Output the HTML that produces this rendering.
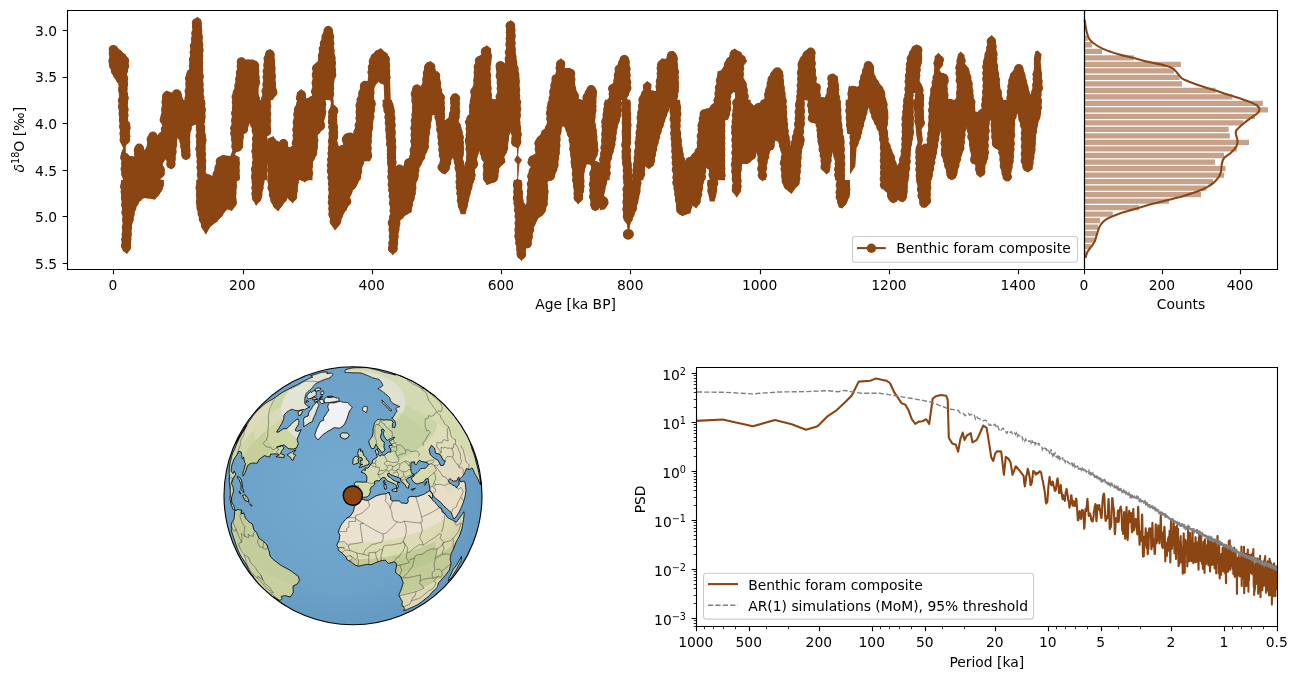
<!DOCTYPE html>
<html><head><meta charset="utf-8"><title>Benthic foram composite dashboard</title>
<style>html,body{margin:0;padding:0;background:#fff;width:1298px;height:679px;overflow:hidden}text{fill:#000}</style>
</head><body><svg width="1298" height="679" viewBox="0 0 1298 679" style="font-family:'DejaVu Sans','Liberation Sans',sans-serif;display:block"><clipPath id="cT"><rect x="60" y="0" width="1100" height="100.0"/></clipPath><clipPath id="cB"><rect x="60" y="180.0" width="1100" height="90.0"/></clipPath><clipPath id="cM"><rect x="60" y="99.7" width="1100" height="80.6"/></clipPath><g clip-path="url(#cT)"><path d="M109.2,49.5L111.6,46.2L114.4,46.2L119.3,49.5L125.0,54.3L128.5,60.1L128.5,67.8L127.0,73.6L127.9,83.2L127.0,90.9L128.5,98.6L127.0,106.3L128.5,114.0L127.9,119.8L130.4,123.6L129.9,133.3L130.4,140.0L119.3,140.0L119.6,125.6L119.3,117.9L120.2,112.1L118.9,106.3L119.3,90.9L118.3,83.2L115.4,79.3L111.6,71.6L109.2,65.9ZM148.2,140.0L148.2,135.2L152.0,131.7L156.8,135.2L158.7,133.3L161.2,125.6L161.6,117.9L162.0,98.6L163.6,92.8L166.4,90.5L172.2,92.8L175.1,89.9L179.9,90.9L182.8,98.6L184.7,102.4L186.3,73.6L189.0,69.7L190.5,48.5L192.1,33.1L193.4,20.6L197.3,16.7L201.1,19.6L202.1,29.3L203.0,48.5L203.0,69.7L204.0,110.2L205.0,117.9L204.0,125.6L205.5,133.3L206.9,140.0ZM231.0,140.0L231.0,125.6L232.9,110.2L232.5,94.7L234.8,87.0L237.1,67.8L237.7,60.1L241.6,57.2L246.4,60.5L252.2,59.7L257.0,62.0L258.9,65.9L259.5,83.2L258.3,90.9L259.5,100.5L261.8,102.4L262.8,87.0L264.1,58.2L266.6,50.4L270.5,49.1L274.3,54.3L275.3,67.8L275.7,83.2L276.2,94.7L272.4,100.5L271.4,133.3L275.3,137.1L275.7,140.0ZM292.6,140.0L293.6,125.6L294.5,108.2L297.4,92.8L301.3,89.0L305.1,92.8L306.1,98.6L311.9,96.7L312.8,67.8L314.8,64.9L317.6,62.0L319.6,48.5L321.5,38.9L324.4,29.3L328.2,25.4L332.1,28.3L333.4,35.0L334.0,48.5L335.4,60.1L335.9,75.5L334.0,81.3L333.1,104.4L337.9,108.2L336.9,117.9L337.9,125.6L336.9,140.0ZM341.7,140.0L343.1,135.2L347.5,133.3L350.0,133.3L350.0,140.0ZM350.0,140.0L350.0,133.3L354.8,131.3L355.8,125.6L355.8,100.5L358.7,94.7L360.6,85.1L364.4,81.3L368.3,81.3L368.3,67.8L370.8,56.2L375.0,52.0L380.8,48.1L385.6,52.4L389.5,57.2L390.1,79.3L390.8,100.5L393.9,106.3L395.3,117.9L395.8,140.0ZM410.7,140.0L411.6,90.9L413.6,86.1L417.4,84.2L421.6,88.0L424.2,67.8L426.7,62.4L430.9,61.0L434.7,65.9L435.7,72.0L439.6,73.6L441.5,90.9L444.4,96.7L444.8,117.9L448.6,116.9L450.2,98.6L452.5,93.8L456.3,93.2L459.8,97.6L458.8,108.2L461.3,125.6L463.6,130.4L464.0,140.0ZM465.2,140.0L464.6,121.7L468.5,116.9L470.4,112.1L471.0,90.9L473.3,86.7L474.2,67.8L476.2,58.2L481.0,55.3L482.5,48.5L486.7,45.2L491.0,48.5L491.6,60.1L490.2,67.8L491.6,96.7L492.9,100.5L496.0,99.6L497.3,90.9L496.4,73.6L496.0,64.9L500.2,61.0L504.1,63.0L505.0,67.8L506.0,48.5L506.6,24.4L510.8,20.0L515.1,24.4L515.3,48.5L517.2,63.9L519.5,77.4L519.9,106.3L520.5,125.6L521.8,140.0ZM536.8,140.0L537.8,135.2L542.6,134.2L544.5,125.6L546.5,112.1L548.4,106.3L550.3,89.0L552.2,77.4L556.1,74.5L557.0,62.0L560.9,58.2L564.8,62.0L564.8,68.7L570.0,67.8L574.4,72.6L575.3,87.0L578.2,94.7L579.2,102.4L579.6,114.0L581.5,110.2L583.1,96.7L587.9,87.0L592.3,85.7L596.5,90.9L596.5,110.2L597.5,123.6L598.8,140.0ZM601.9,140.0L602.3,119.8L604.8,104.4L608.7,100.5L609.2,87.0L613.5,82.2L615.4,67.8L619.3,62.0L620.8,57.2L624.7,54.7L628.9,58.2L629.9,67.8L630.8,89.0L628.9,94.7L627.0,98.6L628.9,102.4L630.8,125.6L631.2,140.0ZM635.6,140.0L637.6,121.7L639.5,96.7L643.3,90.9L642.8,85.1L647.2,80.9L651.6,84.2L651.0,90.9L655.9,90.9L656.8,77.4L657.8,63.9L661.6,58.2L666.4,59.1L668.4,53.3L672.8,50.8L677.0,55.3L678.0,67.8L679.0,87.0L677.0,102.4L676.1,106.3L679.9,112.1L680.9,140.0ZM697.3,140.0L699.2,115.0L704.0,112.1L707.9,107.8L712.7,109.2L714.6,98.6L716.5,83.2L717.5,71.6L722.3,69.7L725.2,62.0L729.4,56.2L731.0,50.4L734.8,48.5L739.1,51.4L743.5,56.2L747.3,61.0L743.5,65.9L743.5,79.3L746.4,83.2L748.3,98.6L749.3,112.1L752.2,105.3L757.9,102.4L763.7,105.3L764.7,94.7L768.5,77.4L773.3,69.7L779.1,67.8L783.0,71.6L783.9,83.2L785.9,98.6L786.4,117.9L787.8,129.4L788.8,140.0ZM793.6,140.0L794.5,117.9L796.5,100.5L797.4,87.0L798.0,62.0L801.3,57.2L805.7,50.4L810.9,47.6L814.8,51.4L815.3,67.8L816.7,83.2L819.6,85.1L820.5,96.7L825.3,97.6L828.2,87.0L828.2,77.4L833.1,73.2L837.9,76.4L838.8,90.9L839.8,106.3L840.8,125.6L842.7,140.0ZM845.6,140.0L846.5,117.9L848.5,87.0L850.0,85.1L850.0,140.0ZM850.0,140.0L850.0,87.0L853.9,86.1L858.7,87.0L860.6,77.4L863.5,67.8L865.4,63.0L869.3,61.6L873.1,64.9L874.7,75.5L877.9,81.3L880.8,85.1L884.7,90.9L885.6,100.5L886.6,110.2L888.1,125.6L889.5,140.0L880.8,140.0L878.9,133.3L875.0,117.9L870.2,110.2L868.3,104.4L865.4,114.0L861.6,125.6L858.7,140.0ZM902.0,140.0L903.0,114.0L904.9,94.7L906.2,67.8L907.8,56.2L912.6,47.6L916.4,44.3L921.6,47.6L922.2,60.1L920.3,67.8L919.7,81.3L922.8,87.0L923.2,92.8L924.2,102.4L924.2,123.6L928.0,123.6L929.4,117.9L929.9,94.7L933.8,75.5L934.7,56.2L938.6,52.8L943.4,58.2L942.4,65.9L939.6,69.7L941.5,73.6L946.3,74.5L948.6,77.4L947.3,87.0L948.2,96.7L949.2,110.2L953.0,108.2L955.9,102.4L956.9,87.0L955.9,67.8L957.9,54.3L960.7,51.4L964.6,55.3L964.6,63.9L968.5,67.8L970.4,75.5L972.3,83.2L973.3,94.7L975.2,106.3L978.1,115.9L981.0,110.2L982.9,90.9L982.9,67.8L983.9,58.2L986.7,48.5L987.7,38.9L991.6,35.0L995.4,38.9L996.4,48.5L997.3,63.9L999.3,77.4L1000.2,87.0L1002.2,96.7L1004.1,106.3L1006.0,110.2L1007.0,96.7L1007.9,87.0L1009.9,75.5L1013.7,69.7L1017.6,64.3L1022.4,65.9L1024.3,71.6L1026.2,79.3L1028.2,87.0L1030.1,94.7L1032.0,90.9L1033.0,83.2L1033.9,67.8L1033.9,58.2L1035.3,51.4L1037.8,50.4L1041.6,54.3L1040.7,62.0L1041.6,71.6L1042.6,87.0L1040.7,96.7L1041.6,110.2L1039.7,125.6L1037.8,140.0Z" fill="#8b4513"/><path d="M374.1,140.0L372.7,106.3L374.7,86.1L378.9,81.6L383.7,85.1L384.3,100.5L385.6,110.2L386.2,140.0ZM616.9,140.0L619.3,117.9L621.6,106.3L622.7,117.9L622.1,140.0ZM728.7,114.0L731.0,94.7L734.8,90.9L735.8,110.2L732.9,117.9ZM807.0,110.2L809.0,98.6L811.9,110.2L810.9,120.7L808.0,121.7ZM913.2,92.8L915.5,91.9L916.4,106.3L915.5,125.6L913.6,129.4L912.6,110.2Z" fill="#fff"/></g><g clip-path="url(#cB)"><path d="M120.8,140.0L120.8,157.3L121.6,170.8L120.8,186.2L121.6,203.6L122.7,220.9L121.6,244.0L122.7,250.7L127.0,254.0L130.8,248.8L131.8,226.7L134.7,211.3L138.5,202.6L142.4,198.7L146.2,197.8L150.5,198.7L154.9,199.7L159.7,193.9L162.6,189.1L163.6,186.2L164.5,168.9L166.4,167.0L171.3,169.3L174.2,161.2L175.1,145.8L177.0,143.9L177.0,140.0ZM130.4,140.0L130.8,149.6L133.7,148.7L136.6,143.9L144.3,143.9L146.2,140.0ZM179.9,140.0L180.9,151.6L182.8,158.3L185.7,159.3L189.0,156.4L189.6,140.0ZM195.9,140.0L196.3,205.5L198.2,214.2L202.1,228.6L205.9,234.8L210.2,226.7L215.6,222.8L219.4,219.0L223.3,214.2L227.1,209.3L231.9,210.9L235.8,205.5L237.7,163.1L239.1,149.6L242.5,147.7L243.5,140.0L232.9,140.0L231.9,156.4L228.1,159.3L224.2,155.0L220.4,157.3L216.5,161.2L214.6,172.7L210.7,175.6L207.5,168.9L206.9,140.0ZM251.2,140.0L252.2,197.8L256.0,205.9L260.8,199.7L263.3,188.2L266.0,163.1L268.5,188.2L269.9,197.8L273.3,206.4L278.2,211.6L283.0,204.5L287.8,197.8L292.6,203.6L296.8,197.8L299.3,174.7L300.3,140.0ZM300.3,140.0L301.3,174.7L304.2,182.8L309.0,178.5L311.9,165.0L313.4,140.0ZM328.2,140.0L328.8,213.2L331.1,224.7L335.0,230.5L339.8,224.7L343.1,215.1L350.0,203.6L350.0,140.0ZM350.0,140.0L350.0,197.8L352.9,190.1L356.7,186.2L359.6,178.5L361.6,165.0L365.4,161.2L370.2,159.3L371.6,151.6L371.2,140.0ZM387.0,140.0L388.5,184.3L390.4,213.2L388.5,222.8L389.5,236.3L388.5,249.8L392.8,255.6L397.2,249.8L398.2,236.3L400.5,219.9L405.9,215.1L411.6,212.2L412.6,203.6L415.5,193.9L416.4,182.4L417.8,174.7L421.3,163.1L426.1,151.6L429.0,145.8L429.0,140.0ZM436.7,140.0L437.6,165.0L440.5,172.7L445.3,174.7L449.2,169.9L450.2,163.1L455.0,163.1L456.3,184.3L457.9,205.5L460.7,214.2L465.6,214.2L467.5,205.5L470.4,193.9L473.3,182.4L475.2,176.6L476.2,165.0L479.0,153.5L481.0,147.7L483.3,143.9L482.9,159.3L483.3,178.5L486.7,185.3L491.6,183.3L497.3,180.4L499.3,167.0L502.2,165.0L505.0,161.2L504.1,155.4L507.9,151.6L509.5,140.0ZM512.2,140.0L513.7,145.8L514.7,159.3L513.7,182.4L513.7,201.6L515.6,217.0L514.7,236.3L517.6,255.6L521.4,261.3L525.3,255.6L526.2,247.9L531.0,245.9L533.9,226.7L537.8,219.0L544.5,213.2L547.4,203.6L548.4,192.0L547.4,182.4L551.3,178.5L554.2,174.7L557.0,167.0L559.0,157.3L560.9,147.7L559.9,140.0ZM570.5,140.0L571.5,168.9L573.4,186.2L574.4,199.7L578.2,204.5L582.1,199.7L584.0,186.2L585.9,165.0L589.8,163.1L589.8,197.8L591.7,209.3L595.6,211.3L600.0,207.4L600.0,140.0ZM600.0,140.0L600.0,210.3L604.8,209.3L608.7,203.6L606.7,197.8L603.9,195.9L607.7,178.5L608.7,159.3L613.5,151.6L616.4,145.8L616.4,140.0ZM621.6,140.0L622.1,155.4L624.1,167.0L624.1,178.5L623.1,197.8L623.1,217.0L627.0,224.7L628.1,230.5L628.9,230.5L630.8,222.8L635.6,211.3L638.5,199.7L640.4,190.1L642.4,168.9L646.2,165.0L650.1,169.9L653.9,163.1L656.8,151.6L659.7,145.8L659.7,140.0ZM672.2,140.0L673.2,182.4L675.1,197.8L677.0,211.3L681.9,216.1L690.5,213.2L692.4,205.5L696.3,208.4L700.2,202.6L702.1,192.0L704.0,178.5L706.9,170.8L707.9,192.0L709.8,201.6L714.6,201.6L716.5,193.9L717.9,178.5L719.4,159.3L721.0,147.7L721.3,140.0ZM731.9,140.0L732.5,168.9L732.9,192.0L736.7,197.8L740.6,192.0L742.1,168.9L744.5,163.1L749.3,164.1L754.1,159.3L757.0,154.4L757.9,163.1L758.9,178.5L762.8,181.4L766.0,176.6L766.6,167.0L769.5,159.3L772.4,147.7L775.3,143.9L775.3,140.0ZM778.2,140.0L780.1,159.3L781.0,178.5L783.9,186.2L787.8,191.0L791.6,193.9L795.5,188.2L799.3,184.3L800.3,168.9L801.3,151.6L805.1,140.0ZM819.6,140.0L821.5,159.3L823.4,170.8L826.9,174.7L830.2,169.9L832.1,155.4L835.0,151.6L836.5,174.7L836.5,197.8L838.8,207.4L842.3,208.4L847.5,201.6L850.0,193.9L850.0,140.0ZM850.0,140.0L850.0,178.5L851.9,170.8L856.7,166.0L854.8,159.3L857.7,151.6L861.6,143.9L861.6,140.0ZM879.3,140.0L880.8,159.3L880.8,186.2L886.6,192.0L888.5,199.7L893.3,203.6L898.2,199.7L903.0,202.6L906.8,197.8L907.8,184.3L908.7,159.3L910.7,147.7L912.6,140.0ZM915.5,140.0L915.5,163.1L918.4,197.8L921.3,207.4L926.1,207.4L930.5,201.6L930.9,178.5L932.8,163.1L936.7,151.6L937.6,140.0ZM940.5,140.0L941.5,151.6L946.3,165.0L948.2,174.7L952.1,180.4L956.9,174.7L958.8,163.1L961.7,155.4L963.6,140.0ZM969.8,140.0L971.3,155.4L976.2,167.0L977.1,174.7L980.6,177.6L984.8,172.7L984.8,163.1L987.7,157.3L988.7,140.0ZM991.6,140.0L992.1,145.8L998.3,149.6L1002.2,168.9L1005.0,178.5L1008.9,181.4L1012.8,176.6L1013.7,159.3L1014.7,140.0ZM1021.4,140.0L1023.3,151.6L1024.3,167.0L1028.2,172.7L1032.0,169.9L1033.9,159.3L1035.9,143.9L1036.4,140.0Z" fill="#8b4513"/><path d="M396.6,140.0L396.2,165.0L401.0,173.7L404.9,161.2L408.7,158.3L410.7,140.0ZM520.5,140.0L521.4,178.5L523.3,201.6L526.2,205.5L528.2,178.5L530.1,165.0L532.0,159.3L534.9,147.7L535.9,140.0ZM682.4,140.0L684.7,165.0L687.6,161.2L694.4,151.6L696.3,140.0ZM887.6,140.0L890.4,153.5L895.3,161.2L897.2,167.0L900.5,159.3L902.0,147.7L901.6,140.0Z" fill="#fff"/></g><g clip-path="url(#cM)"><path d="M119.0,95.0L128.1,95.0L127.8,103.0L128.1,112.2L127.2,120.2L130.2,124.2L129.8,134.8L130.2,140.7L127.2,144.0L125.8,146.0L125.8,153.3L129.8,156.2L134.5,156.6L135.1,148.0L139.1,143.8L143.1,146.0L144.4,150.7L147.1,145.4L147.7,137.4L149.7,133.4L152.8,131.9L155.7,133.4L157.7,135.4L161.0,132.1L162.3,125.5L160.3,121.5L161.6,110.9L162.3,95.0L204.7,95.0L205.4,110.9L205.4,118.9L204.1,124.2L205.4,134.8L206.0,140.1L205.4,150.7L206.0,166.6L205.4,171.9L207.4,174.5L212.7,175.9L215.3,166.6L216.6,160.0L221.3,156.0L225.0,155.3L225.0,185.0L197.4,185.0L197.4,169.2L196.1,148.0L196.8,129.5L195.4,124.2L192.1,125.5L190.1,134.8L190.1,156.0L186.2,160.0L182.2,156.0L180.2,141.4L177.5,137.4L176.2,150.7L174.9,166.6L171.6,169.5L167.6,167.2L166.3,158.6L164.3,161.3L162.3,163.9L164.3,169.2L164.7,174.5L160.3,179.2L159.7,185.0L123.9,185.0L121.9,174.5L121.2,169.2L121.9,161.3L120.9,153.3L123.2,148.0L119.9,141.4L119.9,128.1L119.2,118.9L118.8,110.9L118.6,103.0ZM232.3,95.0L276.0,95.0L275.4,99.0L270.7,100.3L270.7,133.4L267.4,136.1L266.8,145.4L268.7,150.7L267.4,158.6L267.4,185.0L251.5,185.0L251.5,169.2L252.8,161.3L252.2,150.7L252.8,134.8L251.5,126.8L248.9,122.8L247.5,130.8L243.6,134.8L242.9,148.0L239.6,150.7L236.3,152.0L234.9,154.7L239.6,157.3L239.6,185.0L225.0,185.0L225.0,156.0L230.3,156.0L232.3,150.7L231.0,134.8L231.6,121.5L232.3,108.3ZM268.7,138.7L273.4,136.1L275.4,140.1L279.3,142.7L280.7,140.1L284.0,138.7L287.3,142.1L288.6,148.0L292.6,145.4L293.3,121.5L294.6,108.3L297.2,101.6L297.9,95.0L325.7,95.0L325.7,114.9L323.8,121.5L325.1,126.8L320.4,132.1L317.8,134.8L317.8,148.0L316.5,154.7L313.1,161.3L312.5,169.2L312.5,185.0L268.7,185.0L267.4,158.6L268.7,150.7L266.8,145.4ZM328.4,95.0L333.7,95.0L333.7,104.3L337.7,108.3L336.3,117.5L337.7,128.1L337.0,141.4L339.0,146.7L343.0,145.4L342.3,137.4L347.0,133.4L350.0,133.4L350.0,185.0L328.4,185.0L327.7,169.2L328.4,148.0L329.1,128.1L328.4,117.5L329.7,110.9L331.0,103.0ZM357.3,95.0L375.2,95.0L375.2,105.6L373.2,121.5L371.9,134.8L371.2,148.0L371.9,157.3L369.9,161.3L364.6,161.3L362.6,165.3L361.3,174.5L359.3,185.0L350.0,185.0L350.0,133.4L354.0,133.4L356.0,121.5L356.0,108.3ZM381.8,95.0L391.1,95.0L392.4,103.0L394.4,108.3L395.1,121.5L395.7,141.4L395.7,166.6L399.7,165.3L403.7,167.2L405.7,160.0L409.7,157.3L411.0,145.4L411.0,128.1L412.3,108.3L412.3,95.0L444.1,95.0L444.8,108.3L444.8,120.2L448.1,118.9L450.7,108.3L451.4,95.0L460.0,95.0L459.4,103.0L460.0,112.2L458.7,121.5L461.3,126.8L463.3,137.4L464.0,153.3L462.7,158.6L464.7,166.6L466.6,157.3L465.3,141.4L466.6,128.1L464.7,121.5L469.3,114.9L470.0,95.0L475.0,95.0L475.0,185.0L457.4,185.0L456.0,174.5L454.7,163.9L452.7,157.3L450.7,162.6L449.4,169.2L445.4,174.5L441.5,173.2L438.8,169.2L440.1,161.3L438.8,148.0L437.5,134.8L436.8,128.1L434.8,114.9L432.2,114.9L429.5,134.8L428.2,148.0L424.2,158.6L421.6,163.9L418.9,169.2L417.6,185.0L388.4,185.0L387.8,167.9L387.1,148.0L385.8,134.8L385.1,114.9L383.1,105.6ZM475.0,95.0L520.1,95.0L520.7,108.3L520.1,121.5L521.4,134.8L520.7,144.0L518.7,148.0L518.1,156.0L522.1,160.0L519.4,163.9L518.1,179.8L522.1,182.5L520.7,185.0L514.8,185.0L514.8,181.2L517.2,178.5L517.2,163.9L514.1,160.0L517.2,154.7L516.8,148.0L512.8,145.4L511.5,134.8L510.1,129.5L508.8,138.7L507.5,150.7L504.2,157.3L505.5,162.6L501.5,165.3L498.9,169.2L498.2,177.2L496.2,183.1L484.3,185.0L483.0,177.2L483.6,161.3L481.0,157.3L480.3,150.7L479.0,152.0L477.0,158.6L477.7,165.3L475.0,169.2ZM551.2,95.0L595.6,95.0L596.3,108.3L595.0,121.5L597.0,134.8L598.3,150.7L595.0,161.3L600.0,162.6L600.0,185.0L591.6,185.0L589.7,174.5L591.6,165.3L586.3,163.9L584.4,171.9L583.7,185.0L573.1,185.0L572.4,171.9L570.4,154.7L569.1,138.7L565.1,128.1L562.5,125.5L560.5,134.8L559.8,150.7L557.8,166.6L554.5,177.2L549.2,185.0L528.0,185.0L528.0,174.5L530.7,166.6L527.4,162.6L529.3,158.0L535.3,154.7L535.3,141.4L540.0,134.8L545.3,128.1L547.2,121.5L546.6,112.2L547.9,103.0ZM605.3,95.0L621.2,95.0L621.2,114.9L617.2,128.1L614.6,148.0L610.6,161.3L609.3,185.0L600.0,185.0L600.0,158.6L601.3,148.0L602.0,121.5L604.6,103.0ZM621.9,95.0L630.5,95.0L630.5,108.3L631.2,128.1L629.8,148.0L631.8,167.9L631.8,185.0L623.2,185.0L623.9,174.5L622.5,161.3L622.5,141.4L621.9,121.5ZM639.8,95.0L679.5,95.0L680.9,108.3L680.2,128.1L682.2,148.0L684.8,161.3L687.5,158.6L692.8,154.7L696.8,148.0L698.8,121.5L700.7,112.2L708.7,108.3L714.0,103.0L714.0,95.0L725.0,95.0L725.0,185.0L710.0,185.0L708.7,169.2L706.0,166.6L704.7,185.0L673.6,185.0L672.2,161.3L670.9,134.8L670.3,114.9L669.6,106.9L668.9,109.6L663.6,124.2L658.3,141.4L655.7,154.7L653.7,165.3L649.0,169.2L645.1,166.6L644.4,174.5L642.4,185.0L631.8,185.0L633.1,167.9L635.1,148.0L637.1,121.5ZM725.0,95.0L730.3,95.0L731.0,103.0L730.3,112.2L727.7,119.5L725.0,120.2ZM733.0,95.0L750.2,95.0L750.8,103.0L753.5,105.6L759.5,103.0L764.8,97.7L764.8,95.0L786.0,95.0L786.6,108.3L787.3,121.5L788.6,134.8L790.6,145.4L792.6,138.7L794.6,128.1L795.3,114.9L795.9,103.0L796.6,95.0L804.5,95.0L804.5,108.3L804.5,121.5L803.2,134.8L804.5,141.4L801.9,150.7L800.6,167.9L799.2,185.0L782.0,185.0L780.7,161.3L782.0,154.7L778.0,141.4L775.4,140.1L774.0,148.0L770.1,150.7L768.7,157.3L766.1,166.6L766.1,179.8L762.1,181.8L758.8,177.2L758.1,161.3L756.8,150.7L754.2,158.6L747.5,163.9L742.2,163.9L740.9,174.5L740.9,185.0L733.0,185.0L731.6,167.9L732.3,148.0L731.6,128.1L733.0,108.3ZM807.2,95.0L840.3,95.0L841.0,108.3L841.6,121.5L843.0,134.8L844.3,138.7L845.0,185.0L835.0,185.0L835.0,161.3L832.4,150.7L831.0,161.3L829.7,171.9L826.4,174.5L821.8,169.2L820.4,154.7L817.8,141.4L816.5,124.2L809.8,121.5L808.5,110.9L807.8,103.0ZM845.6,95.0L850.0,95.0L850.0,134.8L847.0,133.4L846.3,121.5ZM850.0,95.0L885.8,95.0L888.4,114.9L887.1,128.1L888.4,141.4L893.7,154.7L897.1,166.6L899.7,161.3L901.7,148.0L902.4,114.9L904.3,95.0L913.6,95.0L913.6,134.8L911.0,148.0L908.3,185.0L880.5,185.0L880.5,148.0L879.2,132.1L872.5,118.9L868.6,106.9L864.6,121.5L860.6,137.4L856.6,148.0L855.3,166.6L850.0,174.5ZM913.6,95.0L924.2,95.0L923.6,108.3L924.2,124.2L921.6,129.5L922.9,140.1L921.6,145.4L926.9,144.0L928.2,128.1L929.5,95.0L975.0,95.0L975.0,163.9L972.0,163.3L970.0,148.0L966.6,126.8L965.3,132.1L964.0,148.0L960.0,161.3L956.0,177.8L952.1,179.8L948.1,177.2L945.4,167.9L941.5,154.7L941.5,134.8L940.1,130.8L937.5,148.0L934.8,161.3L930.9,185.0L916.3,185.0L915.6,148.0L917.6,142.7L916.3,134.8L915.0,121.5L914.3,108.3ZM982.3,95.0L1001.5,95.0L1006.8,100.3L1008.1,95.0L1041.3,95.0L1041.9,101.6L1040.6,114.9L1038.0,124.2L1036.0,134.8L1035.3,150.7L1033.3,161.3L1032.7,169.2L1028.0,172.5L1024.0,170.6L1021.4,161.3L1021.4,128.1L1018.7,118.9L1017.4,112.2L1014.8,121.5L1014.1,148.0L1013.4,161.3L1010.8,174.5L1012.1,177.2L1008.8,181.2L1004.2,179.8L1000.8,169.2L998.9,150.7L992.2,145.4L991.6,134.8L990.9,118.9L989.6,121.5L988.3,141.4L988.3,157.3L985.6,163.9L984.3,174.5L980.3,177.8L976.3,174.5L975.0,163.9L975.0,110.9L977.7,112.2L981.6,108.3Z" fill="#8b4513"/></g><circle cx="628.5" cy="234.4" r="4.7" fill="#8b4513"/><path d="M628.5,224V234" stroke="#8b4513" stroke-width="2"/><clipPath id="cA1b"><rect x="67.5" y="10.5" width="1017" height="259"/></clipPath><g clip-path="url(#cA1b)" fill="#8b4513"><circle cx="521.4" cy="254.8" r="4.7"/><circle cx="520.8" cy="249.5" r="4.7"/><circle cx="519.9" cy="243.2" r="4.7"/><circle cx="519.0" cy="236.2" r="4.7"/><circle cx="519.0" cy="229.8" r="4.7"/><circle cx="519.2" cy="223.2" r="4.7"/><circle cx="519.2" cy="216.2" r="4.7"/><circle cx="518.6" cy="210.2" r="4.7"/><circle cx="518.1" cy="203.2" r="4.7"/><circle cx="517.4" cy="198.0" r="4.7"/><circle cx="517.8" cy="191.8" r="4.7"/><circle cx="517.7" cy="184.0" r="4.7"/><circle cx="515.7" cy="142.2" r="4.7"/><circle cx="515.9" cy="139.0" r="4.7"/><circle cx="514.6" cy="131.0" r="4.7"/><circle cx="505.5" cy="132.4" r="4.7"/><circle cx="504.1" cy="139.6" r="4.7"/><circle cx="503.5" cy="147.5" r="4.7"/><circle cx="502.2" cy="151.3" r="4.7"/><circle cx="500.4" cy="160.3" r="4.7"/><circle cx="498.8" cy="161.9" r="4.7"/><circle cx="494.5" cy="170.5" r="4.7"/><circle cx="493.8" cy="175.9" r="4.7"/><circle cx="493.0" cy="178.0" r="4.7"/><circle cx="488.0" cy="178.5" r="4.7"/><circle cx="487.4" cy="174.6" r="4.7"/><circle cx="487.4" cy="166.2" r="4.7"/><circle cx="485.8" cy="157.7" r="4.7"/><circle cx="484.3" cy="152.4" r="4.7"/><circle cx="474.5" cy="151.8" r="4.7"/><circle cx="472.8" cy="156.6" r="4.7"/><circle cx="473.5" cy="164.0" r="4.7"/><circle cx="471.5" cy="166.6" r="4.7"/><circle cx="471.0" cy="175.2" r="4.7"/><circle cx="469.4" cy="180.7" r="4.7"/><circle cx="467.8" cy="186.9" r="4.7"/><circle cx="465.8" cy="193.4" r="4.7"/><circle cx="464.5" cy="199.3" r="4.7"/><circle cx="463.2" cy="205.6" r="4.7"/><circle cx="462.4" cy="205.5" r="4.7"/><circle cx="461.5" cy="200.5" r="4.7"/><circle cx="461.0" cy="193.2" r="4.7"/><circle cx="460.4" cy="187.2" r="4.7"/><circle cx="460.1" cy="182.0" r="4.7"/><circle cx="460.3" cy="175.9" r="4.7"/><circle cx="459.1" cy="167.7" r="4.7"/><circle cx="458.4" cy="161.7" r="4.7"/><circle cx="448.7" cy="155.5" r="4.7"/><circle cx="446.7" cy="162.5" r="4.7"/><circle cx="445.2" cy="167.7" r="4.7"/><circle cx="442.2" cy="167.2" r="4.7"/><circle cx="444.1" cy="162.9" r="4.7"/><circle cx="443.5" cy="155.2" r="4.7"/><circle cx="442.9" cy="149.8" r="4.7"/><circle cx="442.4" cy="143.2" r="4.7"/><circle cx="442.0" cy="137.0" r="4.7"/><circle cx="440.8" cy="129.4" r="4.7"/><circle cx="440.4" cy="123.1" r="4.7"/><circle cx="439.0" cy="117.0" r="4.7"/><circle cx="428.7" cy="112.9" r="4.7"/><circle cx="427.1" cy="119.4" r="4.7"/><circle cx="426.1" cy="126.9" r="4.7"/><circle cx="425.4" cy="132.4" r="4.7"/><circle cx="424.6" cy="140.0" r="4.7"/><circle cx="424.3" cy="146.5" r="4.7"/><circle cx="423.1" cy="149.6" r="4.7"/><circle cx="420.6" cy="156.7" r="4.7"/><circle cx="417.4" cy="162.3" r="4.7"/><circle cx="414.8" cy="170.2" r="4.7"/><circle cx="414.1" cy="175.8" r="4.7"/><circle cx="412.9" cy="179.3" r="4.7"/><circle cx="411.8" cy="188.0" r="4.7"/><circle cx="411.0" cy="193.2" r="4.7"/><circle cx="410.1" cy="197.9" r="4.7"/><circle cx="408.4" cy="204.2" r="4.7"/><circle cx="404.1" cy="211.0" r="4.7"/><circle cx="399.5" cy="215.2" r="4.7"/><circle cx="395.7" cy="223.9" r="4.7"/><circle cx="394.8" cy="229.6" r="4.7"/><circle cx="394.0" cy="236.7" r="4.7"/><circle cx="393.6" cy="243.5" r="4.7"/><circle cx="393.0" cy="248.7" r="4.7"/><circle cx="392.6" cy="248.4" r="4.7"/><circle cx="392.9" cy="243.2" r="4.7"/><circle cx="393.4" cy="236.5" r="4.7"/><circle cx="393.1" cy="229.8" r="4.7"/><circle cx="392.4" cy="222.8" r="4.7"/><circle cx="393.7" cy="217.2" r="4.7"/><circle cx="394.2" cy="210.5" r="4.7"/><circle cx="393.6" cy="203.2" r="4.7"/><circle cx="393.3" cy="196.2" r="4.7"/><circle cx="392.8" cy="190.0" r="4.7"/><circle cx="392.3" cy="184.5" r="4.7"/><circle cx="391.9" cy="177.0" r="4.7"/><circle cx="392.2" cy="171.2" r="4.7"/><circle cx="391.8" cy="163.5" r="4.7"/><circle cx="391.5" cy="157.5" r="4.7"/><circle cx="391.4" cy="150.5" r="4.7"/><circle cx="390.6" cy="144.0" r="4.7"/><circle cx="390.3" cy="137.0" r="4.7"/><circle cx="389.8" cy="129.5" r="4.7"/><circle cx="389.4" cy="123.0" r="4.7"/><circle cx="389.0" cy="117.0" r="4.7"/><circle cx="388.0" cy="110.0" r="4.7"/><circle cx="387.1" cy="105.2" r="4.7"/><circle cx="382.7" cy="79.4" r="4.7"/><circle cx="371.1" cy="83.9" r="4.7"/><circle cx="369.9" cy="92.8" r="4.7"/><circle cx="369.6" cy="97.7" r="4.7"/><circle cx="371.1" cy="104.0" r="4.7"/><circle cx="370.2" cy="110.5" r="4.7"/><circle cx="369.8" cy="116.8" r="4.7"/><circle cx="368.6" cy="121.6" r="4.7"/><circle cx="368.5" cy="127.8" r="4.7"/><circle cx="367.4" cy="135.2" r="4.7"/><circle cx="367.1" cy="141.2" r="4.7"/><circle cx="367.0" cy="148.2" r="4.7"/><circle cx="367.4" cy="155.5" r="4.7"/><circle cx="359.3" cy="162.9" r="4.7"/><circle cx="357.5" cy="171.2" r="4.7"/><circle cx="356.6" cy="176.6" r="4.7"/><circle cx="354.0" cy="181.0" r="4.7"/><circle cx="351.4" cy="185.8" r="4.7"/><circle cx="347.8" cy="191.7" r="4.7"/><circle cx="345.6" cy="198.5" r="4.7"/><circle cx="346.6" cy="201.5" r="4.7"/><circle cx="342.7" cy="207.6" r="4.7"/><circle cx="338.7" cy="214.5" r="4.7"/><circle cx="336.6" cy="221.3" r="4.7"/><circle cx="334.3" cy="221.5" r="4.7"/><circle cx="333.0" cy="214.4" r="4.7"/><circle cx="332.9" cy="208.5" r="4.7"/><circle cx="332.4" cy="202.5" r="4.7"/><circle cx="332.6" cy="197.0" r="4.7"/><circle cx="332.9" cy="189.2" r="4.7"/><circle cx="332.5" cy="183.8" r="4.7"/><circle cx="332.0" cy="177.5" r="4.7"/><circle cx="331.5" cy="171.0" r="4.7"/><circle cx="331.5" cy="165.2" r="4.7"/><circle cx="331.7" cy="159.8" r="4.7"/><circle cx="332.1" cy="153.5" r="4.7"/><circle cx="332.5" cy="148.2" r="4.7"/><circle cx="332.6" cy="141.0" r="4.7"/><circle cx="333.2" cy="133.8" r="4.7"/><circle cx="332.9" cy="127.2" r="4.7"/><circle cx="332.5" cy="121.8" r="4.7"/><circle cx="332.7" cy="116.6" r="4.7"/><circle cx="333.7" cy="111.0" r="4.7"/><circle cx="328.8" cy="95.6" r="4.7"/><circle cx="321.6" cy="104.2" r="4.7"/><circle cx="321.6" cy="112.0" r="4.7"/><circle cx="320.6" cy="116.4" r="4.7"/><circle cx="320.1" cy="124.3" r="4.7"/><circle cx="320.2" cy="126.1" r="4.7"/><circle cx="316.0" cy="130.4" r="4.7"/><circle cx="313.8" cy="140.5" r="4.7"/><circle cx="313.3" cy="146.2" r="4.7"/><circle cx="312.5" cy="153.2" r="4.7"/><circle cx="310.4" cy="157.4" r="4.7"/><circle cx="308.3" cy="165.5" r="4.7"/><circle cx="308.5" cy="173.2" r="4.7"/><circle cx="304.4" cy="176.9" r="4.7"/><circle cx="294.2" cy="181.7" r="4.7"/><circle cx="293.1" cy="190.5" r="4.7"/><circle cx="292.5" cy="196.4" r="4.7"/><circle cx="292.4" cy="196.7" r="4.7"/><circle cx="282.5" cy="198.2" r="4.7"/><circle cx="279.1" cy="202.3" r="4.7"/><circle cx="277.4" cy="204.5" r="4.7"/><circle cx="274.9" cy="200.0" r="4.7"/><circle cx="273.5" cy="194.8" r="4.7"/><circle cx="272.1" cy="187.7" r="4.7"/><circle cx="272.0" cy="180.4" r="4.7"/><circle cx="272.2" cy="176.8" r="4.7"/><circle cx="271.9" cy="169.5" r="4.7"/><circle cx="271.5" cy="161.0" r="4.7"/><circle cx="262.9" cy="164.5" r="4.7"/><circle cx="262.9" cy="171.0" r="4.7"/><circle cx="259.9" cy="181.8" r="4.7"/><circle cx="258.9" cy="187.8" r="4.7"/><circle cx="257.8" cy="194.7" r="4.7"/><circle cx="256.8" cy="197.5" r="4.7"/><circle cx="256.8" cy="198.2" r="4.7"/><circle cx="256.0" cy="193.8" r="4.7"/><circle cx="255.9" cy="187.8" r="4.7"/><circle cx="256.2" cy="182.0" r="4.7"/><circle cx="255.7" cy="176.8" r="4.7"/><circle cx="255.6" cy="169.2" r="4.7"/><circle cx="256.5" cy="163.0" r="4.7"/><circle cx="256.7" cy="156.6" r="4.7"/><circle cx="256.0" cy="151.2" r="4.7"/><circle cx="256.5" cy="145.0" r="4.7"/><circle cx="256.6" cy="139.0" r="4.7"/><circle cx="256.2" cy="130.6" r="4.7"/><circle cx="254.4" cy="123.6" r="4.7"/><circle cx="244.4" cy="124.3" r="4.7"/><circle cx="243.5" cy="129.1" r="4.7"/><circle cx="239.1" cy="137.0" r="4.7"/><circle cx="238.5" cy="144.8" r="4.7"/><circle cx="237.5" cy="147.1" r="4.7"/><circle cx="235.2" cy="163.5" r="4.7"/><circle cx="235.0" cy="171.0" r="4.7"/><circle cx="235.4" cy="177.0" r="4.7"/><circle cx="233.8" cy="177.2" r="4.7"/><circle cx="232.4" cy="186.2" r="4.7"/><circle cx="231.7" cy="193.5" r="4.7"/><circle cx="231.9" cy="199.8" r="4.7"/><circle cx="232.3" cy="202.7" r="4.7"/><circle cx="222.9" cy="207.3" r="4.7"/><circle cx="218.6" cy="213.5" r="4.7"/><circle cx="214.3" cy="217.9" r="4.7"/><circle cx="208.8" cy="222.2" r="4.7"/><circle cx="205.6" cy="225.4" r="4.7"/><circle cx="203.4" cy="218.9" r="4.7"/><circle cx="202.2" cy="213.7" r="4.7"/><circle cx="201.2" cy="208.1" r="4.7"/><circle cx="200.5" cy="202.0" r="4.7"/><circle cx="200.5" cy="194.8" r="4.7"/><circle cx="200.1" cy="187.8" r="4.7"/><circle cx="201.5" cy="174.5" r="4.7"/><circle cx="201.1" cy="167.2" r="4.7"/><circle cx="201.1" cy="161.8" r="4.7"/><circle cx="200.7" cy="154.7" r="4.7"/><circle cx="200.0" cy="149.0" r="4.7"/><circle cx="200.7" cy="141.6" r="4.7"/><circle cx="200.2" cy="135.9" r="4.7"/><circle cx="200.5" cy="127.4" r="4.7"/><circle cx="191.3" cy="121.4" r="4.7"/><circle cx="187.0" cy="128.7" r="4.7"/><circle cx="185.6" cy="135.5" r="4.7"/><circle cx="185.6" cy="142.2" r="4.7"/><circle cx="185.7" cy="149.8" r="4.7"/><circle cx="185.9" cy="155.2" r="4.7"/><circle cx="185.7" cy="151.9" r="4.7"/><circle cx="184.8" cy="146.4" r="4.7"/><circle cx="184.1" cy="141.3" r="4.7"/><circle cx="181.5" cy="135.6" r="4.7"/><circle cx="172.5" cy="144.5" r="4.7"/><circle cx="172.0" cy="152.0" r="4.7"/><circle cx="171.0" cy="159.0" r="4.7"/><circle cx="170.9" cy="164.0" r="4.7"/><circle cx="169.6" cy="156.9" r="4.7"/><circle cx="158.4" cy="163.0" r="4.7"/><circle cx="160.2" cy="169.8" r="4.7"/><circle cx="160.0" cy="173.4" r="4.7"/><circle cx="159.3" cy="183.9" r="4.7"/><circle cx="157.8" cy="188.8" r="4.7"/><circle cx="154.9" cy="192.7" r="4.7"/><circle cx="147.6" cy="194.0" r="4.7"/><circle cx="138.0" cy="197.1" r="4.7"/><circle cx="134.3" cy="202.3" r="4.7"/><circle cx="131.7" cy="207.9" r="4.7"/><circle cx="130.1" cy="214.0" r="4.7"/><circle cx="129.1" cy="219.4" r="4.7"/><circle cx="127.5" cy="227.5" r="4.7"/><circle cx="127.1" cy="234.5" r="4.7"/><circle cx="126.7" cy="239.6" r="4.7"/><circle cx="126.4" cy="247.0" r="4.7"/><circle cx="125.6" cy="245.7" r="4.7"/><circle cx="125.8" cy="239.5" r="4.7"/><circle cx="126.2" cy="234.4" r="4.7"/><circle cx="126.4" cy="227.5" r="4.7"/><circle cx="126.7" cy="220.0" r="4.7"/><circle cx="126.0" cy="212.5" r="4.7"/><circle cx="125.8" cy="205.0" r="4.7"/><circle cx="125.6" cy="197.9" r="4.7"/><circle cx="125.2" cy="191.8" r="4.7"/><circle cx="124.7" cy="186.6" r="4.7"/><circle cx="125.8" cy="173.9" r="4.7"/><circle cx="125.2" cy="169.0" r="4.7"/><circle cx="125.7" cy="163.2" r="4.7"/><circle cx="124.3" cy="139.8" r="4.7"/><circle cx="124.1" cy="133.5" r="4.7"/><circle cx="123.7" cy="126.8" r="4.7"/><circle cx="123.5" cy="120.0" r="4.7"/><circle cx="123.2" cy="114.0" r="4.7"/><circle cx="122.6" cy="106.8" r="4.7"/><circle cx="122.5" cy="100.5" r="4.7"/><circle cx="123.5" cy="94.8" r="4.7"/><circle cx="122.9" cy="88.5" r="4.7"/><circle cx="120.5" cy="79.3" r="4.7"/><circle cx="117.6" cy="74.7" r="4.7"/><circle cx="115.5" cy="70.9" r="4.7"/><circle cx="113.7" cy="65.4" r="4.7"/><circle cx="113.0" cy="61.0" r="4.7"/><circle cx="113.4" cy="53.2" r="4.7"/><circle cx="113.4" cy="49.6" r="4.7"/><circle cx="114.8" cy="51.6" r="4.7"/><circle cx="118.4" cy="54.2" r="4.7"/><circle cx="121.8" cy="57.6" r="4.7"/><circle cx="124.5" cy="60.8" r="4.7"/><circle cx="124.5" cy="66.0" r="4.7"/><circle cx="123.4" cy="70.7" r="4.7"/><circle cx="123.5" cy="78.5" r="4.7"/><circle cx="123.4" cy="84.2" r="4.7"/><circle cx="122.8" cy="90.8" r="4.7"/><circle cx="124.0" cy="98.0" r="4.7"/><circle cx="123.5" cy="102.0" r="4.7"/><circle cx="124.0" cy="109.5" r="4.7"/><circle cx="123.9" cy="115.2" r="4.7"/><circle cx="125.5" cy="124.9" r="4.7"/><circle cx="126.0" cy="128.0" r="4.7"/><circle cx="125.7" cy="136.3" r="4.7"/><circle cx="125.3" cy="139.7" r="4.7"/><circle cx="124.8" cy="157.4" r="4.7"/><circle cx="131.1" cy="160.6" r="4.7"/><circle cx="138.7" cy="154.0" r="4.7"/><circle cx="138.4" cy="150.3" r="4.7"/><circle cx="139.2" cy="148.3" r="4.7"/><circle cx="143.0" cy="154.2" r="4.7"/><circle cx="151.4" cy="145.4" r="4.7"/><circle cx="151.3" cy="139.6" r="4.7"/><circle cx="152.9" cy="136.3" r="4.7"/><circle cx="162.5" cy="136.4" r="4.7"/><circle cx="165.6" cy="129.1" r="4.7"/><circle cx="164.3" cy="119.8" r="4.7"/><circle cx="165.2" cy="116.2" r="4.7"/><circle cx="165.8" cy="109.5" r="4.7"/><circle cx="166.1" cy="102.0" r="4.7"/><circle cx="166.7" cy="96.5" r="4.7"/><circle cx="176.6" cy="94.0" r="4.7"/><circle cx="177.0" cy="94.5" r="4.7"/><circle cx="177.6" cy="97.3" r="4.7"/><circle cx="189.2" cy="98.2" r="4.7"/><circle cx="189.3" cy="91.2" r="4.7"/><circle cx="190.0" cy="83.5" r="4.7"/><circle cx="189.6" cy="78.5" r="4.7"/><circle cx="191.2" cy="73.6" r="4.7"/><circle cx="193.5" cy="65.8" r="4.7"/><circle cx="193.5" cy="59.8" r="4.7"/><circle cx="194.3" cy="52.5" r="4.7"/><circle cx="194.5" cy="46.1" r="4.7"/><circle cx="195.7" cy="38.9" r="4.7"/><circle cx="195.9" cy="33.3" r="4.7"/><circle cx="196.6" cy="26.8" r="4.7"/><circle cx="196.5" cy="22.9" r="4.7"/><circle cx="197.2" cy="23.4" r="4.7"/><circle cx="197.5" cy="30.6" r="4.7"/><circle cx="198.2" cy="37.5" r="4.7"/><circle cx="198.7" cy="44.8" r="4.7"/><circle cx="199.0" cy="50.0" r="4.7"/><circle cx="198.6" cy="55.8" r="4.7"/><circle cx="198.6" cy="62.5" r="4.7"/><circle cx="198.6" cy="69.8" r="4.7"/><circle cx="199.2" cy="76.5" r="4.7"/><circle cx="199.0" cy="84.5" r="4.7"/><circle cx="199.3" cy="90.5" r="4.7"/><circle cx="199.8" cy="97.8" r="4.7"/><circle cx="200.7" cy="103.5" r="4.7"/><circle cx="201.2" cy="109.8" r="4.7"/><circle cx="200.8" cy="116.8" r="4.7"/><circle cx="200.3" cy="121.4" r="4.7"/><circle cx="200.5" cy="129.6" r="4.7"/><circle cx="201.3" cy="135.8" r="4.7"/><circle cx="201.9" cy="140.2" r="4.7"/><circle cx="201.0" cy="148.8" r="4.7"/><circle cx="201.4" cy="154.2" r="4.7"/><circle cx="201.7" cy="161.0" r="4.7"/><circle cx="201.5" cy="168.8" r="4.7"/><circle cx="207.4" cy="178.6" r="4.7"/><circle cx="217.2" cy="174.6" r="4.7"/><circle cx="219.1" cy="168.1" r="4.7"/><circle cx="220.4" cy="161.3" r="4.7"/><circle cx="223.4" cy="159.7" r="4.7"/><circle cx="227.2" cy="160.3" r="4.7"/><circle cx="235.9" cy="146.5" r="4.7"/><circle cx="235.8" cy="139.5" r="4.7"/><circle cx="234.8" cy="133.5" r="4.7"/><circle cx="234.8" cy="128.2" r="4.7"/><circle cx="235.7" cy="120.5" r="4.7"/><circle cx="235.7" cy="113.2" r="4.7"/><circle cx="236.5" cy="108.0" r="4.7"/><circle cx="236.4" cy="102.2" r="4.7"/><circle cx="236.2" cy="97.0" r="4.7"/><circle cx="237.3" cy="92.8" r="4.7"/><circle cx="238.9" cy="85.7" r="4.7"/><circle cx="239.8" cy="79.1" r="4.7"/><circle cx="240.5" cy="72.8" r="4.7"/><circle cx="241.3" cy="66.0" r="4.7"/><circle cx="241.4" cy="61.9" r="4.7"/><circle cx="248.2" cy="64.0" r="4.7"/><circle cx="251.9" cy="64.2" r="4.7"/><circle cx="254.4" cy="65.3" r="4.7"/><circle cx="254.7" cy="71.0" r="4.7"/><circle cx="255.0" cy="77.5" r="4.7"/><circle cx="255.5" cy="82.4" r="4.7"/><circle cx="253.8" cy="91.0" r="4.7"/><circle cx="255.2" cy="98.2" r="4.7"/><circle cx="265.7" cy="98.7" r="4.7"/><circle cx="266.1" cy="91.3" r="4.7"/><circle cx="267.0" cy="84.2" r="4.7"/><circle cx="267.2" cy="77.0" r="4.7"/><circle cx="267.3" cy="71.5" r="4.7"/><circle cx="267.9" cy="65.0" r="4.7"/><circle cx="268.2" cy="58.8" r="4.7"/><circle cx="269.8" cy="54.4" r="4.7"/><circle cx="269.9" cy="54.8" r="4.7"/><circle cx="270.4" cy="60.8" r="4.7"/><circle cx="270.8" cy="68.2" r="4.7"/><circle cx="271.2" cy="76.2" r="4.7"/><circle cx="271.4" cy="84.0" r="4.7"/><circle cx="272.0" cy="89.8" r="4.7"/><circle cx="272.8" cy="92.5" r="4.7"/><circle cx="267.7" cy="97.1" r="4.7"/><circle cx="266.6" cy="106.2" r="4.7"/><circle cx="266.7" cy="114.0" r="4.7"/><circle cx="266.6" cy="120.8" r="4.7"/><circle cx="266.3" cy="128.2" r="4.7"/><circle cx="266.6" cy="131.4" r="4.7"/><circle cx="262.9" cy="139.7" r="4.7"/><circle cx="271.2" cy="143.8" r="4.7"/><circle cx="271.7" cy="141.9" r="4.7"/><circle cx="276.0" cy="145.3" r="4.7"/><circle cx="283.5" cy="143.8" r="4.7"/><circle cx="287.3" cy="151.5" r="4.7"/><circle cx="296.4" cy="143.0" r="4.7"/><circle cx="297.2" cy="135.2" r="4.7"/><circle cx="296.9" cy="129.7" r="4.7"/><circle cx="297.3" cy="122.4" r="4.7"/><circle cx="297.9" cy="114.2" r="4.7"/><circle cx="298.6" cy="109.5" r="4.7"/><circle cx="301.1" cy="103.3" r="4.7"/><circle cx="300.7" cy="97.9" r="4.7"/><circle cx="301.3" cy="94.9" r="4.7"/><circle cx="301.7" cy="98.6" r="4.7"/><circle cx="312.6" cy="100.5" r="4.7"/><circle cx="315.6" cy="91.5" r="4.7"/><circle cx="316.2" cy="83.1" r="4.7"/><circle cx="316.4" cy="74.8" r="4.7"/><circle cx="316.7" cy="68.2" r="4.7"/><circle cx="319.5" cy="65.9" r="4.7"/><circle cx="322.5" cy="55.8" r="4.7"/><circle cx="323.3" cy="49.0" r="4.7"/><circle cx="324.5" cy="43.4" r="4.7"/><circle cx="326.1" cy="36.7" r="4.7"/><circle cx="328.2" cy="30.7" r="4.7"/><circle cx="328.4" cy="32.3" r="4.7"/><circle cx="329.6" cy="36.8" r="4.7"/><circle cx="329.8" cy="43.5" r="4.7"/><circle cx="329.9" cy="50.2" r="4.7"/><circle cx="331.0" cy="58.0" r="4.7"/><circle cx="331.4" cy="63.0" r="4.7"/><circle cx="331.3" cy="70.0" r="4.7"/><circle cx="331.7" cy="74.9" r="4.7"/><circle cx="329.8" cy="81.5" r="4.7"/><circle cx="329.5" cy="88.2" r="4.7"/><circle cx="329.5" cy="94.0" r="4.7"/><circle cx="332.8" cy="112.4" r="4.7"/><circle cx="332.7" cy="121.6" r="4.7"/><circle cx="333.3" cy="126.6" r="4.7"/><circle cx="333.5" cy="132.2" r="4.7"/><circle cx="333.5" cy="137.0" r="4.7"/><circle cx="333.5" cy="144.9" r="4.7"/><circle cx="342.5" cy="149.6" r="4.7"/><circle cx="346.5" cy="139.7" r="4.7"/><circle cx="347.4" cy="138.0" r="4.7"/><circle cx="350.0" cy="137.3" r="4.7"/><circle cx="358.0" cy="132.4" r="4.7"/><circle cx="359.3" cy="125.3" r="4.7"/><circle cx="360.1" cy="118.2" r="4.7"/><circle cx="360.2" cy="112.0" r="4.7"/><circle cx="360.1" cy="105.5" r="4.7"/><circle cx="362.8" cy="93.6" r="4.7"/><circle cx="364.5" cy="86.6" r="4.7"/><circle cx="365.0" cy="85.5" r="4.7"/><circle cx="372.5" cy="78.5" r="4.7"/><circle cx="372.1" cy="72.2" r="4.7"/><circle cx="372.5" cy="67.3" r="4.7"/><circle cx="373.4" cy="61.6" r="4.7"/><circle cx="375.3" cy="57.6" r="4.7"/><circle cx="378.6" cy="54.4" r="4.7"/><circle cx="383.6" cy="56.6" r="4.7"/><circle cx="385.0" cy="59.2" r="4.7"/><circle cx="385.5" cy="65.2" r="4.7"/><circle cx="385.6" cy="71.0" r="4.7"/><circle cx="385.9" cy="77.2" r="4.7"/><circle cx="388.9" cy="105.4" r="4.7"/><circle cx="390.1" cy="111.5" r="4.7"/><circle cx="390.9" cy="118.6" r="4.7"/><circle cx="391.1" cy="125.0" r="4.7"/><circle cx="391.1" cy="132.5" r="4.7"/><circle cx="391.5" cy="141.1" r="4.7"/><circle cx="391.8" cy="147.5" r="4.7"/><circle cx="391.4" cy="154.0" r="4.7"/><circle cx="391.8" cy="161.8" r="4.7"/><circle cx="399.5" cy="169.3" r="4.7"/><circle cx="407.8" cy="167.0" r="4.7"/><circle cx="408.7" cy="163.1" r="4.7"/><circle cx="413.8" cy="157.2" r="4.7"/><circle cx="414.3" cy="150.2" r="4.7"/><circle cx="414.9" cy="141.2" r="4.7"/><circle cx="415.1" cy="135.0" r="4.7"/><circle cx="415.0" cy="128.2" r="4.7"/><circle cx="415.4" cy="120.8" r="4.7"/><circle cx="416.1" cy="114.5" r="4.7"/><circle cx="416.5" cy="107.8" r="4.7"/><circle cx="416.0" cy="101.0" r="4.7"/><circle cx="415.4" cy="94.0" r="4.7"/><circle cx="416.9" cy="89.1" r="4.7"/><circle cx="425.3" cy="87.2" r="4.7"/><circle cx="426.9" cy="79.0" r="4.7"/><circle cx="427.4" cy="73.5" r="4.7"/><circle cx="428.7" cy="67.3" r="4.7"/><circle cx="430.7" cy="66.9" r="4.7"/><circle cx="431.2" cy="71.0" r="4.7"/><circle cx="435.6" cy="75.8" r="4.7"/><circle cx="436.4" cy="83.3" r="4.7"/><circle cx="437.5" cy="91.0" r="4.7"/><circle cx="440.2" cy="97.3" r="4.7"/><circle cx="440.0" cy="102.8" r="4.7"/><circle cx="440.4" cy="108.8" r="4.7"/><circle cx="440.5" cy="115.5" r="4.7"/><circle cx="449.7" cy="122.5" r="4.7"/><circle cx="453.5" cy="114.9" r="4.7"/><circle cx="454.7" cy="108.0" r="4.7"/><circle cx="454.7" cy="102.5" r="4.7"/><circle cx="454.6" cy="99.0" r="4.7"/><circle cx="455.4" cy="98.2" r="4.7"/><circle cx="455.3" cy="103.8" r="4.7"/><circle cx="455.5" cy="111.2" r="4.7"/><circle cx="455.0" cy="117.0" r="4.7"/><circle cx="456.3" cy="126.4" r="4.7"/><circle cx="458.0" cy="132.3" r="4.7"/><circle cx="459.2" cy="137.2" r="4.7"/><circle cx="459.3" cy="143.0" r="4.7"/><circle cx="459.5" cy="148.5" r="4.7"/><circle cx="458.8" cy="155.4" r="4.7"/><circle cx="459.4" cy="162.7" r="4.7"/><circle cx="469.2" cy="164.8" r="4.7"/><circle cx="470.6" cy="157.0" r="4.7"/><circle cx="470.1" cy="149.2" r="4.7"/><circle cx="469.4" cy="140.7" r="4.7"/><circle cx="470.3" cy="134.8" r="4.7"/><circle cx="470.2" cy="128.8" r="4.7"/><circle cx="471.0" cy="118.8" r="4.7"/><circle cx="473.7" cy="111.5" r="4.7"/><circle cx="473.6" cy="106.6" r="4.7"/><circle cx="474.9" cy="99.0" r="4.7"/><circle cx="474.8" cy="91.8" r="4.7"/><circle cx="477.0" cy="88.0" r="4.7"/><circle cx="477.9" cy="80.6" r="4.7"/><circle cx="478.2" cy="72.2" r="4.7"/><circle cx="478.3" cy="67.1" r="4.7"/><circle cx="479.5" cy="60.8" r="4.7"/><circle cx="482.1" cy="59.5" r="4.7"/><circle cx="485.5" cy="51.5" r="4.7"/><circle cx="487.4" cy="56.3" r="4.7"/><circle cx="486.6" cy="63.0" r="4.7"/><circle cx="486.0" cy="68.5" r="4.7"/><circle cx="486.5" cy="75.5" r="4.7"/><circle cx="486.5" cy="81.5" r="4.7"/><circle cx="487.0" cy="88.3" r="4.7"/><circle cx="487.3" cy="95.0" r="4.7"/><circle cx="493.8" cy="103.6" r="4.7"/><circle cx="500.2" cy="96.8" r="4.7"/><circle cx="501.3" cy="88.5" r="4.7"/><circle cx="501.3" cy="83.0" r="4.7"/><circle cx="500.3" cy="75.8" r="4.7"/><circle cx="500.5" cy="68.5" r="4.7"/><circle cx="500.2" cy="66.1" r="4.7"/><circle cx="500.6" cy="65.9" r="4.7"/><circle cx="508.9" cy="65.0" r="4.7"/><circle cx="509.3" cy="59.0" r="4.7"/><circle cx="509.5" cy="52.3" r="4.7"/><circle cx="510.0" cy="44.6" r="4.7"/><circle cx="510.3" cy="38.5" r="4.7"/><circle cx="510.4" cy="32.5" r="4.7"/><circle cx="510.2" cy="25.8" r="4.7"/><circle cx="510.5" cy="25.9" r="4.7"/><circle cx="510.8" cy="30.0" r="4.7"/><circle cx="511.1" cy="36.0" r="4.7"/><circle cx="510.9" cy="43.2" r="4.7"/><circle cx="511.2" cy="49.3" r="4.7"/><circle cx="511.7" cy="56.6" r="4.7"/><circle cx="512.6" cy="62.4" r="4.7"/><circle cx="514.0" cy="69.1" r="4.7"/><circle cx="514.7" cy="74.5" r="4.7"/><circle cx="515.1" cy="81.5" r="4.7"/><circle cx="515.6" cy="89.8" r="4.7"/><circle cx="515.6" cy="95.8" r="4.7"/><circle cx="516.5" cy="102.2" r="4.7"/><circle cx="516.6" cy="109.0" r="4.7"/><circle cx="516.3" cy="115.5" r="4.7"/><circle cx="515.8" cy="122.5" r="4.7"/><circle cx="516.4" cy="127.8" r="4.7"/><circle cx="517.1" cy="134.2" r="4.7"/><circle cx="516.7" cy="141.8" r="4.7"/><circle cx="517.6" cy="185.2" r="4.7"/><circle cx="518.5" cy="193.0" r="4.7"/><circle cx="518.9" cy="200.5" r="4.7"/><circle cx="529.6" cy="207.0" r="4.7"/><circle cx="531.0" cy="197.8" r="4.7"/><circle cx="531.5" cy="191.2" r="4.7"/><circle cx="531.5" cy="184.0" r="4.7"/><circle cx="531.8" cy="176.2" r="4.7"/><circle cx="533.3" cy="171.6" r="4.7"/><circle cx="532.3" cy="162.2" r="4.7"/><circle cx="532.8" cy="160.0" r="4.7"/><circle cx="536.7" cy="158.1" r="4.7"/><circle cx="539.3" cy="149.0" r="4.7"/><circle cx="539.0" cy="143.2" r="4.7"/><circle cx="540.8" cy="140.4" r="4.7"/><circle cx="545.6" cy="133.6" r="4.7"/><circle cx="549.5" cy="128.4" r="4.7"/><circle cx="550.8" cy="118.8" r="4.7"/><circle cx="550.6" cy="113.2" r="4.7"/><circle cx="551.2" cy="108.0" r="4.7"/><circle cx="552.0" cy="103.9" r="4.7"/><circle cx="553.2" cy="98.8" r="4.7"/><circle cx="553.8" cy="92.1" r="4.7"/><circle cx="555.0" cy="85.4" r="4.7"/><circle cx="556.1" cy="78.9" r="4.7"/><circle cx="560.1" cy="73.8" r="4.7"/><circle cx="560.2" cy="68.0" r="4.7"/><circle cx="560.7" cy="64.1" r="4.7"/><circle cx="565.8" cy="72.6" r="4.7"/><circle cx="570.6" cy="73.5" r="4.7"/><circle cx="570.8" cy="79.8" r="4.7"/><circle cx="571.5" cy="88.5" r="4.7"/><circle cx="574.3" cy="96.1" r="4.7"/><circle cx="578.4" cy="103.5" r="4.7"/><circle cx="587.1" cy="97.6" r="4.7"/><circle cx="589.2" cy="93.4" r="4.7"/><circle cx="591.2" cy="89.8" r="4.7"/><circle cx="592.4" cy="92.0" r="4.7"/><circle cx="592.1" cy="95.0" r="4.7"/><circle cx="591.9" cy="101.9" r="4.7"/><circle cx="591.8" cy="106.0" r="4.7"/><circle cx="591.8" cy="110.6" r="4.7"/><circle cx="590.8" cy="117.1" r="4.7"/><circle cx="591.2" cy="125.3" r="4.7"/><circle cx="592.2" cy="130.8" r="4.7"/><circle cx="592.7" cy="136.8" r="4.7"/><circle cx="593.2" cy="143.5" r="4.7"/><circle cx="593.8" cy="150.2" r="4.7"/><circle cx="593.1" cy="153.9" r="4.7"/><circle cx="603.7" cy="159.8" r="4.7"/><circle cx="604.7" cy="153.8" r="4.7"/><circle cx="605.0" cy="147.8" r="4.7"/><circle cx="605.7" cy="140.5" r="4.7"/><circle cx="605.9" cy="134.0" r="4.7"/><circle cx="606.1" cy="126.2" r="4.7"/><circle cx="605.8" cy="121.7" r="4.7"/><circle cx="607.2" cy="114.5" r="4.7"/><circle cx="607.9" cy="109.2" r="4.7"/><circle cx="608.4" cy="104.3" r="4.7"/><circle cx="611.9" cy="101.5" r="4.7"/><circle cx="613.3" cy="93.8" r="4.7"/><circle cx="612.7" cy="88.7" r="4.7"/><circle cx="618.0" cy="80.8" r="4.7"/><circle cx="618.5" cy="75.2" r="4.7"/><circle cx="619.2" cy="69.4" r="4.7"/><circle cx="622.7" cy="63.4" r="4.7"/><circle cx="624.4" cy="59.8" r="4.7"/><circle cx="624.2" cy="59.9" r="4.7"/><circle cx="625.2" cy="62.0" r="4.7"/><circle cx="626.0" cy="69.0" r="4.7"/><circle cx="626.0" cy="75.2" r="4.7"/><circle cx="626.6" cy="82.2" r="4.7"/><circle cx="626.8" cy="88.1" r="4.7"/><circle cx="624.4" cy="93.5" r="4.7"/><circle cx="626.0" cy="106.0" r="4.7"/><circle cx="626.5" cy="113.8" r="4.7"/><circle cx="626.6" cy="118.8" r="4.7"/><circle cx="626.9" cy="125.0" r="4.7"/><circle cx="626.3" cy="131.9" r="4.7"/><circle cx="626.5" cy="138.1" r="4.7"/><circle cx="625.8" cy="145.0" r="4.7"/><circle cx="626.1" cy="152.0" r="4.7"/><circle cx="626.4" cy="158.2" r="4.7"/><circle cx="627.2" cy="165.0" r="4.7"/><circle cx="627.7" cy="171.0" r="4.7"/><circle cx="627.5" cy="178.2" r="4.7"/><circle cx="636.6" cy="175.8" r="4.7"/><circle cx="637.1" cy="170.0" r="4.7"/><circle cx="637.5" cy="164.8" r="4.7"/><circle cx="638.3" cy="158.1" r="4.7"/><circle cx="638.7" cy="151.5" r="4.7"/><circle cx="639.2" cy="143.0" r="4.7"/><circle cx="640.0" cy="138.1" r="4.7"/><circle cx="640.2" cy="132.9" r="4.7"/><circle cx="640.9" cy="126.0" r="4.7"/><circle cx="641.2" cy="117.8" r="4.7"/><circle cx="641.8" cy="112.9" r="4.7"/><circle cx="642.6" cy="106.0" r="4.7"/><circle cx="643.0" cy="100.0" r="4.7"/><circle cx="645.6" cy="94.3" r="4.7"/><circle cx="652.0" cy="95.0" r="4.7"/><circle cx="660.1" cy="86.8" r="4.7"/><circle cx="660.5" cy="81.2" r="4.7"/><circle cx="661.3" cy="73.8" r="4.7"/><circle cx="661.3" cy="68.2" r="4.7"/><circle cx="661.7" cy="64.8" r="4.7"/><circle cx="671.0" cy="58.4" r="4.7"/><circle cx="671.6" cy="55.7" r="4.7"/><circle cx="671.9" cy="56.0" r="4.7"/><circle cx="673.2" cy="58.8" r="4.7"/><circle cx="673.3" cy="64.8" r="4.7"/><circle cx="674.5" cy="72.0" r="4.7"/><circle cx="674.1" cy="77.2" r="4.7"/><circle cx="674.3" cy="83.2" r="4.7"/><circle cx="674.2" cy="90.8" r="4.7"/><circle cx="673.5" cy="95.6" r="4.7"/><circle cx="676.5" cy="107.8" r="4.7"/><circle cx="676.8" cy="114.0" r="4.7"/><circle cx="676.1" cy="120.2" r="4.7"/><circle cx="676.0" cy="126.0" r="4.7"/><circle cx="676.5" cy="133.2" r="4.7"/><circle cx="677.2" cy="140.5" r="4.7"/><circle cx="678.1" cy="148.9" r="4.7"/><circle cx="679.0" cy="154.3" r="4.7"/><circle cx="680.5" cy="160.1" r="4.7"/><circle cx="689.9" cy="161.6" r="4.7"/><circle cx="695.4" cy="157.2" r="4.7"/><circle cx="699.2" cy="151.9" r="4.7"/><circle cx="701.3" cy="143.0" r="4.7"/><circle cx="701.4" cy="136.0" r="4.7"/><circle cx="702.2" cy="129.8" r="4.7"/><circle cx="702.1" cy="125.5" r="4.7"/><circle cx="703.4" cy="118.8" r="4.7"/><circle cx="704.2" cy="114.0" r="4.7"/><circle cx="707.7" cy="112.9" r="4.7"/><circle cx="714.6" cy="108.0" r="4.7"/><circle cx="718.1" cy="100.6" r="4.7"/><circle cx="719.0" cy="93.8" r="4.7"/><circle cx="719.5" cy="87.7" r="4.7"/><circle cx="720.5" cy="80.6" r="4.7"/><circle cx="725.8" cy="71.5" r="4.7"/><circle cx="728.5" cy="64.9" r="4.7"/><circle cx="730.1" cy="61.7" r="4.7"/><circle cx="734.2" cy="54.8" r="4.7"/><circle cx="737.7" cy="55.6" r="4.7"/><circle cx="741.3" cy="59.6" r="4.7"/><circle cx="739.5" cy="68.5" r="4.7"/><circle cx="739.2" cy="74.2" r="4.7"/><circle cx="740.5" cy="81.7" r="4.7"/><circle cx="742.0" cy="84.5" r="4.7"/><circle cx="743.2" cy="90.0" r="4.7"/><circle cx="744.1" cy="96.3" r="4.7"/><circle cx="749.1" cy="107.3" r="4.7"/><circle cx="759.1" cy="107.4" r="4.7"/><circle cx="764.7" cy="103.6" r="4.7"/><circle cx="768.7" cy="94.8" r="4.7"/><circle cx="769.8" cy="90.3" r="4.7"/><circle cx="771.3" cy="83.8" r="4.7"/><circle cx="772.2" cy="79.4" r="4.7"/><circle cx="774.6" cy="75.1" r="4.7"/><circle cx="776.8" cy="72.9" r="4.7"/><circle cx="777.4" cy="72.0" r="4.7"/><circle cx="778.8" cy="75.8" r="4.7"/><circle cx="779.3" cy="81.2" r="4.7"/><circle cx="780.0" cy="87.8" r="4.7"/><circle cx="780.9" cy="93.8" r="4.7"/><circle cx="782.2" cy="101.1" r="4.7"/><circle cx="782.2" cy="107.2" r="4.7"/><circle cx="782.7" cy="113.0" r="4.7"/><circle cx="782.9" cy="119.6" r="4.7"/><circle cx="783.5" cy="124.5" r="4.7"/><circle cx="784.1" cy="131.2" r="4.7"/><circle cx="785.0" cy="137.3" r="4.7"/><circle cx="785.9" cy="142.6" r="4.7"/><circle cx="795.5" cy="142.8" r="4.7"/><circle cx="796.5" cy="137.2" r="4.7"/><circle cx="797.9" cy="132.1" r="4.7"/><circle cx="798.6" cy="124.0" r="4.7"/><circle cx="799.3" cy="118.8" r="4.7"/><circle cx="799.2" cy="112.0" r="4.7"/><circle cx="799.7" cy="105.4" r="4.7"/><circle cx="800.8" cy="96.8" r="4.7"/><circle cx="801.2" cy="91.6" r="4.7"/><circle cx="801.3" cy="85.5" r="4.7"/><circle cx="801.8" cy="78.9" r="4.7"/><circle cx="801.6" cy="72.8" r="4.7"/><circle cx="802.2" cy="64.8" r="4.7"/><circle cx="804.1" cy="60.1" r="4.7"/><circle cx="807.0" cy="55.3" r="4.7"/><circle cx="810.7" cy="52.2" r="4.7"/><circle cx="810.9" cy="53.5" r="4.7"/><circle cx="810.6" cy="57.2" r="4.7"/><circle cx="811.2" cy="63.5" r="4.7"/><circle cx="811.4" cy="70.8" r="4.7"/><circle cx="812.2" cy="78.2" r="4.7"/><circle cx="816.2" cy="87.6" r="4.7"/><circle cx="815.7" cy="90.4" r="4.7"/><circle cx="816.2" cy="95.6" r="4.7"/><circle cx="829.7" cy="97.6" r="4.7"/><circle cx="831.2" cy="90.4" r="4.7"/><circle cx="832.2" cy="83.5" r="4.7"/><circle cx="831.9" cy="78.5" r="4.7"/><circle cx="834.3" cy="85.5" r="4.7"/><circle cx="834.6" cy="89.8" r="4.7"/><circle cx="835.4" cy="97.3" r="4.7"/><circle cx="836.3" cy="102.8" r="4.7"/><circle cx="836.8" cy="110.0" r="4.7"/><circle cx="836.8" cy="117.4" r="4.7"/><circle cx="837.8" cy="125.5" r="4.7"/><circle cx="838.6" cy="131.5" r="4.7"/><circle cx="839.4" cy="137.8" r="4.7"/><circle cx="839.9" cy="141.8" r="4.7"/><circle cx="840.2" cy="149.5" r="4.7"/><circle cx="840.5" cy="157.2" r="4.7"/><circle cx="840.7" cy="164.0" r="4.7"/><circle cx="840.3" cy="170.0" r="4.7"/><circle cx="840.3" cy="176.0" r="4.7"/><circle cx="845.7" cy="189.2" r="4.7"/><circle cx="845.1" cy="195.5" r="4.7"/><circle cx="842.5" cy="201.5" r="4.7"/><circle cx="841.8" cy="202.0" r="4.7"/><circle cx="840.3" cy="197.0" r="4.7"/><circle cx="840.2" cy="192.2" r="4.7"/><circle cx="840.3" cy="185.0" r="4.7"/><circle cx="838.8" cy="175.0" r="4.7"/><circle cx="838.7" cy="169.2" r="4.7"/><circle cx="839.2" cy="163.8" r="4.7"/><circle cx="838.0" cy="156.1" r="4.7"/><circle cx="836.6" cy="150.9" r="4.7"/><circle cx="827.6" cy="154.2" r="4.7"/><circle cx="827.0" cy="160.5" r="4.7"/><circle cx="825.8" cy="166.9" r="4.7"/><circle cx="825.1" cy="166.7" r="4.7"/><circle cx="825.1" cy="160.7" r="4.7"/><circle cx="824.3" cy="155.2" r="4.7"/><circle cx="823.2" cy="149.4" r="4.7"/><circle cx="822.2" cy="141.6" r="4.7"/><circle cx="821.5" cy="136.0" r="4.7"/><circle cx="821.1" cy="130.2" r="4.7"/><circle cx="820.2" cy="124.8" r="4.7"/><circle cx="812.5" cy="118.2" r="4.7"/><circle cx="813.1" cy="116.5" r="4.7"/><circle cx="812.5" cy="110.8" r="4.7"/><circle cx="811.7" cy="105.2" r="4.7"/><circle cx="806.8" cy="95.9" r="4.7"/><circle cx="800.1" cy="103.5" r="4.7"/><circle cx="800.4" cy="111.0" r="4.7"/><circle cx="800.2" cy="118.0" r="4.7"/><circle cx="800.3" cy="123.7" r="4.7"/><circle cx="799.5" cy="131.7" r="4.7"/><circle cx="800.0" cy="139.6" r="4.7"/><circle cx="799.1" cy="143.9" r="4.7"/><circle cx="797.4" cy="151.5" r="4.7"/><circle cx="796.9" cy="158.0" r="4.7"/><circle cx="796.8" cy="165.5" r="4.7"/><circle cx="796.2" cy="171.8" r="4.7"/><circle cx="795.8" cy="178.5" r="4.7"/><circle cx="794.9" cy="182.5" r="4.7"/><circle cx="788.2" cy="185.4" r="4.7"/><circle cx="786.4" cy="181.3" r="4.7"/><circle cx="785.8" cy="176.0" r="4.7"/><circle cx="785.1" cy="169.0" r="4.7"/><circle cx="784.5" cy="162.9" r="4.7"/><circle cx="785.4" cy="157.6" r="4.7"/><circle cx="785.0" cy="150.1" r="4.7"/><circle cx="783.6" cy="145.4" r="4.7"/><circle cx="778.3" cy="136.9" r="4.7"/><circle cx="769.9" cy="145.9" r="4.7"/><circle cx="765.8" cy="150.2" r="4.7"/><circle cx="764.6" cy="156.5" r="4.7"/><circle cx="763.0" cy="162.4" r="4.7"/><circle cx="761.8" cy="168.8" r="4.7"/><circle cx="762.4" cy="175.2" r="4.7"/><circle cx="762.5" cy="168.0" r="4.7"/><circle cx="761.9" cy="160.2" r="4.7"/><circle cx="760.9" cy="151.7" r="4.7"/><circle cx="751.8" cy="152.7" r="4.7"/><circle cx="751.6" cy="155.1" r="4.7"/><circle cx="747.3" cy="158.7" r="4.7"/><circle cx="741.9" cy="159.3" r="4.7"/><circle cx="737.0" cy="169.5" r="4.7"/><circle cx="736.5" cy="175.5" r="4.7"/><circle cx="736.9" cy="180.5" r="4.7"/><circle cx="736.5" cy="186.9" r="4.7"/><circle cx="736.4" cy="189.7" r="4.7"/><circle cx="737.0" cy="186.2" r="4.7"/><circle cx="736.3" cy="178.8" r="4.7"/><circle cx="735.8" cy="171.5" r="4.7"/><circle cx="735.5" cy="164.5" r="4.7"/><circle cx="736.2" cy="159.0" r="4.7"/><circle cx="735.9" cy="152.8" r="4.7"/><circle cx="736.2" cy="146.0" r="4.7"/><circle cx="735.9" cy="140.0" r="4.7"/><circle cx="735.7" cy="132.5" r="4.7"/><circle cx="735.8" cy="127.0" r="4.7"/><circle cx="736.2" cy="122.1" r="4.7"/><circle cx="736.4" cy="115.2" r="4.7"/><circle cx="737.1" cy="110.6" r="4.7"/><circle cx="736.8" cy="103.0" r="4.7"/><circle cx="739.5" cy="98.8" r="4.7"/><circle cx="738.4" cy="90.0" r="4.7"/><circle cx="726.6" cy="96.2" r="4.7"/><circle cx="726.5" cy="103.2" r="4.7"/><circle cx="726.5" cy="108.8" r="4.7"/><circle cx="725.4" cy="113.4" r="4.7"/><circle cx="724.6" cy="115.9" r="4.7"/><circle cx="720.8" cy="124.8" r="4.7"/><circle cx="720.7" cy="131.2" r="4.7"/><circle cx="720.8" cy="138.0" r="4.7"/><circle cx="720.7" cy="143.5" r="4.7"/><circle cx="720.8" cy="149.5" r="4.7"/><circle cx="720.7" cy="155.5" r="4.7"/><circle cx="720.6" cy="162.2" r="4.7"/><circle cx="720.8" cy="168.2" r="4.7"/><circle cx="721.0" cy="175.2" r="4.7"/><circle cx="713.6" cy="183.2" r="4.7"/><circle cx="712.6" cy="189.2" r="4.7"/><circle cx="712.0" cy="190.7" r="4.7"/><circle cx="711.7" cy="184.1" r="4.7"/><circle cx="713.1" cy="174.8" r="4.7"/><circle cx="709.8" cy="164.9" r="4.7"/><circle cx="701.6" cy="170.8" r="4.7"/><circle cx="701.3" cy="177.0" r="4.7"/><circle cx="699.3" cy="181.8" r="4.7"/><circle cx="698.3" cy="188.8" r="4.7"/><circle cx="697.6" cy="194.5" r="4.7"/><circle cx="696.0" cy="201.2" r="4.7"/><circle cx="687.8" cy="205.1" r="4.7"/><circle cx="682.6" cy="211.0" r="4.7"/><circle cx="680.8" cy="209.8" r="4.7"/><circle cx="680.6" cy="206.4" r="4.7"/><circle cx="679.6" cy="199.9" r="4.7"/><circle cx="678.9" cy="194.2" r="4.7"/><circle cx="678.1" cy="188.4" r="4.7"/><circle cx="676.9" cy="182.8" r="4.7"/><circle cx="677.0" cy="177.2" r="4.7"/><circle cx="676.4" cy="169.8" r="4.7"/><circle cx="676.3" cy="162.7" r="4.7"/><circle cx="676.1" cy="157.2" r="4.7"/><circle cx="675.9" cy="151.2" r="4.7"/><circle cx="675.7" cy="144.8" r="4.7"/><circle cx="675.2" cy="138.4" r="4.7"/><circle cx="674.8" cy="133.5" r="4.7"/><circle cx="674.9" cy="126.5" r="4.7"/><circle cx="674.2" cy="119.0" r="4.7"/><circle cx="674.1" cy="111.8" r="4.7"/><circle cx="664.9" cy="108.4" r="4.7"/><circle cx="662.6" cy="114.3" r="4.7"/><circle cx="660.7" cy="119.7" r="4.7"/><circle cx="659.2" cy="124.8" r="4.7"/><circle cx="657.0" cy="131.0" r="4.7"/><circle cx="655.4" cy="137.2" r="4.7"/><circle cx="654.1" cy="142.2" r="4.7"/><circle cx="652.6" cy="148.7" r="4.7"/><circle cx="651.2" cy="154.7" r="4.7"/><circle cx="650.5" cy="160.0" r="4.7"/><circle cx="649.7" cy="162.8" r="4.7"/><circle cx="640.3" cy="170.0" r="4.7"/><circle cx="640.5" cy="174.3" r="4.7"/><circle cx="636.8" cy="183.5" r="4.7"/><circle cx="635.8" cy="191.8" r="4.7"/><circle cx="634.7" cy="196.4" r="4.7"/><circle cx="633.7" cy="201.6" r="4.7"/><circle cx="632.3" cy="208.5" r="4.7"/><circle cx="630.0" cy="213.9" r="4.7"/><circle cx="628.2" cy="218.5" r="4.7"/><circle cx="629.2" cy="234.0" r="4.7"/><circle cx="628.2" cy="235.0" r="4.7"/><circle cx="627.7" cy="234.6" r="4.7"/><circle cx="627.6" cy="234.0" r="4.7"/><circle cx="627.5" cy="216.2" r="4.7"/><circle cx="627.0" cy="209.2" r="4.7"/><circle cx="627.0" cy="202.0" r="4.7"/><circle cx="627.3" cy="195.0" r="4.7"/><circle cx="627.1" cy="189.5" r="4.7"/><circle cx="627.8" cy="182.2" r="4.7"/><circle cx="627.4" cy="176.2" r="4.7"/><circle cx="627.3" cy="170.5" r="4.7"/><circle cx="626.6" cy="163.0" r="4.7"/><circle cx="626.2" cy="156.0" r="4.7"/><circle cx="626.6" cy="150.5" r="4.7"/><circle cx="626.5" cy="142.5" r="4.7"/><circle cx="626.4" cy="134.9" r="4.7"/><circle cx="626.5" cy="130.0" r="4.7"/><circle cx="626.3" cy="122.8" r="4.7"/><circle cx="626.3" cy="115.5" r="4.7"/><circle cx="626.0" cy="109.5" r="4.7"/><circle cx="626.2" cy="104.0" r="4.7"/><circle cx="617.3" cy="103.2" r="4.7"/><circle cx="617.2" cy="110.2" r="4.7"/><circle cx="616.3" cy="115.4" r="4.7"/><circle cx="615.2" cy="120.2" r="4.7"/><circle cx="613.0" cy="127.4" r="4.7"/><circle cx="612.1" cy="132.7" r="4.7"/><circle cx="611.7" cy="138.4" r="4.7"/><circle cx="610.8" cy="144.3" r="4.7"/><circle cx="609.1" cy="150.7" r="4.7"/><circle cx="607.3" cy="157.7" r="4.7"/><circle cx="606.0" cy="166.5" r="4.7"/><circle cx="606.1" cy="173.2" r="4.7"/><circle cx="602.1" cy="183.2" r="4.7"/><circle cx="600.7" cy="189.9" r="4.7"/><circle cx="599.9" cy="197.1" r="4.7"/><circle cx="603.7" cy="201.5" r="4.7"/><circle cx="602.6" cy="204.5" r="4.7"/><circle cx="595.5" cy="205.9" r="4.7"/><circle cx="594.8" cy="204.4" r="4.7"/><circle cx="593.7" cy="196.7" r="4.7"/><circle cx="593.9" cy="190.2" r="4.7"/><circle cx="593.5" cy="184.2" r="4.7"/><circle cx="594.3" cy="178.4" r="4.7"/><circle cx="593.9" cy="173.7" r="4.7"/><circle cx="595.4" cy="165.8" r="4.7"/><circle cx="582.0" cy="164.3" r="4.7"/><circle cx="580.1" cy="170.7" r="4.7"/><circle cx="579.6" cy="179.0" r="4.7"/><circle cx="579.9" cy="186.2" r="4.7"/><circle cx="579.4" cy="190.8" r="4.7"/><circle cx="578.5" cy="197.8" r="4.7"/><circle cx="578.3" cy="197.5" r="4.7"/><circle cx="578.2" cy="193.5" r="4.7"/><circle cx="577.8" cy="186.2" r="4.7"/><circle cx="576.6" cy="180.0" r="4.7"/><circle cx="576.4" cy="174.0" r="4.7"/><circle cx="575.7" cy="166.0" r="4.7"/><circle cx="575.2" cy="162.0" r="4.7"/><circle cx="574.8" cy="155.1" r="4.7"/><circle cx="573.8" cy="149.0" r="4.7"/><circle cx="573.2" cy="140.1" r="4.7"/><circle cx="571.5" cy="133.5" r="4.7"/><circle cx="570.0" cy="128.9" r="4.7"/><circle cx="559.0" cy="123.7" r="4.7"/><circle cx="556.9" cy="131.8" r="4.7"/><circle cx="555.9" cy="139.5" r="4.7"/><circle cx="555.8" cy="145.8" r="4.7"/><circle cx="555.2" cy="152.8" r="4.7"/><circle cx="554.5" cy="158.1" r="4.7"/><circle cx="554.0" cy="164.8" r="4.7"/><circle cx="552.8" cy="168.9" r="4.7"/><circle cx="550.2" cy="175.8" r="4.7"/><circle cx="550.0" cy="176.1" r="4.7"/><circle cx="543.3" cy="185.6" r="4.7"/><circle cx="543.8" cy="191.5" r="4.7"/><circle cx="543.3" cy="198.2" r="4.7"/><circle cx="543.2" cy="203.8" r="4.7"/><circle cx="541.6" cy="208.9" r="4.7"/><circle cx="539.2" cy="212.2" r="4.7"/><circle cx="532.7" cy="219.3" r="4.7"/><circle cx="531.0" cy="223.2" r="4.7"/><circle cx="529.5" cy="230.0" r="4.7"/><circle cx="528.2" cy="237.0" r="4.7"/><circle cx="527.2" cy="243.8" r="4.7"/><circle cx="525.3" cy="243.5" r="4.7"/><circle cx="521.2" cy="253.3" r="4.7"/><circle cx="924.5" cy="202.7" r="4.7"/><circle cx="923.8" cy="202.8" r="4.7"/><circle cx="922.1" cy="195.7" r="4.7"/><circle cx="921.6" cy="189.5" r="4.7"/><circle cx="920.8" cy="181.0" r="4.7"/><circle cx="920.3" cy="175.8" r="4.7"/><circle cx="919.9" cy="169.2" r="4.7"/><circle cx="919.9" cy="163.2" r="4.7"/><circle cx="919.9" cy="157.5" r="4.7"/><circle cx="920.0" cy="152.0" r="4.7"/><circle cx="918.9" cy="121.2" r="4.7"/><circle cx="919.0" cy="115.2" r="4.7"/><circle cx="918.1" cy="107.7" r="4.7"/><circle cx="917.7" cy="102.8" r="4.7"/><circle cx="919.4" cy="96.0" r="4.7"/><circle cx="912.8" cy="88.7" r="4.7"/><circle cx="908.9" cy="99.8" r="4.7"/><circle cx="909.1" cy="105.5" r="4.7"/><circle cx="909.1" cy="112.2" r="4.7"/><circle cx="909.5" cy="118.2" r="4.7"/><circle cx="909.2" cy="124.2" r="4.7"/><circle cx="909.4" cy="132.0" r="4.7"/><circle cx="908.3" cy="137.9" r="4.7"/><circle cx="907.3" cy="144.0" r="4.7"/><circle cx="906.4" cy="148.9" r="4.7"/><circle cx="906.0" cy="155.0" r="4.7"/><circle cx="906.2" cy="161.5" r="4.7"/><circle cx="905.5" cy="168.4" r="4.7"/><circle cx="904.7" cy="175.8" r="4.7"/><circle cx="903.8" cy="180.2" r="4.7"/><circle cx="903.1" cy="187.5" r="4.7"/><circle cx="903.1" cy="191.7" r="4.7"/><circle cx="902.0" cy="197.2" r="4.7"/><circle cx="893.5" cy="198.1" r="4.7"/><circle cx="891.7" cy="195.4" r="4.7"/><circle cx="888.0" cy="187.8" r="4.7"/><circle cx="884.5" cy="185.0" r="4.7"/><circle cx="884.3" cy="179.0" r="4.7"/><circle cx="884.6" cy="173.0" r="4.7"/><circle cx="884.6" cy="167.0" r="4.7"/><circle cx="884.4" cy="160.5" r="4.7"/><circle cx="884.6" cy="154.5" r="4.7"/><circle cx="884.5" cy="147.5" r="4.7"/><circle cx="883.9" cy="138.5" r="4.7"/><circle cx="883.4" cy="133.7" r="4.7"/><circle cx="881.0" cy="127.2" r="4.7"/><circle cx="878.4" cy="121.6" r="4.7"/><circle cx="875.9" cy="116.5" r="4.7"/><circle cx="874.1" cy="110.7" r="4.7"/><circle cx="864.0" cy="106.9" r="4.7"/><circle cx="862.8" cy="112.5" r="4.7"/><circle cx="861.1" cy="118.2" r="4.7"/><circle cx="859.4" cy="125.0" r="4.7"/><circle cx="857.5" cy="131.9" r="4.7"/><circle cx="856.1" cy="137.2" r="4.7"/><circle cx="854.0" cy="143.2" r="4.7"/><circle cx="854.1" cy="137.5" r="4.7"/><circle cx="850.6" cy="125.0" r="4.7"/><circle cx="850.3" cy="118.0" r="4.7"/><circle cx="849.9" cy="110.8" r="4.7"/><circle cx="850.2" cy="103.9" r="4.7"/><circle cx="852.0" cy="93.8" r="4.7"/><circle cx="852.9" cy="90.4" r="4.7"/><circle cx="860.5" cy="90.3" r="4.7"/><circle cx="863.5" cy="82.4" r="4.7"/><circle cx="864.8" cy="77.3" r="4.7"/><circle cx="866.6" cy="71.0" r="4.7"/><circle cx="868.3" cy="65.7" r="4.7"/><circle cx="869.2" cy="67.0" r="4.7"/><circle cx="869.4" cy="69.2" r="4.7"/><circle cx="871.5" cy="78.4" r="4.7"/><circle cx="874.5" cy="83.3" r="4.7"/><circle cx="878.7" cy="89.4" r="4.7"/><circle cx="880.7" cy="94.4" r="4.7"/><circle cx="881.5" cy="99.8" r="4.7"/><circle cx="883.0" cy="104.5" r="4.7"/><circle cx="883.6" cy="112.1" r="4.7"/><circle cx="883.8" cy="118.0" r="4.7"/><circle cx="883.4" cy="123.4" r="4.7"/><circle cx="883.2" cy="132.0" r="4.7"/><circle cx="883.9" cy="139.5" r="4.7"/><circle cx="886.0" cy="146.2" r="4.7"/><circle cx="887.5" cy="151.4" r="4.7"/><circle cx="890.2" cy="157.2" r="4.7"/><circle cx="892.1" cy="164.0" r="4.7"/><circle cx="901.4" cy="167.5" r="4.7"/><circle cx="903.7" cy="159.9" r="4.7"/><circle cx="905.3" cy="151.2" r="4.7"/><circle cx="905.9" cy="144.5" r="4.7"/><circle cx="905.9" cy="138.8" r="4.7"/><circle cx="906.2" cy="131.5" r="4.7"/><circle cx="906.0" cy="124.8" r="4.7"/><circle cx="906.1" cy="118.8" r="4.7"/><circle cx="906.9" cy="112.0" r="4.7"/><circle cx="907.3" cy="106.5" r="4.7"/><circle cx="907.7" cy="100.6" r="4.7"/><circle cx="909.0" cy="95.3" r="4.7"/><circle cx="909.0" cy="89.0" r="4.7"/><circle cx="909.2" cy="81.5" r="4.7"/><circle cx="909.5" cy="75.8" r="4.7"/><circle cx="910.3" cy="69.2" r="4.7"/><circle cx="910.6" cy="64.3" r="4.7"/><circle cx="911.3" cy="58.7" r="4.7"/><circle cx="913.4" cy="53.9" r="4.7"/><circle cx="915.8" cy="49.9" r="4.7"/><circle cx="917.8" cy="50.0" r="4.7"/><circle cx="917.6" cy="57.5" r="4.7"/><circle cx="917.0" cy="62.9" r="4.7"/><circle cx="916.1" cy="69.7" r="4.7"/><circle cx="915.7" cy="75.5" r="4.7"/><circle cx="917.1" cy="86.0" r="4.7"/><circle cx="918.9" cy="90.2" r="4.7"/><circle cx="919.5" cy="98.6" r="4.7"/><circle cx="919.5" cy="105.0" r="4.7"/><circle cx="919.4" cy="112.0" r="4.7"/><circle cx="919.5" cy="117.2" r="4.7"/><circle cx="920.3" cy="122.9" r="4.7"/><circle cx="925.6" cy="148.3" r="4.7"/><circle cx="931.2" cy="139.7" r="4.7"/><circle cx="931.9" cy="133.8" r="4.7"/><circle cx="932.4" cy="125.1" r="4.7"/><circle cx="933.0" cy="117.0" r="4.7"/><circle cx="932.7" cy="110.2" r="4.7"/><circle cx="933.2" cy="103.2" r="4.7"/><circle cx="933.9" cy="98.2" r="4.7"/><circle cx="934.8" cy="90.1" r="4.7"/><circle cx="936.2" cy="82.8" r="4.7"/><circle cx="937.1" cy="77.7" r="4.7"/><circle cx="938.2" cy="63.8" r="4.7"/><circle cx="939.3" cy="60.1" r="4.7"/><circle cx="938.3" cy="63.2" r="4.7"/><circle cx="941.7" cy="77.5" r="4.7"/><circle cx="943.5" cy="78.1" r="4.7"/><circle cx="944.1" cy="81.0" r="4.7"/><circle cx="943.0" cy="88.5" r="4.7"/><circle cx="943.9" cy="95.0" r="4.7"/><circle cx="950.0" cy="103.5" r="4.7"/><circle cx="959.3" cy="101.3" r="4.7"/><circle cx="960.7" cy="93.0" r="4.7"/><circle cx="961.2" cy="87.0" r="4.7"/><circle cx="960.3" cy="80.5" r="4.7"/><circle cx="960.1" cy="73.2" r="4.7"/><circle cx="959.9" cy="67.8" r="4.7"/><circle cx="961.1" cy="60.8" r="4.7"/><circle cx="962.8" cy="68.3" r="4.7"/><circle cx="964.8" cy="71.6" r="4.7"/><circle cx="966.8" cy="77.5" r="4.7"/><circle cx="968.0" cy="83.8" r="4.7"/><circle cx="968.8" cy="91.3" r="4.7"/><circle cx="969.0" cy="95.8" r="4.7"/><circle cx="970.8" cy="102.2" r="4.7"/><circle cx="970.7" cy="109.5" r="4.7"/><circle cx="981.8" cy="114.0" r="4.7"/><circle cx="985.7" cy="105.0" r="4.7"/><circle cx="986.2" cy="99.5" r="4.7"/><circle cx="986.6" cy="92.0" r="4.7"/><circle cx="987.1" cy="86.0" r="4.7"/><circle cx="986.8" cy="79.0" r="4.7"/><circle cx="986.9" cy="73.2" r="4.7"/><circle cx="986.8" cy="66.8" r="4.7"/><circle cx="987.6" cy="62.1" r="4.7"/><circle cx="989.1" cy="54.8" r="4.7"/><circle cx="990.8" cy="48.0" r="4.7"/><circle cx="991.3" cy="41.5" r="4.7"/><circle cx="992.0" cy="46.3" r="4.7"/><circle cx="993.0" cy="54.0" r="4.7"/><circle cx="992.8" cy="58.8" r="4.7"/><circle cx="993.5" cy="66.3" r="4.7"/><circle cx="994.5" cy="74.2" r="4.7"/><circle cx="995.3" cy="79.8" r="4.7"/><circle cx="995.5" cy="85.8" r="4.7"/><circle cx="997.3" cy="92.6" r="4.7"/><circle cx="998.5" cy="100.1" r="4.7"/><circle cx="1011.0" cy="98.0" r="4.7"/><circle cx="1011.4" cy="92.0" r="4.7"/><circle cx="1012.0" cy="86.2" r="4.7"/><circle cx="1012.8" cy="81.0" r="4.7"/><circle cx="1014.4" cy="76.0" r="4.7"/><circle cx="1018.5" cy="70.1" r="4.7"/><circle cx="1018.8" cy="68.7" r="4.7"/><circle cx="1020.7" cy="75.2" r="4.7"/><circle cx="1022.0" cy="81.1" r="4.7"/><circle cx="1023.9" cy="87.8" r="4.7"/><circle cx="1025.2" cy="93.2" r="4.7"/><circle cx="1035.8" cy="92.3" r="4.7"/><circle cx="1036.8" cy="85.0" r="4.7"/><circle cx="1037.2" cy="79.0" r="4.7"/><circle cx="1037.4" cy="74.0" r="4.7"/><circle cx="1037.2" cy="74.8" r="4.7"/><circle cx="1037.9" cy="81.2" r="4.7"/><circle cx="1038.2" cy="88.2" r="4.7"/><circle cx="1037.0" cy="94.8" r="4.7"/><circle cx="1037.3" cy="100.2" r="4.7"/><circle cx="1037.3" cy="107.8" r="4.7"/><circle cx="1036.5" cy="113.0" r="4.7"/><circle cx="1035.7" cy="116.9" r="4.7"/><circle cx="1033.3" cy="124.4" r="4.7"/><circle cx="1032.3" cy="131.8" r="4.7"/><circle cx="1031.4" cy="137.5" r="4.7"/><circle cx="1031.1" cy="143.2" r="4.7"/><circle cx="1030.8" cy="150.0" r="4.7"/><circle cx="1029.7" cy="157.2" r="4.7"/><circle cx="1029.0" cy="162.9" r="4.7"/><circle cx="1026.9" cy="166.5" r="4.7"/><circle cx="1025.3" cy="160.9" r="4.7"/><circle cx="1025.3" cy="154.0" r="4.7"/><circle cx="1025.5" cy="146.2" r="4.7"/><circle cx="1025.3" cy="138.8" r="4.7"/><circle cx="1025.5" cy="133.2" r="4.7"/><circle cx="1024.7" cy="125.2" r="4.7"/><circle cx="1023.0" cy="118.8" r="4.7"/><circle cx="1021.5" cy="111.8" r="4.7"/><circle cx="1012.1" cy="115.7" r="4.7"/><circle cx="1010.6" cy="124.5" r="4.7"/><circle cx="1010.0" cy="130.0" r="4.7"/><circle cx="1010.6" cy="135.0" r="4.7"/><circle cx="1010.2" cy="143.8" r="4.7"/><circle cx="1009.9" cy="149.5" r="4.7"/><circle cx="1009.3" cy="156.2" r="4.7"/><circle cx="1009.0" cy="161.2" r="4.7"/><circle cx="1007.9" cy="167.4" r="4.7"/><circle cx="1006.7" cy="172.5" r="4.7"/><circle cx="1007.2" cy="176.7" r="4.7"/><circle cx="1006.1" cy="173.0" r="4.7"/><circle cx="1004.4" cy="166.0" r="4.7"/><circle cx="1004.0" cy="159.7" r="4.7"/><circle cx="1002.9" cy="152.2" r="4.7"/><circle cx="997.4" cy="144.4" r="4.7"/><circle cx="996.4" cy="143.1" r="4.7"/><circle cx="995.8" cy="136.8" r="4.7"/><circle cx="995.4" cy="130.5" r="4.7"/><circle cx="995.2" cy="125.0" r="4.7"/><circle cx="987.0" cy="117.5" r="4.7"/><circle cx="985.0" cy="123.1" r="4.7"/><circle cx="985.2" cy="130.8" r="4.7"/><circle cx="984.5" cy="138.2" r="4.7"/><circle cx="984.2" cy="145.8" r="4.7"/><circle cx="984.3" cy="152.2" r="4.7"/><circle cx="983.5" cy="157.4" r="4.7"/><circle cx="982.3" cy="161.5" r="4.7"/><circle cx="980.7" cy="168.0" r="4.7"/><circle cx="980.8" cy="171.7" r="4.7"/><circle cx="979.8" cy="169.2" r="4.7"/><circle cx="974.7" cy="159.7" r="4.7"/><circle cx="975.4" cy="157.2" r="4.7"/><circle cx="974.2" cy="149.1" r="4.7"/><circle cx="973.6" cy="144.8" r="4.7"/><circle cx="971.9" cy="136.7" r="4.7"/><circle cx="971.4" cy="129.6" r="4.7"/><circle cx="962.0" cy="128.2" r="4.7"/><circle cx="961.0" cy="135.0" r="4.7"/><circle cx="960.2" cy="142.2" r="4.7"/><circle cx="959.7" cy="148.2" r="4.7"/><circle cx="957.7" cy="153.1" r="4.7"/><circle cx="956.4" cy="159.2" r="4.7"/><circle cx="954.8" cy="165.4" r="4.7"/><circle cx="952.9" cy="172.7" r="4.7"/><circle cx="951.6" cy="175.2" r="4.7"/><circle cx="951.0" cy="173.9" r="4.7"/><circle cx="950.6" cy="170.9" r="4.7"/><circle cx="948.8" cy="165.5" r="4.7"/><circle cx="947.5" cy="159.9" r="4.7"/><circle cx="945.6" cy="154.2" r="4.7"/><circle cx="945.5" cy="150.0" r="4.7"/><circle cx="945.2" cy="143.2" r="4.7"/><circle cx="945.6" cy="136.2" r="4.7"/><circle cx="935.7" cy="132.8" r="4.7"/><circle cx="934.7" cy="138.7" r="4.7"/><circle cx="933.7" cy="145.8" r="4.7"/><circle cx="932.4" cy="152.8" r="4.7"/><circle cx="931.4" cy="156.7" r="4.7"/><circle cx="930.7" cy="162.3" r="4.7"/><circle cx="929.5" cy="168.7" r="4.7"/><circle cx="928.1" cy="175.4" r="4.7"/><circle cx="926.4" cy="182.2" r="4.7"/><circle cx="926.7" cy="187.8" r="4.7"/><circle cx="926.0" cy="194.2" r="4.7"/><circle cx="926.4" cy="200.8" r="4.7"/></g><path d="M1084.5,35.60H1087.7V40.87H1084.5ZM1084.5,42.12H1091.9V47.38H1084.5ZM1084.5,48.63H1102.0V53.90H1084.5ZM1084.5,55.14H1133.9V60.41H1084.5ZM1084.5,61.66H1180.9V66.92H1084.5ZM1084.5,68.17H1174.0V73.44H1084.5ZM1084.5,74.69H1179.5V79.95H1084.5ZM1084.5,81.20H1182.0V86.47H1084.5ZM1084.5,87.72H1215.6V92.98H1084.5ZM1084.5,94.23H1232.5V99.50H1084.5ZM1084.5,100.75H1262.9V106.02H1084.5ZM1084.5,107.26H1268.0V112.53H1084.5ZM1084.5,113.78H1254.9V119.05H1084.5ZM1084.5,120.29H1243.3V125.56H1084.5ZM1084.5,126.81H1228.7V132.07H1084.5ZM1084.5,133.32H1229.8V138.59H1084.5ZM1084.5,139.84H1249.0V145.10H1084.5ZM1084.5,146.35H1236.9V151.62H1084.5ZM1084.5,152.87H1224.1V158.13H1084.5ZM1084.5,159.38H1215.1V164.65H1084.5ZM1084.5,165.90H1225.6V171.16H1084.5ZM1084.5,172.41H1224.1V177.68H1084.5ZM1084.5,178.93H1213.0V184.19H1084.5ZM1084.5,185.44H1206.3V190.71H1084.5ZM1084.5,191.96H1201.0V197.22H1084.5ZM1084.5,198.47H1169.0V203.74H1084.5ZM1084.5,204.99H1139.0V210.25H1084.5ZM1084.5,211.50H1112.8V216.77H1084.5ZM1084.5,218.02H1100.0V223.28H1084.5ZM1084.5,224.53H1098.0V229.80H1084.5ZM1084.5,231.05H1096.6V236.31H1084.5ZM1084.5,237.56H1095.4V242.83H1084.5ZM1084.5,244.08H1090.8V249.34H1084.5ZM1084.5,250.59H1086.2V255.86H1084.5Z" fill="#c5a289"/><path d="M1084.60,19.60C1084.73,20.50 1085.02,22.82 1085.40,25.00C1085.78,27.18 1086.27,30.38 1086.90,32.70C1087.53,35.02 1088.03,37.10 1089.20,38.90C1090.37,40.70 1091.58,41.83 1093.90,43.50C1096.22,45.17 1099.00,47.10 1103.10,48.90C1107.20,50.70 1113.37,52.77 1118.50,54.30C1123.63,55.83 1128.77,56.82 1133.90,58.10C1139.03,59.38 1144.17,60.78 1149.30,62.00C1154.43,63.22 1160.85,64.38 1164.70,65.40C1168.55,66.42 1170.33,66.87 1172.40,68.10C1174.47,69.33 1175.55,71.12 1177.10,72.80C1178.65,74.48 1179.90,76.80 1181.70,78.20C1183.50,79.60 1184.30,79.77 1187.90,81.20C1191.50,82.63 1198.17,85.07 1203.30,86.80C1208.43,88.53 1213.58,89.98 1218.70,91.60C1223.82,93.22 1228.87,94.78 1234.00,96.50C1239.13,98.22 1245.63,100.37 1249.50,101.90C1253.37,103.43 1255.53,104.42 1257.20,105.70C1258.87,106.98 1259.50,108.32 1259.50,109.60C1259.50,110.88 1258.87,111.87 1257.20,113.40C1255.53,114.93 1252.07,116.87 1249.50,118.80C1246.93,120.73 1243.98,123.07 1241.80,125.00C1239.62,126.93 1237.38,128.87 1236.40,130.40C1235.42,131.93 1235.72,132.53 1235.90,134.20C1236.08,135.87 1237.42,138.33 1237.50,140.40C1237.58,142.47 1237.48,144.55 1236.40,146.60C1235.32,148.65 1233.05,150.80 1231.00,152.70C1228.95,154.60 1225.63,156.13 1224.10,158.00C1222.57,159.87 1222.32,161.63 1221.80,163.90C1221.28,166.17 1221.52,169.42 1221.00,171.60C1220.48,173.78 1219.87,175.20 1218.70,177.00C1217.53,178.80 1216.07,180.62 1214.00,182.40C1211.93,184.18 1209.12,186.17 1206.30,187.70C1203.48,189.23 1201.45,190.05 1197.10,191.60C1192.75,193.15 1185.60,195.47 1180.20,197.00C1174.80,198.53 1169.85,199.52 1164.70,200.80C1159.55,202.08 1154.43,203.28 1149.30,204.70C1144.17,206.12 1139.03,207.77 1133.90,209.30C1128.77,210.83 1123.12,212.23 1118.50,213.90C1113.88,215.57 1109.15,217.50 1106.20,219.30C1103.25,221.10 1102.08,223.03 1100.80,224.70C1099.52,226.37 1099.27,227.25 1098.50,229.30C1097.73,231.35 1096.85,234.95 1096.20,237.00C1095.55,239.05 1095.37,240.07 1094.60,241.60C1093.83,243.13 1092.75,244.53 1091.60,246.20C1090.45,247.87 1088.73,249.67 1087.70,251.60C1086.67,253.53 1085.78,256.77 1085.40,257.80" fill="none" stroke="#8b4513" stroke-width="2.08" stroke-linejoin="round"/><defs><radialGradient id="ocean" cx="0.45" cy="0.45" r="0.6"><stop offset="0" stop-color="#74a9d0"/><stop offset="0.7" stop-color="#6ca1c8"/><stop offset="1" stop-color="#6297c0"/></radialGradient><clipPath id="gclip"><circle cx="353.0" cy="495.8" r="129.0"/></clipPath></defs><circle cx="353.0" cy="495.8" r="129.0" fill="url(#ocean)"/><g clip-path="url(#gclip)"><path d="M235.1,510.4L234.4,508.1L233.8,505.7L232.7,504.0L231.7,502.2L231.5,497.9L232.0,496.2L232.5,494.5L233.0,492.8L233.7,491.1L233.3,488.8L232.9,486.5L232.2,485.0L231.4,483.6L232.3,481.0L233.2,478.4L234.0,477.0L234.9,475.5L235.8,474.1L235.0,472.6L234.3,471.2L233.0,473.6L232.3,472.7L231.6,471.9L231.0,471.0L231.3,468.6L231.6,466.2L232.3,463.9L233.1,461.6L233.9,459.4L234.9,457.8L235.9,456.3L237.0,454.7L238.0,453.0L239.0,451.2L240.1,451.6L241.2,452.0L241.4,453.2L241.6,454.4L241.8,455.7L242.0,457.3L242.1,458.9L243.7,457.1L243.9,458.8L244.2,460.6L244.6,462.3L245.6,463.4L244.9,465.9L244.3,468.4L243.5,470.8L242.8,473.3L243.0,476.1L244.7,473.5L246.1,469.9L246.8,467.7L247.7,465.4L249.3,464.3L251.1,463.2L252.5,463.2L253.9,463.1L255.5,463.2L257.2,463.2L258.9,459.7L261.8,457.4L264.8,455.5L265.9,456.0L267.0,456.5L268.3,456.8L269.6,457.0L270.7,454.1L272.4,454.0L274.1,453.9L276.2,454.0L277.8,453.9L279.4,454.8L275.9,456.7L277.5,456.9L279.1,457.1L280.8,457.3L282.5,457.4L284.2,457.4L284.4,455.0L283.0,454.5L281.6,454.0L280.3,453.5L282.2,450.4L284.0,447.8L283.0,446.7L282.1,445.7L280.2,446.3L278.3,446.8L276.4,447.3L279.7,446.0L281.9,445.5L284.1,444.9L285.0,445.7L285.9,446.5L286.9,447.3L287.8,448.1L288.8,448.8L290.4,448.9L292.0,448.9L293.7,448.9L296.7,447.9L297.4,445.7L298.2,443.6L297.8,442.1L297.4,440.7L297.1,439.2L298.5,435.6L299.8,432.6L301.2,429.7L297.9,431.3L296.6,431.0L295.4,430.7L295.8,428.6L297.0,426.7L298.3,424.7L298.5,423.6L298.7,422.5L298.9,421.3L298.6,420.5L298.3,419.7L298.0,418.9L296.0,420.0L294.1,421.2L292.5,422.9L291.0,424.6L288.9,426.5L286.8,428.5L284.9,428.7L283.1,428.8L280.8,430.4L278.6,432.1L276.6,432.1L278.8,428.4L280.3,425.9L281.9,423.4L282.5,421.8L283.1,420.3L283.8,418.7L283.8,417.9L283.8,417.0L283.8,416.1L283.9,415.2L286.3,412.5L289.7,410.2L292.8,409.3L293.4,409.7L294.1,410.0L294.8,410.4L295.9,410.5L297.0,410.7L298.1,410.8L300.6,410.2L303.1,409.5L304.4,409.8L307.2,408.2L310.0,406.8L309.3,406.5L308.6,406.3L307.9,406.1L307.2,405.8L306.7,405.5L306.3,405.1L305.8,404.7L305.4,404.4L304.9,404.0L304.9,403.5L304.8,403.0L304.7,402.4L304.7,401.9L304.7,401.4L304.7,400.9L304.7,400.4L304.7,399.9L304.7,399.4L304.8,398.9L304.9,398.3L304.9,397.8L305.0,397.3L305.1,396.8L305.3,396.3L305.4,395.8L305.6,395.3L305.7,394.8L305.9,394.3L306.1,393.8L306.3,393.3L306.8,392.8L307.4,392.2L307.9,391.7L308.5,391.2L309.1,390.7L309.6,390.2L310.2,389.7L310.8,389.2L311.4,388.8L312.1,388.3L312.3,387.9L312.6,387.5L312.8,387.0L313.1,386.6L313.4,386.2L313.7,385.8L314.1,385.3L314.4,384.9L314.8,384.5L315.1,384.1L315.8,383.7L316.4,383.3L317.1,383.0L317.7,382.6L318.4,382.3L319.1,381.9L319.8,381.6L320.5,381.2L321.2,380.9L322.0,380.6L322.7,380.3L323.4,380.0L324.2,379.7L324.9,379.5L325.7,379.2L326.4,379.0L327.2,378.7L327.9,378.5L328.7,378.3L329.4,378.1L330.2,377.9L330.4,377.4L330.7,377.0L331.0,376.6L331.3,376.1L331.7,375.7L332.1,375.3L332.6,374.9L333.0,374.5L332.3,373.8L331.7,373.1L330.5,373.2L329.3,373.3L328.1,373.4L326.9,373.6L327.2,373.1L327.5,372.6L327.8,372.2L326.3,372.1L324.7,372.1L323.0,372.2L321.4,372.3L320.3,372.7L319.3,373.0L318.3,373.4L317.3,373.7L316.3,374.1L314.9,374.5L313.5,374.9L312.1,375.4L310.7,375.8L311.1,376.1L311.6,376.4L312.2,376.8L312.8,377.1L311.7,377.5L310.6,378.0L309.5,378.4L308.5,378.9L307.4,379.4L306.3,379.9L305.2,380.4L304.1,381.0L303.1,381.5L302.0,382.1L300.9,382.7L299.9,383.3L298.8,383.9L297.7,384.5L295.9,385.3L294.1,386.2L292.3,387.1L290.6,388.0L288.8,389.0L286.3,390.3L283.8,391.6L281.3,393.1L279.2,394.5L277.1,396.1L275.1,397.6L273.1,398.8L271.1,400.0L269.8,400.7L268.4,401.5L267.1,402.3L265.8,403.1L263.4,405.0L261.1,407.1L258.8,409.3L256.8,411.4L255.1,413.2L253.5,415.1L252.3,416.7L251.2,418.4L249.0,421.3L247.3,423.6L245.6,425.9L243.8,428.7L242.0,431.6L240.2,434.8L238.5,438.1L237.2,440.7L236.0,443.4L237.3,440.8L238.6,438.4L239.9,436.1L241.3,433.8L242.8,431.6L244.8,428.3L246.8,425.1L245.6,427.5L243.9,430.3L242.2,433.1L240.7,435.8L239.1,438.5L237.8,441.3L236.6,444.0L235.5,446.8L234.4,449.7L233.3,451.8L232.3,454.0L231.6,456.5L231.0,459.0L230.4,461.6L229.9,464.0L229.5,466.4L229.3,468.7L229.2,471.0L229.1,473.4L229.7,474.5L229.4,477.4L229.2,480.4L229.4,482.4L229.6,484.3L229.9,486.3L230.2,488.3L230.2,489.5L230.3,495.3L229.9,497.3L230.2,500.0L230.7,502.7L231.4,505.0L232.2,507.2L232.8,509.4L233.7,509.8L234.6,510.1Z" fill="#cfd6a5"/><path d="M235.1,510.4L236.8,510.4L237.6,509.2L238.7,509.6L239.8,510.1L241.7,510.0L241.5,514.0L243.7,512.9L244.6,515.5L245.4,518.1L246.6,519.4L247.8,520.7L249.0,522.0L250.7,523.0L252.4,524.0L253.1,526.8L253.8,529.6L255.2,531.1L256.6,532.6L257.8,535.5L259.2,538.4L260.7,539.5L262.3,540.6L263.8,541.7L265.4,543.3L267.0,545.0L267.7,547.3L268.5,549.6L269.3,551.9L269.7,553.9L270.1,556.0L272.7,559.0L274.7,560.6L276.8,562.2L278.8,563.8L280.9,565.3L282.8,566.4L284.7,567.4L286.7,568.4L289.1,569.8L291.6,571.3L293.8,573.0L296.1,574.7L298.3,576.3L298.9,578.5L299.4,580.6L298.4,582.3L297.4,583.9L295.2,585.0L293.0,586.1L293.1,587.6L293.1,589.1L293.2,590.6L293.4,592.1L292.8,593.1L292.2,594.1L291.7,595.0L290.8,596.1L290.1,597.1L288.0,596.3L286.2,595.9L284.5,595.6L283.3,595.9L282.2,596.2L281.1,596.5L281.5,597.5L282.0,598.4L281.5,599.1L281.2,599.7L280.4,600.1L279.8,600.4L278.7,599.9L277.7,599.4L276.6,598.9L275.1,597.9L273.6,596.8L276.5,599.3L278.3,600.8L277.1,600.0L276.1,599.3L275.0,598.5L274.0,597.8L274.8,598.4L275.7,599.1L275.0,598.5L274.3,598.0L276.5,599.6L276.9,600.0L277.3,600.3L277.3,600.2L277.3,600.2L280.6,602.5L281.0,602.8L281.5,603.2L282.8,604.0L284.2,604.9L284.9,605.4L285.7,605.9L283.8,604.7L281.9,603.5L280.1,602.2L278.2,600.9L276.3,599.5L274.5,598.1L272.7,596.7L271.5,595.8L270.4,594.9L269.4,594.0L268.3,593.1L267.2,592.1L266.1,591.1L265.0,590.1L263.9,589.1L262.8,588.0L261.6,586.8L260.5,585.7L259.8,585.0L259.1,584.3L258.5,583.6L257.8,582.9L256.8,581.7L255.8,580.6L254.8,579.4L254.2,578.6L253.7,577.8L253.2,576.9L252.1,575.3L251.0,573.7L250.0,572.1L249.3,570.8L248.7,569.4L248.0,568.1L247.4,566.7L246.8,565.3L244.9,562.3L243.3,559.8L241.7,557.4L240.2,554.8L238.1,550.4L236.8,547.1L236.0,544.8L235.2,542.5L234.5,540.2L233.7,537.9L232.5,534.4L231.4,530.8L231.6,529.6L231.8,528.5L231.2,525.4L231.5,524.0L231.8,522.7L232.8,521.5L233.4,520.1L234.1,518.6L234.3,516.4L234.6,514.1L234.5,511.7Z" fill="#c3cd9c"/><path d="M360.7,499.5L359.8,501.3L358.8,503.6L355.8,505.2L354.3,507.0L353.9,509.3L353.4,511.5L351.7,514.0L350.0,516.4L347.0,518.1L343.9,521.3L342.3,523.4L340.7,525.5L339.9,527.7L339.1,529.8L338.3,531.9L339.9,535.2L339.5,537.9L339.0,540.5L337.9,542.8L336.7,545.1L338.1,547.7L338.3,550.2L340.9,552.0L343.0,554.1L345.7,556.6L347.4,560.0L350.8,561.6L353.0,563.4L355.2,565.1L358.6,566.2L361.2,565.6L363.8,565.0L366.4,564.3L368.7,564.5L370.9,564.7L373.1,563.8L375.3,562.8L378.0,561.8L380.8,560.8L382.9,560.5L385.1,560.1L386.8,561.8L388.5,563.4L391.1,562.7L393.8,562.0L396.0,562.9L396.7,566.1L395.8,569.0L395.7,570.8L395.6,572.6L397.4,573.9L399.1,575.2L400.8,576.5L401.7,578.8L402.5,580.8L403.2,582.8L402.7,584.5L402.2,586.2L401.7,587.9L401.1,589.5L400.4,591.3L399.7,593.1L398.9,594.8L399.4,595.9L399.8,597.1L400.5,598.2L401.1,599.3L401.7,600.3L402.3,601.3L402.3,602.4L402.2,603.5L402.1,604.6L401.9,605.6L403.5,606.5L404.1,607.5L404.6,608.4L404.2,609.5L403.7,610.5L406.0,610.1L407.8,609.2L409.5,608.4L411.4,607.6L413.3,606.8L415.1,606.0L416.9,605.0L418.7,604.0L421.3,602.1L423.9,600.1L426.4,598.1L429.6,595.5L430.7,594.0L431.8,592.5L434.4,590.1L437.1,587.7L437.5,586.5L437.9,585.4L438.2,584.1L438.5,582.9L440.6,580.6L442.6,578.3L444.9,575.8L447.0,573.2L449.1,570.5L449.7,568.8L450.2,567.1L450.6,565.3L451.0,563.5L450.7,562.0L450.4,560.6L450.1,559.1L450.5,557.3L450.8,555.5L451.1,553.6L452.6,550.8L453.9,547.9L455.0,545.0L456.0,542.2L457.5,539.5L459.0,536.9L460.1,534.1L461.0,531.2L462.0,528.3L462.5,525.4L463.1,522.5L463.5,519.5L463.8,516.9L464.2,514.3L463.8,511.8L462.6,513.6L461.4,515.4L460.2,517.1L459.0,518.8L457.6,520.5L456.3,522.2L454.3,521.2L452.9,520.3L450.3,519.0L447.5,517.6L446.2,515.6L444.9,513.7L442.2,511.9L441.5,508.8L438.7,507.0L437.1,504.5L435.1,502.6L433.2,500.7L431.7,498.8L430.1,496.9L428.6,495.0L431.4,498.0L432.7,497.8L432.6,496.1L432.3,493.8L430.0,490.7L428.6,491.5L427.2,492.3L425.5,493.3L423.8,494.3L421.7,495.1L419.6,495.9L417.8,496.3L416.0,496.8L414.1,496.6L412.3,496.4L410.6,496.7L408.8,496.9L407.8,499.0L408.3,501.4L407.0,503.5L405.1,503.3L403.2,503.1L401.3,502.9L399.4,501.0L397.5,500.9L395.7,500.8L392.6,500.9L390.5,499.6L390.8,496.7L388.8,493.3L389.9,492.8L388.1,492.5L385.7,493.9L384.0,494.0L382.2,494.1L380.2,494.7L378.2,495.2L376.2,495.8L374.6,496.7L372.9,497.7L371.2,498.7L368.6,500.3L366.0,500.3L363.8,499.7L361.6,499.2Z" fill="#ebe1cf"/><path d="M361.0,499.0L359.7,497.2L357.7,496.4L355.0,496.9L355.1,493.1L353.9,492.9L354.9,489.0L354.8,485.7L354.2,483.4L356.3,481.8L358.0,481.9L359.8,481.9L361.7,482.1L363.6,482.2L366.4,482.0L366.9,479.4L366.7,476.1L364.9,473.6L362.9,472.8L361.0,472.1L363.4,470.1L365.5,470.4L364.8,468.0L366.3,468.1L367.8,468.2L369.6,466.4L370.5,464.3L371.9,463.4L372.7,461.1L372.8,459.8L374.1,459.0L375.3,458.2L377.4,456.9L376.3,453.6L375.1,451.0L376.2,449.8L377.3,448.6L377.7,451.1L378.6,451.6L378.1,454.3L379.9,456.2L381.7,454.8L384.3,455.3L386.0,453.9L387.3,452.9L388.5,452.0L390.4,452.2L391.1,450.1L389.4,447.0L389.2,445.5L390.8,445.5L392.3,445.4L390.2,442.8L389.4,441.2L390.4,440.7L391.4,440.2L392.3,439.6L393.3,439.0L394.0,438.2L394.8,437.3L393.3,437.3L392.5,437.7L391.6,438.2L390.7,438.6L389.8,439.0L388.7,439.6L387.7,440.3L385.8,439.2L384.4,436.6L383.1,434.1L383.5,432.8L383.9,431.5L384.3,430.2L383.0,429.0L382.2,429.3L381.4,429.6L381.8,432.3L381.4,433.6L380.9,434.9L380.5,437.2L382.0,440.7L384.3,442.0L384.2,443.8L383.9,447.2L384.9,449.9L384.0,451.1L383.0,452.2L381.2,452.3L380.6,451.1L378.1,447.7L376.8,445.8L375.7,444.3L375.2,446.2L374.1,448.4L372.9,448.5L371.7,448.6L370.8,447.1L369.4,444.1L368.7,441.0L369.5,440.1L370.2,439.1L371.0,438.1L371.7,437.1L372.3,436.2L372.8,434.0L373.1,431.8L373.1,428.7L373.4,427.6L373.7,426.4L374.0,425.3L374.2,424.2L374.4,423.1L374.8,422.5L375.3,422.0L375.7,421.4L376.1,420.8L376.6,420.4L377.1,420.0L377.6,419.6L378.5,419.5L379.4,419.4L380.5,419.4L381.5,419.4L382.7,419.8L384.0,420.2L384.7,420.1L385.5,419.9L386.3,419.8L387.3,419.9L388.3,420.0L389.3,420.1L390.3,420.1L391.4,420.2L393.2,422.3L392.6,423.3L392.6,424.3L392.5,425.3L392.4,426.3L392.3,427.3L393.5,427.5L394.7,427.6L395.0,426.7L395.4,425.7L395.7,424.8L395.5,423.5L395.2,422.2L394.8,421.0L393.2,419.4L391.6,417.8L392.3,417.6L393.1,417.4L393.4,416.8L393.7,416.3L394.0,415.8L394.3,415.2L394.6,414.7L394.9,414.2L395.1,413.6L395.5,413.2L395.8,412.7L396.2,412.3L396.5,411.8L396.8,411.4L397.1,410.9L396.3,409.8L395.5,408.8L396.0,408.5L396.5,408.1L397.0,407.8L397.4,407.4L397.9,407.1L398.8,406.9L399.7,406.7L397.5,405.7L395.3,404.7L393.1,403.7L392.5,402.9L391.8,402.2L391.1,401.4L390.4,400.7L390.4,400.3L390.3,399.8L390.2,399.4L390.0,399.0L389.9,398.5L389.8,398.1L389.6,397.7L389.2,397.2L388.7,396.7L388.2,396.2L387.7,395.8L387.2,395.3L386.7,394.9L386.1,394.5L385.7,394.1L385.3,393.7L384.9,393.3L384.5,392.9L384.0,392.6L383.6,392.2L383.1,391.9L382.7,391.6L382.2,391.2L381.7,390.9L381.2,390.6L380.8,390.3L380.3,390.0L379.8,389.8L379.3,389.5L378.9,389.2L378.4,389.0L377.9,388.7L378.6,388.4L379.3,388.0L380.0,387.6L380.6,387.3L381.2,386.9L381.8,386.5L382.3,386.1L382.8,385.6L382.7,385.3L382.6,384.9L382.5,384.6L382.4,384.2L382.2,383.9L382.1,383.5L381.9,383.2L381.7,382.8L381.5,382.5L381.3,382.1L381.1,381.8L380.8,381.4L380.5,381.0L380.3,380.7L380.0,380.3L379.6,380.0L379.3,379.7L378.6,379.4L377.9,379.2L377.2,379.0L376.6,378.8L375.9,378.6L375.2,378.4L374.5,378.2L373.8,378.1L373.1,377.9L372.4,377.7L371.9,377.5L371.4,377.2L370.9,377.0L370.4,376.7L369.8,376.5L369.3,376.2L368.7,376.0L368.2,375.8L367.6,375.5L367.0,375.3L366.5,375.1L365.9,374.8L365.3,374.6L364.7,374.3L364.1,374.1L363.5,373.8L362.8,373.6L362.1,373.4L361.5,373.2L360.8,373.0L360.0,372.9L359.2,372.9L358.4,372.8L357.7,372.8L356.9,372.8L356.1,372.8L355.3,372.7L354.5,372.7L353.8,372.8L353.0,372.8L352.2,372.7L351.4,372.7L350.7,372.6L349.9,372.6L349.1,372.5L348.3,372.5L347.4,372.5L346.6,372.5L345.8,372.5L345.0,372.5L345.0,371.8L345.0,371.2L345.1,370.5L345.3,369.9L346.1,369.6L347.0,369.3L347.9,369.0L348.8,368.8L349.8,368.5L350.8,368.3L351.9,368.1L353.0,367.9L354.1,367.8L355.3,367.8L356.5,367.7L357.7,367.7L358.9,367.7L360.1,367.7L361.3,367.7L362.8,367.6L364.3,367.6L365.8,367.6L367.5,367.7L369.1,367.8L370.9,368.0L372.6,368.3L372.4,368.3L372.2,368.3L372.0,368.3L371.7,368.4L371.5,368.5L371.2,368.7L372.3,368.9L373.4,369.1L374.4,369.4L375.5,369.6L376.5,369.9L377.6,370.1L378.6,370.4L379.5,370.7L380.5,371.0L381.5,371.4L382.4,371.7L383.3,372.0L384.2,372.4L385.7,372.6L387.3,373.0L388.9,373.3L390.5,373.7L392.1,374.1L393.8,374.6L395.4,375.1L394.9,374.7L394.3,374.3L393.7,373.9L393.0,373.6L392.3,373.2L391.5,372.9L392.7,373.1L393.8,373.5L395.0,373.8L396.2,374.2L398.1,374.9L400.0,375.7L401.9,376.4L403.9,377.3L405.9,378.1L407.9,379.0L409.8,380.0L411.6,380.9L413.4,381.8L415.2,382.8L417.0,383.8L419.0,385.0L421.0,386.2L421.5,386.5L422.0,386.8L422.5,387.1L422.9,387.4L424.9,388.7L426.8,390.0L425.7,389.2L424.6,388.5L423.5,387.8L423.4,387.7L425.0,388.7L426.5,389.8L428.1,390.9L429.4,391.9L430.7,392.8L432.0,393.8L431.5,393.4L430.9,393.0L430.3,392.5L429.7,392.1L432.2,394.0L434.7,396.0L435.2,396.4L435.6,396.8L436.1,397.1L436.8,397.7L437.6,398.4L439.3,399.9L441.1,401.6L442.8,403.2L444.6,404.9L446.5,406.9L448.3,408.9L450.1,410.9L451.9,412.9L453.6,415.0L454.9,416.6L456.1,418.3L457.3,419.9L458.5,421.6L459.2,422.5L459.8,423.4L461.3,425.7L462.7,428.0L464.4,430.7L464.8,431.5L465.3,432.2L465.7,433.0L466.1,433.8L466.5,434.6L466.9,435.3L467.4,436.1L468.6,438.6L469.8,441.1L471.0,443.7L472.1,446.2L471.7,445.3L471.7,445.4L471.8,445.4L471.8,445.4L472.5,447.2L473.2,448.9L473.9,450.7L474.5,452.5L474.9,453.7L475.3,454.8L475.7,456.0L476.0,456.9L476.3,457.8L476.5,458.7L476.8,459.6L477.1,460.5L477.2,460.9L477.3,461.2L477.0,460.2L476.7,459.3L476.4,458.3L476.1,457.3L475.8,456.3L475.2,454.4L474.5,452.5L474.0,451.1L473.5,449.6L472.9,448.2L472.3,446.8L471.7,445.4L471.1,444.0L471.7,445.3L472.2,446.6L472.8,447.9L472.1,446.4L471.5,444.8L470.8,443.4L470.7,443.2L470.4,443.1L470.6,444.0L470.8,444.8L471.3,446.3L471.7,447.9L472.1,449.4L473.4,452.4L474.3,455.3L475.2,458.2L475.9,461.2L476.6,464.1L477.4,466.9L478.1,469.7L478.7,472.5L479.3,475.1L479.9,477.8L480.3,481.3L480.6,484.8L479.7,483.4L479.3,482.2L478.7,480.9L478.2,479.7L477.5,478.3L476.8,476.9L476.0,475.5L475.1,474.2L474.4,472.5L473.7,470.8L472.9,469.2L472.0,467.8L471.2,468.5L470.4,469.2L468.9,469.3L467.7,469.0L466.4,468.6L465.9,470.0L465.3,471.4L464.7,472.8L464.0,474.2L463.2,475.3L462.3,476.4L461.4,477.4L460.4,478.5L458.4,477.2L457.6,479.0L456.7,480.8L455.0,481.0L453.3,481.2L451.5,479.9L449.8,478.6L448.4,480.4L448.9,482.4L451.0,483.8L453.0,485.3L455.6,486.1L456.4,488.0L457.3,486.9L458.2,485.7L459.1,484.5L459.0,478.9L460.6,481.9L462.0,481.5L463.2,481.2L464.9,481.9L465.4,484.8L465.7,487.8L466.0,490.7L465.5,494.2L464.8,497.6L463.9,500.6L462.9,503.6L462.1,505.6L461.2,507.7L460.2,509.8L459.2,511.8L458.2,513.6L457.1,515.3L456.0,517.0L454.0,519.0L453.2,517.3L452.3,515.6L451.3,512.5L449.0,510.7L447.4,509.2L445.7,507.6L443.6,505.7L442.1,504.0L440.6,502.2L438.9,500.9L437.1,499.5L435.5,498.1L433.8,496.6L432.3,493.8L430.0,490.7L429.7,487.0L428.8,483.2L428.3,480.2L427.7,478.4L425.4,479.3L424.4,480.8L423.4,482.3L421.9,482.6L420.3,482.9L418.7,483.5L417.0,484.1L415.0,483.1L413.2,481.4L411.8,479.6L411.5,477.8L412.8,476.9L414.1,476.1L414.2,474.5L415.8,473.6L417.3,472.6L418.5,471.3L419.7,469.9L420.8,468.6L422.3,468.5L423.8,468.4L425.4,468.3L426.5,467.1L427.6,465.8L428.6,464.6L427.4,462.7L424.7,462.0L423.0,461.7L421.3,461.4L419.9,460.4L418.8,460.8L417.9,462.2L417.2,463.4L416.3,464.7L414.2,463.6L414.7,461.8L412.9,462.0L411.1,462.2L410.8,464.4L410.9,465.8L410.7,468.4L411.1,471.3L412.4,474.1L414.1,474.3L412.9,475.2L411.7,476.1L410.4,477.0L409.0,477.6L407.6,478.2L406.4,479.4L405.8,479.6L407.6,482.6L409.8,484.1L408.7,485.7L408.7,488.2L407.3,488.0L405.7,486.2L405.4,485.1L404.0,483.4L402.6,482.8L401.3,481.8L400.4,478.5L398.4,477.5L396.6,476.9L394.8,476.3L392.4,475.4L390.2,474.4L389.2,473.2L387.4,473.9L388.2,476.5L390.5,477.6L393.0,480.1L395.4,481.1L397.7,481.9L400.1,482.7L397.5,482.5L397.6,485.1L398.7,485.7L397.6,488.4L396.7,487.9L396.3,485.3L394.6,484.1L393.0,483.2L391.2,482.5L389.3,481.8L387.1,480.7L385.1,477.9L382.9,477.3L381.0,479.0L379.0,481.0L376.9,480.6L374.5,481.5L374.6,483.3L374.9,484.4L373.4,485.7L371.4,486.9L370.2,489.7L369.8,490.7L370.8,491.9L369.7,493.2L369.3,494.8L367.2,497.0L365.2,497.2L363.1,497.3Z" fill="#d6daaf"/><path d="M339.6,401.3L339.9,401.4L340.1,401.4L340.4,401.5L340.7,401.6L340.9,401.7L341.2,401.8L341.5,401.9L341.8,401.9L342.0,402.0L342.3,402.1L342.6,402.1L342.9,402.2L343.2,402.2L343.4,402.3L343.7,402.3L344.0,402.4L344.3,402.4L344.6,402.4L344.9,402.4L345.2,402.5L345.5,402.5L345.8,402.5L346.0,402.5L346.3,402.5L346.6,402.5L346.9,402.5L347.2,402.5L347.5,402.5L347.7,402.5L348.0,402.5L348.1,402.7L348.3,403.0L348.4,403.3L348.6,403.6L348.8,403.8L349.0,404.1L349.2,404.4L349.4,404.7L349.6,404.9L349.9,405.2L350.1,405.4L350.4,405.7L350.7,405.9L351.0,406.1L351.3,406.3L351.6,406.6L352.0,406.8L352.3,407.0L351.9,407.7L351.5,408.3L351.0,409.0L350.5,409.7L350.0,410.4L349.4,411.0L348.8,413.1L348.1,415.3L347.4,417.4L346.6,419.6L345.8,421.4L345.0,423.2L344.0,425.0L343.1,425.8L342.1,426.6L341.0,427.4L340.0,428.2L339.2,428.2L338.3,428.1L337.5,428.0L336.7,427.9L335.9,427.8L335.1,427.7L334.3,427.6L333.1,428.4L331.8,429.1L330.6,429.8L329.3,430.5L328.0,431.2L326.5,432.3L324.9,433.3L323.4,434.2L321.6,436.1L319.8,438.0L318.0,439.9L317.3,439.1L316.6,438.3L316.0,437.5L315.3,436.3L314.7,435.2L315.6,432.4L316.5,429.6L317.5,427.4L318.6,425.2L319.5,423.3L320.5,421.5L322.1,420.8L323.8,420.2L323.6,419.4L323.5,418.7L323.4,417.9L325.6,414.9L326.6,413.2L327.8,411.5L329.0,409.9L328.8,409.5L328.6,409.1L328.4,408.7L328.2,408.3L328.1,407.9L327.9,407.5L327.8,407.2L327.7,406.8L327.8,406.2L328.0,405.7L328.2,405.2L328.4,404.6L328.6,404.1L329.2,403.4L329.9,402.7L330.5,402.8L331.1,402.8L331.7,402.8L332.3,402.8L332.9,402.9L333.5,402.9L334.1,402.9L334.7,402.8L335.7,402.5L336.7,402.2L337.7,401.9L338.6,401.6Z" fill="#f1f2f6"/><path d="M303.6,426.7L303.6,425.5L303.7,424.3L303.8,423.1L303.7,422.2L303.6,421.4L303.5,420.5L303.7,419.5L303.8,418.6L304.0,417.6L306.1,416.7L308.3,415.8L308.4,414.8L308.5,413.9L308.7,413.1L308.9,412.2L309.7,411.0L310.6,409.9L311.5,408.8L311.9,408.1L312.2,407.3L312.6,406.6L313.0,405.9L313.5,405.2L314.3,404.3L315.2,403.5L316.1,402.7L317.0,401.9L317.2,402.3L317.4,402.6L317.7,403.0L317.9,403.3L318.1,403.7L318.4,404.0L318.6,404.4L318.9,404.7L319.2,405.0L318.8,405.7L318.4,406.3L318.1,407.0L317.8,407.7L317.5,408.4L317.2,409.1L316.8,410.0L316.5,410.8L316.2,411.7L315.9,412.6L315.5,413.8L315.1,414.9L314.4,416.2L313.7,417.6L313.1,418.9L312.9,420.2L312.7,421.4L309.5,423.0L307.5,424.3L305.5,425.5Z" fill="#e4e6dc"/><path d="M324.4,399.1L324.4,399.5L324.3,399.8L324.3,400.2L324.2,400.6L324.2,400.9L324.2,401.3L324.2,401.6L324.2,402.0L324.3,402.4L324.3,402.7L325.2,402.7L326.1,402.7L326.9,402.7L327.8,402.6L328.7,402.6L329.7,402.5L330.7,402.3L331.7,402.2L332.6,402.0L333.6,401.8L334.3,401.7L335.1,401.7L335.8,401.5L336.5,401.4L337.3,401.3L338.0,401.2L338.7,401.0L339.4,400.9L339.3,400.7L339.2,400.5L339.1,400.3L339.1,400.0L339.0,399.8L339.0,399.6L338.9,399.4L338.9,399.2L338.8,399.0L338.8,398.9L338.8,398.7L338.8,398.5L338.8,398.3L338.4,398.2L338.0,398.2L337.6,398.1L337.2,398.0L336.8,398.0L336.4,397.9L336.1,397.8L335.7,397.7L335.3,397.6L334.9,397.5L334.6,397.4L334.2,397.2L333.8,397.1L333.5,397.0L333.1,396.9L331.8,396.9L330.4,397.0L329.0,397.1L327.6,397.1L326.3,397.1L325.9,397.5L325.5,397.9L325.1,398.3L324.8,398.7Z" fill="#e8eae2"/><path d="M321.6,403.9L321.3,403.6L321.1,403.3L320.8,403.0L320.6,402.7L320.3,402.4L320.1,402.1L319.9,401.7L319.6,401.4L319.4,401.1L319.2,400.8L319.0,400.4L318.9,400.1L322.5,399.0L322.7,399.3L322.8,399.6L323.0,399.9L323.1,400.2L323.3,400.5L323.5,400.8L323.6,401.1L323.8,401.4L324.0,401.7L324.3,402.0L324.5,402.3L324.7,402.6Z" fill="#e4e6dc"/><path d="M307.4,397.7L307.7,398.2L308.1,398.6L308.5,399.0L311.5,398.0L312.7,397.3L313.9,396.6L315.1,396.0L316.3,395.4L316.3,395.0L316.3,394.6L316.2,394.3L316.2,393.9L316.2,393.5L316.2,393.1L316.3,392.8L316.1,392.4L315.9,392.0L315.8,391.6L315.7,391.2L315.6,390.7L313.9,390.7L313.2,391.1L312.5,391.6L311.9,392.1L311.2,392.6L310.9,392.1L310.7,391.6L310.1,392.1L309.5,392.7L308.9,393.2L308.3,393.8L307.8,394.4L307.5,394.9L307.3,395.4L307.0,395.9L306.8,396.4L307.0,396.9L307.2,397.3Z" fill="#e0e3d4"/><path d="M314.4,400.3L314.4,400.7L314.5,401.1L314.6,401.5L314.7,401.9L314.8,402.3L318.0,401.2L317.9,400.8L317.8,400.4L317.7,400.1L317.6,399.7L317.6,399.3Z" fill="#e0e3d4"/><path d="M340.1,434.3L341.2,433.5L342.3,432.8L343.2,432.8L344.0,432.9L344.9,433.0L345.8,433.0L346.7,433.1L347.6,433.1L348.4,434.1L349.3,435.2L348.1,437.5L347.1,438.1L346.0,438.6L345.0,439.1L344.0,438.8L343.1,438.4L342.1,438.0L340.8,437.4Z" fill="#d9dcc8"/><path d="M362.2,410.1L362.4,409.5L362.5,409.0L362.7,408.4L362.7,407.8L362.8,407.3L363.1,407.1L363.4,406.9L363.7,406.7L364.0,406.5L364.3,406.3L364.5,406.1L365.1,406.3L365.7,406.5L366.2,406.6L366.8,406.7L367.4,406.9L367.4,407.4L367.4,407.9L367.3,408.4L367.3,409.0L367.2,409.5L367.1,410.1L367.0,410.6L366.8,411.1L366.6,411.7L366.4,412.2L366.2,412.8L365.3,412.1L364.4,411.4L363.6,411.0L362.9,410.6Z" fill="#e8e9e4"/><path d="M390.1,411.0L389.2,409.9L388.3,408.8L387.4,407.8L386.5,406.7L385.5,405.8L384.5,404.8L383.4,403.9L382.3,403.0L382.3,402.6L382.3,402.2L382.2,401.8L382.2,401.4L382.1,401.0L382.0,400.6L381.9,400.3L381.8,399.9L382.3,400.4L382.9,400.9L383.4,401.5L383.8,402.1L384.3,402.6L384.8,403.2L385.6,404.0L386.4,404.8L387.2,405.7L388.0,406.5L388.7,407.4L390.4,408.9L392.0,410.4L391.4,410.6L390.7,410.8Z" fill="#e2e4da"/><path d="M359.2,467.7L360.7,467.3L362.1,466.8L363.5,466.3L364.9,465.8L366.3,465.3L367.6,464.8L369.0,464.3L368.9,461.2L366.8,459.7L365.8,457.4L363.6,455.2L362.6,452.1L362.9,451.0L361.5,451.1L360.2,451.2L361.2,449.1L360.0,449.1L358.9,449.2L358.2,451.6L357.7,453.7L358.6,456.2L359.7,457.3L361.9,458.0L362.4,460.3L360.3,460.5L361.0,462.6L359.7,464.0L361.2,464.2L362.8,464.4L360.7,465.0Z" fill="#cdd6a4"/><path d="M358.5,462.9L358.2,460.1L358.7,457.7L356.5,456.3L355.2,456.6L353.0,458.7L353.1,460.9L352.6,463.9L353.7,464.6L355.5,463.9L357.0,463.4Z" fill="#c9d39f"/><path d="M461.5,556.3L461.5,557.7L461.3,559.1L461.2,560.4L460.1,562.5L459.0,564.6L457.9,566.7L456.8,568.7L455.6,570.7L454.4,572.7L453.3,574.5L452.2,576.1L451.1,577.8L449.7,579.2L448.4,580.5L448.6,579.7L448.7,578.9L448.8,578.1L450.0,576.2L451.1,574.2L451.8,572.7L452.4,571.2L453.1,569.7L454.9,567.3L456.7,564.9L458.0,562.6L459.4,560.2Z" fill="#d2d3a6"/><path d="M237.4,476.5L238.6,476.9L239.8,477.4L240.6,478.9L241.5,480.4L241.9,483.0L242.3,485.7L242.7,487.9L243.2,490.1L244.0,492.5L242.9,491.4L241.9,490.3L240.9,489.2L241.3,485.1L240.7,483.6L240.1,482.1L239.2,480.0L238.2,478.5Z" fill="#c6d09b"/><path d="M242.5,495.6L245.1,494.7L246.4,496.5L247.8,498.3L249.0,502.3L246.9,501.1L244.9,500.6L244.1,498.9L243.3,497.2Z" fill="#c6d09b"/><path d="M239.3,491.0L240.1,492.4L240.9,493.8L240.2,493.8L239.3,492.6Z" fill="#c6d09b"/><path d="M250.2,503.7L252.0,505.6L251.5,506.2L249.9,504.6Z" fill="#c6d09b"/><path d="M287.0,454.7L289.2,453.5L291.4,452.3L293.6,451.0L295.8,449.8L294.4,451.8L293.0,453.9L294.4,454.6L295.9,455.3L293.6,457.9L293.9,459.3L292.1,460.4L291.2,458.8L290.3,457.2L289.2,456.4L288.0,455.5Z" fill="#d3d9b4"/><path d="M391.7,490.0L393.4,489.3L395.1,488.7L396.7,487.9L396.9,491.7L394.5,491.3L392.1,490.8Z" fill="#d9d8b0"/><path d="M383.7,484.9L386.0,484.4L386.6,488.7L384.8,489.3L384.3,487.1Z" fill="#d9d8b0"/><path d="M384.3,480.2L385.3,483.6L383.7,483.3L383.4,481.3Z" fill="#d4d8ac"/><path d="M410.9,489.5L413.1,488.9L415.3,488.3L412.9,490.3Z" fill="#dedbb8"/><path d="M424.1,484.7L425.4,483.1L426.6,481.5L426.1,483.8L424.5,485.2Z" fill="#dedbb8"/><path d="M480.2,478.7L480.5,479.3L480.8,479.9L481.3,484.5L480.9,482.7L480.5,480.7Z" fill="#c6cf9a"/><path d="M316.7,388.2L316.2,388.6L315.7,389.0L315.2,389.4L314.8,389.8L314.3,390.2L315.4,390.7L316.4,391.1L319.8,390.4L320.0,390.0L320.3,389.7L320.6,389.3L320.8,389.0L321.1,388.6L319.0,388.0Z" fill="#e0e3d4"/><path d="M321.5,391.0L321.4,391.3L321.3,391.7L321.2,392.0L321.1,392.4L321.0,392.7L321.0,393.1L320.9,393.4L320.9,393.8L320.9,394.1L320.9,394.5L320.8,394.8L323.1,394.4L323.3,394.0L323.5,393.7L323.7,393.4L324.0,393.0L323.9,392.8L323.8,392.5L323.8,392.2L323.7,391.9L323.7,391.5L323.6,391.2Z" fill="#e4e6dc"/><path d="M312.1,398.3L312.2,398.7L312.4,399.1L312.6,399.5L312.8,399.9L314.9,399.4L317.1,398.9L316.8,398.5L316.6,398.2L316.4,397.9L315.6,397.6L314.9,397.2Z" fill="#e0e3d4"/><path d="M320.7,396.4L320.5,396.8L320.3,397.2L320.1,397.6L322.7,397.0L322.6,396.7L322.5,396.4L322.5,396.0Z" fill="#e4e6dc"/><path d="M327.4,396.9L327.9,397.0L328.3,397.2L328.8,397.4L329.3,397.5L329.8,397.7L333.1,396.6L332.6,396.5L332.1,396.4L331.6,396.3L331.1,396.1L330.7,396.0Z" fill="#e8eae2"/><path d="M298.1,412.1L298.2,412.8L298.3,413.5L298.3,414.2L298.4,414.9L298.6,415.6L300.8,415.0L301.2,414.0L301.6,413.0L302.1,412.1L302.6,411.1L302.0,410.7L301.4,410.4L300.9,410.0Z" fill="#dfe2d2"/><path d="M306.4,400.9L306.2,401.4L306.1,402.0L306.0,402.5L308.5,401.4L308.2,401.0L307.8,400.7Z" fill="#dfe2d2"/><path d="M319.0,398.5L319.1,399.0L319.2,399.4L320.7,399.0L320.6,398.6L320.6,398.1Z" fill="#e4e6dc"/><clipPath id="cl_af"><path d="M360.7,499.5L359.8,501.3L358.8,503.6L355.8,505.2L354.3,507.0L353.9,509.3L353.4,511.5L351.7,514.0L350.0,516.4L347.0,518.1L343.9,521.3L342.3,523.4L340.7,525.5L339.9,527.7L339.1,529.8L338.3,531.9L339.9,535.2L339.5,537.9L339.0,540.5L337.9,542.8L336.7,545.1L338.1,547.7L338.3,550.2L340.9,552.0L343.0,554.1L345.7,556.6L347.4,560.0L350.8,561.6L353.0,563.4L355.2,565.1L358.6,566.2L361.2,565.6L363.8,565.0L366.4,564.3L368.7,564.5L370.9,564.7L373.1,563.8L375.3,562.8L378.0,561.8L380.8,560.8L382.9,560.5L385.1,560.1L386.8,561.8L388.5,563.4L391.1,562.7L393.8,562.0L396.0,562.9L396.7,566.1L395.8,569.0L395.7,570.8L395.6,572.6L397.4,573.9L399.1,575.2L400.8,576.5L401.7,578.8L402.5,580.8L403.2,582.8L402.7,584.5L402.2,586.2L401.7,587.9L401.1,589.5L400.4,591.3L399.7,593.1L398.9,594.8L399.4,595.9L399.8,597.1L400.5,598.2L401.1,599.3L401.7,600.3L402.3,601.3L402.3,602.4L402.2,603.5L402.1,604.6L401.9,605.6L403.5,606.5L404.1,607.5L404.6,608.4L404.2,609.5L403.7,610.5L406.0,610.1L407.8,609.2L409.5,608.4L411.4,607.6L413.3,606.8L415.1,606.0L416.9,605.0L418.7,604.0L421.3,602.1L423.9,600.1L426.4,598.1L429.6,595.5L430.7,594.0L431.8,592.5L434.4,590.1L437.1,587.7L437.5,586.5L437.9,585.4L438.2,584.1L438.5,582.9L440.6,580.6L442.6,578.3L444.9,575.8L447.0,573.2L449.1,570.5L449.7,568.8L450.2,567.1L450.6,565.3L451.0,563.5L450.7,562.0L450.4,560.6L450.1,559.1L450.5,557.3L450.8,555.5L451.1,553.6L452.6,550.8L453.9,547.9L455.0,545.0L456.0,542.2L457.5,539.5L459.0,536.9L460.1,534.1L461.0,531.2L462.0,528.3L462.5,525.4L463.1,522.5L463.5,519.5L463.8,516.9L464.2,514.3L463.8,511.8L462.6,513.6L461.4,515.4L460.2,517.1L459.0,518.8L457.6,520.5L456.3,522.2L454.3,521.2L452.9,520.3L450.3,519.0L447.5,517.6L446.2,515.6L444.9,513.7L442.2,511.9L441.5,508.8L438.7,507.0L437.1,504.5L435.1,502.6L433.2,500.7L431.7,498.8L430.1,496.9L428.6,495.0L431.4,498.0L432.7,497.8L432.6,496.1L432.3,493.8L430.0,490.7L428.6,491.5L427.2,492.3L425.5,493.3L423.8,494.3L421.7,495.1L419.6,495.9L417.8,496.3L416.0,496.8L414.1,496.6L412.3,496.4L410.6,496.7L408.8,496.9L407.8,499.0L408.3,501.4L407.0,503.5L405.1,503.3L403.2,503.1L401.3,502.9L399.4,501.0L397.5,500.9L395.7,500.8L392.6,500.9L390.5,499.6L390.8,496.7L388.8,493.3L389.9,492.8L388.1,492.5L385.7,493.9L384.0,494.0L382.2,494.1L380.2,494.7L378.2,495.2L376.2,495.8L374.6,496.7L372.9,497.7L371.2,498.7L368.6,500.3L366.0,500.3L363.8,499.7L361.6,499.2Z"/></clipPath><g clip-path="url(#cl_af)"><path d="M330.8,558.1L333.0,558.4L335.2,558.6L337.4,558.7L339.6,558.9L341.9,559.0L344.1,559.1L346.3,559.2L348.5,559.3L350.8,559.3L353.0,559.3L355.2,559.3L357.5,559.3L359.7,559.2L361.9,559.1L364.1,559.0L366.4,558.9L368.6,558.7L370.8,558.6L373.0,558.4L375.2,558.1L377.4,557.9L379.6,557.6L381.7,557.3L383.9,557.0L386.1,556.7L388.2,556.3L390.3,555.9L392.5,555.5L394.6,555.1L396.7,554.6L398.8,554.2L400.9,553.7L402.9,553.1L405.0,552.6L407.0,552.0L409.0,551.5L411.0,550.8L413.0,550.2L414.9,549.6L416.9,548.9L418.8,548.2L420.7,547.5L422.6,546.8L424.4,546.0L426.3,545.3L428.1,544.5L429.9,543.7L431.6,542.8L433.4,542.0L435.1,541.1L436.8,540.2L438.5,539.3L440.1,538.4L441.7,537.5L443.3,536.5L444.9,535.6L446.4,534.6L447.9,533.6L449.4,532.6L450.9,531.5L452.3,530.5L453.7,529.4L455.0,528.4L456.3,527.3L457.6,526.2L458.9,525.0L460.1,523.9L461.3,522.8L462.5,521.6L463.6,520.4L464.7,519.3L465.8,518.1L466.8,516.9L467.8,515.6L468.8,514.4L468.5,512.6L468.1,510.7L467.8,508.9L467.4,507.0L466.9,505.1L466.4,503.2L465.9,501.4L465.4,499.5L464.5,500.7L463.5,501.9L462.5,503.0L461.5,504.2L460.4,505.3L459.3,506.5L458.2,507.6L457.0,508.7L455.8,509.8L454.6,510.9L453.3,512.0L452.0,513.0L450.7,514.1L449.4,515.1L448.0,516.1L446.6,517.1L445.2,518.1L443.7,519.1L442.2,520.0L440.7,521.0L439.1,521.9L437.6,522.8L436.0,523.7L434.4,524.6L432.7,525.4L431.0,526.3L429.3,527.1L427.6,527.9L425.9,528.7L424.1,529.4L422.3,530.2L420.5,530.9L418.7,531.6L416.9,532.3L415.0,533.0L413.1,533.6L411.2,534.2L409.3,534.9L407.4,535.4L405.4,536.0L403.4,536.6L401.5,537.1L399.5,537.6L397.4,538.1L395.4,538.5L393.4,539.0L391.3,539.4L389.3,539.8L387.2,540.2L385.1,540.5L383.0,540.8L380.9,541.1L378.8,541.4L376.7,541.7L374.5,541.9L372.4,542.1L370.3,542.3L368.1,542.5L366.0,542.7L363.8,542.8L361.6,542.9L359.5,543.0L357.3,543.0L355.2,543.1L353.0,543.1L350.8,543.1L348.7,543.0L346.5,543.0L344.4,542.9L342.2,542.8L340.0,542.7L337.9,542.5L335.7,542.3L333.6,542.1L331.5,541.9L331.4,544.0L331.3,546.1L331.2,548.1L331.1,550.2L331.0,552.2L330.9,554.2L330.9,556.2Z" fill="#dcdcb2" fill-opacity="1"/><path d="M331.6,599.7L333.7,599.9L335.8,600.1L338.0,600.3L340.1,600.4L342.2,600.5L344.4,600.6L346.5,600.7L348.7,600.8L350.8,600.8L353.0,600.8L355.2,600.8L357.3,600.8L359.5,600.7L361.6,600.6L363.8,600.5L365.9,600.4L368.0,600.3L370.2,600.1L372.3,599.9L374.4,599.7L376.5,599.4L378.6,599.2L380.8,598.9L382.8,598.6L384.9,598.3L387.0,597.9L389.1,597.5L391.1,597.1L393.2,596.7L395.2,596.3L397.2,595.8L399.2,595.4L401.2,594.9L403.2,594.3L405.1,593.8L407.1,593.2L409.0,592.6L410.9,592.0L412.8,591.4L414.7,590.8L416.5,590.1L418.4,589.4L420.2,588.7L422.0,588.0L423.8,587.2L425.5,586.5L427.2,585.7L429.0,584.9L430.6,584.1L432.3,583.3L433.9,582.4L435.5,581.5L437.1,580.6L438.7,579.7L440.2,578.8L441.7,577.9L443.2,576.9L444.7,576.0L446.1,575.0L447.5,574.0L448.9,573.0L450.2,572.0L451.5,570.9L452.8,569.9L454.1,568.8L455.3,567.7L456.5,566.6L457.6,565.5L458.7,564.4L459.8,563.3L460.9,562.1L461.9,561.0L462.9,559.8L463.9,558.6L464.8,557.5L465.4,555.9L465.9,554.3L466.4,552.8L466.9,551.2L467.4,549.5L467.8,547.9L468.1,546.3L468.5,544.6L468.8,542.9L469.0,541.2L469.3,539.5L469.5,537.8L469.6,536.0L469.8,534.3L469.8,532.5L469.9,530.8L469.9,529.0L469.9,527.2L469.8,525.4L469.8,523.6L469.6,521.8L469.5,519.9L469.3,518.1L469.0,516.3L468.8,514.4L467.8,515.6L466.8,516.9L465.8,518.1L464.7,519.3L463.6,520.4L462.5,521.6L461.3,522.8L460.1,523.9L458.9,525.0L457.6,526.2L456.3,527.3L455.0,528.4L453.7,529.4L452.3,530.5L450.9,531.5L449.4,532.6L447.9,533.6L446.4,534.6L444.9,535.6L443.3,536.5L441.7,537.5L440.1,538.4L438.5,539.3L436.8,540.2L435.1,541.1L433.4,542.0L431.6,542.8L429.9,543.7L428.1,544.5L426.3,545.3L424.4,546.0L422.6,546.8L420.7,547.5L418.8,548.2L416.9,548.9L414.9,549.6L413.0,550.2L411.0,550.8L409.0,551.5L407.0,552.0L405.0,552.6L402.9,553.1L400.9,553.7L398.8,554.2L396.7,554.6L394.6,555.1L392.5,555.5L390.3,555.9L388.2,556.3L386.1,556.7L383.9,557.0L381.7,557.3L379.6,557.6L377.4,557.9L375.2,558.1L373.0,558.4L370.8,558.6L368.6,558.7L366.4,558.9L364.1,559.0L361.9,559.1L359.7,559.2L357.5,559.3L355.2,559.3L353.0,559.3L350.8,559.3L348.5,559.3L346.3,559.2L344.1,559.1L341.9,559.0L339.6,558.9L337.4,558.7L335.2,558.6L333.0,558.4L330.8,558.1L330.8,560.1L330.7,562.0L330.7,563.9L330.7,565.8L330.6,567.7L330.6,569.5L330.6,571.3L330.6,573.1L330.6,574.9L330.6,576.7L330.6,578.4L330.7,580.1L330.7,581.8L330.7,583.4L330.8,585.0L330.8,586.6L330.9,588.2L330.9,589.7L331.0,591.2L331.1,592.7L331.2,594.2L331.3,595.6L331.4,597.0L331.5,598.4Z" fill="#c3cc98" fill-opacity="1"/><path d="M334.9,618.5L336.7,618.7L338.5,618.9L340.3,619.0L342.1,619.1L343.9,619.2L345.7,619.3L347.5,619.4L349.4,619.4L351.2,619.5L353.0,619.5L354.8,619.5L356.6,619.4L358.5,619.4L360.3,619.3L362.1,619.2L363.9,619.1L365.7,619.0L367.5,618.9L369.3,618.7L371.1,618.5L372.9,618.3L374.7,618.1L376.5,617.9L378.2,617.6L380.0,617.3L381.8,617.0L383.5,616.7L385.2,616.4L387.0,616.0L388.7,615.7L390.4,615.3L392.1,614.9L393.8,614.4L395.4,614.0L397.1,613.5L398.7,613.1L400.4,612.6L402.0,612.1L403.6,611.5L405.2,611.0L406.8,610.4L408.3,609.8L409.8,609.2L411.4,608.6L412.9,608.0L414.3,607.4L415.8,606.7L417.3,606.0L418.7,605.3L420.1,604.6L421.5,603.9L422.8,603.2L424.2,602.4L425.5,601.7L426.8,600.9L428.1,600.1L429.3,599.3L430.6,598.5L431.8,597.6L432.9,596.8L434.1,595.9L435.2,595.1L436.3,594.2L437.4,593.3L438.5,592.4L439.5,591.5L440.5,590.6L441.5,589.6L442.5,588.7L443.4,587.8L444.4,586.9L445.3,585.9L446.2,585.0L447.1,584.1L447.9,583.1L449.0,581.9L450.1,580.7L451.2,579.5L452.2,578.2L453.2,577.0L454.3,575.7L455.3,574.4L456.2,573.2L457.2,571.8L458.1,570.5L459.0,569.1L459.8,567.7L460.6,566.3L461.4,564.9L462.1,563.5L462.9,562.0L463.5,560.5L464.2,559.0L464.8,557.5L463.9,558.6L462.9,559.8L461.9,561.0L460.9,562.1L459.8,563.3L458.7,564.4L457.6,565.5L456.5,566.6L455.3,567.7L454.1,568.8L452.8,569.9L451.5,570.9L450.2,572.0L448.9,573.0L447.5,574.0L446.1,575.0L444.7,576.0L443.2,576.9L441.7,577.9L440.2,578.8L438.7,579.7L437.1,580.6L435.5,581.5L433.9,582.4L432.3,583.3L430.6,584.1L429.0,584.9L427.2,585.7L425.5,586.5L423.8,587.2L422.0,588.0L420.2,588.7L418.4,589.4L416.5,590.1L414.7,590.8L412.8,591.4L410.9,592.0L409.0,592.6L407.1,593.2L405.1,593.8L403.2,594.3L401.2,594.9L399.2,595.4L397.2,595.8L395.2,596.3L393.2,596.7L391.1,597.1L389.1,597.5L387.0,597.9L384.9,598.3L382.8,598.6L380.8,598.9L378.6,599.2L376.5,599.4L374.4,599.7L372.3,599.9L370.2,600.1L368.0,600.3L365.9,600.4L363.8,600.5L361.6,600.6L359.5,600.7L357.3,600.8L355.2,600.8L353.0,600.8L350.8,600.8L348.7,600.8L346.5,600.7L344.4,600.6L342.2,600.5L340.1,600.4L338.0,600.3L335.8,600.1L333.7,599.9L331.6,599.7L331.7,601.0L331.8,602.2L332.0,603.5L332.1,604.7L332.2,605.8L332.4,607.0L332.5,608.1L332.7,609.1L332.9,610.2L333.0,611.2L333.2,612.1L333.4,613.1L333.6,613.9L333.8,614.8L334.0,615.6L334.2,616.4L334.4,617.1L334.7,617.9Z" fill="#dcd8b6" fill-opacity="1"/><path d="M330.6,576.7L332.8,576.9L335.1,577.1L337.3,577.3L339.5,577.4L341.8,577.6L344.0,577.7L346.3,577.7L348.5,577.8L350.8,577.8L353.0,577.9L355.2,577.8L357.5,577.8L359.7,577.7L362.0,577.7L364.2,577.6L366.5,577.4L368.7,577.3L370.9,577.1L373.2,576.9L375.4,576.7L377.6,576.4L379.8,576.1L382.0,575.8L384.2,575.5L386.4,575.2L388.5,574.8L390.7,574.4L392.8,574.0L395.0,573.6L397.1,573.1L399.2,572.6L401.3,572.1L403.4,571.6L405.4,571.1L407.5,570.5L409.5,569.9L411.5,569.3L413.5,568.7L415.5,568.0L417.5,567.3L419.4,566.6L421.3,565.9L423.2,565.2L425.1,564.4L426.9,563.7L428.8,562.9L430.6,562.1L432.4,561.2L434.1,560.4L435.9,559.5L437.6,558.6L439.3,557.7L440.9,556.8L442.6,555.8L444.2,554.9L445.7,553.9L447.3,552.9L448.8,551.9L450.3,550.9L451.8,549.8L453.2,548.8L454.6,547.7L456.0,546.6L457.3,545.5L458.6,544.4L459.9,543.3L461.1,542.1L462.3,541.0L463.5,539.8L464.6,538.6L465.8,537.4L466.8,536.2L467.9,535.0L468.9,533.8L469.8,532.5L469.9,530.8L469.9,529.0L469.9,527.2L469.8,525.4L469.8,523.6L469.6,521.8L469.5,519.9L468.5,521.2L467.5,522.4L466.5,523.6L465.4,524.8L464.3,526.0L463.2,527.2L462.0,528.3L460.8,529.5L459.5,530.6L458.3,531.8L457.0,532.9L455.6,534.0L454.3,535.0L452.9,536.1L451.4,537.2L450.0,538.2L448.5,539.2L447.0,540.2L445.4,541.2L443.9,542.2L442.3,543.2L440.6,544.1L439.0,545.0L437.3,545.9L435.6,546.8L433.9,547.7L432.1,548.5L430.3,549.4L428.5,550.2L426.7,551.0L424.9,551.7L423.0,552.5L421.1,553.2L419.2,553.9L417.3,554.6L415.3,555.3L413.3,556.0L411.3,556.6L409.3,557.2L407.3,557.8L405.3,558.3L403.2,558.9L401.1,559.4L399.1,559.9L397.0,560.4L394.8,560.8L392.7,561.3L390.6,561.7L388.4,562.1L386.3,562.4L384.1,562.8L381.9,563.1L379.7,563.4L377.5,563.7L375.3,563.9L373.1,564.1L370.9,564.4L368.7,564.5L366.4,564.7L364.2,564.8L362.0,564.9L359.7,565.0L357.5,565.1L355.2,565.1L353.0,565.1L350.8,565.1L348.5,565.1L346.3,565.0L344.0,564.9L341.8,564.8L339.6,564.7L337.3,564.5L335.1,564.4L332.9,564.1L330.7,563.9L330.7,565.8L330.6,567.7L330.6,569.5L330.6,571.3L330.6,573.1L330.6,574.9Z" fill="#b8c58e" fill-opacity="0.8"/><path d="M435.9,556.0L437.6,555.1L439.3,554.2L441.0,553.2L442.6,552.3L444.2,551.3L445.8,550.4L447.3,549.4L448.9,548.3L450.4,547.3L451.8,546.3L453.3,545.2L454.7,544.1L456.0,543.1L457.4,542.0L458.7,540.8L459.9,539.7L461.2,538.6L462.4,537.4L463.6,536.2L464.7,535.1L465.8,533.9L466.9,532.7L467.9,531.5L468.9,530.2L469.9,529.0L469.9,527.2L469.8,525.4L469.8,523.6L469.6,521.8L469.5,519.9L469.3,518.1L469.0,516.3L468.8,514.4L468.5,512.6L468.1,510.7L467.8,508.9L467.4,507.0L466.4,508.2L465.4,509.4L464.4,510.6L463.4,511.8L462.3,512.9L461.2,514.1L460.0,515.2L458.8,516.4L457.6,517.5L456.4,518.6L455.1,519.7L453.8,520.7L452.4,521.8L451.1,522.9L449.7,523.9L448.2,524.9L446.8,525.9L445.3,526.9L443.8,527.9L442.2,528.8L440.7,529.8L439.1,530.7L437.4,531.6L435.8,532.5L434.1,533.4L434.4,535.3L434.7,537.3L434.9,539.2L435.1,541.1L435.3,543.0L435.5,544.9L435.6,546.8L435.7,548.7L435.8,550.5L435.9,552.3L435.9,554.2Z" fill="#d9d6b0" fill-opacity="0.9"/></g><clipPath id="cl_eu"><path d="M361.0,499.0L359.7,497.2L357.7,496.4L355.0,496.9L355.1,493.1L353.9,492.9L354.9,489.0L354.8,485.7L354.2,483.4L356.3,481.8L358.0,481.9L359.8,481.9L361.7,482.1L363.6,482.2L366.4,482.0L366.9,479.4L366.7,476.1L364.9,473.6L362.9,472.8L361.0,472.1L363.4,470.1L365.5,470.4L364.8,468.0L366.3,468.1L367.8,468.2L369.6,466.4L370.5,464.3L371.9,463.4L372.7,461.1L372.8,459.8L374.1,459.0L375.3,458.2L377.4,456.9L376.3,453.6L375.1,451.0L376.2,449.8L377.3,448.6L377.7,451.1L378.6,451.6L378.1,454.3L379.9,456.2L381.7,454.8L384.3,455.3L386.0,453.9L387.3,452.9L388.5,452.0L390.4,452.2L391.1,450.1L389.4,447.0L389.2,445.5L390.8,445.5L392.3,445.4L390.2,442.8L389.4,441.2L390.4,440.7L391.4,440.2L392.3,439.6L393.3,439.0L394.0,438.2L394.8,437.3L393.3,437.3L392.5,437.7L391.6,438.2L390.7,438.6L389.8,439.0L388.7,439.6L387.7,440.3L385.8,439.2L384.4,436.6L383.1,434.1L383.5,432.8L383.9,431.5L384.3,430.2L383.0,429.0L382.2,429.3L381.4,429.6L381.8,432.3L381.4,433.6L380.9,434.9L380.5,437.2L382.0,440.7L384.3,442.0L384.2,443.8L383.9,447.2L384.9,449.9L384.0,451.1L383.0,452.2L381.2,452.3L380.6,451.1L378.1,447.7L376.8,445.8L375.7,444.3L375.2,446.2L374.1,448.4L372.9,448.5L371.7,448.6L370.8,447.1L369.4,444.1L368.7,441.0L369.5,440.1L370.2,439.1L371.0,438.1L371.7,437.1L372.3,436.2L372.8,434.0L373.1,431.8L373.1,428.7L373.4,427.6L373.7,426.4L374.0,425.3L374.2,424.2L374.4,423.1L374.8,422.5L375.3,422.0L375.7,421.4L376.1,420.8L376.6,420.4L377.1,420.0L377.6,419.6L378.5,419.5L379.4,419.4L380.5,419.4L381.5,419.4L382.7,419.8L384.0,420.2L384.7,420.1L385.5,419.9L386.3,419.8L387.3,419.9L388.3,420.0L389.3,420.1L390.3,420.1L391.4,420.2L393.2,422.3L392.6,423.3L392.6,424.3L392.5,425.3L392.4,426.3L392.3,427.3L393.5,427.5L394.7,427.6L395.0,426.7L395.4,425.7L395.7,424.8L395.5,423.5L395.2,422.2L394.8,421.0L393.2,419.4L391.6,417.8L392.3,417.6L393.1,417.4L393.4,416.8L393.7,416.3L394.0,415.8L394.3,415.2L394.6,414.7L394.9,414.2L395.1,413.6L395.5,413.2L395.8,412.7L396.2,412.3L396.5,411.8L396.8,411.4L397.1,410.9L396.3,409.8L395.5,408.8L396.0,408.5L396.5,408.1L397.0,407.8L397.4,407.4L397.9,407.1L398.8,406.9L399.7,406.7L397.5,405.7L395.3,404.7L393.1,403.7L392.5,402.9L391.8,402.2L391.1,401.4L390.4,400.7L390.4,400.3L390.3,399.8L390.2,399.4L390.0,399.0L389.9,398.5L389.8,398.1L389.6,397.7L389.2,397.2L388.7,396.7L388.2,396.2L387.7,395.8L387.2,395.3L386.7,394.9L386.1,394.5L385.7,394.1L385.3,393.7L384.9,393.3L384.5,392.9L384.0,392.6L383.6,392.2L383.1,391.9L382.7,391.6L382.2,391.2L381.7,390.9L381.2,390.6L380.8,390.3L380.3,390.0L379.8,389.8L379.3,389.5L378.9,389.2L378.4,389.0L377.9,388.7L378.6,388.4L379.3,388.0L380.0,387.6L380.6,387.3L381.2,386.9L381.8,386.5L382.3,386.1L382.8,385.6L382.7,385.3L382.6,384.9L382.5,384.6L382.4,384.2L382.2,383.9L382.1,383.5L381.9,383.2L381.7,382.8L381.5,382.5L381.3,382.1L381.1,381.8L380.8,381.4L380.5,381.0L380.3,380.7L380.0,380.3L379.6,380.0L379.3,379.7L378.6,379.4L377.9,379.2L377.2,379.0L376.6,378.8L375.9,378.6L375.2,378.4L374.5,378.2L373.8,378.1L373.1,377.9L372.4,377.7L371.9,377.5L371.4,377.2L370.9,377.0L370.4,376.7L369.8,376.5L369.3,376.2L368.7,376.0L368.2,375.8L367.6,375.5L367.0,375.3L366.5,375.1L365.9,374.8L365.3,374.6L364.7,374.3L364.1,374.1L363.5,373.8L362.8,373.6L362.1,373.4L361.5,373.2L360.8,373.0L360.0,372.9L359.2,372.9L358.4,372.8L357.7,372.8L356.9,372.8L356.1,372.8L355.3,372.7L354.5,372.7L353.8,372.8L353.0,372.8L352.2,372.7L351.4,372.7L350.7,372.6L349.9,372.6L349.1,372.5L348.3,372.5L347.4,372.5L346.6,372.5L345.8,372.5L345.0,372.5L345.0,371.8L345.0,371.2L345.1,370.5L345.3,369.9L346.1,369.6L347.0,369.3L347.9,369.0L348.8,368.8L349.8,368.5L350.8,368.3L351.9,368.1L353.0,367.9L354.1,367.8L355.3,367.8L356.5,367.7L357.7,367.7L358.9,367.7L360.1,367.7L361.3,367.7L362.8,367.6L364.3,367.6L365.8,367.6L367.5,367.7L369.1,367.8L370.9,368.0L372.6,368.3L372.4,368.3L372.2,368.3L372.0,368.3L371.7,368.4L371.5,368.5L371.2,368.7L372.3,368.9L373.4,369.1L374.4,369.4L375.5,369.6L376.5,369.9L377.6,370.1L378.6,370.4L379.5,370.7L380.5,371.0L381.5,371.4L382.4,371.7L383.3,372.0L384.2,372.4L385.7,372.6L387.3,373.0L388.9,373.3L390.5,373.7L392.1,374.1L393.8,374.6L395.4,375.1L394.9,374.7L394.3,374.3L393.7,373.9L393.0,373.6L392.3,373.2L391.5,372.9L392.7,373.1L393.8,373.5L395.0,373.8L396.2,374.2L398.1,374.9L400.0,375.7L401.9,376.4L403.9,377.3L405.9,378.1L407.9,379.0L409.8,380.0L411.6,380.9L413.4,381.8L415.2,382.8L417.0,383.8L419.0,385.0L421.0,386.2L421.5,386.5L422.0,386.8L422.5,387.1L422.9,387.4L424.9,388.7L426.8,390.0L425.7,389.2L424.6,388.5L423.5,387.8L423.4,387.7L425.0,388.7L426.5,389.8L428.1,390.9L429.4,391.9L430.7,392.8L432.0,393.8L431.5,393.4L430.9,393.0L430.3,392.5L429.7,392.1L432.2,394.0L434.7,396.0L435.2,396.4L435.6,396.8L436.1,397.1L436.8,397.7L437.6,398.4L439.3,399.9L441.1,401.6L442.8,403.2L444.6,404.9L446.5,406.9L448.3,408.9L450.1,410.9L451.9,412.9L453.6,415.0L454.9,416.6L456.1,418.3L457.3,419.9L458.5,421.6L459.2,422.5L459.8,423.4L461.3,425.7L462.7,428.0L464.4,430.7L464.8,431.5L465.3,432.2L465.7,433.0L466.1,433.8L466.5,434.6L466.9,435.3L467.4,436.1L468.6,438.6L469.8,441.1L471.0,443.7L472.1,446.2L471.7,445.3L471.7,445.4L471.8,445.4L471.8,445.4L472.5,447.2L473.2,448.9L473.9,450.7L474.5,452.5L474.9,453.7L475.3,454.8L475.7,456.0L476.0,456.9L476.3,457.8L476.5,458.7L476.8,459.6L477.1,460.5L477.2,460.9L477.3,461.2L477.0,460.2L476.7,459.3L476.4,458.3L476.1,457.3L475.8,456.3L475.2,454.4L474.5,452.5L474.0,451.1L473.5,449.6L472.9,448.2L472.3,446.8L471.7,445.4L471.1,444.0L471.7,445.3L472.2,446.6L472.8,447.9L472.1,446.4L471.5,444.8L470.8,443.4L470.7,443.2L470.4,443.1L470.6,444.0L470.8,444.8L471.3,446.3L471.7,447.9L472.1,449.4L473.4,452.4L474.3,455.3L475.2,458.2L475.9,461.2L476.6,464.1L477.4,466.9L478.1,469.7L478.7,472.5L479.3,475.1L479.9,477.8L480.3,481.3L480.6,484.8L479.7,483.4L479.3,482.2L478.7,480.9L478.2,479.7L477.5,478.3L476.8,476.9L476.0,475.5L475.1,474.2L474.4,472.5L473.7,470.8L472.9,469.2L472.0,467.8L471.2,468.5L470.4,469.2L468.9,469.3L467.7,469.0L466.4,468.6L465.9,470.0L465.3,471.4L464.7,472.8L464.0,474.2L463.2,475.3L462.3,476.4L461.4,477.4L460.4,478.5L458.4,477.2L457.6,479.0L456.7,480.8L455.0,481.0L453.3,481.2L451.5,479.9L449.8,478.6L448.4,480.4L448.9,482.4L451.0,483.8L453.0,485.3L455.6,486.1L456.4,488.0L457.3,486.9L458.2,485.7L459.1,484.5L459.0,478.9L460.6,481.9L462.0,481.5L463.2,481.2L464.9,481.9L465.4,484.8L465.7,487.8L466.0,490.7L465.5,494.2L464.8,497.6L463.9,500.6L462.9,503.6L462.1,505.6L461.2,507.7L460.2,509.8L459.2,511.8L458.2,513.6L457.1,515.3L456.0,517.0L454.0,519.0L453.2,517.3L452.3,515.6L451.3,512.5L449.0,510.7L447.4,509.2L445.7,507.6L443.6,505.7L442.1,504.0L440.6,502.2L438.9,500.9L437.1,499.5L435.5,498.1L433.8,496.6L432.3,493.8L430.0,490.7L429.7,487.0L428.8,483.2L428.3,480.2L427.7,478.4L425.4,479.3L424.4,480.8L423.4,482.3L421.9,482.6L420.3,482.9L418.7,483.5L417.0,484.1L415.0,483.1L413.2,481.4L411.8,479.6L411.5,477.8L412.8,476.9L414.1,476.1L414.2,474.5L415.8,473.6L417.3,472.6L418.5,471.3L419.7,469.9L420.8,468.6L422.3,468.5L423.8,468.4L425.4,468.3L426.5,467.1L427.6,465.8L428.6,464.6L427.4,462.7L424.7,462.0L423.0,461.7L421.3,461.4L419.9,460.4L418.8,460.8L417.9,462.2L417.2,463.4L416.3,464.7L414.2,463.6L414.7,461.8L412.9,462.0L411.1,462.2L410.8,464.4L410.9,465.8L410.7,468.4L411.1,471.3L412.4,474.1L414.1,474.3L412.9,475.2L411.7,476.1L410.4,477.0L409.0,477.6L407.6,478.2L406.4,479.4L405.8,479.6L407.6,482.6L409.8,484.1L408.7,485.7L408.7,488.2L407.3,488.0L405.7,486.2L405.4,485.1L404.0,483.4L402.6,482.8L401.3,481.8L400.4,478.5L398.4,477.5L396.6,476.9L394.8,476.3L392.4,475.4L390.2,474.4L389.2,473.2L387.4,473.9L388.2,476.5L390.5,477.6L393.0,480.1L395.4,481.1L397.7,481.9L400.1,482.7L397.5,482.5L397.6,485.1L398.7,485.7L397.6,488.4L396.7,487.9L396.3,485.3L394.6,484.1L393.0,483.2L391.2,482.5L389.3,481.8L387.1,480.7L385.1,477.9L382.9,477.3L381.0,479.0L379.0,481.0L376.9,480.6L374.5,481.5L374.6,483.3L374.9,484.4L373.4,485.7L371.4,486.9L370.2,489.7L369.8,490.7L370.8,491.9L369.7,493.2L369.3,494.8L367.2,497.0L365.2,497.2L363.1,497.3Z"/></clipPath><g clip-path="url(#cl_eu)"><path d="M440.7,529.8L442.2,528.8L443.8,527.9L445.3,526.9L446.8,525.9L448.2,524.9L449.7,523.9L451.1,522.9L452.4,521.8L453.8,520.7L455.1,519.7L456.4,518.6L457.6,517.5L458.8,516.4L460.0,515.2L461.2,514.1L462.3,512.9L463.4,511.8L464.4,510.6L465.4,509.4L466.4,508.2L467.4,507.0L468.3,505.8L469.2,504.5L470.0,503.3L470.8,502.0L471.6,500.8L472.3,499.5L473.0,498.3L472.5,496.4L472.0,494.6L471.5,492.8L470.9,490.9L470.3,489.1L469.7,487.3L469.0,485.4L468.3,483.6L467.5,481.8L466.8,480.0L465.9,478.1L465.1,476.3L464.2,474.5L463.3,472.7L462.3,471.0L461.3,469.2L460.3,467.4L459.2,465.6L458.2,463.9L457.0,462.1L456.4,463.2L455.8,464.3L455.1,465.4L454.4,466.5L453.7,467.6L452.9,468.7L452.1,469.7L451.3,470.8L450.5,471.8L449.6,472.8L448.7,473.9L447.7,474.9L446.8,475.9L445.8,476.9L444.7,477.8L443.7,478.8L442.6,479.8L441.5,480.7L440.4,481.6L439.2,482.6L438.0,483.5L436.8,484.4L435.6,485.3L434.3,486.1L433.0,487.0L431.7,487.8L430.4,488.7L429.0,489.5L429.8,491.5L430.6,493.6L431.4,495.6L432.1,497.6L432.8,499.7L433.5,501.7L434.2,503.7L434.9,505.8L435.5,507.8L436.1,509.8L436.7,511.9L437.2,513.9L437.7,515.9L438.2,517.9L438.7,519.9L439.1,521.9L439.6,523.9L439.9,525.9L440.3,527.8Z" fill="#e8dec8" fill-opacity="1"/><path d="M447.6,494.4L448.8,493.4L449.9,492.3L451.1,491.3L452.1,490.3L453.2,489.2L454.3,488.1L455.3,487.1L456.2,486.0L457.2,484.9L458.1,483.7L459.0,482.6L459.8,481.5L460.6,480.4L461.4,479.2L462.1,478.1L462.9,476.9L463.5,475.7L464.2,474.5L464.8,473.4L465.4,472.2L465.9,471.0L466.4,469.8L466.9,468.6L467.4,467.3L467.8,466.1L468.1,464.9L468.5,463.7L468.8,462.5L469.0,461.2L469.3,460.0L469.5,458.8L468.5,457.1L467.5,455.4L466.5,453.8L465.4,452.2L464.3,450.6L463.2,449.0L462.0,447.4L460.8,445.8L459.5,444.2L458.3,442.7L457.0,441.2L455.6,439.7L454.3,438.2L452.9,436.7L451.4,435.3L451.3,436.3L451.1,437.3L450.9,438.4L450.6,439.4L450.3,440.5L450.0,441.5L449.7,442.5L449.3,443.5L448.9,444.6L448.5,445.6L448.0,446.6L447.5,447.6L447.0,448.6L446.4,449.6L445.9,450.6L445.3,451.6L444.6,452.6L444.0,453.5L443.3,454.5L442.6,455.4L441.8,456.4L441.0,457.3L440.3,458.3L439.4,459.2L438.6,460.1L437.7,461.0L436.8,461.9L435.9,462.8L434.9,463.7L433.9,464.5L432.9,465.4L434.1,467.3L435.2,469.2L436.3,471.1L437.4,473.0L438.5,474.9L439.5,476.8L440.5,478.8L441.5,480.7L442.5,482.7L443.4,484.6L444.3,486.6L445.1,488.5L446.0,490.5L446.8,492.4Z" fill="#e3dbc0" fill-opacity="1"/><path d="M437.3,467.4L438.3,466.5L439.2,465.6L440.1,464.7L441.0,463.7L441.9,462.8L442.8,461.8L443.6,460.9L444.4,459.9L445.1,458.9L445.9,458.0L446.6,457.0L447.3,456.0L447.9,455.0L448.5,454.0L449.1,452.9L449.7,451.9L450.2,450.9L450.7,449.8L451.2,448.8L451.6,447.8L452.0,446.7L452.4,445.7L452.8,444.6L453.1,443.5L453.4,442.5L453.7,441.4L453.9,440.3L454.1,439.3L454.3,438.2L452.9,436.7L451.4,435.3L450.0,433.8L448.5,432.4L447.0,431.0L445.4,429.6L443.9,428.3L442.3,426.9L440.6,425.6L439.0,424.3L437.3,423.1L437.2,423.9L437.0,424.8L436.8,425.7L436.6,426.6L436.3,427.5L436.1,428.4L435.8,429.3L435.5,430.2L435.1,431.0L434.7,431.9L434.4,432.8L433.9,433.6L433.5,434.5L433.0,435.3L432.5,436.2L432.0,437.0L431.5,437.9L430.9,438.7L430.3,439.5L429.7,440.3L429.1,441.1L428.4,442.0L427.7,442.7L427.0,443.5L426.3,444.3L425.5,445.1L424.8,445.9L424.0,446.6L423.2,447.4L424.6,449.1L425.9,450.9L427.3,452.7L428.6,454.5L429.9,456.3L431.2,458.1L432.5,460.0L433.7,461.8L434.9,463.7L436.1,465.5Z" fill="#e0ddb8" fill-opacity="1"/><path d="M402.3,413.2L402.6,412.7L402.9,412.2L403.2,411.6L403.4,411.1L403.7,410.6L403.9,410.0L404.1,409.5L404.3,408.9L404.5,408.4L404.7,407.9L404.8,407.3L405.0,406.8L405.1,406.2L405.2,405.6L405.3,405.1L405.3,404.5L405.4,404.0L405.4,403.4L405.5,402.9L405.5,402.3L405.5,401.7L405.4,401.2L405.4,400.6L405.3,400.1L405.3,399.5L405.2,399.0L405.1,398.4L405.0,397.9L404.8,397.3L404.7,396.8L404.5,396.2L404.3,395.7L404.1,395.1L403.9,394.6L403.7,394.0L403.4,393.5L403.2,393.0L402.9,392.4L402.6,391.9L402.3,391.4L402.0,390.9L401.6,390.3L401.3,389.8L400.9,389.3L400.6,388.8L400.2,388.3L399.8,387.8L399.3,387.3L398.9,386.8L398.4,386.3L398.0,385.9L397.5,385.4L397.0,384.9L396.5,384.4L396.0,384.0L395.4,383.5L394.9,383.1L394.3,382.6L393.8,382.2L393.2,381.8L392.6,381.4L392.0,380.9L391.4,380.5L390.7,380.1L390.1,379.7L389.4,379.3L388.8,378.9L388.1,378.6L387.4,378.2L386.7,377.8L386.0,377.5L385.3,377.1L384.6,376.8L383.8,376.5L383.1,376.1L382.3,375.8L381.6,375.5L380.8,375.2L380.0,374.9L379.2,374.6L378.4,374.4L377.6,374.1L376.8,373.8L376.0,373.6L375.2,373.4L374.3,373.1L373.5,372.9L372.7,372.7L371.8,372.5L370.9,372.3L370.1,372.1L369.2,371.9L368.3,371.8L367.5,371.6L366.6,371.5L365.7,371.3L364.8,371.2L363.9,371.1L363.0,371.0L362.1,370.8L361.2,370.8L360.3,370.7L359.4,370.6L358.5,370.5L357.6,370.5L356.7,370.4L355.7,370.4L354.8,370.4L353.9,370.4L353.0,370.4L352.1,370.4L351.2,370.4L350.3,370.4L349.3,370.4L348.4,370.5L347.5,370.5L346.6,370.6L345.7,370.7L344.8,370.8L343.9,370.8L343.0,371.0L342.1,371.1L341.2,371.2L340.3,371.3L339.4,371.5L338.5,371.6L337.7,371.8L336.8,371.9L335.9,372.1L335.1,372.3L335.8,372.8L336.5,373.3L337.2,373.8L337.9,374.4L338.6,375.0L339.4,375.7L340.1,376.4L340.8,377.1L341.6,377.8L342.3,378.6L343.1,379.5L343.8,380.4L344.6,381.3L345.3,382.2L345.7,382.1L346.1,382.0L346.5,382.0L346.8,381.9L347.2,381.8L347.6,381.8L348.0,381.7L348.3,381.7L348.7,381.6L349.1,381.6L349.5,381.5L349.9,381.5L350.3,381.5L350.7,381.5L351.0,381.4L351.4,381.4L351.8,381.4L352.2,381.4L352.6,381.4L353.0,381.4L353.4,381.4L353.8,381.4L354.2,381.4L354.6,381.4L355.0,381.4L355.3,381.5L355.7,381.5L356.1,381.5L356.5,381.5L356.9,381.6L357.3,381.6L357.7,381.7L358.0,381.7L358.4,381.8L358.8,381.8L359.2,381.9L359.5,382.0L359.9,382.0L360.3,382.1L360.7,382.2L361.0,382.3L361.4,382.4L361.8,382.5L362.1,382.6L362.5,382.7L362.8,382.8L363.2,382.9L363.5,383.0L363.9,383.1L364.2,383.2L364.5,383.3L364.9,383.4L365.2,383.6L365.5,383.7L365.8,383.8L366.2,384.0L366.5,384.1L366.8,384.3L367.1,384.4L367.4,384.6L367.7,384.7L368.0,384.9L368.3,385.0L368.6,385.2L368.8,385.4L369.1,385.5L369.4,385.7L369.6,385.9L369.9,386.1L370.2,386.2L370.4,386.4L370.7,386.6L370.9,386.8L371.1,387.0L371.3,387.2L371.6,387.4L371.8,387.6L372.0,387.8L372.2,388.0L372.4,388.2L372.6,388.4L372.8,388.6L373.0,388.8L373.1,389.0L373.3,389.2L373.5,389.5L373.6,389.7L373.8,389.9L373.9,390.1L374.0,390.3L374.2,390.6L374.3,390.8L374.4,391.0L374.5,391.3L374.6,391.5L374.7,391.7L374.8,391.9L374.9,392.2L375.0,392.4L375.1,392.6L375.1,392.9L375.2,393.1L375.2,393.4L375.3,393.6L375.3,393.8L375.3,394.1L375.4,394.3L375.4,394.5L375.4,394.8L375.4,395.0L375.4,395.3L375.4,395.5L375.4,395.7L375.3,396.0L375.3,396.2L375.3,396.4L375.2,396.7L375.2,396.9L375.1,397.1L375.1,397.4L375.0,397.6L374.9,397.8L374.8,398.1L374.7,398.3L374.6,398.5L374.5,398.8L374.4,399.0L374.3,399.2L374.2,399.5L374.0,399.7L376.1,400.5L378.2,401.3L380.3,402.1L382.3,403.0L384.4,403.9L386.4,404.8L388.4,405.8L390.5,406.8L392.5,407.8L394.5,408.8L396.4,409.9L398.4,411.0L400.4,412.1Z" fill="#dfe1d0" fill-opacity="1"/><path d="M425.9,419.8L426.1,419.0L426.3,418.2L426.4,417.5L426.6,416.7L426.7,415.9L426.8,415.1L426.9,414.3L426.9,413.5L427.0,412.8L427.0,412.0L427.0,411.2L426.9,410.4L426.9,409.6L426.8,408.8L426.7,408.0L426.6,407.3L426.4,406.5L426.3,405.7L426.1,404.9L425.9,404.1L425.6,403.4L425.4,402.6L425.1,401.8L424.8,401.1L424.5,400.3L424.1,399.6L423.8,398.8L423.4,398.0L423.0,397.3L422.5,396.6L422.1,395.8L421.6,395.1L421.1,394.4L420.6,393.6L420.1,392.9L419.5,392.2L418.9,391.5L418.3,390.8L417.7,390.1L417.1,389.4L416.4,388.8L415.7,388.1L415.1,387.4L414.3,386.8L413.6,386.1L412.9,385.5L412.1,384.9L411.3,384.2L410.5,383.6L409.7,383.0L408.8,382.4L408.0,381.8L407.1,381.2L406.2,380.7L405.3,380.1L404.4,379.6L403.5,379.0L402.5,378.5L401.5,378.0L400.6,377.5L399.6,377.0L398.6,376.5L397.5,376.0L396.5,375.5L395.4,375.1L394.4,374.6L393.3,374.2L392.2,373.8L391.1,373.4L390.0,373.0L388.9,372.6L387.7,372.2L386.6,371.8L385.4,371.5L384.3,371.1L383.1,370.8L381.9,370.5L380.7,370.2L379.5,369.9L378.3,369.6L377.1,369.4L375.9,369.1L374.6,368.9L373.4,368.7L372.2,368.5L370.9,368.3L369.6,368.1L368.4,367.9L367.1,367.8L365.8,367.6L364.6,367.5L363.3,367.4L362.0,367.3L360.7,367.2L359.4,367.1L358.2,367.0L356.9,367.0L355.6,367.0L354.3,366.9L353.0,366.9L351.7,366.9L350.4,367.0L349.1,367.0L347.8,367.0L346.6,367.1L345.3,367.2L344.0,367.3L342.7,367.4L341.4,367.5L340.2,367.6L338.9,367.8L337.6,367.9L336.4,368.1L335.1,368.3L333.8,368.5L332.6,368.7L331.4,368.9L330.1,369.1L328.9,369.4L327.7,369.6L328.3,369.7L329.0,369.8L329.6,369.9L330.3,370.1L330.9,370.3L331.6,370.5L332.3,370.8L333.0,371.1L333.7,371.5L334.4,371.9L335.1,372.3L335.9,372.1L336.8,371.9L337.7,371.8L338.5,371.6L339.4,371.5L340.3,371.3L341.2,371.2L342.1,371.1L343.0,371.0L343.9,370.8L344.8,370.8L345.7,370.7L346.6,370.6L347.5,370.5L348.4,370.5L349.3,370.4L350.3,370.4L351.2,370.4L352.1,370.4L353.0,370.4L353.9,370.4L354.8,370.4L355.7,370.4L356.7,370.4L357.6,370.5L358.5,370.5L359.4,370.6L360.3,370.7L361.2,370.8L362.1,370.8L363.0,371.0L363.9,371.1L364.8,371.2L365.7,371.3L366.6,371.5L367.5,371.6L368.3,371.8L369.2,371.9L370.1,372.1L370.9,372.3L371.8,372.5L372.7,372.7L373.5,372.9L374.3,373.1L375.2,373.4L376.0,373.6L376.8,373.8L377.6,374.1L378.4,374.4L379.2,374.6L380.0,374.9L380.8,375.2L381.6,375.5L382.3,375.8L383.1,376.1L383.8,376.5L384.6,376.8L385.3,377.1L386.0,377.5L386.7,377.8L387.4,378.2L388.1,378.6L388.8,378.9L389.4,379.3L390.1,379.7L390.7,380.1L391.4,380.5L392.0,380.9L392.6,381.4L393.2,381.8L393.8,382.2L394.3,382.6L394.9,383.1L395.4,383.5L396.0,384.0L396.5,384.4L397.0,384.9L397.5,385.4L398.0,385.9L398.4,386.3L398.9,386.8L399.3,387.3L399.8,387.8L400.2,388.3L400.6,388.8L400.9,389.3L401.3,389.8L401.6,390.3L402.0,390.9L402.3,391.4L402.6,391.9L402.9,392.4L403.2,393.0L403.4,393.5L403.7,394.0L403.9,394.6L404.1,395.1L404.3,395.7L404.5,396.2L404.7,396.8L404.8,397.3L405.0,397.9L405.1,398.4L405.2,399.0L405.3,399.5L405.3,400.1L405.4,400.6L405.4,401.2L405.5,401.7L405.5,402.3L405.5,402.9L405.4,403.4L405.4,404.0L405.3,404.5L405.3,405.1L405.2,405.6L405.1,406.2L405.0,406.8L404.8,407.3L404.7,407.9L406.7,408.8L408.7,409.8L410.7,410.8L412.6,411.8L414.6,412.9L416.5,414.0L418.4,415.1L420.3,416.2L422.2,417.4L424.0,418.6Z" fill="#d3d9b4" fill-opacity="1"/><path d="M396.9,460.2L398.2,459.7L399.4,459.2L400.6,458.8L401.7,458.2L402.9,457.7L404.1,457.2L405.2,456.6L406.3,456.1L407.4,455.5L408.5,454.9L409.6,454.3L410.6,453.7L411.6,453.1L412.6,452.5L413.6,451.8L414.6,451.2L415.6,450.5L416.5,449.8L417.4,449.2L418.3,448.5L419.2,447.8L420.1,447.1L420.9,446.4L421.7,445.6L422.5,444.9L423.3,444.2L424.1,443.4L424.8,442.6L425.5,441.9L426.2,441.1L426.9,440.3L427.5,439.5L428.2,438.7L428.8,437.9L429.3,437.1L429.9,436.3L430.4,435.5L430.9,434.7L429.3,433.2L427.6,431.7L426.0,430.2L424.3,428.8L422.5,427.4L420.8,426.0L419.0,424.6L417.2,423.2L415.4,421.9L413.6,420.6L411.8,419.3L409.9,418.0L408.0,416.8L406.1,415.6L404.2,414.4L402.3,413.2L402.0,413.8L401.6,414.3L401.3,414.8L400.9,415.3L400.6,415.8L400.2,416.3L399.8,416.8L399.3,417.3L398.9,417.8L398.4,418.3L398.0,418.8L397.5,419.2L397.0,419.7L396.5,420.2L396.0,420.6L395.4,421.1L394.9,421.5L394.3,422.0L393.8,422.4L393.2,422.8L392.6,423.3L392.0,423.7L391.4,424.1L390.7,424.5L390.1,424.9L389.4,425.3L388.8,425.7L388.1,426.0L387.4,426.4L386.7,426.8L386.0,427.1L385.3,427.5L384.6,427.8L383.8,428.1L383.1,428.5L382.3,428.8L381.6,429.1L380.8,429.4L381.9,431.2L383.0,433.0L384.0,434.8L385.1,436.7L386.1,438.6L387.2,440.5L388.2,442.4L389.2,444.3L390.2,446.2L391.2,448.2L392.2,450.2L393.2,452.1L394.1,454.1L395.1,456.2L396.0,458.2Z" fill="#c2d0a2" fill-opacity="1"/><path d="M370.7,449.2L371.8,449.0L373.0,448.8L374.1,448.6L375.3,448.4L376.4,448.1L377.5,447.9L378.6,447.6L379.7,447.3L380.8,447.0L381.9,446.7L383.0,446.4L384.0,446.1L385.1,445.8L386.1,445.4L387.2,445.0L388.2,444.7L389.2,444.3L390.2,443.9L391.2,443.5L392.2,443.1L393.2,442.7L394.1,442.2L395.1,441.8L396.0,441.3L396.9,440.9L395.7,439.1L394.5,437.2L393.2,435.5L391.9,433.7L390.6,431.9L389.3,430.2L388.0,428.5L386.7,426.8L385.4,425.1L384.1,423.4L382.7,421.8L381.4,420.2L380.0,418.6L379.4,418.9L378.9,419.2L378.3,419.5L377.7,419.7L377.1,420.0L376.5,420.2L375.9,420.5L375.3,420.7L374.6,420.9L374.0,421.2L373.4,421.4L372.7,421.6L372.1,421.8L371.4,422.0L370.7,422.2L370.1,422.4L369.4,422.6L368.7,422.7L368.1,422.9L367.4,423.1L366.7,423.2L366.0,423.3L365.3,423.5L364.6,423.6L363.9,423.7L364.4,425.6L365.0,427.4L365.5,429.3L366.0,431.2L366.6,433.2L367.1,435.1L367.6,437.1L368.2,439.0L368.7,441.0L369.2,443.1L369.7,445.1L370.2,447.1Z" fill="#c8d4a8" fill-opacity="1"/><path d="M432.5,436.2L433.0,435.3L433.5,434.5L433.9,433.6L434.4,432.8L434.7,431.9L435.1,431.0L435.5,430.2L435.8,429.3L436.1,428.4L436.3,427.5L436.6,426.6L436.8,425.7L437.0,424.8L437.2,423.9L437.3,423.1L435.6,421.8L433.9,420.6L432.1,419.4L430.3,418.2L428.5,417.0L426.7,415.9L424.9,414.8L423.0,413.7L421.1,412.6L419.2,411.6L417.3,410.6L415.3,409.6L413.3,408.7L411.3,407.7L409.3,406.8L407.3,405.9L405.3,405.1L405.2,405.6L405.1,406.2L405.0,406.8L404.8,407.3L404.7,407.9L404.5,408.4L404.3,408.9L404.1,409.5L403.9,410.0L403.7,410.6L403.4,411.1L403.2,411.6L402.9,412.2L402.6,412.7L402.3,413.2L404.2,414.4L406.1,415.6L408.0,416.8L409.9,418.0L411.8,419.3L413.6,420.6L415.4,421.9L417.2,423.2L419.0,424.6L420.8,426.0L422.5,427.4L424.3,428.8L426.0,430.2L427.6,431.7L429.3,433.2L430.9,434.7Z" fill="#cad5a6" fill-opacity="1"/></g><clipPath id="cl_na"><path d="M235.1,510.4L234.4,508.1L233.8,505.7L232.7,504.0L231.7,502.2L231.5,497.9L232.0,496.2L232.5,494.5L233.0,492.8L233.7,491.1L233.3,488.8L232.9,486.5L232.2,485.0L231.4,483.6L232.3,481.0L233.2,478.4L234.0,477.0L234.9,475.5L235.8,474.1L235.0,472.6L234.3,471.2L233.0,473.6L232.3,472.7L231.6,471.9L231.0,471.0L231.3,468.6L231.6,466.2L232.3,463.9L233.1,461.6L233.9,459.4L234.9,457.8L235.9,456.3L237.0,454.7L238.0,453.0L239.0,451.2L240.1,451.6L241.2,452.0L241.4,453.2L241.6,454.4L241.8,455.7L242.0,457.3L242.1,458.9L243.7,457.1L243.9,458.8L244.2,460.6L244.6,462.3L245.6,463.4L244.9,465.9L244.3,468.4L243.5,470.8L242.8,473.3L243.0,476.1L244.7,473.5L246.1,469.9L246.8,467.7L247.7,465.4L249.3,464.3L251.1,463.2L252.5,463.2L253.9,463.1L255.5,463.2L257.2,463.2L258.9,459.7L261.8,457.4L264.8,455.5L265.9,456.0L267.0,456.5L268.3,456.8L269.6,457.0L270.7,454.1L272.4,454.0L274.1,453.9L276.2,454.0L277.8,453.9L279.4,454.8L275.9,456.7L277.5,456.9L279.1,457.1L280.8,457.3L282.5,457.4L284.2,457.4L284.4,455.0L283.0,454.5L281.6,454.0L280.3,453.5L282.2,450.4L284.0,447.8L283.0,446.7L282.1,445.7L280.2,446.3L278.3,446.8L276.4,447.3L279.7,446.0L281.9,445.5L284.1,444.9L285.0,445.7L285.9,446.5L286.9,447.3L287.8,448.1L288.8,448.8L290.4,448.9L292.0,448.9L293.7,448.9L296.7,447.9L297.4,445.7L298.2,443.6L297.8,442.1L297.4,440.7L297.1,439.2L298.5,435.6L299.8,432.6L301.2,429.7L297.9,431.3L296.6,431.0L295.4,430.7L295.8,428.6L297.0,426.7L298.3,424.7L298.5,423.6L298.7,422.5L298.9,421.3L298.6,420.5L298.3,419.7L298.0,418.9L296.0,420.0L294.1,421.2L292.5,422.9L291.0,424.6L288.9,426.5L286.8,428.5L284.9,428.7L283.1,428.8L280.8,430.4L278.6,432.1L276.6,432.1L278.8,428.4L280.3,425.9L281.9,423.4L282.5,421.8L283.1,420.3L283.8,418.7L283.8,417.9L283.8,417.0L283.8,416.1L283.9,415.2L286.3,412.5L289.7,410.2L292.8,409.3L293.4,409.7L294.1,410.0L294.8,410.4L295.9,410.5L297.0,410.7L298.1,410.8L300.6,410.2L303.1,409.5L304.4,409.8L307.2,408.2L310.0,406.8L309.3,406.5L308.6,406.3L307.9,406.1L307.2,405.8L306.7,405.5L306.3,405.1L305.8,404.7L305.4,404.4L304.9,404.0L304.9,403.5L304.8,403.0L304.7,402.4L304.7,401.9L304.7,401.4L304.7,400.9L304.7,400.4L304.7,399.9L304.7,399.4L304.8,398.9L304.9,398.3L304.9,397.8L305.0,397.3L305.1,396.8L305.3,396.3L305.4,395.8L305.6,395.3L305.7,394.8L305.9,394.3L306.1,393.8L306.3,393.3L306.8,392.8L307.4,392.2L307.9,391.7L308.5,391.2L309.1,390.7L309.6,390.2L310.2,389.7L310.8,389.2L311.4,388.8L312.1,388.3L312.3,387.9L312.6,387.5L312.8,387.0L313.1,386.6L313.4,386.2L313.7,385.8L314.1,385.3L314.4,384.9L314.8,384.5L315.1,384.1L315.8,383.7L316.4,383.3L317.1,383.0L317.7,382.6L318.4,382.3L319.1,381.9L319.8,381.6L320.5,381.2L321.2,380.9L322.0,380.6L322.7,380.3L323.4,380.0L324.2,379.7L324.9,379.5L325.7,379.2L326.4,379.0L327.2,378.7L327.9,378.5L328.7,378.3L329.4,378.1L330.2,377.9L330.4,377.4L330.7,377.0L331.0,376.6L331.3,376.1L331.7,375.7L332.1,375.3L332.6,374.9L333.0,374.5L332.3,373.8L331.7,373.1L330.5,373.2L329.3,373.3L328.1,373.4L326.9,373.6L327.2,373.1L327.5,372.6L327.8,372.2L326.3,372.1L324.7,372.1L323.0,372.2L321.4,372.3L320.3,372.7L319.3,373.0L318.3,373.4L317.3,373.7L316.3,374.1L314.9,374.5L313.5,374.9L312.1,375.4L310.7,375.8L311.1,376.1L311.6,376.4L312.2,376.8L312.8,377.1L311.7,377.5L310.6,378.0L309.5,378.4L308.5,378.9L307.4,379.4L306.3,379.9L305.2,380.4L304.1,381.0L303.1,381.5L302.0,382.1L300.9,382.7L299.9,383.3L298.8,383.9L297.7,384.5L295.9,385.3L294.1,386.2L292.3,387.1L290.6,388.0L288.8,389.0L286.3,390.3L283.8,391.6L281.3,393.1L279.2,394.5L277.1,396.1L275.1,397.6L273.1,398.8L271.1,400.0L269.8,400.7L268.4,401.5L267.1,402.3L265.8,403.1L263.4,405.0L261.1,407.1L258.8,409.3L256.8,411.4L255.1,413.2L253.5,415.1L252.3,416.7L251.2,418.4L249.0,421.3L247.3,423.6L245.6,425.9L243.8,428.7L242.0,431.6L240.2,434.8L238.5,438.1L237.2,440.7L236.0,443.4L237.3,440.8L238.6,438.4L239.9,436.1L241.3,433.8L242.8,431.6L244.8,428.3L246.8,425.1L245.6,427.5L243.9,430.3L242.2,433.1L240.7,435.8L239.1,438.5L237.8,441.3L236.6,444.0L235.5,446.8L234.4,449.7L233.3,451.8L232.3,454.0L231.6,456.5L231.0,459.0L230.4,461.6L229.9,464.0L229.5,466.4L229.3,468.7L229.2,471.0L229.1,473.4L229.7,474.5L229.4,477.4L229.2,480.4L229.4,482.4L229.6,484.3L229.9,486.3L230.2,488.3L230.2,489.5L230.3,495.3L229.9,497.3L230.2,500.0L230.7,502.7L231.4,505.0L232.2,507.2L232.8,509.4L233.7,509.8L234.6,510.1Z"/></clipPath><g clip-path="url(#cl_na)"><path d="M328.3,369.7L327.1,370.0L326.0,370.2L324.8,370.5L323.7,370.8L322.5,371.2L321.4,371.5L320.3,371.8L319.1,372.2L318.0,372.5L316.9,372.9L315.8,373.3L314.8,373.7L313.7,374.1L312.7,374.5L311.6,375.0L310.6,375.4L309.6,375.9L308.6,376.3L307.6,376.8L306.6,377.3L305.7,377.8L304.7,378.3L303.8,378.8L302.9,379.4L302.0,379.9L301.1,380.4L300.2,381.0L299.4,381.6L298.6,382.1L297.7,382.7L296.9,383.3L296.2,383.9L295.4,384.5L294.6,385.1L293.9,385.8L293.2,386.4L292.5,387.0L291.8,387.7L291.2,388.3L290.5,389.0L289.9,389.7L289.3,390.3L288.7,391.0L288.2,391.7L287.6,392.4L287.1,393.1L286.6,393.8L286.1,394.5L285.7,395.2L285.2,395.9L284.8,396.7L284.4,397.4L284.0,398.1L283.7,398.8L283.3,399.6L283.0,400.3L282.7,401.1L282.4,401.8L282.2,402.6L282.0,403.3L281.8,404.1L281.6,404.8L281.4,405.6L281.3,406.4L281.1,407.1L281.0,407.9L281.0,408.7L280.9,409.4L280.9,410.2L280.9,411.0L280.9,411.7L280.9,412.5L281.0,413.3L281.0,414.0L281.1,414.8L281.3,415.5L281.4,416.3L281.6,417.1L281.8,417.8L282.0,418.6L282.2,419.3L282.4,420.1L282.7,420.8L283.0,421.6L283.3,422.3L283.7,423.1L284.0,423.8L284.4,424.5L284.8,425.3L285.2,426.0L285.7,426.7L286.1,427.4L286.6,428.1L287.1,428.8L287.6,429.5L288.2,430.2L288.7,430.9L289.3,431.6L289.9,432.2L290.5,432.9L291.2,433.6L291.8,434.2L292.5,434.9L293.2,435.5L293.9,436.1L294.6,436.8L295.4,437.4L296.2,438.0L296.9,438.6L297.7,439.2L298.6,439.8L299.4,440.3L300.2,440.9L301.1,441.5L302.0,442.0L302.9,442.5L303.8,443.1L304.7,443.6L305.7,444.1L306.6,444.6L307.8,442.7L309.1,440.9L310.3,439.1L311.5,437.2L312.8,435.5L314.1,433.7L315.4,431.9L316.7,430.2L318.0,428.5L319.3,426.8L320.6,425.1L321.9,423.4L323.3,421.8L324.6,420.2L326.0,418.6L327.4,417.1L328.8,415.5L330.1,414.0L331.5,412.5L331.1,412.3L330.7,412.0L330.2,411.8L329.8,411.6L329.4,411.3L329.0,411.1L328.6,410.8L328.2,410.5L327.8,410.3L327.4,410.0L327.1,409.7L326.7,409.5L326.3,409.2L326.0,408.9L325.7,408.6L325.3,408.3L325.0,408.0L324.7,407.7L324.4,407.4L324.1,407.1L323.8,406.8L323.5,406.5L323.3,406.2L323.0,405.9L322.7,405.5L322.5,405.2L322.3,404.9L322.0,404.6L321.8,404.2L321.6,403.9L321.4,403.6L321.2,403.2L321.1,402.9L320.9,402.5L320.8,402.2L320.6,401.9L320.5,401.5L320.3,401.2L320.2,400.8L320.1,400.5L320.0,400.1L319.9,399.8L319.9,399.4L319.8,399.1L319.7,398.7L319.7,398.4L319.7,398.0L319.6,397.7L319.6,397.3L319.6,396.9L319.6,396.6L319.6,396.2L319.7,395.9L319.7,395.5L319.7,395.2L319.8,394.8L319.9,394.5L319.9,394.1L320.0,393.8L320.1,393.4L320.2,393.1L320.3,392.7L320.5,392.4L320.6,392.0L320.8,391.7L320.9,391.3L321.1,391.0L321.2,390.7L321.4,390.3L321.6,390.0L321.8,389.7L322.0,389.3L322.3,389.0L322.5,388.7L322.7,388.4L323.0,388.0L323.3,387.7L323.5,387.4L323.8,387.1L324.1,386.8L324.4,386.5L324.7,386.2L325.0,385.9L325.3,385.6L325.7,385.3L326.0,385.0L326.3,384.7L326.7,384.4L327.1,384.2L327.4,383.9L327.8,383.6L328.2,383.3L328.6,383.1L329.0,382.8L329.4,382.6L329.8,382.3L330.2,382.1L330.7,381.8L331.1,381.6L331.5,381.4L332.0,381.1L332.4,380.9L332.9,380.7L333.4,380.5L333.8,380.3L334.3,380.1L334.8,379.9L335.3,379.7L335.8,379.5L336.3,379.3L336.8,379.2L337.3,379.0L337.8,378.8L338.4,378.7L338.9,378.5L339.4,378.4L340.0,378.2L340.5,378.1L341.0,378.0L341.6,377.8L340.8,377.1L340.1,376.4L339.4,375.7L338.6,375.0L337.9,374.4L337.2,373.8L336.5,373.3L335.8,372.8L335.1,372.3L334.4,371.9L333.7,371.5L333.0,371.1L332.3,370.8L331.6,370.5L330.9,370.3L330.3,370.1L329.6,369.9L329.0,369.8Z" fill="#e2e4d4" fill-opacity="1"/><path d="M251.7,415.9L250.9,417.0L250.2,418.1L249.4,419.2L248.7,420.3L248.0,421.4L247.4,422.5L246.8,423.6L246.2,424.7L245.6,425.9L245.1,427.0L244.6,428.2L244.1,429.3L243.7,430.5L243.3,431.7L243.0,432.8L242.7,434.0L242.4,435.2L242.1,436.3L241.9,437.5L241.7,438.7L241.6,439.9L241.4,441.1L241.4,442.3L241.3,443.4L241.3,444.6L242.4,443.1L243.6,441.6L244.8,440.1L246.1,438.6L247.3,437.1L248.6,435.6L250.0,434.2L251.3,432.8L252.7,431.4L254.2,430.0L255.6,428.7L257.1,427.3L258.7,426.0L260.2,424.7L261.8,423.4L263.4,422.2L265.0,421.0L266.7,419.7L268.4,418.6L270.1,417.4L270.1,416.5L270.1,415.6L270.2,414.8L270.3,413.9L270.4,413.0L270.5,412.1L270.7,411.2L270.9,410.4L271.1,409.5L271.3,408.6L271.6,407.8L271.9,406.9L272.2,406.0L272.5,405.2L272.9,404.3L273.3,403.5L273.7,402.6L274.1,401.8L274.6,401.0L275.1,400.1L275.6,399.3L276.1,398.5L276.7,397.7L277.2,396.9L277.8,396.1L276.3,396.8L274.8,397.5L273.3,398.3L271.8,399.1L270.3,400.0L268.9,400.8L267.5,401.7L266.1,402.7L264.8,403.6L263.4,404.6L262.1,405.6L260.9,406.6L259.6,407.7L258.4,408.8L257.2,409.9L256.1,411.1L254.9,412.2L253.9,413.4L252.8,414.6Z" fill="#dedcb8" fill-opacity="1"/><path d="M254.6,424.8L254.4,425.8L254.3,426.9L254.2,427.9L254.2,429.0L254.2,430.0L254.2,431.1L254.2,432.1L254.3,433.2L254.4,434.2L254.6,435.3L254.7,436.3L254.9,437.3L255.1,438.4L255.4,439.4L255.7,440.5L257.1,438.9L258.6,437.5L260.1,436.0L261.6,434.5L263.2,433.1L264.8,431.7L266.4,430.3L268.0,428.9L269.7,427.5L271.3,426.2L273.1,424.8L274.8,423.5L276.5,422.3L278.3,421.0L280.1,419.8L282.0,418.6L281.8,417.8L281.6,417.1L281.4,416.3L281.3,415.5L281.1,414.8L281.0,414.0L281.0,413.3L280.9,412.5L280.9,411.7L280.9,411.0L280.9,410.2L280.9,409.4L281.0,408.7L281.0,407.9L281.1,407.1L279.3,408.0L277.5,409.0L275.7,409.9L273.9,410.9L272.1,412.0L270.4,413.0L268.7,414.1L267.0,415.2L265.4,416.3L263.7,417.4L262.1,418.6L260.6,419.8L259.0,421.0L257.5,422.2L256.0,423.5Z" fill="#d8dbb3" fill-opacity="1"/><path d="M237.9,464.9L238.2,466.1L238.6,467.3L239.1,468.6L239.6,469.8L240.1,471.0L240.6,472.2L241.2,473.4L241.8,474.5L242.5,475.7L243.1,476.9L243.9,478.1L244.6,479.2L245.4,480.4L246.2,481.5L247.0,482.6L247.9,483.7L248.8,484.9L249.8,486.0L250.7,487.1L251.7,488.1L252.6,486.2L253.5,484.3L254.4,482.4L255.3,480.5L256.2,478.6L257.2,476.7L258.3,474.9L259.3,473.0L260.4,471.1L261.5,469.3L262.6,467.4L263.8,465.6L265.0,463.7L266.2,461.9L267.4,460.1L268.7,458.3L270.0,456.5L271.3,454.7L272.6,453.0L274.0,451.2L275.4,449.5L274.6,448.6L273.9,447.8L273.2,446.9L272.5,446.1L271.8,445.2L271.1,444.4L270.5,443.5L269.9,442.6L269.3,441.7L268.8,440.8L268.3,439.9L267.8,439.0L267.3,438.1L266.9,437.2L266.4,436.3L266.1,435.4L265.7,434.5L265.3,433.5L265.0,432.6L264.8,431.7L263.2,433.1L261.6,434.5L260.1,436.0L258.6,437.5L257.1,438.9L255.7,440.5L254.3,442.0L252.9,443.5L251.5,445.1L250.2,446.7L248.9,448.3L247.7,449.9L246.5,451.5L245.3,453.1L244.1,454.8L243.0,456.4L241.9,458.1L240.8,459.8L239.8,461.5L238.8,463.2Z" fill="#c4cf9a" fill-opacity="1"/></g><clipPath id="cl_sa"><path d="M235.1,510.4L236.8,510.4L237.6,509.2L238.7,509.6L239.8,510.1L241.7,510.0L241.5,514.0L243.7,512.9L244.6,515.5L245.4,518.1L246.6,519.4L247.8,520.7L249.0,522.0L250.7,523.0L252.4,524.0L253.1,526.8L253.8,529.6L255.2,531.1L256.6,532.6L257.8,535.5L259.2,538.4L260.7,539.5L262.3,540.6L263.8,541.7L265.4,543.3L267.0,545.0L267.7,547.3L268.5,549.6L269.3,551.9L269.7,553.9L270.1,556.0L272.7,559.0L274.7,560.6L276.8,562.2L278.8,563.8L280.9,565.3L282.8,566.4L284.7,567.4L286.7,568.4L289.1,569.8L291.6,571.3L293.8,573.0L296.1,574.7L298.3,576.3L298.9,578.5L299.4,580.6L298.4,582.3L297.4,583.9L295.2,585.0L293.0,586.1L293.1,587.6L293.1,589.1L293.2,590.6L293.4,592.1L292.8,593.1L292.2,594.1L291.7,595.0L290.8,596.1L290.1,597.1L288.0,596.3L286.2,595.9L284.5,595.6L283.3,595.9L282.2,596.2L281.1,596.5L281.5,597.5L282.0,598.4L281.5,599.1L281.2,599.7L280.4,600.1L279.8,600.4L278.7,599.9L277.7,599.4L276.6,598.9L275.1,597.9L273.6,596.8L276.5,599.3L278.3,600.8L277.1,600.0L276.1,599.3L275.0,598.5L274.0,597.8L274.8,598.4L275.7,599.1L275.0,598.5L274.3,598.0L276.5,599.6L276.9,600.0L277.3,600.3L277.3,600.2L277.3,600.2L280.6,602.5L281.0,602.8L281.5,603.2L282.8,604.0L284.2,604.9L284.9,605.4L285.7,605.9L283.8,604.7L281.9,603.5L280.1,602.2L278.2,600.9L276.3,599.5L274.5,598.1L272.7,596.7L271.5,595.8L270.4,594.9L269.4,594.0L268.3,593.1L267.2,592.1L266.1,591.1L265.0,590.1L263.9,589.1L262.8,588.0L261.6,586.8L260.5,585.7L259.8,585.0L259.1,584.3L258.5,583.6L257.8,582.9L256.8,581.7L255.8,580.6L254.8,579.4L254.2,578.6L253.7,577.8L253.2,576.9L252.1,575.3L251.0,573.7L250.0,572.1L249.3,570.8L248.7,569.4L248.0,568.1L247.4,566.7L246.8,565.3L244.9,562.3L243.3,559.8L241.7,557.4L240.2,554.8L238.1,550.4L236.8,547.1L236.0,544.8L235.2,542.5L234.5,540.2L233.7,537.9L232.5,534.4L231.4,530.8L231.6,529.6L231.8,528.5L231.2,525.4L231.5,524.0L231.8,522.7L232.8,521.5L233.4,520.1L234.1,518.6L234.3,516.4L234.6,514.1L234.5,511.7Z"/></clipPath><g clip-path="url(#cl_sa)"><path d="M258.5,583.7L259.3,584.5L260.1,585.3L260.9,586.2L261.8,587.0L262.6,587.8L263.5,588.7L264.4,589.5L265.3,590.4L266.2,591.2L267.1,592.0L268.0,592.9L269.0,593.7L270.0,594.5L271.0,595.4L272.0,596.2L273.0,597.0L274.1,597.8L275.1,598.6L276.2,599.4L277.3,600.3L278.4,601.1L279.6,601.8L280.7,602.6L281.9,603.4L283.1,604.1L284.4,604.9L285.6,605.6L286.9,606.3L288.2,607.0L289.5,607.7L290.8,608.3L292.2,609.0L293.5,609.6L294.9,610.3L296.3,610.9L297.7,611.5L299.2,612.0L300.6,612.6L302.1,613.1L303.6,613.7L305.1,614.2L306.6,614.7L308.1,615.2L309.7,615.7L311.2,616.1L310.6,615.5L310.0,614.9L309.5,614.2L308.9,613.5L308.3,612.8L307.8,612.0L307.3,611.2L306.8,610.4L306.3,609.5L305.8,608.6L305.3,607.7L304.9,606.7L304.4,605.7L304.0,604.6L303.6,603.6L303.2,602.4L302.8,601.3L302.5,600.1L302.1,598.9L301.8,597.7L301.5,596.4L301.2,595.1L300.9,593.8L300.6,592.4L300.3,591.0L300.1,589.6L299.9,588.2L299.7,586.7L297.7,586.1L295.7,585.5L293.8,584.9L291.8,584.3L289.9,583.6L288.0,582.9L286.1,582.2L284.3,581.5L282.4,580.8L280.6,580.0L278.8,579.2L277.1,578.4L275.3,577.6L273.6,576.8L271.9,575.9L270.2,575.1L268.6,574.2L266.9,573.3L265.3,572.3L263.8,571.4L262.2,570.4L260.7,569.5L259.2,568.5L257.8,567.5L256.3,566.5L254.9,565.4L253.6,564.4L252.2,563.3L250.9,562.2L249.6,561.1L248.4,560.0L247.2,558.9L246.0,557.8L244.8,556.6L243.7,555.5L242.6,554.3L241.6,553.1L240.6,552.0L239.6,550.8L238.6,549.5L237.7,548.3L236.8,547.1L236.0,545.9L235.2,544.6L234.4,543.4L234.9,545.0L235.4,546.6L235.9,548.2L236.5,549.8L237.1,551.4L237.7,553.0L238.4,554.5L239.1,556.0L239.8,557.6L240.6,559.0L241.4,560.5L242.3,562.0L243.1,563.4L244.0,564.8L244.9,566.2L245.9,567.6L246.8,569.0L247.8,570.4L248.8,571.8L249.8,573.1L250.8,574.5L251.8,575.8L252.9,577.2L254.0,578.5L255.1,579.8L256.2,581.1L257.4,582.4Z" fill="#c9d0a0" fill-opacity="1"/><path d="M251.7,575.7L252.6,576.8L253.5,577.8L254.4,578.9L255.3,579.9L256.2,581.0L257.2,582.0L258.3,583.0L257.3,581.8L256.4,580.6L255.5,579.3L254.7,578.1L253.9,576.8L253.1,575.4L252.3,574.1L251.6,572.7L250.9,571.3L250.2,569.9L249.6,568.5L249.0,567.0L248.4,565.5L247.8,564.0L247.3,562.5L246.9,560.9L246.4,559.4L246.0,557.8L245.6,556.2L245.3,554.6L244.1,553.4L243.0,552.2L241.9,551.1L240.8,549.9L239.8,548.7L238.8,547.5L237.9,546.3L238.2,547.9L238.6,549.5L239.1,551.2L239.6,552.8L240.1,554.3L240.6,555.9L241.2,557.5L241.8,559.0L242.5,560.5L243.1,562.0L243.9,563.5L244.6,564.9L245.4,566.3L246.2,567.7L247.0,569.1L247.9,570.5L248.8,571.8L249.8,573.2L250.7,574.4Z" fill="#d9d7b4" fill-opacity="1"/></g><path d="M430.2,454.6L429.7,452.0L429.1,449.4L429.7,448.4L430.3,447.3L430.9,446.3L431.4,445.3L433.0,446.7L434.6,448.2L435.1,450.7L435.5,453.2L438.4,453.8L441.1,455.6L442.0,457.8L443.0,460.0L445.2,461.2L444.7,462.5L444.1,463.8L443.5,465.2L442.1,465.4L440.7,465.6L439.5,463.1L438.1,460.5L436.2,459.4L434.3,458.2L432.6,456.9Z" fill="#6ca1c8"/><path d="M368.1,500.5L368.8,503.4L369.5,506.3L367.3,508.3L365.1,510.2L361.8,513.3L359.7,514.1L357.7,514.8L355.6,515.5L355.6,517.7M355.6,517.7L355.6,521.5L353.4,521.5L351.2,521.5L349.0,521.5L348.9,524.3L348.9,527.2L346.6,528.4L346.7,531.7L344.6,531.6L342.5,531.5L340.4,531.4L338.4,531.2M355.6,517.7L353.3,517.8L351.1,517.7L348.9,517.7L346.6,517.6M355.6,518.6L358.2,520.3L360.9,521.9L363.6,523.4L365.7,524.8L367.8,526.1L369.9,527.4L372.1,528.6L374.2,529.8L376.4,531.0L378.6,532.1L380.7,533.1L382.9,534.0L386.1,533.1M363.6,523.4L360.1,523.8L360.5,526.2L360.8,528.5L361.1,530.8L361.4,533.1L361.7,535.4L362.1,537.7L362.4,540.0L362.7,542.2L360.2,542.7L357.6,543.2L355.1,543.6L352.5,544.0L350.0,544.3L348.2,545.7M339.0,542.2L341.7,541.9L344.4,541.6L348.2,545.7M386.1,533.1L388.2,531.2L390.3,529.3L392.1,527.4L393.9,525.6L395.6,523.7L397.3,521.8M390.2,508.3L391.8,511.8L391.9,514.0L392.1,516.3L392.9,518.3L393.7,520.4L397.1,521.8M385.9,493.9L385.9,497.8L385.2,500.7L388.6,504.3L390.2,508.3M392.6,501.1L391.1,504.9L390.2,508.3M416.0,497.0L416.9,500.4L417.6,502.5L418.2,504.6L418.8,506.7L419.4,508.8L420.0,510.9L420.6,513.0L421.1,515.0L421.6,517.1M421.6,517.1L423.4,516.3L425.3,515.5L427.0,514.6L428.8,513.8L430.5,512.9L432.2,512.0L433.9,511.1L435.6,510.1L437.2,509.2L438.8,508.2L440.3,507.2M397.1,521.8L399.3,522.3L401.4,522.7L404.1,521.1L406.3,521.4L408.4,521.7L410.5,522.0L412.7,522.3L414.8,522.5L416.9,522.7L418.9,522.9L421.0,523.0L420.8,522.0L422.5,521.2L422.1,519.2L421.6,517.1M404.1,521.1L405.1,523.6L406.0,526.1L406.1,528.7L406.1,531.3L406.1,533.9L405.2,536.4L404.2,539.0L403.2,541.5M421.0,523.0L421.5,525.6L422.0,528.2L422.4,530.8L420.3,535.3L419.7,538.3L421.8,541.0L422.6,543.0L423.4,545.1M382.9,534.0L383.1,536.5L383.3,538.9L382.0,542.2L379.7,542.7L377.4,543.1L375.1,544.2L373.6,543.9L370.4,545.5L368.3,547.5L365.5,549.5L364.3,551.9L363.2,554.3M382.7,549.8L383.6,546.0L386.0,545.5L388.4,545.0L391.4,545.0L393.7,544.6L395.9,544.1L398.5,543.7L401.1,543.3L403.2,541.5M403.2,541.5L404.2,543.5L405.2,545.5L404.2,548.3L403.2,551.1L401.2,553.2L398.9,557.1L396.4,558.0L394.0,562.0M403.2,541.5L404.9,543.8L406.5,546.1L407.8,548.8L407.0,552.0L409.1,552.4L411.5,550.4L413.8,548.3L415.7,547.1L417.6,545.8L419.4,544.6L421.4,544.8L423.4,545.1M407.0,552.0L406.8,554.1L406.5,556.1L406.3,558.1L407.9,560.3L409.5,562.4L406.5,563.5L404.3,564.0L402.1,564.5L399.8,565.0L396.7,565.5M409.4,560.0L411.9,559.1L414.4,558.1L416.3,555.0L418.2,554.8L420.2,554.6L422.1,554.4L424.4,552.7L426.7,551.0L428.9,550.0L431.1,549.0M423.4,545.1L425.2,543.7L427.4,542.2L429.5,540.6L431.3,539.6L433.0,538.6L434.7,537.7L436.3,536.3L437.9,535.0L439.5,533.6L441.4,534.6L440.1,538.4L441.4,539.7L442.7,541.0L443.9,542.2M440.3,507.2L441.5,508.8L442.7,510.4L443.9,512.0L445.0,513.6L444.6,516.7L444.2,519.8L443.7,522.9L443.3,526.9L441.5,532.0M454.3,521.2L455.2,523.3L456.1,525.4L457.8,524.6L459.6,523.7L461.2,522.9L460.3,525.9L459.3,528.8L458.3,531.8L457.0,533.5L455.7,535.2L454.4,536.9L453.0,538.0L451.6,539.5L450.2,541.0L448.6,541.3L447.1,541.6L445.5,541.9L443.9,542.2M399.8,565.0L400.5,566.8L401.1,568.5L401.7,570.3L400.7,573.0L399.5,575.6L400.5,577.1L401.5,578.5M414.4,558.1L414.0,560.2L413.5,562.3L413.1,564.3L412.6,566.3L409.9,569.8L407.6,572.6L405.3,575.3L401.5,578.5M431.1,549.0L433.1,549.0L435.1,549.0L437.1,548.9L436.7,551.4L436.3,553.9L435.7,556.4L435.2,558.8L434.9,560.7L434.5,562.6L434.1,564.4L434.3,566.0L434.5,567.5L434.7,569.0L434.8,570.5L432.1,572.6L432.2,574.1L432.2,575.5L432.8,576.9L433.3,578.2L431.6,578.1L429.8,578.0L427.9,578.5L425.8,578.9L423.8,579.2L422.0,580.0L420.1,580.7L420.3,578.8L420.5,576.9L420.6,574.9L418.6,575.4L416.5,575.9L414.4,576.4L412.3,576.8L410.2,577.2L407.9,577.6L405.5,577.9L403.1,578.2M398.7,595.8L401.1,595.3L403.5,594.8L405.6,594.3L407.8,593.8L409.9,593.2L412.0,592.6L414.1,592.1L416.2,591.4L418.5,590.5L420.8,589.6L424.0,588.1L423.3,587.0L422.5,585.9L421.1,584.8L419.6,583.7L419.9,582.2L420.1,580.7M412.8,597.2L412.4,598.4L411.9,599.6L411.5,600.7L410.9,602.0L410.3,603.2L409.7,604.4L407.7,605.1L405.6,605.8L403.5,606.5M416.2,591.4L415.8,592.8L415.4,594.1L415.0,595.3L414.6,596.6L412.8,597.2M411.5,600.7L413.1,600.2L414.8,599.8L416.4,599.3L418.5,598.6L420.5,597.8L422.7,595.9L424.9,594.0L428.8,590.7L431.7,589.3M431.7,589.3L434.0,587.0L435.1,585.0L436.1,582.9L434.9,582.0L433.5,581.1L435.9,578.7L438.4,576.3L439.6,576.9L440.7,577.4L442.3,574.7L442.1,573.5L441.9,572.3L441.6,571.1L443.2,569.9L444.8,568.7L446.4,567.4L447.9,566.1L449.4,564.9L450.9,563.6M442.4,554.2L444.4,554.2L446.3,554.1L448.1,554.0L450.3,555.3M443.9,542.2L442.4,544.6L443.3,546.7L444.2,548.6L442.4,552.2L442.4,554.2M453.0,538.0L453.1,540.1L453.2,542.1L453.2,544.2L453.2,546.2L453.2,548.2M442.4,554.2L440.6,555.2L438.7,556.3L436.8,557.3L435.2,558.8M437.1,548.9L438.9,547.7L440.6,546.5L442.2,545.3L443.9,542.2M433.3,578.2L435.0,577.6L436.7,576.9L438.4,576.3M436.2,569.5L438.0,569.4L439.6,569.3L440.6,570.2L441.6,571.1M348.2,545.7L349.1,548.1L349.9,550.5L347.4,550.2L344.9,550.0L342.0,552.7M349.9,550.5L353.0,551.6L356.1,552.7L357.7,555.1L357.0,558.3L358.6,560.2L358.4,562.2L358.3,564.2L358.2,566.2M356.1,552.7L358.4,553.3L360.8,553.8L363.2,554.3L366.1,555.0L368.9,555.6L368.9,552.8L371.9,552.5L375.0,552.2L376.9,552.0L380.3,549.5L382.7,549.8M368.9,555.6L368.9,557.8L368.8,560.0L368.7,562.2L368.7,564.3M375.0,552.2L375.7,554.1L376.1,556.1L376.5,558.0L377.9,561.5M381.2,560.5L381.1,558.0L381.0,555.5L381.9,552.6L382.7,549.8M345.7,556.6L348.0,556.1L350.3,555.5L352.3,558.3L349.6,561.4M356.3,560.1L353.3,557.8L350.3,555.5M338.4,547.5L341.5,547.8L344.7,548.1L341.4,547.1L338.1,548.3M354.8,485.9L356.8,485.9L358.7,485.8L358.3,487.8L358.2,490.8L357.8,493.5L357.7,496.4M366.4,482.0L369.5,483.2L372.0,483.4L374.8,483.2M370.5,464.3L373.2,466.4L375.8,467.1L377.6,467.3L379.4,467.5L379.3,470.7L377.6,474.2L379.2,474.6L379.0,476.4L381.0,479.0M371.7,463.5L373.8,463.1L375.2,463.8L376.0,465.2L375.8,467.1M375.2,463.8L375.3,462.0L376.1,460.7L375.8,458.6M376.7,454.9L378.3,454.7M384.3,455.3L385.7,458.1L387.1,461.1M387.1,461.1L385.5,462.3L384.0,463.5L387.3,466.1L387.1,469.2L385.4,469.8L383.6,470.5L382.1,470.4L379.3,470.7M377.6,474.2L379.2,474.6L380.7,474.2L382.2,473.8L384.1,472.2L386.0,470.6L388.7,471.1L389.2,473.2M387.3,466.1L388.8,465.3L391.6,465.3L392.5,466.5L392.3,468.9L391.8,469.5L390.3,470.3L388.7,471.1M387.1,461.1L388.9,461.5L391.1,462.1L393.4,462.7L395.0,462.4L396.7,462.1L398.4,461.8M398.4,461.8L398.9,458.2L396.8,455.5L395.4,451.5L393.7,451.0L392.5,451.5L391.3,451.9L390.1,452.3M392.5,466.5L394.7,466.2L396.0,465.3L397.3,464.4L398.5,463.4L400.0,464.1L399.4,467.7L398.1,469.1L396.5,470.1L394.5,470.8L392.6,469.9L391.8,469.5M400.0,464.1L401.4,463.2L402.9,462.4L404.3,461.5L407.9,464.0L408.9,466.1L410.9,465.8M403.0,471.8L404.7,471.7L406.5,471.6L407.6,470.6L408.8,469.6L411.2,469.5M398.1,469.1L400.4,470.4L403.0,471.8M403.0,471.8L404.1,476.0L405.8,477.7L407.1,476.9L408.5,476.0L409.7,475.1L410.6,476.4M400.1,478.2L401.8,477.6L404.1,476.0M400.1,478.4L402.4,479.7L403.1,482.6M403.1,479.7L404.5,478.7L405.8,477.7M392.6,473.7L394.1,472.5L395.7,472.3L397.2,472.0L398.6,473.9L398.3,477.3M396.5,470.1L397.4,472.0M410.4,477.0L410.8,475.6L412.0,473.3M404.3,461.5L406.0,461.0L408.2,461.7L410.2,463.2L408.9,466.1M418.5,456.5L419.5,453.8L416.8,450.8L414.6,451.2L413.0,451.5L411.3,451.7L408.8,450.1L406.9,449.6L405.8,451.0M397.2,456.3L398.5,455.4L399.8,454.5L401.2,454.2L402.6,453.9L404.0,453.6L405.4,453.3L405.8,451.0M405.8,451.0L403.9,448.0L400.6,444.9L399.0,445.0L397.4,445.1M395.4,451.5L397.1,450.1L396.3,446.8L397.4,445.1M397.4,445.1L395.6,443.2L394.5,442.1L393.3,439.0M390.1,448.4L391.1,447.9L392.1,447.3L393.0,446.8L394.7,446.8L396.3,446.8M391.7,443.8L393.0,443.6L394.2,443.4L394.9,442.6M391.9,437.3L392.2,435.8L392.4,434.4L392.0,431.4L389.3,430.2L387.1,427.3L384.9,425.6L384.5,423.9L382.8,423.4L382.0,422.2L380.4,420.7M376.4,424.3L377.3,424.3L378.1,424.2L379.0,424.2L379.5,423.6L380.0,423.1L379.6,421.3L380.4,420.9L381.5,420.8L382.4,420.4M376.4,424.3L377.6,424.7L378.7,425.2L379.9,425.6L382.3,428.8L382.7,429.1M376.4,424.3L375.8,425.1L375.2,426.0L374.8,428.2L374.8,431.6L374.9,434.1L374.7,436.7L375.6,438.6L376.4,440.5L376.7,442.7L377.0,444.9L376.7,445.6M428.2,480.0L428.1,477.7L430.3,476.0L431.5,474.8L432.7,473.7L434.3,472.2L435.4,471.3L436.4,470.4L435.3,467.8L434.1,465.3L431.2,463.6L429.9,464.1L428.6,464.6M434.3,472.2L435.1,475.5L435.7,478.8L434.9,480.7L434.0,482.6L433.3,484.6L432.5,486.6L430.6,486.7M434.0,482.6L435.6,484.7L434.6,486.3L433.4,488.0L435.6,489.1L435.1,492.0L433.7,493.0L432.3,494.0M435.6,484.7L437.9,484.5L440.0,484.3L442.5,484.9L444.9,485.5L447.0,483.9L448.8,483.8L449.6,483.1M434.1,465.3L436.8,467.8L438.4,470.0L440.1,472.1L441.4,474.2L442.7,476.3L445.6,477.1L447.3,479.7L448.4,480.4M451.6,512.5L452.6,509.2L453.9,508.4L455.2,507.6L456.5,506.8L457.8,502.5L458.8,500.8L459.8,499.1L460.7,497.3L461.6,495.4L462.5,493.4L463.3,491.4L462.2,489.3L461.0,487.3L459.8,488.3L458.5,489.3L456.5,487.9M460.7,497.3L462.0,499.0L463.2,500.6M463.5,475.5L463.0,472.6L463.3,469.8L462.5,468.7L461.5,467.7L459.6,467.6L458.8,467.2L458.0,464.1L456.9,464.2L455.7,462.6L454.5,461.1L453.6,459.1L452.3,456.8L450.4,456.5L448.8,456.6L447.0,456.6L446.2,457.9L445.3,459.1L445.2,461.2M434.1,465.3L436.7,465.3L438.7,464.8L439.5,464.1M428.6,464.6L429.9,464.2L431.1,463.7L432.2,462.9L433.2,462.2L434.2,461.4L433.4,459.7L431.6,460.1L429.8,460.5L428.6,460.9L427.3,461.4L426.1,461.8L424.8,462.2M458.8,467.2L459.5,465.9L460.1,464.6L460.7,463.3L461.2,462.0L461.7,460.7L460.4,458.7L460.5,456.4L460.6,454.1L458.7,450.4L458.2,447.9L456.9,446.0L455.6,444.1L455.6,442.2L455.5,440.2L455.2,439.1M452.3,456.8L453.4,455.9L453.3,454.0L453.2,452.1L452.0,448.7L452.8,448.0L453.6,447.3L453.6,445.7L453.7,444.2L455.6,444.1M468.6,469.4L468.9,466.3L469.0,464.7L467.9,463.5L466.7,462.3L466.0,462.1L465.4,458.8L464.7,455.7L463.9,452.6L463.1,449.5L461.3,447.0L461.0,445.5M423.3,445.8L423.0,442.6L423.9,441.8L424.9,440.9L425.6,439.7L426.2,438.5L426.7,437.3L427.3,436.5L427.8,435.6L428.3,434.8L428.9,434.1L429.5,433.4L430.1,432.6L428.4,430.4L426.8,431.0L425.9,428.2L425.1,426.7L425.2,425.4L425.2,424.2L425.2,423.0L425.2,421.8L425.1,420.7L425.3,419.8L425.5,418.8L426.9,418.5L428.3,418.2L428.4,417.4L428.3,416.5L428.3,415.6L431.5,416.3L432.3,415.9L433.0,415.5L433.8,415.2L434.5,414.8L434.7,414.1L434.9,413.3L435.5,412.9L436.1,412.5L436.7,412.1M438.4,453.8L439.8,453.3L441.2,452.7L439.6,450.5L438.0,448.2L436.3,446.0L436.7,444.4L437.0,442.7L438.7,442.7L440.3,442.6L442.0,443.0L442.5,441.4L443.0,439.9L444.6,439.8L446.4,440.4L448.2,441.0L448.0,439.4L447.2,436.1L447.4,434.7L447.5,433.2L447.3,431.6L447.1,430.0L447.5,429.2L447.9,428.4L448.3,427.7L448.6,426.9L446.4,425.1L444.2,423.3L443.8,421.9L443.3,420.4L440.5,417.9L440.6,416.8L440.5,415.6L438.6,413.8L436.7,412.1M441.2,452.7L441.2,450.9L441.2,449.1L441.1,447.3L443.8,448.1L444.9,447.0L447.2,448.2L449.4,448.2L451.0,448.2L452.6,448.2L453.6,447.3M436.7,412.1L437.3,411.7L437.8,411.2L438.3,410.8L441.0,411.8L441.3,411.2L441.6,410.5L441.8,409.9L442.0,409.3L442.1,408.7L442.2,408.0L442.2,407.4L442.2,406.8L441.9,406.0L441.6,405.3L441.2,404.5L440.9,403.8L440.4,403.0L439.5,401.9L438.5,400.9L437.5,399.8L436.4,398.7L435.4,397.7L432.3,395.2L430.8,393.9L429.2,392.8L427.7,391.6L426.1,390.5L424.7,389.4L423.1,388.4L421.6,387.4L422.2,388.0L422.8,388.6L423.3,389.2L419.8,387.2M436.5,411.4L435.6,410.0L434.7,408.7L433.7,407.4L432.8,406.2L432.1,405.1L431.4,404.1L430.7,403.1L430.0,402.1L429.3,401.2L428.5,400.2L428.4,399.5L428.2,398.9L428.0,398.2L427.8,397.5L427.6,396.9L427.5,396.3L427.3,395.7L427.1,395.1L426.8,394.5L426.6,393.9L426.3,393.3L426.0,392.7L424.8,391.7L423.6,390.7L422.4,389.8L421.2,388.8L420.5,388.0L419.8,387.2M419.8,387.2L417.2,385.9L414.6,384.7L412.1,383.6L411.3,383.0L410.5,382.4L409.7,381.8L408.9,381.2L408.0,380.7L407.2,380.1L407.4,379.9L407.6,379.6L407.7,379.4L407.7,379.2L407.6,379.0L406.0,378.2L404.3,377.5L402.6,376.8L404.5,377.5L406.5,378.4L408.4,379.3L410.4,380.3L412.4,381.3L413.5,381.9M448.6,426.9L449.2,428.5L449.7,430.1L450.2,431.8L450.5,433.2L450.7,434.7L451.9,437.4L453.8,438.8L455.5,440.2M275.1,398.4L274.5,399.3L274.0,400.1L273.4,401.0L272.9,401.9L272.4,402.8L272.0,403.7L271.6,404.5L271.2,405.4L270.8,406.3L270.4,407.2L270.1,408.1L269.8,409.0L269.6,410.0L269.3,410.9L269.1,411.8L268.9,412.7L268.8,413.6L268.6,414.5L268.5,415.5L268.4,416.4L268.4,417.3L268.4,418.2L268.4,419.2L268.4,420.1L268.5,421.0L268.6,421.9L268.7,422.9L268.5,424.1L268.3,425.4L268.2,426.7L268.1,427.9L268.1,429.2L267.9,430.7L267.8,432.1L267.7,433.5L267.7,435.0L267.6,436.5L266.5,439.7L264.7,441.5L263.1,443.4L263.8,444.2L264.5,445.1L265.2,445.9L266.5,446.6L267.9,447.2L270.5,447.2L271.3,448.1L272.0,449.0L272.8,449.9L276.4,448.2L277.5,448.8L278.7,449.3L276.8,451.8L276.5,453.4M319.1,381.9L317.4,381.7L315.8,381.5L314.2,381.4L312.6,381.3L311.0,381.2L309.4,381.2L307.8,381.2L306.3,381.3L304.8,381.4L303.3,382.0L301.8,382.7L300.3,383.5L300.0,384.1L299.8,384.7L297.8,385.5L295.7,386.3L293.9,387.2L292.1,388.1L290.4,389.0M249.0,421.3L248.5,422.5L248.0,423.7L246.9,425.7L245.8,427.8L244.8,429.8L244.3,431.4L243.9,433.1L244.1,434.3L242.6,437.1L241.2,439.9L240.3,442.6L241.1,443.3L239.8,446.2L238.6,449.2L237.8,451.8L237.1,454.5M229.3,480.3L230.2,478.1L231.4,477.1L232.4,478.3L233.2,478.4M232.4,478.3L231.1,481.9L231.4,483.6M230.2,484.3L230.5,487.1L230.4,489.6M230.3,495.3L231.2,497.9L231.5,497.9M230.9,503.7L231.5,501.8M240.7,511.7L240.3,514.3L239.9,516.8L240.9,519.5L242.0,522.2L243.4,524.4L244.8,526.7L244.5,528.7L244.2,530.6L244.0,532.6L245.1,536.6M253.6,536.1L251.9,536.0L250.2,536.0L248.2,534.0L248.7,537.6L246.9,537.2L245.1,536.6L243.8,535.6L242.6,534.5L241.4,533.4L241.7,535.6L242.0,537.7L241.8,539.3L241.7,540.9L241.6,542.5L240.5,542.8L239.4,543.2L238.5,543.6L239.3,546.0L240.1,548.5L241.4,550.9L242.8,553.3L243.9,554.5M243.9,554.5L245.0,555.2L246.1,555.9L247.3,556.6L248.5,557.3L249.5,559.9L250.5,562.5L252.1,564.3L253.8,566.0L255.5,567.7L257.2,570.9L258.9,572.8L260.7,574.8L261.4,576.6L262.1,578.3L262.9,580.0M262.9,580.0L261.1,578.7L259.3,577.4L257.6,576.0L257.8,577.3L258.1,578.6L256.0,577.1L253.5,574.4L253.1,574.6M243.9,554.5L245.4,558.3L245.6,559.8L245.9,561.4L246.4,563.0L247.0,564.6L246.5,564.8M247.0,564.6L248.7,567.6L249.8,569.7L251.0,571.8L253.1,574.6L253.1,575.8L254.0,577.3L255.0,578.8L255.5,579.7L256.1,580.6L256.6,581.4L257.5,582.4L258.4,583.5L259.3,584.5L260.2,585.4L261.1,586.4L262.1,587.3L263.0,588.2L263.9,589.1L264.8,590.0L265.8,590.9L266.9,591.8L267.9,592.7M260.7,574.8L261.4,576.5L262.2,578.3L262.9,580.0L263.7,581.6L264.6,583.3L267.4,585.3L270.3,588.5L271.3,590.4L270.5,591.2L268.7,589.9L266.9,588.7L265.5,587.0L264.1,585.3L262.7,583.5L260.4,581.1L258.1,578.6M271.3,590.4L273.5,592.7L272.4,592.5L271.3,592.2L271.0,592.6L270.7,593.0L272.8,594.9L274.9,596.7L277.1,598.4L279.3,600.1M231.8,528.3L233.3,530.7L234.4,530.8L235.6,530.9L235.9,528.9L234.9,526.7L233.9,524.5L232.8,521.7M235.9,528.9L237.5,532.9L238.8,536.1L240.1,539.3L241.6,542.5M255.5,531.0L254.0,532.3L253.5,534.2L253.0,536.0L253.6,536.1M258.9,538.4L257.4,541.1L258.4,543.8L259.5,546.4M263.8,541.8L263.5,543.9L263.1,545.9L262.8,547.9M259.5,546.4L261.1,547.2L262.8,547.9L264.4,548.8L266.1,549.6L267.6,547.1M245.8,495.8L245.0,499.6" fill="none" stroke="#333" stroke-opacity="0.85" stroke-width="0.55" stroke-linejoin="round"/><path d="M235.1,510.4L234.4,508.1L233.8,505.7L232.7,504.0L231.7,502.2L231.5,497.9L232.0,496.2L232.5,494.5L233.0,492.8L233.7,491.1L233.3,488.8L232.9,486.5L232.2,485.0L231.4,483.6L232.3,481.0L233.2,478.4L234.0,477.0L234.9,475.5L235.8,474.1L235.0,472.6L234.3,471.2L233.0,473.6L232.3,472.7L231.6,471.9L231.0,471.0L231.3,468.6L231.6,466.2L232.3,463.9L233.1,461.6L233.9,459.4L234.9,457.8L235.9,456.3L237.0,454.7L238.0,453.0L239.0,451.2L240.1,451.6L241.2,452.0L241.4,453.2L241.6,454.4L241.8,455.7L242.0,457.3L242.1,458.9L243.7,457.1L243.9,458.8L244.2,460.6L244.6,462.3L245.6,463.4L244.9,465.9L244.3,468.4L243.5,470.8L242.8,473.3L243.0,476.1L244.7,473.5L246.1,469.9L246.8,467.7L247.7,465.4L249.3,464.3L251.1,463.2L252.5,463.2L253.9,463.1L255.5,463.2L257.2,463.2L258.9,459.7L261.8,457.4L264.8,455.5L265.9,456.0L267.0,456.5L268.3,456.8L269.6,457.0L270.7,454.1L272.4,454.0L274.1,453.9L276.2,454.0L277.8,453.9L279.4,454.8L275.9,456.7L277.5,456.9L279.1,457.1L280.8,457.3L282.5,457.4L284.2,457.4L284.4,455.0L283.0,454.5L281.6,454.0L280.3,453.5L282.2,450.4L284.0,447.8L283.0,446.7L282.1,445.7L280.2,446.3L278.3,446.8L276.4,447.3L279.7,446.0L281.9,445.5L284.1,444.9L285.0,445.7L285.9,446.5L286.9,447.3L287.8,448.1L288.8,448.8L290.4,448.9L292.0,448.9L293.7,448.9L296.7,447.9L297.4,445.7L298.2,443.6L297.8,442.1L297.4,440.7L297.1,439.2L298.5,435.6L299.8,432.6L301.2,429.7L297.9,431.3L296.6,431.0L295.4,430.7L295.8,428.6L297.0,426.7L298.3,424.7L298.5,423.6L298.7,422.5L298.9,421.3L298.6,420.5L298.3,419.7L298.0,418.9L296.0,420.0L294.1,421.2L292.5,422.9L291.0,424.6L288.9,426.5L286.8,428.5L284.9,428.7L283.1,428.8L280.8,430.4L278.6,432.1L276.6,432.1L278.8,428.4L280.3,425.9L281.9,423.4L282.5,421.8L283.1,420.3L283.8,418.7L283.8,417.9L283.8,417.0L283.8,416.1L283.9,415.2L286.3,412.5L289.7,410.2L292.8,409.3L293.4,409.7L294.1,410.0L294.8,410.4L295.9,410.5L297.0,410.7L298.1,410.8L300.6,410.2L303.1,409.5L304.4,409.8L307.2,408.2L310.0,406.8L309.3,406.5L308.6,406.3L307.9,406.1L307.2,405.8L306.7,405.5L306.3,405.1L305.8,404.7L305.4,404.4L304.9,404.0L304.9,403.5L304.8,403.0L304.7,402.4L304.7,401.9L304.7,401.4L304.7,400.9L304.7,400.4L304.7,399.9L304.7,399.4L304.8,398.9L304.9,398.3L304.9,397.8L305.0,397.3L305.1,396.8L305.3,396.3L305.4,395.8L305.6,395.3L305.7,394.8L305.9,394.3L306.1,393.8L306.3,393.3L306.8,392.8L307.4,392.2L307.9,391.7L308.5,391.2L309.1,390.7L309.6,390.2L310.2,389.7L310.8,389.2L311.4,388.8L312.1,388.3L312.3,387.9L312.6,387.5L312.8,387.0L313.1,386.6L313.4,386.2L313.7,385.8L314.1,385.3L314.4,384.9L314.8,384.5L315.1,384.1L315.8,383.7L316.4,383.3L317.1,383.0L317.7,382.6L318.4,382.3L319.1,381.9L319.8,381.6L320.5,381.2L321.2,380.9L322.0,380.6L322.7,380.3L323.4,380.0L324.2,379.7L324.9,379.5L325.7,379.2L326.4,379.0L327.2,378.7L327.9,378.5L328.7,378.3L329.4,378.1L330.2,377.9L330.4,377.4L330.7,377.0L331.0,376.6L331.3,376.1L331.7,375.7L332.1,375.3L332.6,374.9L333.0,374.5L332.3,373.8L331.7,373.1L330.5,373.2L329.3,373.3L328.1,373.4L326.9,373.6L327.2,373.1L327.5,372.6L327.8,372.2L326.3,372.1L324.7,372.1L323.0,372.2L321.4,372.3L320.3,372.7L319.3,373.0L318.3,373.4L317.3,373.7L316.3,374.1L314.9,374.5L313.5,374.9L312.1,375.4L310.7,375.8L311.1,376.1L311.6,376.4L312.2,376.8L312.8,377.1L311.7,377.5L310.6,378.0L309.5,378.4L308.5,378.9L307.4,379.4L306.3,379.9L305.2,380.4L304.1,381.0L303.1,381.5L302.0,382.1L300.9,382.7L299.9,383.3L298.8,383.9L297.7,384.5L295.9,385.3L294.1,386.2L292.3,387.1L290.6,388.0L288.8,389.0L286.3,390.3L283.8,391.6L281.3,393.1L279.2,394.5L277.1,396.1L275.1,397.6L273.1,398.8L271.1,400.0L269.8,400.7L268.4,401.5L267.1,402.3L265.8,403.1L263.4,405.0L261.1,407.1L258.8,409.3L256.8,411.4L255.1,413.2L253.5,415.1L252.3,416.7L251.2,418.4L249.0,421.3L247.3,423.6L245.6,425.9L243.8,428.7L242.0,431.6L240.2,434.8L238.5,438.1L237.2,440.7L236.0,443.4L237.3,440.8L238.6,438.4L239.9,436.1L241.3,433.8L242.8,431.6L244.8,428.3L246.8,425.1L245.6,427.5L243.9,430.3L242.2,433.1L240.7,435.8L239.1,438.5L237.8,441.3L236.6,444.0L235.5,446.8L234.4,449.7L233.3,451.8L232.3,454.0L231.6,456.5L231.0,459.0L230.4,461.6L229.9,464.0L229.5,466.4L229.3,468.7L229.2,471.0L229.1,473.4L229.7,474.5L229.4,477.4L229.2,480.4L229.4,482.4L229.6,484.3L229.9,486.3L230.2,488.3L230.2,489.5L230.3,495.3L229.9,497.3L230.2,500.0L230.7,502.7L231.4,505.0L232.2,507.2L232.8,509.4L233.7,509.8L234.6,510.1ZM235.1,510.4L236.8,510.4L237.6,509.2L238.7,509.6L239.8,510.1L241.7,510.0L241.5,514.0L243.7,512.9L244.6,515.5L245.4,518.1L246.6,519.4L247.8,520.7L249.0,522.0L250.7,523.0L252.4,524.0L253.1,526.8L253.8,529.6L255.2,531.1L256.6,532.6L257.8,535.5L259.2,538.4L260.7,539.5L262.3,540.6L263.8,541.7L265.4,543.3L267.0,545.0L267.7,547.3L268.5,549.6L269.3,551.9L269.7,553.9L270.1,556.0L272.7,559.0L274.7,560.6L276.8,562.2L278.8,563.8L280.9,565.3L282.8,566.4L284.7,567.4L286.7,568.4L289.1,569.8L291.6,571.3L293.8,573.0L296.1,574.7L298.3,576.3L298.9,578.5L299.4,580.6L298.4,582.3L297.4,583.9L295.2,585.0L293.0,586.1L293.1,587.6L293.1,589.1L293.2,590.6L293.4,592.1L292.8,593.1L292.2,594.1L291.7,595.0L290.8,596.1L290.1,597.1L288.0,596.3L286.2,595.9L284.5,595.6L283.3,595.9L282.2,596.2L281.1,596.5L281.5,597.5L282.0,598.4L281.5,599.1L281.2,599.7L280.4,600.1L279.8,600.4L278.7,599.9L277.7,599.4L276.6,598.9L275.1,597.9L273.6,596.8L276.5,599.3L278.3,600.8L277.1,600.0L276.1,599.3L275.0,598.5L274.0,597.8L274.8,598.4L275.7,599.1L275.0,598.5L274.3,598.0L276.5,599.6L276.9,600.0L277.3,600.3L277.3,600.2L277.3,600.2L280.6,602.5L281.0,602.8L281.5,603.2L282.8,604.0L284.2,604.9L284.9,605.4L285.7,605.9L283.8,604.7L281.9,603.5L280.1,602.2L278.2,600.9L276.3,599.5L274.5,598.1L272.7,596.7L271.5,595.8L270.4,594.9L269.4,594.0L268.3,593.1L267.2,592.1L266.1,591.1L265.0,590.1L263.9,589.1L262.8,588.0L261.6,586.8L260.5,585.7L259.8,585.0L259.1,584.3L258.5,583.6L257.8,582.9L256.8,581.7L255.8,580.6L254.8,579.4L254.2,578.6L253.7,577.8L253.2,576.9L252.1,575.3L251.0,573.7L250.0,572.1L249.3,570.8L248.7,569.4L248.0,568.1L247.4,566.7L246.8,565.3L244.9,562.3L243.3,559.8L241.7,557.4L240.2,554.8L238.1,550.4L236.8,547.1L236.0,544.8L235.2,542.5L234.5,540.2L233.7,537.9L232.5,534.4L231.4,530.8L231.6,529.6L231.8,528.5L231.2,525.4L231.5,524.0L231.8,522.7L232.8,521.5L233.4,520.1L234.1,518.6L234.3,516.4L234.6,514.1L234.5,511.7ZM360.7,499.5L359.8,501.3L358.8,503.6L355.8,505.2L354.3,507.0L353.9,509.3L353.4,511.5L351.7,514.0L350.0,516.4L347.0,518.1L343.9,521.3L342.3,523.4L340.7,525.5L339.9,527.7L339.1,529.8L338.3,531.9L339.9,535.2L339.5,537.9L339.0,540.5L337.9,542.8L336.7,545.1L338.1,547.7L338.3,550.2L340.9,552.0L343.0,554.1L345.7,556.6L347.4,560.0L350.8,561.6L353.0,563.4L355.2,565.1L358.6,566.2L361.2,565.6L363.8,565.0L366.4,564.3L368.7,564.5L370.9,564.7L373.1,563.8L375.3,562.8L378.0,561.8L380.8,560.8L382.9,560.5L385.1,560.1L386.8,561.8L388.5,563.4L391.1,562.7L393.8,562.0L396.0,562.9L396.7,566.1L395.8,569.0L395.7,570.8L395.6,572.6L397.4,573.9L399.1,575.2L400.8,576.5L401.7,578.8L402.5,580.8L403.2,582.8L402.7,584.5L402.2,586.2L401.7,587.9L401.1,589.5L400.4,591.3L399.7,593.1L398.9,594.8L399.4,595.9L399.8,597.1L400.5,598.2L401.1,599.3L401.7,600.3L402.3,601.3L402.3,602.4L402.2,603.5L402.1,604.6L401.9,605.6L403.5,606.5L404.1,607.5L404.6,608.4L404.2,609.5L403.7,610.5L406.0,610.1L407.8,609.2L409.5,608.4L411.4,607.6L413.3,606.8L415.1,606.0L416.9,605.0L418.7,604.0L421.3,602.1L423.9,600.1L426.4,598.1L429.6,595.5L430.7,594.0L431.8,592.5L434.4,590.1L437.1,587.7L437.5,586.5L437.9,585.4L438.2,584.1L438.5,582.9L440.6,580.6L442.6,578.3L444.9,575.8L447.0,573.2L449.1,570.5L449.7,568.8L450.2,567.1L450.6,565.3L451.0,563.5L450.7,562.0L450.4,560.6L450.1,559.1L450.5,557.3L450.8,555.5L451.1,553.6L452.6,550.8L453.9,547.9L455.0,545.0L456.0,542.2L457.5,539.5L459.0,536.9L460.1,534.1L461.0,531.2L462.0,528.3L462.5,525.4L463.1,522.5L463.5,519.5L463.8,516.9L464.2,514.3L463.8,511.8L462.6,513.6L461.4,515.4L460.2,517.1L459.0,518.8L457.6,520.5L456.3,522.2L454.3,521.2L452.9,520.3L450.3,519.0L447.5,517.6L446.2,515.6L444.9,513.7L442.2,511.9L441.5,508.8L438.7,507.0L437.1,504.5L435.1,502.6L433.2,500.7L431.7,498.8L430.1,496.9L428.6,495.0L431.4,498.0L432.7,497.8L432.6,496.1L432.3,493.8L430.0,490.7L428.6,491.5L427.2,492.3L425.5,493.3L423.8,494.3L421.7,495.1L419.6,495.9L417.8,496.3L416.0,496.8L414.1,496.6L412.3,496.4L410.6,496.7L408.8,496.9L407.8,499.0L408.3,501.4L407.0,503.5L405.1,503.3L403.2,503.1L401.3,502.9L399.4,501.0L397.5,500.9L395.7,500.8L392.6,500.9L390.5,499.6L390.8,496.7L388.8,493.3L389.9,492.8L388.1,492.5L385.7,493.9L384.0,494.0L382.2,494.1L380.2,494.7L378.2,495.2L376.2,495.8L374.6,496.7L372.9,497.7L371.2,498.7L368.6,500.3L366.0,500.3L363.8,499.7L361.6,499.2ZM361.0,499.0L359.7,497.2L357.7,496.4L355.0,496.9L355.1,493.1L353.9,492.9L354.9,489.0L354.8,485.7L354.2,483.4L356.3,481.8L358.0,481.9L359.8,481.9L361.7,482.1L363.6,482.2L366.4,482.0L366.9,479.4L366.7,476.1L364.9,473.6L362.9,472.8L361.0,472.1L363.4,470.1L365.5,470.4L364.8,468.0L366.3,468.1L367.8,468.2L369.6,466.4L370.5,464.3L371.9,463.4L372.7,461.1L372.8,459.8L374.1,459.0L375.3,458.2L377.4,456.9L376.3,453.6L375.1,451.0L376.2,449.8L377.3,448.6L377.7,451.1L378.6,451.6L378.1,454.3L379.9,456.2L381.7,454.8L384.3,455.3L386.0,453.9L387.3,452.9L388.5,452.0L390.4,452.2L391.1,450.1L389.4,447.0L389.2,445.5L390.8,445.5L392.3,445.4L390.2,442.8L389.4,441.2L390.4,440.7L391.4,440.2L392.3,439.6L393.3,439.0L394.0,438.2L394.8,437.3L393.3,437.3L392.5,437.7L391.6,438.2L390.7,438.6L389.8,439.0L388.7,439.6L387.7,440.3L385.8,439.2L384.4,436.6L383.1,434.1L383.5,432.8L383.9,431.5L384.3,430.2L383.0,429.0L382.2,429.3L381.4,429.6L381.8,432.3L381.4,433.6L380.9,434.9L380.5,437.2L382.0,440.7L384.3,442.0L384.2,443.8L383.9,447.2L384.9,449.9L384.0,451.1L383.0,452.2L381.2,452.3L380.6,451.1L378.1,447.7L376.8,445.8L375.7,444.3L375.2,446.2L374.1,448.4L372.9,448.5L371.7,448.6L370.8,447.1L369.4,444.1L368.7,441.0L369.5,440.1L370.2,439.1L371.0,438.1L371.7,437.1L372.3,436.2L372.8,434.0L373.1,431.8L373.1,428.7L373.4,427.6L373.7,426.4L374.0,425.3L374.2,424.2L374.4,423.1L374.8,422.5L375.3,422.0L375.7,421.4L376.1,420.8L376.6,420.4L377.1,420.0L377.6,419.6L378.5,419.5L379.4,419.4L380.5,419.4L381.5,419.4L382.7,419.8L384.0,420.2L384.7,420.1L385.5,419.9L386.3,419.8L387.3,419.9L388.3,420.0L389.3,420.1L390.3,420.1L391.4,420.2L393.2,422.3L392.6,423.3L392.6,424.3L392.5,425.3L392.4,426.3L392.3,427.3L393.5,427.5L394.7,427.6L395.0,426.7L395.4,425.7L395.7,424.8L395.5,423.5L395.2,422.2L394.8,421.0L393.2,419.4L391.6,417.8L392.3,417.6L393.1,417.4L393.4,416.8L393.7,416.3L394.0,415.8L394.3,415.2L394.6,414.7L394.9,414.2L395.1,413.6L395.5,413.2L395.8,412.7L396.2,412.3L396.5,411.8L396.8,411.4L397.1,410.9L396.3,409.8L395.5,408.8L396.0,408.5L396.5,408.1L397.0,407.8L397.4,407.4L397.9,407.1L398.8,406.9L399.7,406.7L397.5,405.7L395.3,404.7L393.1,403.7L392.5,402.9L391.8,402.2L391.1,401.4L390.4,400.7L390.4,400.3L390.3,399.8L390.2,399.4L390.0,399.0L389.9,398.5L389.8,398.1L389.6,397.7L389.2,397.2L388.7,396.7L388.2,396.2L387.7,395.8L387.2,395.3L386.7,394.9L386.1,394.5L385.7,394.1L385.3,393.7L384.9,393.3L384.5,392.9L384.0,392.6L383.6,392.2L383.1,391.9L382.7,391.6L382.2,391.2L381.7,390.9L381.2,390.6L380.8,390.3L380.3,390.0L379.8,389.8L379.3,389.5L378.9,389.2L378.4,389.0L377.9,388.7L378.6,388.4L379.3,388.0L380.0,387.6L380.6,387.3L381.2,386.9L381.8,386.5L382.3,386.1L382.8,385.6L382.7,385.3L382.6,384.9L382.5,384.6L382.4,384.2L382.2,383.9L382.1,383.5L381.9,383.2L381.7,382.8L381.5,382.5L381.3,382.1L381.1,381.8L380.8,381.4L380.5,381.0L380.3,380.7L380.0,380.3L379.6,380.0L379.3,379.7L378.6,379.4L377.9,379.2L377.2,379.0L376.6,378.8L375.9,378.6L375.2,378.4L374.5,378.2L373.8,378.1L373.1,377.9L372.4,377.7L371.9,377.5L371.4,377.2L370.9,377.0L370.4,376.7L369.8,376.5L369.3,376.2L368.7,376.0L368.2,375.8L367.6,375.5L367.0,375.3L366.5,375.1L365.9,374.8L365.3,374.6L364.7,374.3L364.1,374.1L363.5,373.8L362.8,373.6L362.1,373.4L361.5,373.2L360.8,373.0L360.0,372.9L359.2,372.9L358.4,372.8L357.7,372.8L356.9,372.8L356.1,372.8L355.3,372.7L354.5,372.7L353.8,372.8L353.0,372.8L352.2,372.7L351.4,372.7L350.7,372.6L349.9,372.6L349.1,372.5L348.3,372.5L347.4,372.5L346.6,372.5L345.8,372.5L345.0,372.5L345.0,371.8L345.0,371.2L345.1,370.5L345.3,369.9L346.1,369.6L347.0,369.3L347.9,369.0L348.8,368.8L349.8,368.5L350.8,368.3L351.9,368.1L353.0,367.9L354.1,367.8L355.3,367.8L356.5,367.7L357.7,367.7L358.9,367.7L360.1,367.7L361.3,367.7L362.8,367.6L364.3,367.6L365.8,367.6L367.5,367.7L369.1,367.8L370.9,368.0L372.6,368.3L372.4,368.3L372.2,368.3L372.0,368.3L371.7,368.4L371.5,368.5L371.2,368.7L372.3,368.9L373.4,369.1L374.4,369.4L375.5,369.6L376.5,369.9L377.6,370.1L378.6,370.4L379.5,370.7L380.5,371.0L381.5,371.4L382.4,371.7L383.3,372.0L384.2,372.4L385.7,372.6L387.3,373.0L388.9,373.3L390.5,373.7L392.1,374.1L393.8,374.6L395.4,375.1L394.9,374.7L394.3,374.3L393.7,373.9L393.0,373.6L392.3,373.2L391.5,372.9L392.7,373.1L393.8,373.5L395.0,373.8L396.2,374.2L398.1,374.9L400.0,375.7L401.9,376.4L403.9,377.3L405.9,378.1L407.9,379.0L409.8,380.0L411.6,380.9L413.4,381.8L415.2,382.8L417.0,383.8L419.0,385.0L421.0,386.2L421.5,386.5L422.0,386.8L422.5,387.1L422.9,387.4L424.9,388.7L426.8,390.0L425.7,389.2L424.6,388.5L423.5,387.8L423.4,387.7L425.0,388.7L426.5,389.8L428.1,390.9L429.4,391.9L430.7,392.8L432.0,393.8L431.5,393.4L430.9,393.0L430.3,392.5L429.7,392.1L432.2,394.0L434.7,396.0L435.2,396.4L435.6,396.8L436.1,397.1L436.8,397.7L437.6,398.4L439.3,399.9L441.1,401.6L442.8,403.2L444.6,404.9L446.5,406.9L448.3,408.9L450.1,410.9L451.9,412.9L453.6,415.0L454.9,416.6L456.1,418.3L457.3,419.9L458.5,421.6L459.2,422.5L459.8,423.4L461.3,425.7L462.7,428.0L464.4,430.7L464.8,431.5L465.3,432.2L465.7,433.0L466.1,433.8L466.5,434.6L466.9,435.3L467.4,436.1L468.6,438.6L469.8,441.1L471.0,443.7L472.1,446.2L471.7,445.3L471.7,445.4L471.8,445.4L471.8,445.4L472.5,447.2L473.2,448.9L473.9,450.7L474.5,452.5L474.9,453.7L475.3,454.8L475.7,456.0L476.0,456.9L476.3,457.8L476.5,458.7L476.8,459.6L477.1,460.5L477.2,460.9L477.3,461.2L477.0,460.2L476.7,459.3L476.4,458.3L476.1,457.3L475.8,456.3L475.2,454.4L474.5,452.5L474.0,451.1L473.5,449.6L472.9,448.2L472.3,446.8L471.7,445.4L471.1,444.0L471.7,445.3L472.2,446.6L472.8,447.9L472.1,446.4L471.5,444.8L470.8,443.4L470.7,443.2L470.4,443.1L470.6,444.0L470.8,444.8L471.3,446.3L471.7,447.9L472.1,449.4L473.4,452.4L474.3,455.3L475.2,458.2L475.9,461.2L476.6,464.1L477.4,466.9L478.1,469.7L478.7,472.5L479.3,475.1L479.9,477.8L480.3,481.3L480.6,484.8L479.7,483.4L479.3,482.2L478.7,480.9L478.2,479.7L477.5,478.3L476.8,476.9L476.0,475.5L475.1,474.2L474.4,472.5L473.7,470.8L472.9,469.2L472.0,467.8L471.2,468.5L470.4,469.2L468.9,469.3L467.7,469.0L466.4,468.6L465.9,470.0L465.3,471.4L464.7,472.8L464.0,474.2L463.2,475.3L462.3,476.4L461.4,477.4L460.4,478.5L458.4,477.2L457.6,479.0L456.7,480.8L455.0,481.0L453.3,481.2L451.5,479.9L449.8,478.6L448.4,480.4L448.9,482.4L451.0,483.8L453.0,485.3L455.6,486.1L456.4,488.0L457.3,486.9L458.2,485.7L459.1,484.5L459.0,478.9L460.6,481.9L462.0,481.5L463.2,481.2L464.9,481.9L465.4,484.8L465.7,487.8L466.0,490.7L465.5,494.2L464.8,497.6L463.9,500.6L462.9,503.6L462.1,505.6L461.2,507.7L460.2,509.8L459.2,511.8L458.2,513.6L457.1,515.3L456.0,517.0L454.0,519.0L453.2,517.3L452.3,515.6L451.3,512.5L449.0,510.7L447.4,509.2L445.7,507.6L443.6,505.7L442.1,504.0L440.6,502.2L438.9,500.9L437.1,499.5L435.5,498.1L433.8,496.6L432.3,493.8L430.0,490.7L429.7,487.0L428.8,483.2L428.3,480.2L427.7,478.4L425.4,479.3L424.4,480.8L423.4,482.3L421.9,482.6L420.3,482.9L418.7,483.5L417.0,484.1L415.0,483.1L413.2,481.4L411.8,479.6L411.5,477.8L412.8,476.9L414.1,476.1L414.2,474.5L415.8,473.6L417.3,472.6L418.5,471.3L419.7,469.9L420.8,468.6L422.3,468.5L423.8,468.4L425.4,468.3L426.5,467.1L427.6,465.8L428.6,464.6L427.4,462.7L424.7,462.0L423.0,461.7L421.3,461.4L419.9,460.4L418.8,460.8L417.9,462.2L417.2,463.4L416.3,464.7L414.2,463.6L414.7,461.8L412.9,462.0L411.1,462.2L410.8,464.4L410.9,465.8L410.7,468.4L411.1,471.3L412.4,474.1L414.1,474.3L412.9,475.2L411.7,476.1L410.4,477.0L409.0,477.6L407.6,478.2L406.4,479.4L405.8,479.6L407.6,482.6L409.8,484.1L408.7,485.7L408.7,488.2L407.3,488.0L405.7,486.2L405.4,485.1L404.0,483.4L402.6,482.8L401.3,481.8L400.4,478.5L398.4,477.5L396.6,476.9L394.8,476.3L392.4,475.4L390.2,474.4L389.2,473.2L387.4,473.9L388.2,476.5L390.5,477.6L393.0,480.1L395.4,481.1L397.7,481.9L400.1,482.7L397.5,482.5L397.6,485.1L398.7,485.7L397.6,488.4L396.7,487.9L396.3,485.3L394.6,484.1L393.0,483.2L391.2,482.5L389.3,481.8L387.1,480.7L385.1,477.9L382.9,477.3L381.0,479.0L379.0,481.0L376.9,480.6L374.5,481.5L374.6,483.3L374.9,484.4L373.4,485.7L371.4,486.9L370.2,489.7L369.8,490.7L370.8,491.9L369.7,493.2L369.3,494.8L367.2,497.0L365.2,497.2L363.1,497.3ZM339.6,401.3L339.9,401.4L340.1,401.4L340.4,401.5L340.7,401.6L340.9,401.7L341.2,401.8L341.5,401.9L341.8,401.9L342.0,402.0L342.3,402.1L342.6,402.1L342.9,402.2L343.2,402.2L343.4,402.3L343.7,402.3L344.0,402.4L344.3,402.4L344.6,402.4L344.9,402.4L345.2,402.5L345.5,402.5L345.8,402.5L346.0,402.5L346.3,402.5L346.6,402.5L346.9,402.5L347.2,402.5L347.5,402.5L347.7,402.5L348.0,402.5L348.1,402.7L348.3,403.0L348.4,403.3L348.6,403.6L348.8,403.8L349.0,404.1L349.2,404.4L349.4,404.7L349.6,404.9L349.9,405.2L350.1,405.4L350.4,405.7L350.7,405.9L351.0,406.1L351.3,406.3L351.6,406.6L352.0,406.8L352.3,407.0L351.9,407.7L351.5,408.3L351.0,409.0L350.5,409.7L350.0,410.4L349.4,411.0L348.8,413.1L348.1,415.3L347.4,417.4L346.6,419.6L345.8,421.4L345.0,423.2L344.0,425.0L343.1,425.8L342.1,426.6L341.0,427.4L340.0,428.2L339.2,428.2L338.3,428.1L337.5,428.0L336.7,427.9L335.9,427.8L335.1,427.7L334.3,427.6L333.1,428.4L331.8,429.1L330.6,429.8L329.3,430.5L328.0,431.2L326.5,432.3L324.9,433.3L323.4,434.2L321.6,436.1L319.8,438.0L318.0,439.9L317.3,439.1L316.6,438.3L316.0,437.5L315.3,436.3L314.7,435.2L315.6,432.4L316.5,429.6L317.5,427.4L318.6,425.2L319.5,423.3L320.5,421.5L322.1,420.8L323.8,420.2L323.6,419.4L323.5,418.7L323.4,417.9L325.6,414.9L326.6,413.2L327.8,411.5L329.0,409.9L328.8,409.5L328.6,409.1L328.4,408.7L328.2,408.3L328.1,407.9L327.9,407.5L327.8,407.2L327.7,406.8L327.8,406.2L328.0,405.7L328.2,405.2L328.4,404.6L328.6,404.1L329.2,403.4L329.9,402.7L330.5,402.8L331.1,402.8L331.7,402.8L332.3,402.8L332.9,402.9L333.5,402.9L334.1,402.9L334.7,402.8L335.7,402.5L336.7,402.2L337.7,401.9L338.6,401.6ZM303.6,426.7L303.6,425.5L303.7,424.3L303.8,423.1L303.7,422.2L303.6,421.4L303.5,420.5L303.7,419.5L303.8,418.6L304.0,417.6L306.1,416.7L308.3,415.8L308.4,414.8L308.5,413.9L308.7,413.1L308.9,412.2L309.7,411.0L310.6,409.9L311.5,408.8L311.9,408.1L312.2,407.3L312.6,406.6L313.0,405.9L313.5,405.2L314.3,404.3L315.2,403.5L316.1,402.7L317.0,401.9L317.2,402.3L317.4,402.6L317.7,403.0L317.9,403.3L318.1,403.7L318.4,404.0L318.6,404.4L318.9,404.7L319.2,405.0L318.8,405.7L318.4,406.3L318.1,407.0L317.8,407.7L317.5,408.4L317.2,409.1L316.8,410.0L316.5,410.8L316.2,411.7L315.9,412.6L315.5,413.8L315.1,414.9L314.4,416.2L313.7,417.6L313.1,418.9L312.9,420.2L312.7,421.4L309.5,423.0L307.5,424.3L305.5,425.5ZM324.4,399.1L324.4,399.5L324.3,399.8L324.3,400.2L324.2,400.6L324.2,400.9L324.2,401.3L324.2,401.6L324.2,402.0L324.3,402.4L324.3,402.7L325.2,402.7L326.1,402.7L326.9,402.7L327.8,402.6L328.7,402.6L329.7,402.5L330.7,402.3L331.7,402.2L332.6,402.0L333.6,401.8L334.3,401.7L335.1,401.7L335.8,401.5L336.5,401.4L337.3,401.3L338.0,401.2L338.7,401.0L339.4,400.9L339.3,400.7L339.2,400.5L339.1,400.3L339.1,400.0L339.0,399.8L339.0,399.6L338.9,399.4L338.9,399.2L338.8,399.0L338.8,398.9L338.8,398.7L338.8,398.5L338.8,398.3L338.4,398.2L338.0,398.2L337.6,398.1L337.2,398.0L336.8,398.0L336.4,397.9L336.1,397.8L335.7,397.7L335.3,397.6L334.9,397.5L334.6,397.4L334.2,397.2L333.8,397.1L333.5,397.0L333.1,396.9L331.8,396.9L330.4,397.0L329.0,397.1L327.6,397.1L326.3,397.1L325.9,397.5L325.5,397.9L325.1,398.3L324.8,398.7ZM321.6,403.9L321.3,403.6L321.1,403.3L320.8,403.0L320.6,402.7L320.3,402.4L320.1,402.1L319.9,401.7L319.6,401.4L319.4,401.1L319.2,400.8L319.0,400.4L318.9,400.1L322.5,399.0L322.7,399.3L322.8,399.6L323.0,399.9L323.1,400.2L323.3,400.5L323.5,400.8L323.6,401.1L323.8,401.4L324.0,401.7L324.3,402.0L324.5,402.3L324.7,402.6ZM307.4,397.7L307.7,398.2L308.1,398.6L308.5,399.0L311.5,398.0L312.7,397.3L313.9,396.6L315.1,396.0L316.3,395.4L316.3,395.0L316.3,394.6L316.2,394.3L316.2,393.9L316.2,393.5L316.2,393.1L316.3,392.8L316.1,392.4L315.9,392.0L315.8,391.6L315.7,391.2L315.6,390.7L313.9,390.7L313.2,391.1L312.5,391.6L311.9,392.1L311.2,392.6L310.9,392.1L310.7,391.6L310.1,392.1L309.5,392.7L308.9,393.2L308.3,393.8L307.8,394.4L307.5,394.9L307.3,395.4L307.0,395.9L306.8,396.4L307.0,396.9L307.2,397.3ZM314.4,400.3L314.4,400.7L314.5,401.1L314.6,401.5L314.7,401.9L314.8,402.3L318.0,401.2L317.9,400.8L317.8,400.4L317.7,400.1L317.6,399.7L317.6,399.3ZM340.1,434.3L341.2,433.5L342.3,432.8L343.2,432.8L344.0,432.9L344.9,433.0L345.8,433.0L346.7,433.1L347.6,433.1L348.4,434.1L349.3,435.2L348.1,437.5L347.1,438.1L346.0,438.6L345.0,439.1L344.0,438.8L343.1,438.4L342.1,438.0L340.8,437.4ZM362.2,410.1L362.4,409.5L362.5,409.0L362.7,408.4L362.7,407.8L362.8,407.3L363.1,407.1L363.4,406.9L363.7,406.7L364.0,406.5L364.3,406.3L364.5,406.1L365.1,406.3L365.7,406.5L366.2,406.6L366.8,406.7L367.4,406.9L367.4,407.4L367.4,407.9L367.3,408.4L367.3,409.0L367.2,409.5L367.1,410.1L367.0,410.6L366.8,411.1L366.6,411.7L366.4,412.2L366.2,412.8L365.3,412.1L364.4,411.4L363.6,411.0L362.9,410.6ZM390.1,411.0L389.2,409.9L388.3,408.8L387.4,407.8L386.5,406.7L385.5,405.8L384.5,404.8L383.4,403.9L382.3,403.0L382.3,402.6L382.3,402.2L382.2,401.8L382.2,401.4L382.1,401.0L382.0,400.6L381.9,400.3L381.8,399.9L382.3,400.4L382.9,400.9L383.4,401.5L383.8,402.1L384.3,402.6L384.8,403.2L385.6,404.0L386.4,404.8L387.2,405.7L388.0,406.5L388.7,407.4L390.4,408.9L392.0,410.4L391.4,410.6L390.7,410.8ZM359.2,467.7L360.7,467.3L362.1,466.8L363.5,466.3L364.9,465.8L366.3,465.3L367.6,464.8L369.0,464.3L368.9,461.2L366.8,459.7L365.8,457.4L363.6,455.2L362.6,452.1L362.9,451.0L361.5,451.1L360.2,451.2L361.2,449.1L360.0,449.1L358.9,449.2L358.2,451.6L357.7,453.7L358.6,456.2L359.7,457.3L361.9,458.0L362.4,460.3L360.3,460.5L361.0,462.6L359.7,464.0L361.2,464.2L362.8,464.4L360.7,465.0ZM358.5,462.9L358.2,460.1L358.7,457.7L356.5,456.3L355.2,456.6L353.0,458.7L353.1,460.9L352.6,463.9L353.7,464.6L355.5,463.9L357.0,463.4ZM461.5,556.3L461.5,557.7L461.3,559.1L461.2,560.4L460.1,562.5L459.0,564.6L457.9,566.7L456.8,568.7L455.6,570.7L454.4,572.7L453.3,574.5L452.2,576.1L451.1,577.8L449.7,579.2L448.4,580.5L448.6,579.7L448.7,578.9L448.8,578.1L450.0,576.2L451.1,574.2L451.8,572.7L452.4,571.2L453.1,569.7L454.9,567.3L456.7,564.9L458.0,562.6L459.4,560.2ZM237.4,476.5L238.6,476.9L239.8,477.4L240.6,478.9L241.5,480.4L241.9,483.0L242.3,485.7L242.7,487.9L243.2,490.1L244.0,492.5L242.9,491.4L241.9,490.3L240.9,489.2L241.3,485.1L240.7,483.6L240.1,482.1L239.2,480.0L238.2,478.5ZM242.5,495.6L245.1,494.7L246.4,496.5L247.8,498.3L249.0,502.3L246.9,501.1L244.9,500.6L244.1,498.9L243.3,497.2ZM239.3,491.0L240.1,492.4L240.9,493.8L240.2,493.8L239.3,492.6ZM250.2,503.7L252.0,505.6L251.5,506.2L249.9,504.6ZM287.0,454.7L289.2,453.5L291.4,452.3L293.6,451.0L295.8,449.8L294.4,451.8L293.0,453.9L294.4,454.6L295.9,455.3L293.6,457.9L293.9,459.3L292.1,460.4L291.2,458.8L290.3,457.2L289.2,456.4L288.0,455.5ZM391.7,490.0L393.4,489.3L395.1,488.7L396.7,487.9L396.9,491.7L394.5,491.3L392.1,490.8ZM383.7,484.9L386.0,484.4L386.6,488.7L384.8,489.3L384.3,487.1ZM384.3,480.2L385.3,483.6L383.7,483.3L383.4,481.3ZM410.9,489.5L413.1,488.9L415.3,488.3L412.9,490.3ZM424.1,484.7L425.4,483.1L426.6,481.5L426.1,483.8L424.5,485.2ZM480.2,478.7L480.5,479.3L480.8,479.9L481.3,484.5L480.9,482.7L480.5,480.7ZM316.7,388.2L316.2,388.6L315.7,389.0L315.2,389.4L314.8,389.8L314.3,390.2L315.4,390.7L316.4,391.1L319.8,390.4L320.0,390.0L320.3,389.7L320.6,389.3L320.8,389.0L321.1,388.6L319.0,388.0ZM321.5,391.0L321.4,391.3L321.3,391.7L321.2,392.0L321.1,392.4L321.0,392.7L321.0,393.1L320.9,393.4L320.9,393.8L320.9,394.1L320.9,394.5L320.8,394.8L323.1,394.4L323.3,394.0L323.5,393.7L323.7,393.4L324.0,393.0L323.9,392.8L323.8,392.5L323.8,392.2L323.7,391.9L323.7,391.5L323.6,391.2ZM312.1,398.3L312.2,398.7L312.4,399.1L312.6,399.5L312.8,399.9L314.9,399.4L317.1,398.9L316.8,398.5L316.6,398.2L316.4,397.9L315.6,397.6L314.9,397.2ZM320.7,396.4L320.5,396.8L320.3,397.2L320.1,397.6L322.7,397.0L322.6,396.7L322.5,396.4L322.5,396.0ZM327.4,396.9L327.9,397.0L328.3,397.2L328.8,397.4L329.3,397.5L329.8,397.7L333.1,396.6L332.6,396.5L332.1,396.4L331.6,396.3L331.1,396.1L330.7,396.0ZM298.1,412.1L298.2,412.8L298.3,413.5L298.3,414.2L298.4,414.9L298.6,415.6L300.8,415.0L301.2,414.0L301.6,413.0L302.1,412.1L302.6,411.1L302.0,410.7L301.4,410.4L300.9,410.0ZM306.4,400.9L306.2,401.4L306.1,402.0L306.0,402.5L308.5,401.4L308.2,401.0L307.8,400.7ZM319.0,398.5L319.1,399.0L319.2,399.4L320.7,399.0L320.6,398.6L320.6,398.1ZM430.2,454.6L429.7,452.0L429.1,449.4L429.7,448.4L430.3,447.3L430.9,446.3L431.4,445.3L433.0,446.7L434.6,448.2L435.1,450.7L435.5,453.2L438.4,453.8L441.1,455.6L442.0,457.8L443.0,460.0L445.2,461.2L444.7,462.5L444.1,463.8L443.5,465.2L442.1,465.4L440.7,465.6L439.5,463.1L438.1,460.5L436.2,459.4L434.3,458.2L432.6,456.9Z" fill="none" stroke="#000" stroke-width="0.85" stroke-linejoin="round"/></g><circle cx="353.0" cy="495.8" r="129.0" fill="none" stroke="#000" stroke-width="1.1"/><circle cx="352.8" cy="495.6" r="9.6" fill="#8b4513" stroke="#000" stroke-width="1.4"/><clipPath id="cA3"><rect x="696.5" y="367.5" width="581" height="259"/></clipPath><path d="M696.50,420.90L722.40,419.50L752.90,426.20L775.00,420.00L791.70,424.20L806.00,429.70L817.60,426.20L827.50,416.30L836.80,410.10L844.80,402.40L851.80,395.50L858.70,381.60L870.30,380.70L876.00,378.40L881.80,379.80L886.40,380.70L889.90,383.00L894.50,392.70L901.50,403.10L905.40,404.70L908.40,410.10L911.90,419.30L915.30,423.90L918.80,421.60L922.30,421.20L926.20,419.30L929.20,423.90L932.70,398.50L936.10,396.20L940.70,395.00L946.10,395.70L947.70,399.70L948.80,437.80L952.30,443.60L955.80,444.70L958.10,451.70L960.40,439.00L962.70,432.50L964.50,440.10L966.90,435.50L970.80,433.20L972.40,442.40L976.60,440.10L978.90,435.50L983.30,425.50L986.60,427.80L989.30,444.30L991.30,457.60L993.30,460.90L995.20,453.60L997.20,451.20L1001.20,451.60L1003.90,474.80L1005.80,456.90L1008.50,458.90L1010.50,462.20L1012.50,474.80L1015.80,466.20L1019.80,470.80L1023.70,476.10L1024.16,482.67L1024.89,486.44L1025.61,482.01L1026.33,476.03L1027.04,472.91L1027.75,468.83L1028.45,470.88L1029.14,474.72L1029.82,478.21L1030.50,485.21L1031.18,484.47L1031.84,482.47L1032.51,477.02L1033.16,471.07L1033.81,471.48L1034.46,471.89L1035.10,472.90L1035.73,474.56L1036.36,474.45L1036.98,472.93L1037.60,473.37L1038.22,473.23L1038.83,472.02L1039.43,471.54L1040.03,471.22L1040.62,472.13L1041.21,472.56L1041.80,476.40L1042.38,479.48L1042.96,481.35L1043.53,485.34L1044.10,487.79L1044.66,491.40L1045.22,496.11L1045.78,501.52L1046.33,503.61L1046.88,502.57L1047.42,501.29L1047.96,492.38L1048.50,485.96L1049.03,481.28L1049.56,476.90L1050.09,481.00L1050.61,482.87L1051.13,484.64L1051.64,485.31L1052.15,482.09L1052.66,481.57L1053.17,483.11L1053.67,486.03L1054.16,487.39L1054.66,490.71L1055.15,490.99L1055.64,490.34L1056.12,487.53L1056.61,483.38L1057.09,479.94L1057.56,478.32L1058.04,481.34L1058.51,485.93L1058.97,492.93L1059.44,493.00L1059.90,492.92L1060.36,489.18L1060.82,484.91L1061.27,490.81L1061.72,492.54L1062.17,496.73L1062.61,499.31L1063.06,495.06L1063.50,497.10L1063.94,498.24L1064.37,498.78L1064.80,500.91L1065.23,497.04L1065.66,492.01L1066.09,491.69L1066.51,488.90L1066.93,490.46L1067.35,494.54L1067.77,494.94L1068.18,500.23L1068.60,501.06L1069.00,502.99L1069.41,507.65L1069.82,505.92L1070.22,504.11L1070.62,500.99L1071.02,495.52L1071.42,495.23L1071.81,498.87L1072.21,502.53L1072.60,505.61L1072.99,505.45L1073.37,503.84L1073.76,501.16L1074.14,503.02L1074.52,506.05L1074.90,505.96L1075.28,505.06L1075.66,502.07L1076.03,498.57L1076.40,499.12L1076.77,504.10L1077.14,509.16L1077.51,515.37L1077.87,520.33L1078.23,520.23L1078.60,517.62L1078.96,516.00L1079.31,512.74L1079.67,511.08L1080.02,514.69L1080.38,516.80L1080.73,518.81L1081.08,518.85L1081.43,514.71L1081.77,512.37L1082.12,509.83L1082.46,510.15L1082.80,510.41L1083.14,511.38L1083.48,516.70L1083.82,521.02L1084.16,528.72L1084.49,527.14L1084.82,521.15L1085.16,516.54L1085.49,509.10L1085.82,510.05L1086.14,511.36L1086.47,507.44L1086.79,505.56L1087.12,501.45L1087.44,498.76L1087.76,502.81L1088.08,506.97L1088.40,511.66L1088.71,516.01L1089.03,515.92L1089.34,515.72L1089.65,514.95L1089.97,513.52L1090.28,514.37L1090.58,515.13L1090.89,517.05L1091.20,519.98L1091.50,519.36L1091.81,521.03L1092.11,520.95L1092.41,519.62L1092.71,521.50L1093.01,519.18L1093.31,517.44L1093.61,516.19L1093.90,511.13L1094.20,510.26L1094.49,508.46L1094.78,506.30L1095.07,505.72L1095.36,503.98L1095.65,506.71L1095.94,511.38L1096.23,519.65L1096.51,521.20L1096.80,516.78L1097.08,512.21L1097.36,505.20L1097.64,506.11L1097.93,509.27L1098.20,509.39L1098.48,509.55L1098.76,507.54L1099.04,505.11L1099.31,505.24L1099.59,507.46L1099.86,509.28L1100.13,510.78L1100.40,513.38L1100.68,514.67L1100.94,515.42L1101.21,518.01L1101.48,517.85L1101.75,515.33L1102.01,512.92L1102.28,505.75L1102.54,501.09L1102.81,498.15L1103.07,496.09L1103.33,496.11L1103.59,493.76L1103.85,494.40L1104.11,493.80L1104.37,496.63L1104.62,503.09L1104.88,508.36L1105.13,515.88L1105.39,518.93L1105.64,520.87L1105.89,520.55L1106.15,520.20L1106.40,519.26L1106.65,518.35L1106.90,517.40L1107.15,516.02L1107.39,518.14L1107.64,516.31L1107.89,511.41L1108.13,506.94L1108.38,500.94L1108.62,498.96L1108.86,503.38L1109.11,509.84L1109.35,518.55L1109.59,526.53L1109.83,529.07L1110.07,528.60L1110.31,527.54L1110.54,527.07L1110.78,527.31L1111.02,525.69L1111.25,523.81L1111.49,516.77L1111.72,510.26L1111.95,504.11L1112.19,498.05L1112.42,498.42L1112.65,499.35L1112.88,502.74L1113.11,505.74L1113.34,506.94L1113.57,507.43L1113.80,508.86L1114.02,514.18L1114.25,518.44L1114.48,524.01L1114.70,531.97L1114.93,534.20L1115.15,530.85L1115.37,528.48L1115.60,521.67L1115.82,517.94L1116.04,521.52L1116.26,521.58L1116.48,521.56L1116.70,522.10L1116.92,521.98L1117.13,521.46L1117.35,519.42L1117.57,516.86L1117.79,510.91L1118.00,510.53L1118.22,514.62L1118.43,519.28L1118.64,521.84L1118.86,520.82L1119.07,515.80L1119.28,510.04L1119.49,511.00L1119.70,509.67L1119.91,510.41L1120.12,509.76L1120.33,507.18L1120.54,508.07L1120.75,506.61L1120.96,508.22L1121.16,508.91L1121.37,510.01L1121.58,515.24L1121.78,521.58L1121.99,527.33L1122.19,530.27L1122.39,530.69L1122.60,529.59L1122.80,531.35L1123.00,533.93L1123.20,533.66L1123.40,530.47L1123.60,524.37L1123.80,517.23L1124.00,512.90L1124.20,512.06L1124.40,513.68L1124.60,520.25L1124.80,527.63L1124.99,533.78L1125.19,538.72L1125.38,537.23L1125.58,534.48L1125.77,529.63L1125.97,520.68L1126.16,514.96L1126.36,510.01L1126.55,507.16L1126.74,512.44L1126.93,517.64L1127.12,526.49L1127.31,535.31L1127.50,538.74L1127.69,539.99L1127.88,535.85L1128.07,532.12L1128.26,527.33L1128.45,523.55L1128.64,519.65L1128.82,516.21L1129.01,512.50L1129.20,510.78L1129.38,512.01L1129.57,513.28L1129.75,516.87L1129.94,520.63L1130.12,520.80L1130.30,522.03L1130.49,518.94L1130.67,514.22L1130.85,512.96L1131.03,512.99L1131.22,516.04L1131.40,521.76L1131.58,526.81L1131.76,528.91L1131.94,531.13L1132.12,532.21L1132.29,531.24L1132.47,530.82L1132.65,527.87L1132.83,520.33L1133.01,514.67L1133.18,509.93L1133.36,509.03L1133.53,514.14L1133.71,520.58L1133.89,527.48L1134.06,530.19L1134.23,529.92L1134.41,527.71L1134.58,526.01L1134.76,524.35L1134.93,522.42L1135.10,522.31L1135.27,520.61L1135.44,520.03L1135.61,519.62L1135.79,518.92L1135.96,521.56L1136.13,524.56L1136.30,525.59L1136.47,526.74L1136.63,525.33L1136.80,526.23L1136.97,529.45L1137.14,531.91L1137.31,534.55L1137.47,531.94L1137.64,525.18L1137.81,517.98L1137.97,509.87L1138.14,506.83L1138.30,508.48L1138.47,511.46L1138.63,518.73L1138.80,521.91L1138.96,525.40L1139.12,531.26L1139.29,536.09L1139.45,542.91L1139.61,544.83L1139.77,542.42L1139.94,538.91L1140.10,537.08L1140.26,535.36L1140.42,534.01L1140.58,533.04L1140.74,531.40L1140.90,531.97L1141.06,534.81L1141.22,538.15L1141.38,540.77L1141.54,537.00L1141.69,528.78L1141.85,521.04L1142.01,514.78L1142.17,514.63L1142.32,520.84L1142.48,529.27L1142.64,540.96L1142.79,551.33L1142.95,555.65L1143.10,556.60L1143.26,555.67L1143.41,555.64L1143.57,556.00L1143.72,556.56L1143.87,553.83L1144.03,547.97L1144.18,542.30L1144.33,537.97L1144.48,536.88L1144.64,539.89L1144.79,540.66L1144.94,542.28L1145.09,544.67L1145.24,537.09L1145.39,535.39L1145.54,532.68L1145.69,528.27L1145.84,532.71L1145.99,534.04L1146.14,537.06L1146.29,542.24L1146.44,546.72L1146.59,547.88L1146.74,547.11L1146.88,540.30L1147.03,532.55L1147.18,533.46L1147.32,535.74L1147.47,544.98L1147.62,553.63L1147.76,554.17L1147.91,553.08L1148.05,549.88L1148.20,548.44L1148.34,549.51L1148.49,547.47L1148.63,545.78L1148.78,539.49L1148.92,533.92L1149.06,531.93L1149.21,528.19L1149.35,531.34L1149.49,533.36L1149.64,534.51L1149.78,536.97L1149.92,536.58L1150.06,535.93L1150.20,535.57L1150.34,533.96L1150.49,530.40L1150.63,529.17L1150.77,528.44L1150.91,530.63L1151.05,537.43L1151.19,543.55L1151.33,548.61L1151.46,549.22L1151.60,546.09L1151.74,541.68L1151.88,539.00L1152.02,534.82L1152.16,529.98L1152.29,526.25L1152.43,522.77L1152.57,526.44L1152.71,531.41L1152.84,539.24L1152.98,546.43L1153.11,544.45L1153.25,543.70L1153.39,540.99L1153.52,539.16L1153.66,542.36L1153.79,542.59L1153.93,541.90L1154.06,543.01L1154.19,543.73L1154.33,546.89L1154.46,552.02L1154.60,553.97L1154.73,553.38L1154.86,553.99L1155.00,552.08L1155.13,550.19L1155.26,544.75L1155.39,535.76L1155.52,529.54L1155.66,525.10L1155.79,524.33L1155.92,527.51L1156.05,530.90L1156.18,536.55L1156.31,540.57L1156.44,542.09L1156.57,543.37L1156.70,541.43L1156.83,539.01L1156.96,538.55L1157.09,538.42L1157.22,536.69L1157.35,541.06L1157.48,540.27L1157.60,538.12L1157.73,539.99L1157.86,534.06L1157.99,531.89L1158.12,528.97L1158.24,525.34L1158.37,526.35L1158.50,529.14L1158.62,532.46L1158.75,535.02L1158.88,533.57L1159.00,531.82L1159.13,533.80L1159.25,536.32L1159.38,543.42L1159.50,542.73L1159.63,539.95L1159.75,536.97L1159.88,530.64L1160.00,533.54L1160.13,533.52L1160.25,533.93L1160.37,532.23L1160.50,524.34L1160.62,520.04L1160.74,515.41L1160.87,516.74L1160.99,522.39L1161.11,526.83L1161.24,533.06L1161.36,533.65L1161.48,532.57L1161.60,534.49L1161.72,537.29L1161.84,543.92L1161.97,546.66L1162.09,545.30L1162.21,541.04L1162.33,536.41L1162.45,537.99L1162.57,541.75L1162.69,546.04L1162.81,548.27L1162.93,542.99L1163.05,535.59L1163.17,532.98L1163.29,532.19L1163.41,535.60L1163.52,543.69L1163.64,542.85L1163.76,541.77L1163.88,538.56L1164.00,531.13L1164.12,530.59L1164.23,527.68L1164.35,526.81L1164.47,527.76L1164.59,527.15L1164.70,531.28L1164.82,534.85L1164.94,541.60L1165.05,551.69L1165.17,556.24L1165.28,561.45L1165.40,559.04L1165.52,552.18L1165.63,549.45L1165.75,545.84L1165.86,546.36L1165.98,549.21L1166.09,549.54L1166.21,547.38L1166.32,546.76L1166.44,543.55L1166.55,544.78L1166.66,548.42L1166.78,549.96L1166.89,556.00L1167.00,553.43L1167.12,552.28L1167.23,547.33L1167.34,542.00L1167.46,541.85L1167.57,542.07L1167.68,543.70L1167.79,541.86L1167.91,540.44L1168.02,538.55L1168.13,541.82L1168.24,547.95L1168.35,550.60L1168.47,548.28L1168.58,541.50L1168.69,536.48L1168.80,536.84L1168.91,539.87L1169.02,543.07L1169.13,545.04L1169.24,539.72L1169.35,537.31L1169.46,535.03L1169.57,530.87L1169.68,531.48L1169.79,531.62L1169.90,534.73L1170.01,543.03L1170.12,552.27L1170.22,559.54L1170.33,562.41L1170.44,557.90L1170.55,549.23L1170.66,541.40L1170.77,532.44L1170.87,525.60L1170.98,521.78L1171.09,520.74L1171.20,524.20L1171.30,530.75L1171.41,537.36L1171.52,543.64L1171.63,548.39L1171.73,548.96L1171.84,548.68L1171.95,547.69L1172.05,544.18L1172.16,543.56L1172.26,545.08L1172.37,544.63L1172.47,543.32L1172.58,540.96L1172.69,536.95L1172.79,535.80L1172.90,538.37L1173.00,541.36L1173.11,545.04L1173.21,543.57L1173.31,537.05L1173.42,530.09L1173.52,523.00L1173.63,521.69L1173.73,522.84L1173.84,525.80L1173.94,531.37L1174.04,533.81L1174.15,539.35L1174.25,545.15L1174.35,550.40L1174.45,553.14L1174.56,551.46L1174.66,548.19L1174.76,544.56L1174.87,540.23L1174.97,534.78L1175.07,531.02L1175.17,527.02L1175.27,528.37L1175.38,532.95L1175.48,537.47L1175.58,542.55L1175.68,548.73L1175.78,552.75L1175.88,555.87L1175.98,558.86L1176.08,556.86L1176.18,552.47L1176.28,546.31L1176.38,541.73L1176.49,534.84L1176.59,532.45L1176.69,534.34L1176.79,532.25L1176.88,531.86L1176.98,530.13L1177.08,525.71L1177.18,527.54L1177.28,534.24L1177.38,539.61L1177.48,547.10L1177.58,548.97L1177.68,540.34L1177.78,535.73L1177.87,531.12L1177.97,528.80L1178.07,535.34L1178.17,541.10L1178.27,550.09L1178.37,559.89L1178.46,562.20L1178.56,566.20L1178.66,561.50L1178.76,557.71L1178.85,554.04L1178.95,547.70L1179.05,550.23L1179.14,552.82L1179.24,557.19L1179.34,564.09L1179.43,562.21L1179.53,559.31L1179.63,551.58L1179.72,546.13L1179.82,544.58L1179.91,542.15L1180.01,546.95L1180.10,548.17L1180.20,546.76L1180.30,548.06L1180.39,541.07L1180.49,539.03L1180.58,538.61L1180.68,535.98L1180.77,540.39L1180.87,541.94L1180.96,544.37L1181.05,548.54L1181.15,551.88L1181.24,557.70L1181.34,560.72L1181.43,562.56L1181.52,559.89L1181.62,555.50L1181.71,553.23L1181.81,552.48L1181.90,553.03L1181.99,553.18L1182.09,550.88L1182.18,549.82L1182.27,547.93L1182.36,549.06L1182.46,555.90L1182.55,561.06L1182.64,567.77L1182.73,573.74L1182.83,571.42L1182.92,566.16L1183.01,561.92L1183.10,554.43L1183.19,548.02L1183.29,546.15L1183.38,541.64L1183.47,538.48L1183.56,537.07L1183.65,533.69L1183.74,533.39L1183.83,535.97L1183.92,539.32L1184.02,542.64L1184.11,544.73L1184.20,543.44L1184.29,543.36L1184.38,547.38L1184.47,553.17L1184.56,563.10L1184.65,570.99L1184.74,572.80L1184.83,565.83L1184.92,556.27L1185.01,549.64L1185.10,541.27L1185.19,542.77L1185.28,542.93L1185.37,539.70L1185.45,542.63L1185.54,540.26L1185.63,542.36L1185.72,549.04L1185.81,551.70L1185.90,552.31L1185.99,548.92L1186.08,544.81L1186.16,541.90L1186.25,542.80L1186.34,546.30L1186.43,548.53L1186.52,551.77L1186.60,551.10L1186.69,547.44L1186.78,545.50L1186.87,542.85L1186.95,544.36L1187.04,548.91L1187.13,553.89L1187.22,563.20L1187.30,566.46L1187.39,565.05L1187.48,562.17L1187.56,554.88L1187.65,548.54L1187.74,545.36L1187.82,539.63L1187.91,534.14L1188.00,531.95L1188.08,529.88L1188.17,531.59L1188.25,532.76L1188.34,534.97L1188.43,537.34L1188.51,537.17L1188.60,542.98L1188.68,545.89L1188.77,546.03L1188.85,549.91L1188.94,548.79L1189.02,550.06L1189.11,554.76L1189.19,558.19L1189.28,561.31L1189.36,560.96L1189.45,557.25L1189.53,551.56L1189.62,546.22L1189.70,541.22L1189.78,537.85L1189.87,534.45L1189.95,532.73L1190.04,533.27L1190.12,535.92L1190.20,540.87L1190.29,546.01L1190.37,547.15L1190.45,546.69L1190.54,545.39L1190.62,543.17L1190.70,548.08L1190.79,550.17L1190.87,552.52L1190.95,555.26L1191.04,551.85L1191.12,554.40L1191.20,554.79L1191.28,557.46L1191.37,561.17L1191.45,555.88L1191.53,552.27L1191.61,545.75L1191.70,540.56L1191.78,541.09L1191.86,543.34L1191.94,547.91L1192.02,552.57L1192.11,555.71L1192.19,553.16L1192.27,548.13L1192.35,540.15L1192.43,532.92L1192.51,531.07L1192.59,530.91L1192.67,537.19L1192.76,545.25L1192.84,552.42L1192.92,558.24L1193.00,559.10L1193.08,559.18L1193.16,557.95L1193.24,560.93L1193.32,563.31L1193.40,560.38L1193.48,557.96L1193.56,551.71L1193.64,545.81L1193.72,545.12L1193.80,544.47L1193.88,546.10L1193.96,547.47L1194.04,548.67L1194.12,547.83L1194.20,546.64L1194.28,545.15L1194.36,543.65L1194.44,546.23L1194.52,547.43L1194.60,553.65L1194.67,558.73L1194.75,559.45L1194.83,561.91L1194.91,559.62L1194.99,556.05L1195.07,555.24L1195.15,552.80L1195.23,547.82L1195.30,545.74L1195.38,542.68L1195.46,537.25L1195.54,537.80L1195.62,537.31L1195.69,538.16L1195.77,546.50L1195.85,550.84L1195.93,556.73L1196.01,562.25L1196.08,562.04L1196.16,561.94L1196.24,560.64L1196.32,558.53L1196.39,556.21L1196.47,556.86L1196.55,555.61L1196.62,552.91L1196.70,553.48L1196.78,550.47L1196.85,552.48L1196.93,554.60L1197.01,555.02L1197.08,558.31L1197.16,555.14L1197.24,556.64L1197.31,555.52L1197.39,552.65L1197.47,554.88L1197.54,554.46L1197.62,553.17L1197.69,551.81L1197.77,547.01L1197.85,541.98L1197.92,542.46L1198.00,546.18L1198.07,551.67L1198.15,559.36L1198.22,562.62L1198.30,562.52L1198.37,565.62L1198.45,566.78L1198.52,569.82L1198.60,567.13L1198.67,556.64L1198.75,549.05L1198.82,539.58L1198.90,537.77L1198.97,540.04L1199.05,538.91L1199.12,540.59L1199.20,535.40L1199.27,532.59L1199.35,535.06L1199.42,537.95L1199.49,547.33L1199.57,552.50L1199.64,553.47L1199.72,552.71L1199.79,551.15L1199.86,553.07L1199.94,555.28L1200.01,559.29L1200.09,559.34L1200.16,555.76L1200.23,555.23L1200.31,554.45L1200.38,555.94L1200.45,558.06L1200.53,559.96L1200.60,560.92L1200.67,556.64L1200.74,555.80L1200.82,550.16L1200.89,542.11L1200.96,539.74L1201.04,536.02L1201.11,534.26L1201.18,537.16L1201.25,540.73L1201.33,546.37L1201.40,553.35L1201.47,556.53L1201.54,556.27L1201.61,551.91L1201.69,550.33L1201.76,551.12L1201.83,554.48L1201.90,562.00L1201.97,563.73L1202.05,561.24L1202.12,556.04L1202.19,550.52L1202.26,549.06L1202.33,552.41L1202.40,556.84L1202.48,559.82L1202.55,559.62L1202.62,558.33L1202.69,558.59L1202.76,561.41L1202.83,568.42L1202.90,568.81L1202.97,565.65L1203.04,558.89L1203.11,551.78L1203.18,552.51L1203.26,549.69L1203.33,548.86L1203.40,547.55L1203.47,542.09L1203.54,542.12L1203.61,542.97L1203.68,543.40L1203.75,543.55L1203.82,544.75L1203.89,547.43L1203.96,546.53L1204.03,546.82L1204.10,545.45L1204.17,540.97L1204.24,544.33L1204.31,551.30L1204.38,558.18L1204.45,567.88L1204.52,572.92L1204.58,571.95L1204.65,566.85L1204.72,562.00L1204.79,554.09L1204.86,545.22L1204.93,542.98L1205.00,539.33L1205.07,540.20L1205.14,546.02L1205.21,549.21L1205.28,556.79L1205.34,562.11L1205.41,560.22L1205.48,556.67L1205.55,550.24L1205.62,544.68L1205.69,545.19L1205.75,549.87L1205.82,556.28L1205.89,561.94L1205.96,564.28L1206.03,562.61L1206.10,559.17L1206.16,555.15L1206.23,552.07L1206.30,548.59L1206.37,548.03L1206.43,550.86L1206.50,550.75L1206.57,552.50L1206.64,552.87L1206.71,552.06L1206.77,556.26L1206.84,558.75L1206.91,560.04L1206.97,562.66L1207.04,559.98L1207.11,559.23L1207.18,559.73L1207.24,557.15L1207.31,556.80L1207.38,553.80L1207.44,550.51L1207.51,547.28L1207.58,545.56L1207.64,547.47L1207.71,550.10L1207.78,552.57L1207.84,553.26L1207.91,547.16L1207.98,540.46L1208.04,538.41L1208.11,536.87L1208.18,542.44L1208.24,551.77L1208.31,558.77L1208.37,565.12L1208.44,564.65L1208.51,560.91L1208.57,556.25L1208.64,555.01L1208.70,555.79L1208.77,555.80L1208.83,554.17L1208.90,551.05L1208.97,546.24L1209.03,542.23L1209.10,542.13L1209.16,541.25L1209.23,543.20L1209.29,545.74L1209.36,547.14L1209.42,549.77L1209.49,551.77L1209.55,555.73L1209.62,557.54L1209.68,557.14L1209.75,557.07L1209.81,555.40L1209.88,558.15L1209.94,564.21L1210.01,567.68L1210.07,571.54L1210.14,569.19L1210.20,565.72L1210.26,562.96L1210.33,559.44L1210.39,558.33L1210.46,555.64L1210.52,554.39L1210.59,552.90L1210.65,552.07L1210.71,551.19L1210.78,550.26L1210.84,550.37L1210.91,550.10L1210.97,553.37L1211.03,552.22L1211.10,550.70L1211.16,547.63L1211.22,541.28L1211.29,540.77L1211.35,540.33L1211.41,542.99L1211.48,549.51L1211.54,554.24L1211.60,561.81L1211.67,564.86L1211.73,561.19L1211.79,558.98L1211.86,552.45L1211.92,548.39L1211.98,550.51L1212.05,550.96L1212.11,555.74L1212.17,561.70L1212.23,563.58L1212.30,564.39L1212.36,562.00L1212.42,559.93L1212.49,557.10L1212.55,556.28L1212.61,554.22L1212.67,550.04L1212.74,548.38L1212.80,545.77L1212.86,544.51L1212.92,544.93L1212.98,543.05L1213.05,542.21L1213.11,542.95L1213.17,541.61L1213.23,542.92L1213.29,543.31L1213.36,539.82L1213.42,542.40L1213.48,544.23L1213.54,549.08L1213.60,559.23L1213.66,557.84L1213.73,555.66L1213.79,548.44L1213.85,541.57L1213.91,544.45L1213.97,547.81L1214.03,554.28L1214.09,563.52L1214.16,565.56L1214.22,564.92L1214.28,563.73L1214.34,559.61L1214.40,557.42L1214.46,558.49L1214.52,562.14L1214.58,565.96L1214.64,568.32L1214.70,568.55L1214.77,565.30L1214.83,562.00L1214.89,559.54L1214.95,559.88L1215.01,560.60L1215.07,559.00L1215.13,555.39L1215.19,549.36L1215.25,543.66L1215.31,542.01L1215.37,542.65L1215.43,544.85L1215.49,546.83L1215.55,546.48L1215.61,545.09L1215.67,541.70L1215.73,540.69L1215.79,540.75L1215.85,543.05L1215.91,548.85L1215.97,553.56L1216.03,559.92L1216.09,566.95L1216.15,569.57L1216.21,573.38L1216.27,573.01L1216.33,568.89L1216.39,566.45L1216.45,561.13L1216.51,557.33L1216.57,552.71L1216.62,550.14L1216.68,550.80L1216.74,552.26L1216.80,556.30L1216.86,559.50L1216.92,559.29L1216.98,559.97L1217.04,560.19L1217.10,556.48L1217.16,555.86L1217.21,553.62L1217.27,547.52L1217.33,546.93L1217.39,542.14L1217.45,536.03L1217.51,537.38L1217.57,536.09L1217.63,539.38L1217.68,547.25L1217.74,548.60L1217.80,552.72L1217.86,554.24L1217.92,553.74L1217.98,552.92L1218.03,551.11L1218.09,549.10L1218.15,547.09L1218.21,551.74L1218.27,555.27L1218.32,560.00L1218.38,563.69L1218.44,559.48L1218.50,557.98L1218.56,558.07L1218.61,559.12L1218.67,565.09L1218.73,570.73L1218.79,573.55L1218.84,573.33L1218.90,567.79L1218.96,556.48L1219.02,547.98L1219.07,543.13L1219.13,541.53L1219.19,547.05L1219.25,551.36L1219.30,555.19L1219.36,557.49L1219.42,557.29L1219.47,560.89L1219.53,566.43L1219.59,572.95L1219.65,576.62L1219.70,578.49L1219.76,577.65L1219.82,573.84L1219.87,574.65L1219.93,571.70L1219.99,569.53L1220.04,572.16L1220.10,570.45L1220.16,573.32L1220.21,575.00L1220.27,569.51L1220.33,565.57L1220.38,561.45L1220.44,558.53L1220.49,560.88L1220.55,563.60L1220.61,564.77L1220.66,565.81L1220.72,566.48L1220.78,569.44L1220.83,571.89L1220.89,574.59L1220.94,575.01L1221.00,571.40L1221.06,570.05L1221.11,565.19L1221.17,560.80L1221.22,558.46L1221.28,554.76L1221.34,554.05L1221.39,554.97L1221.45,554.38L1221.50,555.79L1221.56,558.33L1221.61,559.83L1221.67,564.19L1221.72,566.99L1221.78,569.87L1221.83,569.39L1221.89,565.28L1221.95,561.02L1222.00,556.09L1222.06,553.97L1222.11,556.07L1222.17,560.51L1222.22,564.43L1222.28,570.24L1222.33,571.20L1222.39,568.54L1222.44,561.24L1222.50,554.26L1222.55,549.91L1222.61,547.71L1222.66,552.71L1222.72,557.40L1222.77,562.54L1222.82,566.60L1222.88,569.15L1222.93,570.31L1222.99,571.38L1223.04,571.55L1223.10,568.01L1223.15,567.07L1223.21,564.06L1223.26,563.22L1223.31,564.24L1223.37,563.32L1223.42,560.00L1223.48,556.73L1223.53,551.36L1223.59,546.96L1223.64,548.38L1223.69,547.96L1223.75,549.57L1223.80,553.12L1223.86,552.65L1223.91,552.90L1223.96,552.40L1224.02,548.53L1224.07,546.51L1224.12,547.66L1224.18,549.70L1224.23,555.41L1224.29,562.06L1224.34,563.43L1224.39,565.53L1224.45,562.01L1224.50,556.15L1224.55,556.21L1224.61,555.40L1224.66,558.67L1224.71,563.89L1224.77,566.12L1224.82,565.99L1224.87,566.46L1224.93,567.12L1224.98,566.60L1225.03,569.55L1225.09,570.78L1225.14,571.46L1225.19,573.49L1225.24,571.15L1225.30,566.57L1225.35,562.08L1225.40,556.33L1225.46,553.02L1225.51,554.04L1225.56,554.82L1225.61,555.09L1225.67,556.97L1225.72,557.33L1225.77,560.07L1225.82,567.88L1225.88,574.34L1225.93,579.69L1225.98,583.26L1226.03,580.88L1226.09,574.27L1226.14,565.71L1226.19,556.80L1226.24,549.33L1226.30,546.79L1226.35,545.87L1226.40,546.87L1226.45,547.73L1226.50,549.62L1226.56,553.67L1226.61,557.75L1226.66,566.36L1226.71,571.09L1226.76,572.22L1226.82,570.18L1226.87,567.20L1226.92,565.52L1226.97,567.96L1227.02,568.24L1227.08,567.01L1227.13,564.89L1227.18,560.11L1227.23,563.57L1227.28,565.69L1227.33,568.83L1227.38,571.04L1227.44,567.05L1227.49,565.25L1227.54,563.60L1227.59,563.62L1227.64,565.49L1227.69,562.64L1227.74,559.84L1227.80,556.49L1227.85,551.33L1227.90,552.42L1227.95,555.03L1228.00,557.98L1228.05,564.38L1228.10,566.98L1228.15,567.89L1228.20,570.80L1228.25,571.53L1228.31,569.96L1228.36,567.50L1228.41,561.85L1228.46,557.54L1228.51,554.14L1228.56,552.21L1228.61,553.00L1228.66,549.71L1228.71,547.88L1228.76,545.64L1228.81,540.92L1228.86,541.54L1228.91,544.60L1228.96,547.00L1229.01,552.61L1229.06,557.24L1229.12,560.36L1229.17,565.44L1229.22,568.22L1229.27,568.81L1229.32,565.07L1229.37,562.17L1229.42,560.37L1229.47,558.52L1229.52,557.55L1229.57,552.25L1229.62,546.31L1229.67,541.82L1229.72,540.25L1229.77,544.41L1229.82,549.92L1229.87,554.46L1229.92,558.25L1229.97,558.22L1230.02,558.13L1230.07,561.25L1230.11,563.45L1230.16,564.80L1230.21,566.97L1230.26,567.94L1230.31,569.44L1230.36,569.59L1230.41,569.60L1230.46,567.43L1230.51,562.52L1230.56,556.65L1230.61,550.78L1230.66,546.21L1230.71,545.91L1230.76,551.27L1230.81,555.79L1230.86,560.06L1230.91,560.96L1230.95,557.85L1231.00,557.66L1231.05,558.95L1231.10,561.45L1231.15,564.55L1231.20,566.29L1231.25,564.55L1231.30,561.83L1231.35,559.51L1231.40,556.75L1231.44,558.68L1231.49,560.72L1231.54,562.86L1231.59,565.79L1231.64,562.64L1231.69,558.94L1231.74,556.16L1231.79,554.78L1231.83,558.75L1231.88,563.86L1231.93,566.10L1231.98,564.69L1232.03,561.42L1232.08,555.31L1232.12,551.81L1232.17,552.05L1232.22,550.87L1232.27,554.11L1232.32,557.62L1232.37,556.76L1232.41,556.20L1232.46,554.62L1232.51,551.25L1232.56,549.64L1232.61,548.69L1232.65,548.78L1232.70,551.24L1232.75,556.37L1232.80,561.90L1232.85,566.81L1232.89,569.09L1232.94,565.24L1232.99,563.24L1233.04,560.69L1233.09,557.97L1233.13,561.27L1233.18,562.72L1233.23,566.05L1233.28,572.34L1233.32,572.80L1233.37,574.29L1233.42,569.41L1233.47,565.59L1233.51,565.05L1233.56,561.76L1233.61,562.65L1233.66,562.59L1233.70,560.78L1233.75,561.90L1233.80,561.36L1233.85,560.13L1233.89,557.90L1233.94,556.58L1233.99,557.49L1234.04,555.63L1234.08,556.54L1234.13,552.68L1234.18,547.51L1234.22,548.08L1234.27,549.00L1234.32,553.21L1234.37,559.46L1234.41,561.08L1234.46,558.29L1234.51,556.44L1234.55,555.69L1234.60,557.13L1234.65,563.55L1234.69,570.83L1234.74,575.03L1234.79,576.85L1234.83,576.81L1234.88,574.74L1234.93,572.63L1234.97,571.87L1235.02,570.42L1235.07,569.49L1235.11,569.80L1235.16,569.49L1235.21,568.59L1235.25,568.78L1235.30,568.33L1235.35,569.65L1235.39,570.67L1235.44,566.55L1235.48,563.58L1235.53,558.45L1235.58,551.94L1235.62,551.09L1235.67,550.79L1235.72,551.18L1235.76,558.22L1235.81,562.33L1235.85,565.78L1235.90,570.39L1235.95,568.24L1235.99,566.47L1236.04,562.74L1236.08,560.17L1236.13,559.07L1236.18,560.14L1236.22,561.26L1236.27,560.36L1236.31,559.95L1236.36,557.68L1236.40,559.58L1236.45,562.92L1236.50,566.43L1236.54,571.20L1236.59,572.81L1236.63,573.58L1236.68,573.03L1236.72,572.08L1236.77,573.76L1236.82,576.25L1236.86,581.89L1236.91,590.95L1236.95,593.95L1237.00,593.13L1237.04,589.36L1237.09,579.51L1237.13,572.49L1237.18,568.27L1237.22,562.19L1237.27,559.53L1237.31,559.92L1237.36,558.09L1237.40,559.75L1237.45,562.01L1237.49,563.74L1237.54,569.29L1237.58,573.29L1237.63,572.55L1237.67,569.51L1237.72,563.92L1237.76,560.36L1237.81,562.52L1237.85,563.73L1237.90,569.55L1237.94,569.38L1237.99,567.03L1238.03,566.84L1238.08,563.10L1238.12,566.16L1238.17,567.76L1238.21,567.98L1238.26,569.22L1238.30,565.68L1238.35,563.57L1238.39,562.98L1238.44,561.17L1238.48,562.64L1238.52,560.72L1238.57,558.83L1238.61,557.17L1238.66,555.16L1238.70,559.20L1238.75,561.28L1238.79,566.90L1238.84,572.80L1238.88,571.64L1238.92,574.70L1238.97,574.18L1239.01,571.61L1239.06,571.01L1239.10,568.47L1239.15,565.83L1239.19,564.72L1239.23,565.72L1239.28,566.31L1239.32,564.19L1239.37,562.81L1239.41,561.20L1239.45,560.12L1239.50,564.37L1239.54,568.51L1239.59,571.85L1239.63,576.53L1239.67,574.99L1239.72,571.27L1239.76,567.92L1239.80,561.62L1239.85,560.97L1239.89,560.84L1239.94,560.35L1239.98,560.92L1240.02,558.46L1240.07,559.49L1240.11,559.56L1240.15,561.91L1240.20,565.59L1240.24,567.27L1240.28,570.26L1240.33,572.62L1240.37,573.42L1240.41,570.81L1240.46,569.43L1240.50,567.99L1240.54,568.84L1240.59,572.07L1240.63,573.67L1240.67,575.01L1240.72,571.60L1240.76,567.65L1240.80,564.38L1240.85,559.44L1240.89,558.55L1240.93,559.13L1240.98,560.13L1241.02,561.47L1241.06,562.18L1241.11,562.70L1241.15,562.62L1241.19,565.49L1241.23,567.14L1241.28,561.79L1241.32,557.73L1241.36,552.02L1241.41,546.44L1241.45,551.24L1241.49,555.74L1241.53,563.30L1241.58,575.48L1241.62,580.28L1241.66,585.13L1241.71,586.01L1241.75,581.10L1241.79,575.20L1241.83,571.24L1241.88,568.43L1241.92,570.46L1241.96,571.86L1242.00,573.55L1242.05,572.53L1242.09,568.32L1242.13,568.98L1242.17,567.13L1242.22,570.31L1242.26,575.06L1242.30,573.17L1242.34,572.22L1242.39,570.43L1242.43,567.65L1242.47,570.32L1242.51,575.53L1242.55,573.54L1242.60,572.97L1242.64,570.86L1242.68,566.66L1242.72,568.11L1242.77,569.39L1242.81,569.26L1242.85,570.47L1242.89,571.72L1242.93,566.99L1242.98,562.00L1243.02,557.11L1243.06,553.34L1243.10,558.67L1243.14,566.93L1243.18,574.40L1243.23,578.55L1243.27,573.67L1243.31,565.80L1243.35,562.66L1243.39,560.73L1243.44,559.19L1243.48,562.43L1243.52,561.05L1243.56,562.69L1243.60,567.20L1243.64,567.73L1243.69,569.50L1243.73,566.07L1243.77,561.13L1243.81,555.76L1243.85,551.09L1243.89,549.10L1243.93,546.75L1243.98,548.49L1244.02,555.31L1244.06,563.99L1244.10,576.71L1244.14,588.38L1244.18,592.65L1244.22,593.24L1244.27,590.99L1244.31,585.08L1244.35,581.71L1244.39,579.25L1244.43,576.88L1244.47,572.96L1244.51,566.15L1244.55,561.04L1244.60,556.21L1244.64,557.39L1244.68,562.02L1244.72,566.50L1244.76,574.32L1244.80,579.23L1244.84,578.37L1244.88,572.67L1244.92,565.10L1244.96,558.97L1245.00,557.91L1245.05,560.70L1245.09,561.86L1245.13,564.10L1245.17,564.94L1245.21,565.94L1245.25,572.51L1245.29,575.28L1245.33,578.35L1245.37,581.25L1245.41,581.86L1245.45,585.48L1245.49,586.14L1245.53,582.46L1245.58,575.99L1245.62,566.29L1245.66,557.81L1245.70,555.22L1245.74,553.69L1245.78,557.13L1245.82,563.62L1245.86,563.68L1245.90,564.73L1245.94,562.10L1245.98,560.67L1246.02,563.36L1246.06,566.29L1246.10,573.73L1246.14,575.28L1246.18,577.77L1246.22,576.74L1246.26,571.30L1246.30,570.44L1246.34,567.58L1246.38,569.59L1246.42,570.80L1246.46,569.43L1246.50,567.81L1246.54,562.32L1246.58,561.43L1246.62,564.69L1246.66,570.04L1246.70,579.43L1246.74,585.75L1246.78,584.34L1246.82,580.67L1246.86,573.40L1246.90,566.79L1246.94,566.06L1246.98,564.45L1247.02,565.44L1247.06,565.74L1247.10,560.88L1247.14,558.70L1247.18,556.21L1247.22,554.72L1247.26,558.06L1247.30,557.59L1247.34,555.11L1247.38,555.65L1247.42,553.04L1247.46,554.52L1247.50,560.63L1247.54,564.86L1247.58,568.96L1247.62,572.30L1247.66,570.37L1247.70,562.45L1247.74,557.46L1247.77,552.99L1247.81,549.45L1247.85,553.02L1247.89,556.75L1247.93,560.36L1247.97,565.98L1248.01,569.62L1248.05,572.94L1248.09,575.51L1248.13,575.40L1248.17,573.48L1248.21,569.96L1248.25,567.69L1248.29,570.50L1248.32,575.55L1248.36,582.93L1248.40,589.20L1248.44,591.66L1248.48,583.72L1248.52,576.62L1248.56,571.27L1248.60,562.54L1248.64,562.54L1248.68,562.12L1248.71,558.77L1248.75,559.95L1248.79,557.89L1248.83,557.46L1248.87,562.92L1248.91,568.13L1248.95,575.29L1248.99,580.25L1249.03,580.23L1249.06,577.06L1249.10,571.84L1249.14,569.62L1249.18,566.64L1249.22,564.65L1249.26,565.03L1249.30,562.00L1249.34,561.48L1249.37,564.09L1249.41,564.54L1249.45,568.76L1249.49,570.78L1249.53,566.52L1249.57,563.70L1249.61,558.59L1249.64,555.22L1249.68,555.19L1249.72,554.84L1249.76,556.53L1249.80,559.36L1249.84,562.91L1249.87,568.25L1249.91,571.37L1249.95,570.96L1249.99,570.28L1250.03,568.90L1250.07,570.43L1250.10,573.11L1250.14,572.80L1250.18,571.50L1250.22,568.05L1250.26,566.56L1250.29,567.87L1250.33,570.57L1250.37,572.36L1250.41,571.79L1250.45,571.71L1250.49,569.91L1250.52,565.98L1250.56,564.07L1250.60,560.68L1250.64,558.30L1250.68,562.36L1250.71,564.08L1250.75,564.48L1250.79,563.72L1250.83,560.20L1250.86,558.48L1250.90,558.12L1250.94,558.31L1250.98,555.85L1251.02,555.25L1251.05,556.40L1251.09,559.94L1251.13,566.09L1251.17,569.14L1251.20,570.59L1251.24,569.18L1251.28,571.64L1251.32,572.48L1251.36,570.51L1251.39,570.01L1251.43,563.87L1251.47,559.84L1251.51,558.07L1251.54,555.67L1251.58,555.78L1251.62,559.81L1251.66,562.00L1251.69,561.83L1251.73,559.65L1251.77,556.44L1251.81,556.54L1251.84,557.59L1251.88,561.35L1251.92,563.16L1251.95,565.22L1251.99,570.69L1252.03,573.84L1252.07,573.16L1252.10,567.27L1252.14,559.91L1252.18,553.51L1252.22,553.71L1252.25,558.30L1252.29,564.55L1252.33,570.00L1252.36,569.56L1252.40,564.82L1252.44,559.14L1252.48,557.02L1252.51,556.70L1252.55,560.77L1252.59,565.18L1252.62,567.56L1252.66,570.89L1252.70,570.00L1252.73,571.10L1252.77,573.69L1252.81,574.32L1252.85,571.51L1252.88,567.65L1252.92,563.79L1252.96,559.42L1252.99,560.13L1253.03,559.64L1253.07,558.05L1253.10,557.97L1253.14,557.52L1253.18,558.23L1253.21,557.67L1253.25,555.42L1253.29,552.66L1253.32,548.97L1253.36,550.50L1253.40,553.83L1253.43,556.58L1253.47,563.11L1253.51,565.41L1253.54,567.14L1253.58,571.68L1253.62,572.82L1253.65,576.39L1253.69,583.80L1253.73,584.76L1253.76,587.01L1253.80,582.86L1253.84,572.93L1253.87,571.10L1253.91,567.00L1253.94,567.17L1253.98,571.05L1254.02,569.55L1254.05,575.15L1254.09,582.00L1254.13,585.87L1254.16,595.07L1254.20,592.58L1254.23,583.71L1254.27,580.97L1254.31,575.80L1254.34,576.79L1254.38,584.05L1254.42,587.55L1254.45,591.70L1254.49,591.69L1254.52,588.60L1254.56,582.52L1254.60,576.50L1254.63,572.11L1254.67,568.22L1254.70,569.90L1254.74,572.56L1254.78,573.02L1254.81,572.05L1254.85,568.57L1254.88,566.06L1254.92,568.34L1254.96,572.67L1254.99,580.25L1255.03,588.36L1255.06,589.01L1255.10,586.90L1255.13,580.56L1255.17,573.94L1255.21,570.94L1255.24,570.18L1255.28,570.58L1255.31,569.85L1255.35,570.10L1255.39,569.81L1255.42,568.31L1255.46,569.92L1255.49,570.11L1255.53,567.95L1255.56,568.95L1255.60,568.57L1255.63,565.86L1255.67,565.86L1255.71,564.89L1255.74,563.27L1255.78,567.16L1255.81,571.68L1255.85,572.23L1255.88,575.34L1255.92,576.03L1255.95,574.45L1255.99,579.70L1256.02,582.23L1256.06,583.40L1256.10,584.08L1256.13,578.17L1256.17,573.01L1256.20,567.71L1256.24,565.22L1256.27,565.48L1256.31,565.70L1256.34,566.03L1256.38,567.19L1256.41,569.10L1256.45,568.69L1256.48,569.77L1256.52,569.44L1256.55,569.77L1256.59,577.30L1256.62,581.58L1256.66,580.82L1256.69,576.78L1256.73,569.68L1256.76,565.04L1256.80,565.17L1256.83,564.59L1256.87,563.25L1256.90,563.69L1256.94,562.97L1256.97,563.12L1257.01,564.39L1257.04,566.68L1257.08,568.38L1257.11,574.98L1257.15,579.59L1257.18,578.13L1257.22,577.41L1257.25,570.37L1257.29,565.33L1257.32,564.54L1257.36,565.69L1257.39,569.17L1257.43,575.18L1257.46,577.70L1257.50,574.96L1257.53,572.07L1257.57,566.14L1257.60,564.94L1257.64,565.07L1257.67,565.81L1257.70,565.34L1257.74,560.82L1257.77,560.15L1257.81,558.54L1257.84,561.62L1257.88,567.61L1257.91,568.33L1257.95,569.50L1257.98,569.17L1258.02,568.64L1258.05,574.44L1258.08,581.43L1258.12,586.94L1258.15,593.78L1258.19,586.95L1258.22,578.11L1258.26,570.55L1258.29,560.95L1258.33,560.50L1258.36,563.09L1258.39,565.46L1258.43,572.41L1258.46,576.78L1258.50,577.08L1258.53,578.91L1258.57,575.36L1258.60,569.90L1258.63,569.45L1258.67,569.19L1258.70,570.96L1258.74,574.74L1258.77,573.05L1258.80,570.12L1258.84,570.39L1258.87,568.70L1258.91,570.96L1258.94,575.91L1258.97,574.06L1259.01,575.35L1259.04,575.30L1259.08,573.65L1259.11,579.19L1259.14,582.75L1259.18,587.72L1259.21,590.33L1259.25,591.13L1259.28,591.37L1259.31,587.38L1259.35,583.46L1259.38,572.90L1259.42,566.80L1259.45,564.96L1259.48,564.68L1259.52,572.25L1259.55,579.97L1259.59,582.12L1259.62,587.43L1259.65,583.22L1259.69,574.72L1259.72,572.73L1259.75,567.71L1259.79,569.95L1259.82,575.23L1259.86,576.30L1259.89,576.40L1259.92,571.06L1259.96,563.85L1259.99,558.00L1260.02,555.89L1260.06,555.77L1260.09,561.53L1260.12,570.64L1260.16,577.49L1260.19,583.08L1260.22,582.57L1260.26,578.44L1260.29,577.12L1260.32,578.36L1260.36,580.43L1260.39,586.53L1260.43,590.84L1260.46,593.95L1260.49,596.88L1260.53,597.15L1260.56,596.20L1260.59,590.22L1260.63,584.53L1260.66,576.44L1260.69,570.97L1260.73,569.54L1260.76,568.22L1260.79,571.31L1260.82,571.47L1260.86,573.41L1260.89,574.88L1260.92,571.45L1260.96,574.82L1260.99,574.46L1261.02,576.11L1261.06,581.98L1261.09,580.45L1261.12,581.12L1261.16,580.27L1261.19,577.08L1261.22,576.31L1261.26,571.79L1261.29,566.49L1261.32,563.87L1261.35,563.73L1261.39,565.96L1261.42,570.80L1261.45,573.17L1261.49,573.00L1261.52,576.30L1261.55,577.60L1261.59,578.83L1261.62,579.64L1261.65,576.56L1261.68,574.23L1261.72,575.33L1261.75,576.93L1261.78,579.03L1261.82,579.46L1261.85,578.90L1261.88,575.42L1261.91,572.04L1261.95,572.30L1261.98,571.94L1262.01,576.88L1262.04,579.81L1262.08,581.46L1262.11,580.49L1262.14,576.16L1262.18,575.77L1262.21,575.69L1262.24,579.86L1262.27,584.13L1262.31,587.34L1262.34,590.12L1262.37,587.44L1262.40,585.56L1262.44,583.48L1262.47,577.81L1262.50,576.70L1262.53,578.77L1262.57,578.57L1262.60,583.74L1262.63,585.10L1262.66,581.98L1262.70,583.54L1262.73,579.94L1262.76,580.04L1262.79,581.64L1262.83,578.69L1262.86,578.16L1262.89,575.68L1262.92,572.66L1262.96,573.50L1262.99,578.13L1263.02,582.18L1263.05,586.04L1263.08,584.22L1263.12,577.33L1263.15,569.70L1263.18,565.16L1263.21,565.50L1263.25,566.53L1263.28,574.70L1263.31,580.32L1263.34,582.65L1263.37,586.04L1263.41,583.28L1263.44,583.74L1263.47,584.08L1263.50,583.31L1263.53,580.93L1263.57,576.08L1263.60,569.57L1263.63,565.21L1263.66,563.66L1263.69,561.20L1263.73,564.74L1263.76,565.87L1263.79,564.21L1263.82,568.66L1263.85,567.42L1263.89,566.90L1263.92,570.49L1263.95,568.77L1263.98,569.77L1264.01,572.58L1264.05,569.80L1264.08,569.88L1264.11,571.29L1264.14,573.76L1264.17,579.69L1264.21,583.39L1264.24,582.11L1264.27,580.94L1264.30,580.02L1264.33,579.34L1264.36,579.52L1264.40,576.95L1264.43,576.23L1264.46,576.89L1264.49,576.84L1264.52,575.32L1264.55,569.82L1264.59,562.06L1264.62,558.97L1264.65,559.01L1264.68,563.15L1264.71,570.82L1264.74,574.37L1264.78,576.68L1264.81,571.84L1264.84,568.33L1264.87,568.35L1264.90,567.41L1264.93,571.43L1264.96,570.98L1265.00,569.46L1265.03,567.58L1265.06,561.70L1265.09,560.43L1265.12,557.21L1265.15,556.02L1265.18,560.65L1265.22,563.35L1265.25,567.76L1265.28,573.29L1265.31,577.25L1265.34,581.19L1265.37,586.04L1265.40,585.10L1265.44,581.57L1265.47,576.58L1265.50,572.94L1265.53,570.55L1265.56,568.06L1265.59,569.20L1265.62,568.39L1265.65,570.70L1265.69,573.14L1265.72,575.80L1265.75,580.30L1265.78,582.61L1265.81,585.45L1265.84,585.49L1265.87,585.30L1265.90,587.53L1265.93,588.04L1265.97,588.93L1266.00,589.64L1266.03,588.38L1266.06,591.83L1266.09,592.83L1266.12,588.47L1266.15,584.07L1266.18,574.44L1266.21,569.81L1266.24,572.12L1266.28,572.80L1266.31,579.39L1266.34,582.17L1266.37,579.83L1266.40,579.81L1266.43,576.77L1266.46,576.35L1266.49,574.72L1266.52,572.54L1266.55,569.96L1266.58,566.54L1266.62,565.88L1266.65,565.53L1266.68,567.26L1266.71,571.32L1266.74,576.42L1266.77,579.63L1266.80,581.98L1266.83,579.83L1266.86,573.60L1266.89,571.62L1266.92,568.12L1266.95,567.87L1266.98,570.76L1267.01,572.57L1267.05,576.54L1267.08,580.35L1267.11,584.24L1267.14,589.19L1267.17,590.42L1267.20,589.13L1267.23,583.16L1267.26,576.15L1267.29,572.38L1267.32,567.58L1267.35,566.92L1267.38,567.23L1267.41,565.99L1267.44,569.73L1267.47,572.90L1267.50,570.90L1267.53,571.20L1267.56,566.47L1267.59,561.43L1267.63,561.69L1267.66,561.21L1267.69,563.44L1267.72,565.87L1267.75,569.32L1267.78,572.76L1267.81,574.98L1267.84,577.21L1267.87,575.64L1267.90,574.31L1267.93,573.35L1267.96,573.48L1267.99,573.57L1268.02,573.30L1268.05,573.65L1268.08,570.94L1268.11,571.48L1268.14,572.34L1268.17,572.62L1268.20,578.23L1268.23,582.11L1268.26,582.22L1268.29,582.54L1268.32,580.55L1268.35,575.90L1268.38,576.72L1268.41,575.80L1268.44,572.29L1268.47,572.33L1268.50,569.97L1268.53,569.28L1268.56,571.82L1268.59,573.81L1268.62,578.43L1268.65,583.01L1268.68,583.90L1268.71,581.92L1268.74,579.13L1268.77,577.91L1268.80,579.57L1268.83,587.21L1268.86,590.77L1268.89,592.96L1268.92,593.71L1268.95,587.72L1268.98,587.98L1269.01,588.56L1269.04,589.10L1269.07,593.39L1269.10,595.38L1269.13,594.57L1269.16,593.41L1269.19,589.80L1269.22,584.87L1269.25,579.11L1269.28,573.52L1269.31,571.28L1269.34,569.86L1269.37,573.72L1269.40,579.06L1269.43,577.49L1269.46,574.55L1269.49,567.55L1269.52,559.39L1269.55,558.87L1269.58,561.49L1269.61,567.89L1269.64,577.16L1269.67,578.52L1269.69,577.19L1269.72,572.22L1269.75,569.43L1269.78,572.12L1269.81,574.49L1269.84,577.64L1269.87,577.70L1269.90,575.72L1269.93,574.87L1269.96,573.12L1269.99,572.55L1270.02,572.68L1270.05,570.24L1270.08,570.88L1270.11,570.81L1270.14,569.15L1270.17,569.10L1270.20,565.15L1270.23,562.91L1270.25,561.40L1270.28,562.59L1270.31,567.61L1270.34,571.39L1270.37,576.97L1270.40,580.66L1270.43,580.93L1270.46,582.54L1270.49,582.44L1270.52,580.50L1270.55,583.18L1270.58,586.23L1270.61,588.37L1270.64,592.59L1270.67,593.59L1270.69,593.76L1270.72,594.89L1270.75,593.07L1270.78,589.94L1270.81,585.85L1270.84,581.94L1270.87,580.21L1270.90,578.63L1270.93,578.82L1270.96,576.97L1270.99,576.22L1271.01,572.57L1271.04,567.71L1271.07,566.03L1271.10,563.06L1271.13,564.68L1271.16,567.08L1271.19,569.06L1271.22,572.85L1271.25,574.19L1271.28,573.96L1271.31,570.55L1271.33,565.18L1271.36,563.79L1271.39,564.90L1271.42,571.28L1271.45,580.20L1271.48,582.74L1271.51,584.75L1271.54,583.37L1271.57,580.78L1271.59,585.31L1271.62,587.45L1271.65,589.01L1271.68,589.13L1271.71,584.82L1271.74,584.43L1271.77,583.75L1271.80,590.28L1271.82,597.88L1271.85,601.68L1271.88,604.60L1271.91,597.89L1271.94,589.64L1271.97,583.24L1272.00,579.47L1272.03,578.62L1272.05,580.72L1272.08,582.10L1272.11,581.32L1272.14,577.96L1272.17,574.42L1272.20,571.69L1272.23,572.03L1272.26,574.72L1272.28,573.64L1272.31,576.41L1272.34,576.42L1272.37,574.73L1272.40,579.40L1272.43,580.53L1272.46,581.31L1272.48,582.48L1272.51,577.64L1272.54,572.70L1272.57,571.61L1272.60,572.38L1272.63,574.94L1272.66,577.34L1272.68,574.16L1272.71,570.86L1272.74,570.49L1272.77,569.73L1272.80,573.30L1272.83,572.86L1272.85,571.12L1272.88,568.98L1272.91,565.62L1272.94,568.43L1272.97,572.00L1273.00,579.01L1273.02,585.48L1273.05,586.78L1273.08,585.09L1273.11,584.29L1273.14,582.85L1273.17,581.01L1273.19,581.58L1273.22,580.79L1273.25,585.64L1273.28,592.98L1273.31,596.34L1273.34,594.92L1273.36,587.82L1273.39,582.08L1273.42,580.00L1273.45,581.04L1273.48,584.02L1273.50,586.45L1273.53,589.31L1273.56,591.84L1273.59,593.81L1273.62,595.43L1273.64,593.15L1273.67,593.04L1273.70,593.57L1273.73,592.49L1273.76,592.26L1273.79,589.29L1273.81,583.90L1273.84,581.14L1273.87,577.12L1273.90,574.94L1273.93,574.84L1273.95,572.82L1273.98,573.80L1274.01,571.59L1274.04,568.10L1274.07,564.52L1274.09,563.18L1274.12,564.30L1274.15,567.73L1274.18,574.35L1274.20,577.74L1274.23,579.36L1274.26,579.79L1274.29,579.28L1274.32,579.41L1274.34,583.10L1274.37,583.47L1274.40,584.05L1274.43,583.32L1274.46,581.34L1274.48,581.81L1274.51,579.24L1274.54,580.10L1274.57,575.50L1274.59,572.16L1274.62,572.93L1274.65,570.15L1274.68,573.54L1274.71,575.98L1274.73,577.02L1274.76,579.51L1274.79,579.07L1274.82,580.48L1274.84,576.52L1274.87,574.39L1274.90,573.33L1274.93,571.68L1274.95,575.99L1274.98,580.45L1275.01,586.86L1275.04,591.11L1275.06,591.20L1275.09,589.37L1275.12,584.79L1275.15,580.72L1275.18,578.81L1275.20,576.72L1275.23,573.69L1275.26,574.71L1275.29,577.84L1275.31,583.40L1275.34,592.53L1275.37,596.20L1275.40,594.96L1275.42,590.18L1275.45,583.39L1275.48,582.69L1275.50,581.19L1275.53,580.79L1275.56,584.00L1275.59,582.14L1275.61,585.23L1275.64,588.58L1275.67,588.24L1275.70,589.91L1275.72,587.91L1275.75,586.64L1275.78,585.96L1275.81,584.09L1275.83,582.75L1275.86,582.18L1275.89,583.54L1275.92,585.78L1275.94,584.87L1275.97,581.89L1276.00,576.19L1276.02,572.33L1276.05,568.38L1276.08,566.17L1276.11,566.41L1276.13,566.80L1276.16,572.83L1276.19,578.10L1276.21,580.75L1276.24,580.38L1276.27,578.00L1276.30,576.58L1276.32,578.33L1276.35,581.50L1276.38,581.59L1276.40,582.02L1276.43,580.73L1276.46,580.55L1276.49,583.10L1276.51,585.45L1276.54,588.01L1276.57,588.37L1276.59,585.82L1276.62,582.15L1276.65,578.21L1276.68,577.01L1276.70,578.79L1276.73,582.08L1276.76,584.89L1276.78,586.17L1276.81,585.04L1276.84,582.51L1276.86,583.18L1276.89,580.41L1276.92,577.99L1276.94,575.80L1276.97,570.43L1277.00,570.41L1277.03,570.67L1277.05,572.03L1277.08,577.58L1277.11,582.33L1277.13,585.06L1277.16,589.28L1277.19,587.97L1277.21,582.08L1277.24,578.52L1277.27,572.51L1277.29,567.74L1277.32,567.11L1277.35,568.84L1277.37,572.21L1277.40,579.30L1277.43,585.56L1277.45,586.48L1277.48,584.88" fill="none" stroke="#8b4513" stroke-width="2.08" stroke-linejoin="round" clip-path="url(#cA3)"/><path d="M696.90,392.00L722.14,392.27L724.70,392.30L752.40,393.90L753.13,393.85L775.12,392.20L777.80,392.00L792.18,391.79L805.60,391.60L806.12,391.58L817.90,391.12L828.10,390.72L828.70,390.70L837.11,391.71L837.90,391.80L844.80,390.40L845.16,390.47L851.80,391.80L852.45,391.90L859.10,392.91L861.00,393.20L865.21,393.20L870.88,393.20L876.15,393.20L879.50,393.20L881.09,393.44L885.72,394.14L888.80,394.60L890.09,394.82L894.22,395.54L898.00,396.20L898.14,396.22L901.87,396.84L905.43,397.43L908.82,397.99L911.90,398.50L912.08,398.53L915.20,399.07L918.20,399.59L921.08,400.10L921.10,400.10L923.86,400.66L926.54,401.21L929.13,401.74L930.40,402.00L931.64,402.46L934.07,403.36L936.42,404.22L938.70,405.07L939.60,405.40L940.92,405.90L943.07,406.72L945.16,407.52L947.20,408.29L948.80,408.90L949.19,408.97L951.12,409.30L953.01,409.62L954.85,409.94L956.65,410.25L958.10,410.50L958.41,410.62L960.13,413.06L961.81,413.94L963.45,413.58L965.06,415.76L966.64,414.43L968.18,413.42L969.69,415.19L971.18,414.51L972.63,413.94L974.06,414.34L975.46,419.14L976.84,416.94L978.19,418.43L979.52,418.64L980.83,420.41L982.12,420.53L983.38,420.73L984.62,420.23L985.84,420.38L987.05,421.49L988.23,422.99L989.40,425.31L990.55,424.66L991.68,426.10L992.80,425.22L993.90,425.17L994.98,424.38L996.05,426.40L997.11,424.59L998.15,427.17L999.17,429.83L1000.18,428.90L1001.18,430.18L1002.17,428.91L1003.14,428.21L1004.10,429.59L1005.05,430.06L1005.99,432.20L1006.92,433.42L1007.83,430.80L1008.74,431.58L1009.63,432.18L1010.52,432.31L1011.39,431.68L1012.25,433.49L1013.11,434.13L1013.95,434.50L1014.79,433.09L1015.61,434.62L1016.43,433.16L1017.24,436.40L1018.04,434.60L1018.83,435.74L1019.62,435.86L1020.39,436.07L1021.16,435.90L1021.92,435.48L1022.67,439.69L1023.42,438.41L1024.16,438.77L1024.89,441.13L1025.61,439.05L1026.33,440.11L1027.04,439.86L1027.75,441.47L1028.45,441.05L1029.14,441.17L1029.82,440.86L1030.50,441.77L1031.18,443.06L1031.84,439.81L1032.51,442.26L1033.16,442.25L1033.81,442.69L1034.46,441.15L1035.10,444.42L1035.73,442.99L1036.36,443.96L1036.98,443.95L1037.60,442.96L1038.22,444.60L1038.83,443.35L1039.43,444.62L1040.03,445.65L1040.62,446.34L1041.21,446.76L1041.80,446.90L1042.38,449.75L1042.96,448.22L1043.53,446.74L1044.10,447.75L1044.66,448.04L1045.22,448.90L1045.78,448.77L1046.33,448.82L1046.88,451.90L1047.42,450.46L1047.96,450.37L1048.50,450.78L1049.03,451.14L1049.56,453.23L1050.09,452.53L1050.61,453.56L1051.13,449.20L1051.64,453.30L1052.15,454.41L1052.66,455.72L1053.17,453.88L1053.67,452.26L1054.16,455.10L1054.66,454.08L1055.15,453.07L1055.64,454.65L1056.12,456.78L1056.61,457.23L1057.09,456.99L1057.56,455.33L1058.04,459.53L1058.51,455.76L1058.97,457.24L1059.44,456.01L1059.90,459.30L1060.36,458.59L1060.82,459.32L1061.27,458.68L1061.72,458.75L1062.17,459.26L1062.61,457.22L1063.06,460.63L1063.50,460.78L1063.94,459.57L1064.37,460.22L1064.80,460.80L1065.23,462.43L1065.66,461.40L1066.09,461.20L1066.51,460.82L1066.93,459.95L1067.35,461.17L1067.77,462.13L1068.18,461.99L1068.60,462.58L1069.00,463.53L1069.41,463.41L1069.82,463.45L1070.22,464.08L1070.62,463.78L1071.02,463.75L1071.42,464.52L1071.81,462.31L1072.21,465.80L1072.60,463.21L1072.99,465.76L1073.37,465.06L1073.76,466.47L1074.14,465.49L1074.52,464.62L1074.90,467.04L1075.28,466.26L1075.66,466.39L1076.03,466.55L1076.40,467.76L1076.77,467.75L1077.14,467.30L1077.51,465.54L1077.87,467.00L1078.23,467.75L1078.60,469.80L1078.96,468.44L1079.31,468.11L1079.67,469.71L1080.02,468.45L1080.38,468.71L1080.73,469.09L1081.08,467.45L1081.43,470.32L1081.77,469.91L1082.12,469.30L1082.46,468.53L1082.80,470.19L1083.14,471.66L1083.48,469.59L1083.82,469.29L1084.16,471.09L1084.49,469.04L1084.82,468.52L1085.16,470.64L1085.49,470.53L1085.82,471.15L1086.14,471.01L1086.47,472.14L1086.79,471.70L1087.12,471.44L1087.44,471.76L1087.76,473.12L1088.08,473.63L1088.40,473.73L1088.71,473.66L1089.03,469.43L1089.34,472.11L1089.65,473.02L1089.97,473.75L1090.28,471.90L1090.58,475.39L1090.89,474.32L1091.20,473.45L1091.50,474.47L1091.81,474.06L1092.11,473.75L1092.41,475.30L1092.71,474.39L1093.01,473.48L1093.31,474.49L1093.61,475.21L1093.90,474.29L1094.20,477.02L1094.49,474.58L1094.78,477.85L1095.07,477.05L1095.36,475.17L1095.65,476.50L1095.94,477.80L1096.23,476.43L1096.51,475.47L1096.80,477.05L1097.08,479.26L1097.36,475.57L1097.64,477.96L1097.93,477.50L1098.20,477.50L1098.48,477.34L1098.76,477.55L1099.04,479.18L1099.31,478.84L1099.59,477.24L1099.86,480.20L1100.13,477.22L1100.40,479.52L1100.68,479.15L1100.94,480.42L1101.21,479.64L1101.48,480.56L1101.75,479.52L1102.01,480.77L1102.28,480.23L1102.54,482.36L1102.81,479.38L1103.07,481.61L1103.33,480.95L1103.59,480.78L1103.85,480.11L1104.11,481.37L1104.37,479.40L1104.62,479.66L1104.88,482.10L1105.13,479.75L1105.39,483.18L1105.64,481.44L1105.89,482.16L1106.15,482.11L1106.40,482.63L1106.65,482.00L1106.90,482.04L1107.15,482.45L1107.39,483.88L1107.64,484.11L1107.89,484.41L1108.13,483.54L1108.38,483.06L1108.62,481.57L1108.86,484.26L1109.11,484.61L1109.35,483.38L1109.59,484.85L1109.83,485.51L1110.07,484.33L1110.31,485.53L1110.54,484.84L1110.78,482.72L1111.02,484.24L1111.25,484.44L1111.49,485.61L1111.72,484.21L1111.95,484.81L1112.19,484.36L1112.42,485.51L1112.65,485.76L1112.88,486.88L1113.11,486.82L1113.34,486.25L1113.57,486.46L1113.80,486.44L1114.02,486.58L1114.25,488.28L1114.48,483.97L1114.70,486.64L1114.93,487.30L1115.15,488.33L1115.37,486.01L1115.60,487.72L1115.82,488.41L1116.04,487.09L1116.26,485.61L1116.48,487.43L1116.70,486.63L1116.92,488.79L1117.13,487.26L1117.35,490.28L1117.57,488.60L1117.79,487.68L1118.00,488.13L1118.22,487.60L1118.43,489.34L1118.64,490.67L1118.86,488.90L1119.07,490.27L1119.28,488.33L1119.49,489.81L1119.70,492.12L1119.91,488.15L1120.12,491.16L1120.33,491.21L1120.54,487.96L1120.75,488.56L1120.96,489.17L1121.16,491.42L1121.37,489.99L1121.58,490.39L1121.78,491.46L1121.99,490.92L1122.19,491.15L1122.39,490.65L1122.60,492.35L1122.80,490.36L1123.00,493.17L1123.20,491.06L1123.40,490.66L1123.60,492.35L1123.80,492.24L1124.00,489.67L1124.20,492.20L1124.40,490.58L1124.60,491.25L1124.80,493.14L1124.99,491.43L1125.19,492.87L1125.38,492.16L1125.58,494.81L1125.77,492.68L1125.97,491.59L1126.16,491.77L1126.36,492.09L1126.55,493.33L1126.74,493.29L1126.93,494.46L1127.12,493.68L1127.31,493.74L1127.50,494.05L1127.69,493.65L1127.88,494.21L1128.07,494.85L1128.26,494.95L1128.45,493.59L1128.64,492.34L1128.82,493.50L1129.01,494.80L1129.20,491.85L1129.38,494.16L1129.57,495.27L1129.75,494.26L1129.94,493.74L1130.12,497.00L1130.30,496.69L1130.49,494.98L1130.67,496.81L1130.85,496.88L1131.03,494.31L1131.22,498.59L1131.40,494.71L1131.58,495.54L1131.76,494.72L1131.94,496.11L1132.12,494.67L1132.29,496.20L1132.47,497.49L1132.65,496.63L1132.83,496.20L1133.01,498.28L1133.18,495.69L1133.36,497.83L1133.53,496.53L1133.71,497.19L1133.89,497.08L1134.06,497.28L1134.23,497.17L1134.41,496.46L1134.58,496.79L1134.76,497.99L1134.93,497.47L1135.10,496.40L1135.27,497.00L1135.44,497.10L1135.61,497.89L1135.79,498.24L1135.96,498.23L1136.13,497.50L1136.30,498.33L1136.47,496.89L1136.63,495.31L1136.80,498.51L1136.97,496.84L1137.14,497.71L1137.31,497.51L1137.47,499.61L1137.64,497.68L1137.81,499.40L1137.97,498.65L1138.14,497.91L1138.30,497.62L1138.47,499.95L1138.63,499.95L1138.80,500.46L1138.96,501.71L1139.12,500.08L1139.29,500.18L1139.45,499.82L1139.61,500.15L1139.77,499.74L1139.94,499.22L1140.10,502.48L1140.26,498.33L1140.42,500.74L1140.58,501.03L1140.74,500.79L1140.90,499.65L1141.06,500.58L1141.22,500.37L1141.38,499.77L1141.54,500.99L1141.69,500.67L1141.85,500.60L1142.01,502.04L1142.17,500.20L1142.32,501.93L1142.48,500.86L1142.64,502.08L1142.79,501.77L1142.95,502.04L1143.10,500.79L1143.26,501.11L1143.41,501.11L1143.57,502.34L1143.72,503.06L1143.87,503.52L1144.03,501.88L1144.18,502.62L1144.33,500.84L1144.48,500.27L1144.64,501.85L1144.79,502.16L1144.94,501.28L1145.09,501.13L1145.24,503.76L1145.39,502.38L1145.54,501.51L1145.69,505.99L1145.84,503.73L1145.99,503.28L1146.14,504.46L1146.29,502.98L1146.44,505.64L1146.59,502.30L1146.74,502.65L1146.88,504.02L1147.03,503.42L1147.18,505.90L1147.32,502.68L1147.47,503.73L1147.62,504.88L1147.76,505.32L1147.91,505.90L1148.05,505.26L1148.20,507.39L1148.34,504.54L1148.49,505.34L1148.63,506.18L1148.78,504.98L1148.92,505.09L1149.06,504.99L1149.21,504.88L1149.35,504.44L1149.49,505.15L1149.64,504.15L1149.78,506.35L1149.92,504.28L1150.06,508.37L1150.20,508.06L1150.34,507.49L1150.49,506.14L1150.63,505.81L1150.77,507.88L1150.91,506.82L1151.05,507.32L1151.19,506.01L1151.33,508.05L1151.46,506.09L1151.60,507.17L1151.74,505.24L1151.88,506.50L1152.02,507.86L1152.16,506.90L1152.29,506.99L1152.43,508.42L1152.57,507.56L1152.71,509.09L1152.84,505.16L1152.98,508.52L1153.11,508.53L1153.25,506.37L1153.39,506.72L1153.52,509.19L1153.66,507.14L1153.79,507.70L1153.93,509.13L1154.06,508.20L1154.19,509.16L1154.33,507.77L1154.46,509.13L1154.60,510.07L1154.73,509.33L1154.86,506.65L1155.00,509.85L1155.13,509.28L1155.26,508.30L1155.39,510.90L1155.52,507.55L1155.66,511.59L1155.79,508.93L1155.92,511.43L1156.05,509.73L1156.18,508.41L1156.31,510.05L1156.44,510.39L1156.57,510.70L1156.70,511.35L1156.83,509.28L1156.96,510.88L1157.09,511.23L1157.22,510.20L1157.35,509.56L1157.48,509.61L1157.60,511.56L1157.73,511.69L1157.86,509.99L1157.99,509.51L1158.12,512.41L1158.24,509.43L1158.37,511.39L1158.50,510.41L1158.62,509.44L1158.75,511.58L1158.88,511.31L1159.00,513.18L1159.13,514.16L1159.25,511.55L1159.38,512.95L1159.50,513.05L1159.63,511.41L1159.75,511.11L1159.88,513.90L1160.00,511.82L1160.13,512.26L1160.25,512.05L1160.37,512.30L1160.50,511.86L1160.62,513.42L1160.74,514.05L1160.87,512.34L1160.99,511.31L1161.11,512.96L1161.24,511.35L1161.36,512.35L1161.48,514.47L1161.60,515.74L1161.72,513.69L1161.84,512.18L1161.97,514.28L1162.09,511.04L1162.21,512.81L1162.33,515.32L1162.45,514.54L1162.57,512.29L1162.69,512.05L1162.81,514.88L1162.93,513.97L1163.05,513.44L1163.17,514.62L1163.29,513.61L1163.41,512.21L1163.52,515.27L1163.64,513.75L1163.76,513.43L1163.88,513.15L1164.00,514.95L1164.12,513.87L1164.23,515.51L1164.35,514.60L1164.47,516.15L1164.59,514.62L1164.70,514.40L1164.82,513.03L1164.94,514.05L1165.05,516.12L1165.17,518.74L1165.28,514.10L1165.40,514.41L1165.52,515.98L1165.63,516.21L1165.75,515.02L1165.86,515.91L1165.98,514.14L1166.09,515.64L1166.21,517.03L1166.32,517.90L1166.44,516.00L1166.55,515.97L1166.66,516.82L1166.78,517.60L1166.89,517.00L1167.00,515.71L1167.12,516.99L1167.23,517.73L1167.34,515.96L1167.46,515.35L1167.57,517.44L1167.68,517.35L1167.79,518.08L1167.91,517.19L1168.02,516.45L1168.13,516.75L1168.24,516.17L1168.35,516.33L1168.47,516.82L1168.58,516.97L1168.69,518.79L1168.80,516.30L1168.91,517.66L1169.02,517.13L1169.13,519.47L1169.24,518.20L1169.35,517.57L1169.46,518.94L1169.57,518.19L1169.68,517.66L1169.79,519.93L1169.90,519.10L1170.01,520.28L1170.12,519.72L1170.22,519.37L1170.33,518.74L1170.44,517.47L1170.55,519.50L1170.66,518.87L1170.77,519.60L1170.87,518.92L1170.98,518.24L1171.09,517.96L1171.20,519.89L1171.30,520.61L1171.41,518.94L1171.52,519.82L1171.63,520.90L1171.73,518.54L1171.84,519.15L1171.95,518.36L1172.05,520.94L1172.16,520.01L1172.26,519.28L1172.37,518.04L1172.47,519.72L1172.58,521.07L1172.69,519.72L1172.79,519.65L1172.90,520.88L1173.00,518.89L1173.11,520.36L1173.21,521.03L1173.31,519.58L1173.42,519.59L1173.52,520.84L1173.63,520.52L1173.73,520.44L1173.84,520.98L1173.94,521.07L1174.04,519.88L1174.15,520.22L1174.25,521.50L1174.35,522.30L1174.45,522.62L1174.56,520.28L1174.66,522.46L1174.76,522.16L1174.87,521.36L1174.97,521.99L1175.07,522.43L1175.17,523.54L1175.27,520.50L1175.38,522.37L1175.48,521.62L1175.58,521.61L1175.68,523.15L1175.78,522.86L1175.88,520.92L1175.98,521.78L1176.08,522.40L1176.18,520.67L1176.28,523.22L1176.38,522.25L1176.49,522.58L1176.59,522.83L1176.69,524.49L1176.79,522.62L1176.88,522.26L1176.98,524.60L1177.08,522.22L1177.18,522.26L1177.28,521.38L1177.38,524.13L1177.48,523.31L1177.58,523.59L1177.68,523.32L1177.78,523.05L1177.87,522.40L1177.97,522.47L1178.07,523.85L1178.17,523.57L1178.27,525.28L1178.37,522.73L1178.46,523.09L1178.56,522.57L1178.66,525.24L1178.76,522.46L1178.85,524.70L1178.95,525.49L1179.05,523.83L1179.14,524.83L1179.24,521.79L1179.34,523.74L1179.43,522.42L1179.53,524.47L1179.63,524.35L1179.72,523.56L1179.82,525.49L1179.91,524.90L1180.01,524.01L1180.10,524.06L1180.20,523.05L1180.30,524.49L1180.39,527.04L1180.49,524.00L1180.58,525.27L1180.68,524.25L1180.77,525.76L1180.87,525.41L1180.96,524.71L1181.05,523.07L1181.15,524.49L1181.24,526.39L1181.34,524.86L1181.43,525.85L1181.52,524.68L1181.62,523.21L1181.71,525.74L1181.81,525.67L1181.90,524.73L1181.99,524.99L1182.09,525.75L1182.18,524.83L1182.27,525.89L1182.36,525.33L1182.46,523.02L1182.55,525.47L1182.64,525.01L1182.73,524.79L1182.83,526.18L1182.92,525.25L1183.01,526.40L1183.10,527.04L1183.19,526.05L1183.29,524.25L1183.38,525.17L1183.47,527.00L1183.56,525.76L1183.65,525.20L1183.74,526.02L1183.83,526.70L1183.92,526.48L1184.02,526.93L1184.11,525.37L1184.20,526.01L1184.29,526.07L1184.38,526.36L1184.47,524.14L1184.56,526.20L1184.65,525.04L1184.74,528.04L1184.83,528.26L1184.92,528.43L1185.01,527.52L1185.10,526.15L1185.19,527.76L1185.28,526.54L1185.37,527.46L1185.45,525.85L1185.54,526.23L1185.63,527.41L1185.72,528.87L1185.81,526.95L1185.90,529.46L1185.99,530.05L1186.08,525.69L1186.16,527.09L1186.25,526.12L1186.34,527.05L1186.43,526.65L1186.52,527.20L1186.60,528.35L1186.69,528.36L1186.78,527.66L1186.87,527.42L1186.95,527.58L1187.04,527.63L1187.13,528.15L1187.22,527.56L1187.30,528.14L1187.39,526.21L1187.48,528.53L1187.56,529.60L1187.65,527.94L1187.74,526.24L1187.82,529.28L1187.91,527.49L1188.00,524.63L1188.08,527.68L1188.17,528.61L1188.25,528.41L1188.34,529.37L1188.43,528.74L1188.51,528.23L1188.60,525.98L1188.68,526.95L1188.77,528.40L1188.85,528.97L1188.94,527.15L1189.02,527.64L1189.11,528.85L1189.19,526.30L1189.28,526.29L1189.36,528.20L1189.45,528.76L1189.53,528.00L1189.62,526.06L1189.70,528.61L1189.78,527.18L1189.87,529.37L1189.95,528.58L1190.04,529.01L1190.12,529.46L1190.20,528.22L1190.29,529.73L1190.37,530.22L1190.45,529.33L1190.54,530.38L1190.62,528.29L1190.70,530.00L1190.79,529.33L1190.87,528.00L1190.95,529.02L1191.04,528.56L1191.12,528.57L1191.20,529.30L1191.28,530.40L1191.37,528.93L1191.45,529.45L1191.53,527.75L1191.61,529.49L1191.70,530.67L1191.78,530.33L1191.86,530.00L1191.94,528.94L1192.02,528.49L1192.11,529.48L1192.19,528.16L1192.27,528.30L1192.35,530.71L1192.43,528.72L1192.51,531.71L1192.59,528.23L1192.67,530.28L1192.76,528.57L1192.84,530.07L1192.92,528.78L1193.00,529.99L1193.08,529.81L1193.16,529.52L1193.24,530.61L1193.32,531.73L1193.40,529.47L1193.48,531.11L1193.56,530.27L1193.64,530.18L1193.72,532.64L1193.80,527.92L1193.88,529.57L1193.96,528.37L1194.04,530.04L1194.12,530.16L1194.20,534.60L1194.28,530.85L1194.36,532.47L1194.44,531.96L1194.52,530.10L1194.60,531.13L1194.67,532.46L1194.75,530.86L1194.83,530.93L1194.91,531.29L1194.99,529.13L1195.07,529.92L1195.15,531.20L1195.23,531.46L1195.30,529.90L1195.38,530.58L1195.46,530.83L1195.54,530.83L1195.62,531.78L1195.69,531.18L1195.77,531.27L1195.85,529.58L1195.93,530.01L1196.01,531.54L1196.08,529.49L1196.16,531.56L1196.24,530.58L1196.32,530.46L1196.39,532.09L1196.47,530.68L1196.55,530.52L1196.62,530.76L1196.70,531.60L1196.78,534.57L1196.85,529.30L1196.93,531.63L1197.01,531.42L1197.08,532.76L1197.16,531.36L1197.24,529.10L1197.31,533.28L1197.39,530.68L1197.47,531.85L1197.54,530.45L1197.62,530.79L1197.69,531.48L1197.77,533.00L1197.85,533.02L1197.92,531.48L1198.00,532.72L1198.07,531.80L1198.15,532.37L1198.22,532.45L1198.30,533.00L1198.37,531.69L1198.45,532.25L1198.52,532.67L1198.60,532.57L1198.67,531.64L1198.75,534.43L1198.82,532.08L1198.90,533.45L1198.97,532.88L1199.05,534.03L1199.12,530.34L1199.20,535.01L1199.27,532.57L1199.35,531.50L1199.42,533.02L1199.49,535.38L1199.57,533.51L1199.64,531.64L1199.72,532.52L1199.79,534.52L1199.86,531.57L1199.94,532.94L1200.01,532.85L1200.09,535.58L1200.16,532.93L1200.23,534.72L1200.31,532.58L1200.38,532.48L1200.45,534.49L1200.53,534.11L1200.60,531.58L1200.67,534.20L1200.74,534.24L1200.82,532.90L1200.89,533.85L1200.96,533.94L1201.04,533.15L1201.11,533.08L1201.18,533.02L1201.25,533.50L1201.33,532.38L1201.40,533.82L1201.47,532.27L1201.54,534.02L1201.61,533.88L1201.69,532.88L1201.76,534.97L1201.83,536.19L1201.90,535.56L1201.97,532.66L1202.05,535.58L1202.12,534.46L1202.19,534.20L1202.26,533.64L1202.33,534.32L1202.40,535.88L1202.48,535.00L1202.55,533.98L1202.62,533.74L1202.69,534.05L1202.76,535.18L1202.83,536.62L1202.90,533.46L1202.97,534.65L1203.04,534.26L1203.11,533.90L1203.18,535.19L1203.26,535.39L1203.33,533.28L1203.40,533.73L1203.47,536.20L1203.54,535.28L1203.61,535.54L1203.68,534.45L1203.75,534.62L1203.82,535.57L1203.89,534.56L1203.96,533.93L1204.03,535.18L1204.10,536.20L1204.17,534.12L1204.24,536.43L1204.31,536.08L1204.38,534.41L1204.45,535.39L1204.52,535.37L1204.58,536.15L1204.65,536.22L1204.72,534.10L1204.79,534.09L1204.86,536.71L1204.93,535.75L1205.00,536.12L1205.07,536.06L1205.14,537.40L1205.21,534.45L1205.28,536.99L1205.34,534.94L1205.41,536.66L1205.48,537.36L1205.55,534.43L1205.62,536.41L1205.69,535.70L1205.75,535.72L1205.82,536.12L1205.89,534.96L1205.96,535.09L1206.03,536.89L1206.10,537.13L1206.16,535.63L1206.23,534.69L1206.30,538.83L1206.37,537.54L1206.43,536.77L1206.50,535.29L1206.57,535.81L1206.64,536.75L1206.71,535.47L1206.77,538.29L1206.84,536.73L1206.91,537.04L1206.97,535.53L1207.04,535.70L1207.11,535.86L1207.18,537.05L1207.24,536.50L1207.31,536.50L1207.38,537.19L1207.44,537.13L1207.51,538.53L1207.58,536.74L1207.64,535.89L1207.71,537.01L1207.78,538.64L1207.84,536.48L1207.91,537.17L1207.98,536.76L1208.04,537.62L1208.11,537.50L1208.18,536.37L1208.24,537.04L1208.31,538.34L1208.37,538.54L1208.44,538.38L1208.51,538.35L1208.57,537.09L1208.64,537.09L1208.70,538.52L1208.77,536.28L1208.83,537.52L1208.90,535.60L1208.97,537.24L1209.03,536.92L1209.10,536.41L1209.16,538.37L1209.23,536.98L1209.29,537.41L1209.36,537.56L1209.42,537.08L1209.49,539.45L1209.55,537.41L1209.62,538.19L1209.68,536.59L1209.75,537.53L1209.81,537.72L1209.88,537.77L1209.94,537.50L1210.01,538.32L1210.07,539.88L1210.14,538.09L1210.20,538.11L1210.26,537.87L1210.33,541.07L1210.39,540.10L1210.46,538.99L1210.52,539.19L1210.59,537.69L1210.65,538.32L1210.71,538.75L1210.78,538.68L1210.84,537.66L1210.91,537.78L1210.97,539.21L1211.03,539.02L1211.10,536.44L1211.16,538.85L1211.22,540.15L1211.29,538.11L1211.35,539.10L1211.41,537.30L1211.48,539.80L1211.54,537.73L1211.60,537.62L1211.67,538.66L1211.73,541.59L1211.79,538.40L1211.86,537.73L1211.92,539.62L1211.98,539.41L1212.05,540.98L1212.11,537.85L1212.17,537.53L1212.23,538.94L1212.30,539.72L1212.36,539.73L1212.42,540.55L1212.49,537.80L1212.55,538.55L1212.61,539.33L1212.67,540.41L1212.74,540.05L1212.80,539.11L1212.86,538.50L1212.92,540.58L1212.98,540.68L1213.05,542.62L1213.11,539.53L1213.17,541.50L1213.23,538.48L1213.29,539.23L1213.36,539.12L1213.42,539.38L1213.48,538.96L1213.54,539.35L1213.60,539.91L1213.66,539.51L1213.73,540.74L1213.79,539.97L1213.85,540.09L1213.91,541.71L1213.97,540.49L1214.03,540.35L1214.09,540.19L1214.16,540.31L1214.22,540.89L1214.28,539.44L1214.34,541.57L1214.40,542.06L1214.46,541.64L1214.52,539.90L1214.58,538.74L1214.64,540.02L1214.70,540.69L1214.77,541.44L1214.83,540.38L1214.89,540.28L1214.95,542.28L1215.01,539.95L1215.07,541.85L1215.13,541.71L1215.19,539.33L1215.25,541.09L1215.31,540.22L1215.37,539.83L1215.43,538.89L1215.49,539.22L1215.55,541.39L1215.61,540.55L1215.67,541.30L1215.73,539.89L1215.79,540.72L1215.85,540.80L1215.91,539.46L1215.97,539.36L1216.03,541.66L1216.09,541.37L1216.15,540.24L1216.21,541.16L1216.27,542.02L1216.33,543.31L1216.39,540.40L1216.45,542.06L1216.51,543.70L1216.57,541.52L1216.62,543.06L1216.68,538.72L1216.74,543.10L1216.80,541.56L1216.86,539.58L1216.92,542.47L1216.98,542.79L1217.04,542.99L1217.10,543.01L1217.16,541.71L1217.21,540.97L1217.27,541.31L1217.33,541.80L1217.39,542.30L1217.45,541.37L1217.51,541.97L1217.57,542.90L1217.63,542.33L1217.68,544.48L1217.74,544.37L1217.80,540.83L1217.86,541.48L1217.92,540.71L1217.98,540.90L1218.03,542.77L1218.09,541.14L1218.15,541.11L1218.21,541.98L1218.27,543.17L1218.32,541.95L1218.38,541.97L1218.44,543.38L1218.50,542.93L1218.56,542.94L1218.61,543.50L1218.67,541.41L1218.73,542.76L1218.79,541.88L1218.84,543.70L1218.90,543.50L1218.96,541.52L1219.02,544.12L1219.07,541.44L1219.13,544.00L1219.19,542.98L1219.25,541.85L1219.30,541.61L1219.36,542.52L1219.42,542.85L1219.47,542.14L1219.53,543.54L1219.59,541.45L1219.65,542.98L1219.70,543.02L1219.76,541.02L1219.82,543.41L1219.87,541.74L1219.93,540.43L1219.99,542.50L1220.04,542.94L1220.10,544.20L1220.16,542.72L1220.21,544.87L1220.27,544.86L1220.33,544.51L1220.38,544.79L1220.44,543.77L1220.49,542.81L1220.55,544.14L1220.61,544.52L1220.66,543.76L1220.72,543.26L1220.78,541.86L1220.83,544.32L1220.89,543.99L1220.94,542.23L1221.00,543.77L1221.06,544.48L1221.11,543.60L1221.17,544.60L1221.22,544.60L1221.28,542.20L1221.34,543.51L1221.39,544.39L1221.45,544.88L1221.50,545.45L1221.56,541.86L1221.61,543.90L1221.67,544.78L1221.72,545.36L1221.78,545.89L1221.83,543.07L1221.89,543.71L1221.95,543.00L1222.00,545.06L1222.06,542.76L1222.11,545.51L1222.17,545.27L1222.22,544.81L1222.28,541.95L1222.33,543.60L1222.39,545.17L1222.44,542.85L1222.50,544.15L1222.55,544.33L1222.61,545.44L1222.66,544.80L1222.72,544.82L1222.77,544.07L1222.82,544.58L1222.88,544.46L1222.93,545.42L1222.99,544.47L1223.04,545.81L1223.10,542.87L1223.15,546.05L1223.21,544.58L1223.26,546.02L1223.31,544.91L1223.37,545.78L1223.42,546.50L1223.48,544.30L1223.53,545.02L1223.59,544.77L1223.64,545.21L1223.69,543.25L1223.75,544.85L1223.80,544.80L1223.86,544.24L1223.91,544.91L1223.96,543.47L1224.02,546.69L1224.07,545.69L1224.12,547.27L1224.18,544.30L1224.23,544.01L1224.29,545.61L1224.34,543.52L1224.39,545.61L1224.45,544.62L1224.50,545.05L1224.55,545.72L1224.61,545.52L1224.66,547.52L1224.71,546.21L1224.77,544.14L1224.82,546.64L1224.87,544.14L1224.93,545.72L1224.98,544.30L1225.03,544.78L1225.09,547.13L1225.14,545.13L1225.19,545.06L1225.24,545.17L1225.30,545.47L1225.35,547.40L1225.40,544.58L1225.46,544.54L1225.51,546.54L1225.56,544.21L1225.61,545.57L1225.67,547.22L1225.72,546.02L1225.77,545.52L1225.82,545.30L1225.88,545.10L1225.93,545.48L1225.98,546.29L1226.03,547.52L1226.09,547.25L1226.14,545.61L1226.19,545.45L1226.24,547.03L1226.30,544.33L1226.35,545.85L1226.40,546.00L1226.45,545.17L1226.50,545.32L1226.56,546.80L1226.61,544.65L1226.66,545.48L1226.71,545.80L1226.76,546.61L1226.82,545.06L1226.87,547.76L1226.92,546.27L1226.97,546.34L1227.02,546.26L1227.08,545.94L1227.13,545.64L1227.18,547.97L1227.23,546.97L1227.28,546.66L1227.33,547.88L1227.38,546.05L1227.44,547.53L1227.49,546.90L1227.54,545.93L1227.59,547.75L1227.64,545.33L1227.69,547.68L1227.74,546.04L1227.80,547.47L1227.85,548.55L1227.90,547.69L1227.95,546.45L1228.00,547.09L1228.05,546.75L1228.10,545.90L1228.15,546.00L1228.20,547.27L1228.25,547.83L1228.31,545.36L1228.36,547.22L1228.41,547.87L1228.46,547.46L1228.51,546.28L1228.56,548.51L1228.61,546.10L1228.66,548.14L1228.71,549.20L1228.76,545.28L1228.81,547.79L1228.86,547.88L1228.91,547.81L1228.96,546.76L1229.01,547.28L1229.06,546.13L1229.12,547.80L1229.17,548.27L1229.22,546.99L1229.27,546.73L1229.32,547.25L1229.37,547.78L1229.42,547.87L1229.47,547.72L1229.52,547.93L1229.57,546.47L1229.62,544.96L1229.67,548.60L1229.72,549.49L1229.77,546.45L1229.82,547.29L1229.87,548.35L1229.92,549.08L1229.97,548.78L1230.02,549.48L1230.07,548.07L1230.11,548.60L1230.16,548.62L1230.21,547.74L1230.26,549.52L1230.31,548.92L1230.36,549.33L1230.41,547.88L1230.46,549.44L1230.51,547.21L1230.56,548.80L1230.61,545.58L1230.66,547.33L1230.71,549.24L1230.76,547.99L1230.81,548.68L1230.86,546.77L1230.91,550.21L1230.95,549.21L1231.00,548.56L1231.05,549.07L1231.10,548.99L1231.15,550.19L1231.20,548.92L1231.25,547.13L1231.30,548.46L1231.35,550.15L1231.40,549.40L1231.44,548.36L1231.49,549.49L1231.54,548.99L1231.59,549.54L1231.64,547.20L1231.69,547.97L1231.74,549.68L1231.79,548.74L1231.83,549.39L1231.88,551.14L1231.93,548.72L1231.98,549.34L1232.03,548.50L1232.08,548.46L1232.12,549.07L1232.17,547.61L1232.22,546.94L1232.27,550.69L1232.32,549.14L1232.37,550.48L1232.41,549.43L1232.46,549.48L1232.51,550.07L1232.56,550.14L1232.61,548.10L1232.65,550.72L1232.70,548.40L1232.75,549.68L1232.80,552.24L1232.85,549.60L1232.89,551.33L1232.94,549.19L1232.99,550.25L1233.04,549.67L1233.09,550.08L1233.13,548.74L1233.18,548.70L1233.23,550.07L1233.28,548.05L1233.32,548.85L1233.37,550.47L1233.42,549.14L1233.47,548.87L1233.51,548.66L1233.56,550.03L1233.61,549.51L1233.66,550.08L1233.70,549.74L1233.75,551.96L1233.80,549.52L1233.85,547.91L1233.89,550.16L1233.94,550.07L1233.99,550.25L1234.04,548.39L1234.08,551.35L1234.13,550.12L1234.18,550.13L1234.22,548.51L1234.27,550.74L1234.32,550.18L1234.37,551.72L1234.41,549.85L1234.46,549.00L1234.51,550.48L1234.55,549.39L1234.60,550.84L1234.65,549.26L1234.69,550.30L1234.74,550.22L1234.79,550.45L1234.83,549.96L1234.88,549.66L1234.93,550.49L1234.97,549.96L1235.02,550.77L1235.07,550.33L1235.11,548.25L1235.16,550.61L1235.21,552.18L1235.25,551.04L1235.30,551.38L1235.35,551.25L1235.39,550.29L1235.44,549.39L1235.48,551.70L1235.53,551.98L1235.58,551.49L1235.62,551.36L1235.67,551.35L1235.72,550.92L1235.76,551.27L1235.81,551.01L1235.85,551.37L1235.90,550.04L1235.95,550.40L1235.99,551.69L1236.04,550.75L1236.08,548.56L1236.13,551.29L1236.18,548.75L1236.22,553.23L1236.27,551.99L1236.31,551.96L1236.36,550.57L1236.40,550.10L1236.45,551.10L1236.50,551.36L1236.54,550.55L1236.59,551.56L1236.63,552.14L1236.68,552.07L1236.72,550.36L1236.77,549.19L1236.82,551.51L1236.86,550.83L1236.91,552.02L1236.95,553.31L1237.00,553.33L1237.04,551.92L1237.09,552.81L1237.13,553.40L1237.18,551.74L1237.22,552.00L1237.27,552.64L1237.31,551.72L1237.36,551.26L1237.40,551.02L1237.45,551.84L1237.49,551.20L1237.54,552.72L1237.58,551.55L1237.63,553.46L1237.67,553.22L1237.72,550.66L1237.76,553.13L1237.81,551.59L1237.85,553.48L1237.90,552.60L1237.94,552.04L1237.99,552.81L1238.03,551.54L1238.08,552.50L1238.12,552.58L1238.17,552.04L1238.21,552.63L1238.26,551.20L1238.30,552.85L1238.35,551.02L1238.39,552.97L1238.44,552.83L1238.48,553.10L1238.52,551.80L1238.57,555.59L1238.61,552.19L1238.66,552.61L1238.70,551.69L1238.75,554.00L1238.79,552.03L1238.84,553.59L1238.88,551.58L1238.92,552.92L1238.97,552.23L1239.01,553.61L1239.06,552.36L1239.10,551.78L1239.15,553.18L1239.19,551.48L1239.23,551.75L1239.28,553.58L1239.32,550.84L1239.37,553.62L1239.41,552.43L1239.45,551.91L1239.50,553.15L1239.54,553.57L1239.59,552.33L1239.63,552.78L1239.67,553.82L1239.72,553.79L1239.76,552.97L1239.80,552.25L1239.85,552.09L1239.89,552.48L1239.94,553.83L1239.98,553.74L1240.02,553.48L1240.07,554.64L1240.11,552.90L1240.15,552.84L1240.20,552.85L1240.24,555.27L1240.28,551.16L1240.33,553.63L1240.37,553.81L1240.41,553.43L1240.46,555.82L1240.50,554.63L1240.54,554.24L1240.59,552.53L1240.63,554.00L1240.67,553.12L1240.72,553.57L1240.76,553.76L1240.80,553.07L1240.85,554.25L1240.89,555.31L1240.93,554.71L1240.98,553.89L1241.02,551.68L1241.06,554.83L1241.11,554.85L1241.15,553.55L1241.19,553.28L1241.23,554.48L1241.28,552.98L1241.32,554.67L1241.36,552.74L1241.41,552.93L1241.45,553.92L1241.49,552.42L1241.53,553.95L1241.58,554.52L1241.62,552.63L1241.66,554.97L1241.71,553.46L1241.75,554.63L1241.79,554.30L1241.83,553.63L1241.88,553.59L1241.92,552.38L1241.96,553.45L1242.00,553.39L1242.05,555.91L1242.09,555.29L1242.13,552.84L1242.17,555.10L1242.22,554.53L1242.26,553.93L1242.30,554.82L1242.34,555.18L1242.39,553.80L1242.43,554.12L1242.47,554.60L1242.51,553.43L1242.55,554.66L1242.60,554.41L1242.64,553.81L1242.68,553.67L1242.72,554.87L1242.77,555.48L1242.81,554.94L1242.85,553.74L1242.89,555.41L1242.93,554.84L1242.98,555.29L1243.02,555.90L1243.06,553.80L1243.10,554.60L1243.14,554.15L1243.18,553.89L1243.23,556.87L1243.27,555.80L1243.31,553.03L1243.35,555.31L1243.39,554.32L1243.44,556.10L1243.48,555.02L1243.52,554.78L1243.56,555.12L1243.60,555.39L1243.64,555.05L1243.69,554.81L1243.73,554.92L1243.77,555.61L1243.81,553.94L1243.85,555.12L1243.89,555.02L1243.93,554.67L1243.98,555.94L1244.02,553.88L1244.06,554.85L1244.10,554.37L1244.14,555.83L1244.18,554.81L1244.22,555.36L1244.27,555.73L1244.31,553.71L1244.35,555.84L1244.39,554.63L1244.43,555.15L1244.47,555.32L1244.51,556.29L1244.55,556.23L1244.60,557.31L1244.64,555.70L1244.68,555.05L1244.72,555.04L1244.76,556.25L1244.80,557.25L1244.84,555.97L1244.88,555.05L1244.92,555.94L1244.96,555.94L1245.00,555.74L1245.05,554.96L1245.09,553.14L1245.13,555.21L1245.17,556.87L1245.21,556.02L1245.25,553.56L1245.29,555.85L1245.33,553.97L1245.37,557.93L1245.41,556.10L1245.45,554.69L1245.49,556.77L1245.53,555.16L1245.58,556.56L1245.62,556.03L1245.66,554.82L1245.70,556.73L1245.74,554.69L1245.78,557.47L1245.82,556.17L1245.86,555.07L1245.90,554.28L1245.94,557.82L1245.98,557.66L1246.02,554.90L1246.06,557.90L1246.10,556.39L1246.14,556.01L1246.18,556.17L1246.22,556.00L1246.26,557.76L1246.30,556.46L1246.34,554.43L1246.38,558.49L1246.42,557.26L1246.46,555.25L1246.50,556.02L1246.54,555.47L1246.58,556.47L1246.62,556.84L1246.66,556.70L1246.70,555.85L1246.74,555.66L1246.78,557.37L1246.82,556.41L1246.86,558.84L1246.90,555.72L1246.94,557.37L1246.98,556.63L1247.02,555.82L1247.06,558.01L1247.10,556.76L1247.14,555.73L1247.18,556.33L1247.22,557.72L1247.26,555.44L1247.30,558.13L1247.34,557.43L1247.38,556.46L1247.42,558.15L1247.46,558.57L1247.50,557.41L1247.54,556.98L1247.58,558.72L1247.62,558.38L1247.66,555.90L1247.70,556.66L1247.74,556.67L1247.77,556.48L1247.81,555.38L1247.85,557.86L1247.89,557.04L1247.93,557.07L1247.97,558.43L1248.01,556.42L1248.05,556.96L1248.09,557.31L1248.13,556.60L1248.17,556.95L1248.21,557.87L1248.25,557.09L1248.29,558.48L1248.32,556.35L1248.36,557.35L1248.40,555.69L1248.44,557.05L1248.48,556.47L1248.52,558.61L1248.56,557.99L1248.60,557.76L1248.64,559.16L1248.68,558.76L1248.71,558.03L1248.75,556.59L1248.79,555.82L1248.83,557.30L1248.87,556.98L1248.91,556.70L1248.95,557.08L1248.99,555.68L1249.03,558.96L1249.06,556.25L1249.10,556.75L1249.14,558.05L1249.18,555.79L1249.22,558.45L1249.26,558.48L1249.30,557.20L1249.34,556.42L1249.37,557.06L1249.41,555.65L1249.45,559.03L1249.49,557.66L1249.53,556.85L1249.57,556.69L1249.61,558.24L1249.64,559.23L1249.68,556.36L1249.72,557.10L1249.76,555.88L1249.80,558.43L1249.84,557.91L1249.87,560.11L1249.91,557.65L1249.95,557.34L1249.99,557.07L1250.03,558.71L1250.07,556.14L1250.10,558.63L1250.14,558.12L1250.18,557.36L1250.22,556.96L1250.26,559.01L1250.29,559.87L1250.33,557.48L1250.37,558.51L1250.41,559.79L1250.45,557.34L1250.49,557.74L1250.52,556.75L1250.56,557.88L1250.60,557.97L1250.64,557.63L1250.68,557.31L1250.71,556.45L1250.75,556.71L1250.79,557.11L1250.83,558.82L1250.86,557.63L1250.90,557.29L1250.94,558.88L1250.98,558.80L1251.02,557.43L1251.05,557.58L1251.09,558.94L1251.13,558.65L1251.17,557.41L1251.20,558.55L1251.24,558.28L1251.28,559.50L1251.32,557.44L1251.36,559.28L1251.39,558.83L1251.43,557.33L1251.47,559.51L1251.51,559.37L1251.54,557.06L1251.58,560.53L1251.62,557.27L1251.66,557.52L1251.69,558.16L1251.73,559.32L1251.77,559.14L1251.81,558.44L1251.84,559.99L1251.88,559.00L1251.92,560.06L1251.95,561.57L1251.99,558.82L1252.03,555.93L1252.07,558.17L1252.10,557.53L1252.14,558.78L1252.18,558.80L1252.22,557.42L1252.25,557.51L1252.29,558.46L1252.33,558.55L1252.36,556.02L1252.40,559.82L1252.44,558.83L1252.48,558.81L1252.51,559.15L1252.55,557.76L1252.59,558.81L1252.62,559.98L1252.66,560.03L1252.70,559.40L1252.73,558.63L1252.77,558.06L1252.81,560.36L1252.85,559.52L1252.88,558.53L1252.92,556.69L1252.96,558.09L1252.99,556.97L1253.03,560.37L1253.07,559.26L1253.10,558.28L1253.14,558.79L1253.18,561.88L1253.21,560.42L1253.25,557.69L1253.29,559.01L1253.32,557.84L1253.36,557.33L1253.40,559.38L1253.43,561.80L1253.47,560.90L1253.51,559.28L1253.54,558.85L1253.58,559.48L1253.62,560.39L1253.65,557.72L1253.69,557.30L1253.73,561.35L1253.76,559.64L1253.80,561.09L1253.84,559.63L1253.87,560.98L1253.91,558.74L1253.94,559.95L1253.98,561.11L1254.02,560.55L1254.05,558.96L1254.09,560.44L1254.13,558.77L1254.16,557.96L1254.20,560.09L1254.23,561.05L1254.27,560.47L1254.31,558.20L1254.34,560.52L1254.38,560.33L1254.42,559.11L1254.45,556.92L1254.49,560.74L1254.52,560.62L1254.56,560.21L1254.60,557.79L1254.63,558.07L1254.67,560.81L1254.70,560.60L1254.74,560.28L1254.78,559.48L1254.81,560.20L1254.85,559.19L1254.88,559.46L1254.92,558.86L1254.96,560.11L1254.99,559.38L1255.03,560.90L1255.06,560.66L1255.10,559.00L1255.13,561.91L1255.17,558.69L1255.21,560.42L1255.24,561.13L1255.28,561.36L1255.31,557.55L1255.35,561.08L1255.39,561.34L1255.42,561.59L1255.46,557.59L1255.49,559.30L1255.53,559.95L1255.56,559.58L1255.60,561.56L1255.63,559.36L1255.67,561.46L1255.71,560.75L1255.74,558.55L1255.78,559.07L1255.81,559.66L1255.85,560.30L1255.88,561.29L1255.92,560.02L1255.95,561.23L1255.99,558.52L1256.02,556.91L1256.06,559.90L1256.10,560.79L1256.13,559.91L1256.17,559.21L1256.20,560.80L1256.24,562.47L1256.27,560.25L1256.31,559.58L1256.34,559.46L1256.38,562.57L1256.41,560.37L1256.45,561.11L1256.48,561.79L1256.52,561.65L1256.55,559.46L1256.59,561.54L1256.62,561.43L1256.66,561.06L1256.69,561.64L1256.73,559.93L1256.76,560.48L1256.80,560.00L1256.83,561.42L1256.87,559.89L1256.90,561.05L1256.94,559.43L1256.97,560.51L1257.01,560.26L1257.04,560.55L1257.08,560.84L1257.11,560.50L1257.15,560.48L1257.18,558.46L1257.22,561.96L1257.25,560.08L1257.29,560.51L1257.32,559.88L1257.36,561.90L1257.39,559.82L1257.43,561.39L1257.46,562.14L1257.50,562.67L1257.53,562.18L1257.57,561.57L1257.60,559.59L1257.64,562.34L1257.67,562.24L1257.70,561.87L1257.74,561.84L1257.77,561.06L1257.81,560.42L1257.84,562.19L1257.88,562.42L1257.91,559.89L1257.95,562.05L1257.98,561.33L1258.02,562.05L1258.05,561.39L1258.08,562.33L1258.12,562.25L1258.15,562.11L1258.19,559.64L1258.22,562.07L1258.26,561.24L1258.29,559.96L1258.33,561.99L1258.36,559.73L1258.39,562.22L1258.43,563.11L1258.46,560.72L1258.50,562.29L1258.53,561.79L1258.57,562.03L1258.60,559.85L1258.63,562.01L1258.67,561.50L1258.70,562.18L1258.74,561.40L1258.77,562.60L1258.80,561.72L1258.84,562.17L1258.87,562.94L1258.91,561.66L1258.94,562.56L1258.97,561.74L1259.01,562.07L1259.04,560.94L1259.08,562.38L1259.11,562.88L1259.14,561.47L1259.18,562.44L1259.21,562.06L1259.25,560.40L1259.28,562.00L1259.31,563.07L1259.35,561.12L1259.38,559.73L1259.42,561.90L1259.45,560.99L1259.48,563.76L1259.52,561.67L1259.55,561.73L1259.59,561.06L1259.62,562.03L1259.65,561.16L1259.69,560.81L1259.72,561.73L1259.75,560.94L1259.79,563.26L1259.82,560.58L1259.86,561.78L1259.89,561.13L1259.92,560.39L1259.96,563.70L1259.99,559.64L1260.02,563.50L1260.06,560.41L1260.09,562.05L1260.12,564.41L1260.16,559.68L1260.19,560.51L1260.22,563.42L1260.26,562.21L1260.29,561.45L1260.32,562.01L1260.36,561.02L1260.39,562.21L1260.43,563.70L1260.46,561.69L1260.49,562.27L1260.53,563.43L1260.56,564.29L1260.59,561.52L1260.63,562.50L1260.66,561.58L1260.69,561.50L1260.73,561.78L1260.76,561.54L1260.79,560.37L1260.82,560.11L1260.86,561.48L1260.89,562.42L1260.92,563.60L1260.96,561.74L1260.99,562.14L1261.02,563.05L1261.06,563.15L1261.09,562.24L1261.12,562.32L1261.16,564.41L1261.19,562.04L1261.22,561.89L1261.26,560.68L1261.29,562.91L1261.32,562.17L1261.35,564.53L1261.39,562.12L1261.42,563.37L1261.45,563.51L1261.49,564.30L1261.52,561.12L1261.55,564.23L1261.59,562.58L1261.62,562.46L1261.65,562.26L1261.68,562.18L1261.72,562.25L1261.75,560.12L1261.78,563.19L1261.82,562.72L1261.85,561.65L1261.88,562.61L1261.91,565.17L1261.95,563.12L1261.98,562.31L1262.01,564.58L1262.04,561.89L1262.08,562.60L1262.11,562.18L1262.14,562.53L1262.18,563.59L1262.21,563.44L1262.24,562.04L1262.27,562.70L1262.31,562.95L1262.34,562.43L1262.37,562.84L1262.40,562.12L1262.44,562.12L1262.47,562.97L1262.50,561.82L1262.53,563.39L1262.57,562.75L1262.60,561.98L1262.63,562.33L1262.66,562.49L1262.70,562.84L1262.73,563.15L1262.76,562.81L1262.79,562.12L1262.83,564.60L1262.86,564.04L1262.89,563.21L1262.92,564.12L1262.96,563.47L1262.99,562.85L1263.02,563.23L1263.05,566.00L1263.08,564.23L1263.12,564.29L1263.15,562.77L1263.18,563.85L1263.21,565.63L1263.25,563.69L1263.28,564.39L1263.31,564.60L1263.34,563.96L1263.37,564.97L1263.41,563.54L1263.44,563.84L1263.47,562.65L1263.50,566.15L1263.53,563.67L1263.57,563.48L1263.60,564.86L1263.63,562.87L1263.66,563.40L1263.69,562.58L1263.73,563.45L1263.76,563.03L1263.79,564.03L1263.82,563.33L1263.85,562.84L1263.89,563.18L1263.92,563.38L1263.95,562.97L1263.98,564.53L1264.01,564.26L1264.05,563.71L1264.08,562.30L1264.11,564.13L1264.14,562.23L1264.17,563.80L1264.21,563.67L1264.24,563.01L1264.27,562.76L1264.30,562.92L1264.33,565.86L1264.36,563.40L1264.40,563.48L1264.43,564.73L1264.46,564.17L1264.49,564.86L1264.52,562.44L1264.55,562.60L1264.59,567.31L1264.62,563.74L1264.65,563.49L1264.68,563.98L1264.71,564.88L1264.74,562.58L1264.78,564.15L1264.81,563.83L1264.84,564.59L1264.87,564.07L1264.90,563.34L1264.93,563.00L1264.96,561.34L1265.00,564.98L1265.03,562.40L1265.06,563.54L1265.09,565.74L1265.12,563.55L1265.15,564.65L1265.18,563.79L1265.22,564.77L1265.25,564.07L1265.28,563.52L1265.31,565.50L1265.34,563.80L1265.37,562.68L1265.40,563.76L1265.44,564.69L1265.47,562.95L1265.50,564.98L1265.53,564.97L1265.56,566.42L1265.59,563.50L1265.62,564.90L1265.65,562.44L1265.69,563.78L1265.72,564.34L1265.75,564.68L1265.78,564.20L1265.81,564.18L1265.84,563.64L1265.87,563.83L1265.90,564.63L1265.93,564.91L1265.97,565.01L1266.00,565.40L1266.03,565.62L1266.06,562.47L1266.09,563.83L1266.12,564.23L1266.15,563.73L1266.18,565.53L1266.21,565.23L1266.24,564.33L1266.28,564.59L1266.31,565.81L1266.34,564.12L1266.37,564.17L1266.40,565.47L1266.43,565.02L1266.46,566.03L1266.49,564.94L1266.52,565.35L1266.55,564.00L1266.58,563.60L1266.62,564.59L1266.65,561.81L1266.68,565.05L1266.71,565.66L1266.74,564.73L1266.77,564.43L1266.80,565.82L1266.83,564.64L1266.86,565.73L1266.89,567.02L1266.92,565.49L1266.95,565.73L1266.98,565.27L1267.01,565.03L1267.05,565.06L1267.08,564.86L1267.11,565.94L1267.14,563.11L1267.17,564.54L1267.20,565.53L1267.23,563.96L1267.26,564.75L1267.29,564.14L1267.32,565.35L1267.35,565.81L1267.38,566.44L1267.41,565.45L1267.44,564.18L1267.47,565.21L1267.50,565.56L1267.53,566.46L1267.56,562.73L1267.59,565.39L1267.63,563.09L1267.66,565.78L1267.69,565.50L1267.72,565.57L1267.75,565.99L1267.78,565.48L1267.81,564.41L1267.84,565.47L1267.87,566.37L1267.90,565.00L1267.93,565.16L1267.96,563.87L1267.99,566.38L1268.02,564.64L1268.05,564.40L1268.08,564.73L1268.11,564.30L1268.14,564.96L1268.17,566.57L1268.20,566.08L1268.23,566.75L1268.26,566.83L1268.29,564.34L1268.32,565.80L1268.35,566.88L1268.38,567.73L1268.41,563.84L1268.44,563.85L1268.47,565.85L1268.50,565.01L1268.53,564.34L1268.56,565.79L1268.59,564.58L1268.62,563.03L1268.65,565.40L1268.68,565.57L1268.71,566.12L1268.74,566.45L1268.77,565.67L1268.80,565.24L1268.83,564.80L1268.86,563.78L1268.89,565.06L1268.92,566.58L1268.95,566.23L1268.98,567.71L1269.01,565.41L1269.04,563.71L1269.07,566.46L1269.10,566.70L1269.13,564.39L1269.16,563.94L1269.19,565.80L1269.22,566.40L1269.25,564.49L1269.28,565.32L1269.31,564.87L1269.34,564.46L1269.37,564.33L1269.40,565.87L1269.43,565.35L1269.46,565.04L1269.49,563.02L1269.52,567.61L1269.55,564.79L1269.58,565.65L1269.61,564.61L1269.64,566.22L1269.67,564.25L1269.69,565.94L1269.72,565.66L1269.75,566.83L1269.78,564.73L1269.81,565.21L1269.84,565.65L1269.87,568.11L1269.90,564.38L1269.93,566.24L1269.96,565.26L1269.99,566.29L1270.02,566.66L1270.05,566.13L1270.08,566.27L1270.11,566.30L1270.14,565.40L1270.17,565.80L1270.20,564.30L1270.23,565.68L1270.25,565.26L1270.28,565.81L1270.31,566.86L1270.34,566.50L1270.37,566.60L1270.40,567.28L1270.43,563.63L1270.46,566.60L1270.49,566.13L1270.52,566.07L1270.55,564.81L1270.58,566.77L1270.61,567.41L1270.64,567.29L1270.67,566.14L1270.69,566.91L1270.72,567.22L1270.75,568.18L1270.78,567.56L1270.81,566.43L1270.84,566.40L1270.87,566.48L1270.90,566.56L1270.93,565.81L1270.96,567.15L1270.99,565.63L1271.01,565.53L1271.04,566.75L1271.07,565.79L1271.10,566.15L1271.13,564.23L1271.16,567.26L1271.19,566.43L1271.22,566.31L1271.25,566.95L1271.28,566.69L1271.31,565.75L1271.33,568.60L1271.36,566.03L1271.39,567.54L1271.42,568.45L1271.45,565.89L1271.48,566.65L1271.51,565.71L1271.54,567.68L1271.57,566.24L1271.59,565.45L1271.62,567.99L1271.65,567.59L1271.68,565.70L1271.71,567.89L1271.74,566.86L1271.77,569.52L1271.80,568.48L1271.82,566.11L1271.85,566.42L1271.88,565.80L1271.91,566.87L1271.94,566.79L1271.97,567.52L1272.00,566.85L1272.03,565.23L1272.05,565.93L1272.08,568.28L1272.11,568.02L1272.14,566.65L1272.17,566.69L1272.20,566.67L1272.23,566.88L1272.26,565.10L1272.28,567.82L1272.31,566.20L1272.34,567.06L1272.37,564.26L1272.40,567.17L1272.43,568.34L1272.46,564.60L1272.48,568.55L1272.51,567.47L1272.54,566.21L1272.57,565.33L1272.60,568.23L1272.63,567.29L1272.66,567.65L1272.68,566.76L1272.71,566.21L1272.74,567.98L1272.77,566.07L1272.80,568.03L1272.83,565.34L1272.85,566.14L1272.88,565.60L1272.91,568.51L1272.94,565.30L1272.97,565.96L1273.00,567.86L1273.02,567.42L1273.05,569.49L1273.08,569.14L1273.11,567.86L1273.14,567.95L1273.17,565.32L1273.19,566.32L1273.22,566.91L1273.25,567.08L1273.28,565.84L1273.31,566.31L1273.34,566.41L1273.36,568.43L1273.39,567.78L1273.42,566.99L1273.45,567.06L1273.48,567.67L1273.50,566.64L1273.53,567.11L1273.56,565.59L1273.59,568.11L1273.62,568.43L1273.64,567.81L1273.67,567.94L1273.70,567.84L1273.73,569.61L1273.76,567.69L1273.79,566.10L1273.81,566.40L1273.84,568.26L1273.87,568.64L1273.90,568.34L1273.93,568.43L1273.95,567.75L1273.98,566.00L1274.01,566.83L1274.04,565.68L1274.07,567.19L1274.09,566.18L1274.12,567.72L1274.15,567.45L1274.18,565.59L1274.20,568.43L1274.23,568.47L1274.26,566.21L1274.29,567.84L1274.32,568.46L1274.34,567.40L1274.37,568.63L1274.40,567.93L1274.43,568.88L1274.46,567.95L1274.48,567.59L1274.51,568.32L1274.54,568.61L1274.57,568.06L1274.59,567.33L1274.62,566.99L1274.65,567.44L1274.68,567.24L1274.71,568.07L1274.73,568.04L1274.76,567.78L1274.79,567.88L1274.82,568.08L1274.84,569.56L1274.87,569.19L1274.90,567.32L1274.93,568.39L1274.95,567.60L1274.98,567.86L1275.01,567.71L1275.04,567.32L1275.06,566.55L1275.09,565.40L1275.12,568.23L1275.15,569.28L1275.18,567.08L1275.20,568.58L1275.23,567.65L1275.26,568.37L1275.29,567.23L1275.31,567.85L1275.34,567.99L1275.37,565.59L1275.40,568.35L1275.42,567.99L1275.45,565.51L1275.48,568.85L1275.50,568.13L1275.53,568.39L1275.56,568.57L1275.59,567.76L1275.61,567.07L1275.64,567.75L1275.67,567.78L1275.70,570.60L1275.72,570.21L1275.75,567.75L1275.78,567.84L1275.81,568.63L1275.83,568.90L1275.86,567.57L1275.89,567.25L1275.92,570.39L1275.94,569.46L1275.97,566.70L1276.00,566.48L1276.02,567.49L1276.05,568.62L1276.08,568.98L1276.11,568.04L1276.13,566.69L1276.16,568.66L1276.19,569.08L1276.21,568.45L1276.24,567.93L1276.27,569.08L1276.30,568.42L1276.32,567.29L1276.35,568.60L1276.38,567.13L1276.40,569.55L1276.43,569.03L1276.46,567.48L1276.49,568.78L1276.51,569.90L1276.54,566.28L1276.57,568.44L1276.59,570.36L1276.62,566.95L1276.65,568.44L1276.68,567.11L1276.70,568.57L1276.73,566.08L1276.76,566.93L1276.78,568.10L1276.81,568.83L1276.84,569.10L1276.86,569.16L1276.89,569.95L1276.92,569.48L1276.94,569.53L1276.97,567.70L1277.00,568.59L1277.03,572.19L1277.05,571.22L1277.08,569.69L1277.11,569.60L1277.13,569.88L1277.16,568.39L1277.19,570.95L1277.21,568.45L1277.24,568.77L1277.27,571.22L1277.29,566.64L1277.32,569.28L1277.35,567.05L1277.37,568.21L1277.40,568.83L1277.43,568.56L1277.45,569.14L1277.48,568.13" fill="none" stroke="#808080" stroke-width="1.39" stroke-dasharray="5.1 2.2" clip-path="url(#cA3)"/><path d="M67.5,10.5V269.5M1084.5,10.5V269.5M67.5,10.5H1084.5M67.5,269.5H1084.5" stroke="#000" stroke-width="1.11" fill="none" stroke-linecap="square"/><path d="M113.50,269.5v4.86M243.50,269.5v4.86M372.50,269.5v4.86M501.50,269.5v4.86M630.50,269.5v4.86M760.50,269.5v4.86M889.50,269.5v4.86M1018.50,269.5v4.86" stroke="#000" stroke-width="1.11"/><text x="113.00" y="289.90" text-anchor="middle" font-size="13.89" >0</text><text x="242.32" y="289.90" text-anchor="middle" font-size="13.89" >200</text><text x="371.64" y="289.90" text-anchor="middle" font-size="13.89" >400</text><text x="500.96" y="289.90" text-anchor="middle" font-size="13.89" >600</text><text x="630.28" y="289.90" text-anchor="middle" font-size="13.89" >800</text><text x="759.60" y="289.90" text-anchor="middle" font-size="13.89" >1000</text><text x="888.92" y="289.90" text-anchor="middle" font-size="13.89" >1200</text><text x="1018.24" y="289.90" text-anchor="middle" font-size="13.89" >1400</text><path d="M67.5,30.50h-4.86M67.5,77.50h-4.86M67.5,123.50h-4.86M67.5,170.50h-4.86M67.5,216.50h-4.86M67.5,263.50h-4.86" stroke="#000" stroke-width="1.11"/><text x="57.20" y="35.90" text-anchor="end" font-size="13.89" >3.0</text><text x="57.20" y="82.49" text-anchor="end" font-size="13.89" >3.5</text><text x="57.20" y="129.08" text-anchor="end" font-size="13.89" >4.0</text><text x="57.20" y="175.67" text-anchor="end" font-size="13.89" >4.5</text><text x="57.20" y="222.26" text-anchor="end" font-size="13.89" >5.0</text><text x="57.20" y="268.85" text-anchor="end" font-size="13.89" >5.5</text><text x="575.60" y="308.90" text-anchor="middle" font-size="13.89" >Age [ka BP]</text><text transform="translate(23.9,139.7) rotate(-90)" text-anchor="middle" font-size="13.89"><tspan font-style="italic">δ</tspan><tspan font-size="9.7" dy="-5">18</tspan><tspan dy="5">O [‰]</tspan></text><rect x="852.5" y="236.5" width="225" height="25.7" rx="2.8" fill="#fff" fill-opacity="0.8" stroke="#ccc" stroke-width="1.1"/><path d="M857,248.1H885.8" stroke="#8b4513" stroke-width="2.1"/><circle cx="871.4" cy="248.2" r="4.7" fill="#8b4513"/><text x="896.20" y="253.00" text-anchor="start" font-size="13.89" >Benthic foram composite</text><path d="M1084.5,10.5V269.5M1277.5,10.5V269.5M1084.5,10.5H1277.5M1084.5,269.5H1277.5" stroke="#000" stroke-width="1.11" fill="none" stroke-linecap="square"/><path d="M1084.50,269.5v4.86M1162.50,269.5v4.86M1240.50,269.5v4.86" stroke="#000" stroke-width="1.11"/><text x="1083.80" y="289.90" text-anchor="middle" font-size="13.89" >0</text><text x="1161.90" y="289.90" text-anchor="middle" font-size="13.89" >200</text><text x="1240.00" y="289.90" text-anchor="middle" font-size="13.89" >400</text><text x="1181.00" y="308.90" text-anchor="middle" font-size="13.89" >Counts</text><path d="M696.5,367.5V626.5M1277.5,367.5V626.5M696.5,367.5H1277.5M696.5,626.5H1277.5" stroke="#000" stroke-width="1.11" fill="none" stroke-linecap="square"/><path d="M696.50,626.5v4.86M749.50,626.5v4.86M819.50,626.5v4.86M872.50,626.5v4.86M925.50,626.5v4.86M995.50,626.5v4.86M1048.50,626.5v4.86M1101.50,626.5v4.86M1171.50,626.5v4.86M1224.50,626.5v4.86M1277.50,626.5v4.86" stroke="#000" stroke-width="1.11"/><text x="695.80" y="646.50" text-anchor="middle" font-size="13.89" >1000</text><text x="748.78" y="646.50" text-anchor="middle" font-size="13.89" >500</text><text x="818.82" y="646.50" text-anchor="middle" font-size="13.89" >200</text><text x="871.80" y="646.50" text-anchor="middle" font-size="13.89" >100</text><text x="924.78" y="646.50" text-anchor="middle" font-size="13.89" >50</text><text x="994.82" y="646.50" text-anchor="middle" font-size="13.89" >20</text><text x="1047.80" y="646.50" text-anchor="middle" font-size="13.89" >10</text><text x="1100.78" y="646.50" text-anchor="middle" font-size="13.89" >5</text><text x="1170.82" y="646.50" text-anchor="middle" font-size="13.89" >2</text><text x="1223.80" y="646.50" text-anchor="middle" font-size="13.89" >1</text><text x="1276.78" y="646.50" text-anchor="middle" font-size="13.89" >0.5</text><path d="M788.50,626.5v2.78M766.50,626.5v2.78M735.50,626.5v2.78M723.50,626.5v2.78M713.50,626.5v2.78M704.50,626.5v2.78M964.50,626.5v2.78M942.50,626.5v2.78M911.50,626.5v2.78M899.50,626.5v2.78M889.50,626.5v2.78M880.50,626.5v2.78M1140.50,626.5v2.78M1118.50,626.5v2.78M1087.50,626.5v2.78M1075.50,626.5v2.78M1065.50,626.5v2.78M1056.50,626.5v2.78M1263.50,626.5v2.78M1251.50,626.5v2.78M1241.50,626.5v2.78M1232.50,626.5v2.78" stroke="#000" stroke-width="0.83"/><path d="M696.5,618.50h-4.86M696.5,569.50h-4.86M696.5,520.50h-4.86M696.5,471.50h-4.86M696.5,422.50h-4.86M696.5,373.50h-4.86" stroke="#000" stroke-width="1.11"/><path d="M696.5,626.50h-2.78M696.5,623.50h-2.78M696.5,620.50h-2.78M696.5,603.50h-2.78M696.5,595.50h-2.78M696.5,588.50h-2.78M696.5,584.50h-2.78M696.5,580.50h-2.78M696.5,577.50h-2.78M696.5,574.50h-2.78M696.5,571.50h-2.78M696.5,554.50h-2.78M696.5,546.50h-2.78M696.5,539.50h-2.78M696.5,535.50h-2.78M696.5,531.50h-2.78M696.5,528.50h-2.78M696.5,525.50h-2.78M696.5,522.50h-2.78M696.5,505.50h-2.78M696.5,497.50h-2.78M696.5,490.50h-2.78M696.5,486.50h-2.78M696.5,482.50h-2.78M696.5,479.50h-2.78M696.5,476.50h-2.78M696.5,473.50h-2.78M696.5,456.50h-2.78M696.5,448.50h-2.78M696.5,441.50h-2.78M696.5,437.50h-2.78M696.5,433.50h-2.78M696.5,430.50h-2.78M696.5,427.50h-2.78M696.5,424.50h-2.78M696.5,407.50h-2.78M696.5,399.50h-2.78M696.5,392.50h-2.78M696.5,388.50h-2.78M696.5,384.50h-2.78M696.5,381.50h-2.78M696.5,378.50h-2.78M696.5,375.50h-2.78" stroke="#000" stroke-width="0.83"/><text x="686" y="625.00" text-anchor="end" font-size="13.89">10<tspan font-size="9.7" dy="-5.2">−3</tspan></text><text x="686" y="576.00" text-anchor="end" font-size="13.89">10<tspan font-size="9.7" dy="-5.2">−2</tspan></text><text x="686" y="527.00" text-anchor="end" font-size="13.89">10<tspan font-size="9.7" dy="-5.2">−1</tspan></text><text x="686" y="478.00" text-anchor="end" font-size="13.89">10<tspan font-size="9.7" dy="-5.2">0</tspan></text><text x="686" y="429.00" text-anchor="end" font-size="13.89">10<tspan font-size="9.7" dy="-5.2">1</tspan></text><text x="686" y="380.00" text-anchor="end" font-size="13.89">10<tspan font-size="9.7" dy="-5.2">2</tspan></text><text x="986.80" y="666.60" text-anchor="middle" font-size="13.89" >Period [ka]</text><text transform="translate(644.9,499.4) rotate(-90)" text-anchor="middle" font-size="13.89">PSD</text><rect x="703.5" y="573.3" width="330" height="45.8" rx="2.8" fill="#fff" fill-opacity="0.8" stroke="#ccc" stroke-width="1.1"/><path d="M708,584.1H738" stroke="#8b4513" stroke-width="2.1"/><path d="M708,605.2H738" stroke="#808080" stroke-width="1.4" stroke-dasharray="5.2 2.2"/><text x="748.20" y="589.80" text-anchor="start" font-size="13.89" >Benthic foram composite</text><text x="748.20" y="610.80" text-anchor="start" font-size="13.89" >AR(1) simulations (MoM), 95% threshold</text></svg></body></html>
